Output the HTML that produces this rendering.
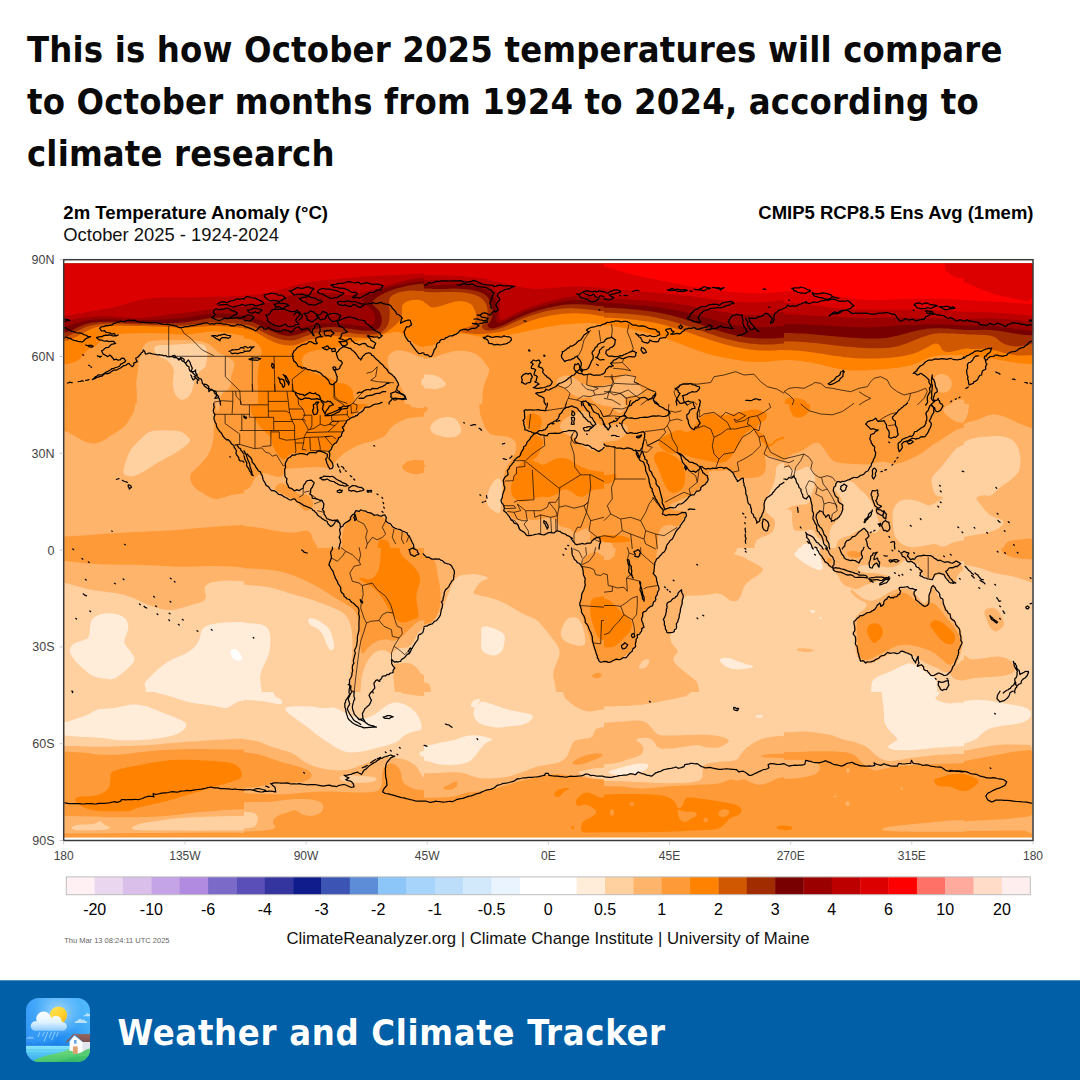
<!DOCTYPE html>
<html lang="en">
<head>
<meta charset="utf-8">
<title>Weather and Climate Tracker</title>
<style>
*{box-sizing:border-box;margin:0;padding:0}
html,body{width:1080px;height:1080px;overflow:hidden;background:#fff}
body{position:relative;font-family:"Liberation Sans",sans-serif;color:#000}
.headline{position:absolute;left:27px;top:23.6px;width:1040px;font-family:"DejaVu Sans Condensed","DejaVu Sans","Liberation Sans",sans-serif;font-weight:bold;font-size:36px;line-height:52px;letter-spacing:0.17px;color:#0a0a0a;white-space:nowrap}
.chart{position:absolute;left:0;top:190px;width:1080px;height:790px}
.chart svg{position:absolute;left:0;top:-190px}
.footer{position:absolute;left:0;top:980px;width:1080px;height:100px;background:#005fa6;border-top:1px solid #4d8fc0}
.footer .brand{position:absolute;left:117.5px;top:25.5px;letter-spacing:0.7px;font-family:"DejaVu Sans Condensed","DejaVu Sans","Liberation Sans",sans-serif;font-weight:bold;font-size:36px;line-height:52px;color:#fff;white-space:nowrap}
.footer svg{position:absolute;left:26px;top:17.3px}
</style>
</head>
<body>
<div class="headline">This is how October 2025 temperatures will compare<br>to October months from 1924 to 2024, according to<br>climate research</div>
<div class="chart">
<svg width="1080" height="1080" viewBox="0 0 1080 1080" font-family="Liberation Sans, sans-serif">
<defs>
<clipPath id="mapclip"><rect x="64.3" y="263.8" width="968" height="573.4"/></clipPath>
</defs>
<defs><clipPath id="c00"><rect x="64" y="260" width="180" height="144"/></clipPath><clipPath id="c01"><rect x="244" y="260" width="180" height="144"/></clipPath><clipPath id="c02"><rect x="424" y="260" width="180" height="144"/></clipPath><clipPath id="c03"><rect x="604" y="260" width="180" height="144"/></clipPath><clipPath id="c04"><rect x="784" y="260" width="180" height="144"/></clipPath><clipPath id="c05"><rect x="964" y="260" width="116" height="144"/></clipPath><clipPath id="c10"><rect x="64" y="404" width="180" height="144"/></clipPath><clipPath id="c11"><rect x="244" y="404" width="180" height="144"/></clipPath><clipPath id="c12"><rect x="424" y="404" width="180" height="144"/></clipPath><clipPath id="c13"><rect x="604" y="404" width="180" height="144"/></clipPath><clipPath id="c14"><rect x="784" y="404" width="180" height="144"/></clipPath><clipPath id="c15"><rect x="964" y="404" width="116" height="144"/></clipPath><clipPath id="c20"><rect x="64" y="548" width="180" height="144"/></clipPath><clipPath id="c21"><rect x="244" y="548" width="180" height="144"/></clipPath><clipPath id="c22"><rect x="424" y="548" width="180" height="144"/></clipPath><clipPath id="c23"><rect x="604" y="548" width="180" height="144"/></clipPath><clipPath id="c24"><rect x="784" y="548" width="180" height="144"/></clipPath><clipPath id="c25"><rect x="964" y="548" width="116" height="144"/></clipPath><clipPath id="c30"><rect x="64" y="692" width="180" height="154"/></clipPath><clipPath id="c31"><rect x="244" y="692" width="180" height="154"/></clipPath><clipPath id="c32"><rect x="424" y="692" width="180" height="154"/></clipPath><clipPath id="c33"><rect x="604" y="692" width="180" height="154"/></clipPath><clipPath id="c34"><rect x="784" y="692" width="180" height="154"/></clipPath><clipPath id="c35"><rect x="964" y="692" width="116" height="154"/></clipPath></defs>
<g clip-path="url(#mapclip)">
<rect x="60" y="258" width="980" height="585" fill="#ffb46c"/>
<g clip-path="url(#c00)">
<rect x="64" y="260" width="180" height="154" fill="#ff9a38"/>
<path d="M20.7,272.2 20.7,309.2 23.4,336.9 28.8,355.4 36.9,364.7 47.8,364.7 56.5,364.5 63.2,364.3 67.8,363.9 70.2,363.3 72.5,362.6 74.6,361.9 76.5,360.9 78.2,359.9 79.6,358.8 80.9,357.7 81.9,356.5 82.8,355.2 83.7,354.0 84.7,352.7 85.9,351.5 87.1,350.2 88.5,349.2 89.9,348.3 91.5,347.7 93.2,347.3 94.7,346.7 96.0,345.8 97.2,344.8 98.3,343.5 99.3,342.3 100.4,341.0 101.4,339.8 102.4,338.5 103.8,337.4 105.6,336.5 107.8,335.7 110.2,335.1 113.2,334.6 116.5,334.2 120.2,333.9 124.4,333.6 128.6,333.5 132.8,333.3 136.9,333.2 141.1,333.1 145.5,333.1 150.0,333.1 154.8,333.1 159.8,333.2 164.4,333.4 168.6,333.6 172.3,334.0 175.7,334.4 179.2,334.6 183.0,334.6 186.9,334.4 191.1,334.0 195.2,333.5 199.4,333.0 203.6,332.4 207.8,331.8 211.9,331.5 216.1,331.5 220.2,331.8 224.4,332.4 228.4,333.0 232.1,333.6 235.7,334.3 239.0,334.9 244.2,335.4 251.3,335.7 260.2,335.8 271.1,335.8 279.2,328.4 284.6,313.5 287.3,291.1 287.3,261.4 270.7,239.0 237.3,224.1 187.3,216.7 120.7,216.7 70.7,225.9 37.3,244.4Z" fill="#ff8200"/>
<path d="M20.7,263.5 20.7,294.8 23.4,318.2 28.8,333.9 36.9,341.7 47.8,341.7 56.5,341.5 63.2,341.0 67.8,340.4 70.2,339.6 72.6,338.6 74.9,337.6 77.1,336.5 79.2,335.2 81.3,334.0 83.4,332.9 85.5,331.8 87.5,330.7 89.5,329.8 91.4,329.0 93.2,328.2 94.8,327.6 96.7,327.1 98.8,326.7 101.1,326.4 103.6,326.1 106.9,326.0 111.1,325.9 116.1,325.8 121.9,325.8 127.5,325.9 133.0,325.9 138.2,326.0 143.2,326.1 148.0,326.3 152.5,326.4 156.9,326.5 161.1,326.5 165.0,326.7 168.8,326.9 172.3,327.2 175.7,327.5 179.2,327.7 183.0,327.7 186.9,327.5 191.1,327.2 195.2,326.9 199.4,326.6 203.6,326.4 207.8,326.1 211.9,326.0 216.1,326.0 220.2,326.1 224.4,326.4 228.4,326.6 232.1,326.9 235.7,327.3 239.0,327.7 244.2,328.0 251.3,328.2 260.2,328.3 271.1,328.3 279.2,321.4 284.6,307.4 287.3,286.5 287.3,258.5 270.7,237.6 237.3,223.6 187.3,216.7 120.7,216.7 70.7,224.5 37.3,240.1Z" fill="#d05800"/>
<path d="M20.7,262.0 20.7,292.2 23.4,314.8 28.8,329.9 36.9,337.5 47.8,337.5 56.4,337.3 62.9,336.9 67.1,336.2 69.2,335.4 71.3,334.5 73.4,333.4 75.5,332.3 77.5,331.0 79.6,329.9 81.7,328.9 83.8,327.9 85.9,327.1 88.0,326.4 90.0,325.7 92.1,325.2 94.2,324.8 96.8,324.4 99.9,324.1 103.6,323.7 107.8,323.4 111.9,323.3 116.1,323.3 120.2,323.4 124.4,323.7 128.8,324.0 133.4,324.2 138.2,324.4 143.2,324.5 148.0,324.6 152.5,324.8 156.9,324.9 161.1,325.1 165.0,325.2 168.8,325.4 172.3,325.5 175.7,325.6 179.2,325.6 183.0,325.5 186.9,325.2 191.1,324.8 195.2,324.3 199.4,323.9 203.6,323.4 207.8,322.8 211.9,322.5 216.1,322.3 220.2,322.4 224.4,322.6 228.4,322.9 232.1,323.2 235.7,323.4 239.0,323.7 244.2,323.9 251.3,324.1 260.2,324.2 271.1,324.2 279.2,317.4 284.6,304.0 287.3,283.9 287.3,257.0 270.7,236.8 237.3,223.4 187.3,216.7 120.7,216.7 70.7,224.2 37.3,239.3Z" fill="#a02c00"/>
<path d="M20.7,260.4 20.7,289.6 23.4,311.5 28.8,326.0 36.9,333.3 47.8,333.3 56.4,333.1 62.9,332.7 67.1,332.1 69.2,331.2 71.3,330.4 73.4,329.4 75.5,328.4 77.5,327.4 79.6,326.4 81.7,325.6 83.8,324.8 85.9,324.1 88.0,323.5 90.0,323.0 92.1,322.6 94.2,322.4 96.8,322.2 99.9,322.0 103.6,321.9 107.8,321.8 111.9,321.8 116.1,321.8 120.2,322.0 124.4,322.2 128.8,322.4 133.4,322.5 138.2,322.7 143.2,322.8 148.0,322.9 152.5,323.0 156.9,323.0 161.1,323.0 165.0,323.0 168.8,323.0 172.3,323.0 175.7,323.0 179.2,322.8 183.0,322.5 186.9,322.0 191.1,321.3 195.2,320.7 199.4,320.0 203.6,319.3 207.8,318.6 211.9,318.1 216.1,317.8 220.2,317.8 224.4,318.0 228.4,318.3 232.1,318.6 235.7,319.0 239.0,319.4 244.2,319.7 251.3,319.9 260.2,320.0 271.1,320.0 279.2,313.5 284.6,300.6 287.3,281.2 287.3,255.4 270.7,236.0 237.3,223.1 187.3,216.7 120.7,216.7 70.7,224.0 37.3,238.5Z" fill="#780000"/>
<path d="M20.7,257.9 20.7,285.4 23.4,306.0 28.8,319.8 36.9,326.7 47.8,326.7 56.5,326.5 63.2,326.2 67.8,325.7 70.2,325.1 72.8,324.4 75.2,323.7 77.8,322.9 80.2,322.1 83.0,321.4 85.9,320.7 89.0,320.2 92.3,319.8 95.9,319.5 99.6,319.3 103.6,319.2 107.8,319.2 111.9,319.2 116.1,319.4 120.2,319.6 124.4,319.9 128.8,320.1 133.4,320.3 138.2,320.3 143.2,320.3 148.0,320.3 152.5,320.1 156.9,319.9 161.1,319.6 165.0,319.3 168.8,319.1 172.3,318.9 175.7,318.6 179.2,318.3 183.0,317.9 186.9,317.4 191.1,316.8 195.2,316.1 199.4,315.5 203.6,314.8 207.8,314.1 211.9,313.6 216.1,313.4 220.2,313.4 224.4,313.7 228.4,314.1 232.1,314.4 235.7,314.8 239.0,315.2 244.2,315.5 251.3,315.7 260.2,315.8 271.1,315.8 279.2,309.6 284.6,297.2 287.3,278.6 287.3,253.9 270.7,235.3 237.3,222.9 187.3,216.7 120.7,216.7 70.7,223.5 37.3,237.3Z" fill="#9a0000"/>
<path d="M20.7,256.0 20.7,282.3 23.4,302.0 28.8,315.1 36.9,321.7 47.8,321.7 56.7,321.5 63.8,321.0 69.0,320.4 72.3,319.6 75.7,318.9 79.0,318.2 82.3,317.7 85.7,317.3 89.1,316.9 92.6,316.6 96.3,316.4 100.0,316.1 103.9,316.1 107.9,316.2 111.9,316.5 116.1,316.9 120.2,317.2 124.4,317.6 128.6,317.8 132.8,318.0 136.9,318.1 141.1,318.0 145.2,317.7 149.4,317.3 153.6,316.8 157.8,316.3 161.9,315.7 166.1,315.1 170.2,314.5 174.4,314.0 178.6,313.5 182.8,313.1 186.9,312.7 191.1,312.1 195.2,311.6 199.4,310.9 203.6,310.4 207.8,309.8 211.9,309.4 216.1,309.0 220.6,308.5 225.4,308.1 230.5,307.7 235.9,307.3 242.6,307.0 250.8,306.8 260.2,306.7 271.1,306.7 279.2,301.0 284.6,289.8 287.3,272.9 287.3,250.4 270.7,233.5 237.3,222.3 187.3,216.7 120.7,216.7 70.7,223.2 37.3,236.4Z" fill="#bc0000"/>
<path d="M20.7,253.9 20.7,278.6 23.4,297.2 28.8,309.6 36.9,315.8 47.8,315.8 56.9,315.7 64.4,315.4 70.2,314.9 74.4,314.3 78.6,313.6 82.8,312.9 86.9,312.1 91.1,311.2 95.2,310.5 99.4,309.7 103.6,309.1 107.8,308.4 111.9,307.7 116.1,306.7 120.2,305.6 124.4,304.4 128.3,303.2 131.8,302.2 135.0,301.2 138.0,300.4 141.5,299.7 145.7,299.0 150.5,298.4 155.9,297.8 161.5,297.4 167.3,297.2 173.4,297.2 179.6,297.3 185.9,297.4 192.1,297.3 198.4,297.2 204.6,297.0 211.2,296.8 218.1,296.6 225.2,296.4 232.8,296.1 241.1,296.0 250.2,295.9 260.2,295.8 271.1,295.8 279.2,290.9 284.6,281.0 287.3,266.1 287.3,246.4 270.7,231.5 237.3,221.6 187.3,216.7 120.7,216.7 70.7,222.9 37.3,235.3Z" fill="#dc0000"/>
<path d="M144.1,345.3 145.1,343.9 146.6,342.7 148.4,341.8 150.7,341.2 153.3,340.8 156.0,340.6 158.6,340.4 161.1,340.2 163.7,340.1 166.9,340.1 170.8,340.0 175.3,340.0 180.5,340.0 185.5,340.1 190.2,340.3 194.6,340.6 198.8,341.0 202.4,341.7 205.5,342.7 208.1,343.9 210.2,345.3 212.1,346.8 213.9,348.2 215.5,349.7 216.9,351.1 218.5,352.4 220.2,353.6 222.1,354.6 224.2,355.4 226.2,356.4 228.2,357.4 230.1,358.5 232.0,359.8 233.4,361.1 234.2,362.6 234.5,364.2 234.3,365.8 233.9,367.6 233.4,369.5 232.8,371.5 231.9,373.5 231.3,375.6 231.0,377.6 231.0,379.5 231.2,381.4 231.1,383.1 230.8,384.8 230.2,386.4 229.4,387.8 228.4,389.1 227.3,390.3 226.0,391.2 224.5,392.1 223.3,393.0 222.2,394.1 221.4,395.2 220.8,396.5 220.2,400.2 219.8,406.5 219.5,415.2 219.3,426.5 214.0,434.9 203.6,440.5 188.1,443.3 167.4,443.3 152.0,440.2 141.8,434.0 136.7,424.6 136.8,412.1 136.8,402.1 136.8,394.6 136.6,389.6 136.4,387.1 136.3,384.7 136.3,382.4 136.5,380.2 136.8,378.1 137.1,376.1 137.4,374.3 137.7,372.5 138.0,370.8 138.2,369.1 138.3,367.2 138.5,365.2 138.5,363.1 138.7,361.1 139.0,359.3 139.4,357.5 139.9,355.8 140.4,354.2 140.9,352.7 141.4,351.1 141.8,349.7 142.4,348.2 143.2,346.8Z" fill="#ffb46c"/>
<path d="M159.2,345.2 162.5,345.1 165.8,345.0 169.0,344.9 172.2,344.7 175.3,344.5 178.7,344.3 182.3,344.1 186.2,343.9 190.4,343.6 194.1,343.6 197.2,343.7 199.8,344.0 201.9,344.4 203.6,345.1 204.9,346.1 205.9,347.5 206.6,349.2 207.0,350.9 207.2,352.8 207.3,354.8 207.2,356.9 207.0,359.0 206.7,361.0 206.2,363.1 205.8,365.2 205.0,366.9 204.0,368.3 202.8,369.3 201.4,369.9 199.9,371.0 198.6,372.7 197.3,374.9 196.0,377.6 195.0,380.1 194.2,382.4 193.5,384.5 193.1,386.4 192.7,388.2 192.1,389.9 191.6,391.7 190.9,393.3 190.1,394.8 189.0,396.2 187.8,397.4 186.2,398.4 184.8,399.2 183.4,399.6 182.1,399.7 180.9,399.5 179.6,399.0 178.4,398.1 177.2,397.0 176.1,395.5 175.1,393.9 174.3,392.1 173.6,390.2 173.2,388.1 172.9,386.0 172.8,384.0 172.8,381.9 173.0,379.8 173.2,377.7 173.4,375.6 173.6,373.5 173.9,371.5 173.6,369.4 172.9,367.3 171.7,365.2 170.0,363.1 168.2,361.4 166.4,359.9 164.4,358.8 162.3,357.9 160.4,357.0 158.8,355.9 157.3,354.8 156.0,353.5 155.1,352.2 154.5,350.8 154.2,349.3 154.2,347.7 155.0,346.5 156.7,345.7Z" fill="#ffd0a0"/>
</g>
<g clip-path="url(#c01)">
<rect x="244" y="260" width="180" height="154" fill="#ff8200"/>
<path d="M200.7,258.5 200.7,286.5 203.4,307.4 208.8,321.4 216.9,328.3 227.8,328.3 236.5,328.5 243.2,328.8 247.8,329.3 250.2,329.9 252.5,330.6 254.6,331.5 256.5,332.4 258.2,333.4 259.9,334.5 261.8,335.7 263.8,336.9 265.9,338.1 268.2,339.4 270.7,340.6 273.4,341.9 276.3,343.1 279.3,344.1 282.4,344.8 285.7,345.3 289.0,345.5 292.0,345.5 294.7,345.2 297.1,344.6 299.2,343.8 301.3,342.9 303.4,342.1 305.5,341.2 307.5,340.4 309.6,339.7 311.7,339.2 313.8,338.9 315.9,338.6 318.2,338.3 320.7,337.9 323.4,337.4 326.3,336.8 329.3,336.4 332.4,336.1 335.7,336.1 339.0,336.4 342.3,336.6 345.7,336.8 349.0,337.0 352.3,337.2 355.7,337.4 359.0,337.6 362.3,337.8 365.7,338.0 368.8,338.0 371.7,337.7 374.4,337.1 376.9,336.2 379.2,335.4 381.3,334.6 383.2,333.8 384.8,332.9 386.6,331.9 388.3,330.8 390.1,329.5 392.0,328.0 393.8,326.6 395.5,325.1 397.0,323.6 398.5,322.2 399.7,320.6 400.6,318.8 401.3,316.9 401.7,314.8 402.0,312.8 402.1,310.8 402.1,309.0 402.0,307.2 402.3,305.6 403.1,304.2 404.3,303.0 406.0,302.0 407.9,301.2 410.1,300.6 412.6,300.1 415.4,299.9 417.7,299.8 419.7,300.0 421.2,300.4 422.3,301.1 425.9,301.5 431.8,301.8 440.2,302.0 451.1,302.0 459.2,296.7 464.6,286.0 467.3,270.0 467.3,248.7 450.7,232.7 417.3,222.0 367.3,216.7 300.7,216.7 250.7,223.6 217.3,237.6Z" fill="#d05800"/>
<path d="M200.7,257.0 200.7,283.9 203.4,304.0 208.8,317.4 216.9,324.2 227.8,324.2 236.5,324.3 243.2,324.6 247.8,325.1 250.2,325.7 252.5,326.5 254.6,327.3 256.5,328.2 258.2,329.3 260.0,330.4 262.1,331.5 264.4,332.7 266.9,334.0 269.5,335.2 272.2,336.3 275.0,337.4 278.0,338.4 280.9,339.3 283.8,339.9 286.7,340.3 289.6,340.5 292.4,340.4 295.1,340.0 297.8,339.3 300.2,338.2 302.8,337.2 305.2,336.3 307.8,335.4 310.2,334.6 313.0,333.9 315.9,333.2 319.0,332.7 322.3,332.3 325.9,332.0 329.6,331.9 333.6,332.0 337.8,332.2 341.9,332.4 346.1,332.8 350.2,333.1 354.4,333.5 358.4,333.9 362.1,334.2 365.7,334.5 369.0,334.7 372.0,334.6 374.7,334.3 377.1,333.8 379.2,332.9 381.1,332.0 382.8,330.9 384.2,329.8 385.5,328.5 386.5,327.2 387.4,325.7 388.1,324.2 388.7,322.5 389.1,320.6 389.4,318.5 389.6,316.2 389.7,313.8 389.7,311.4 389.6,309.1 389.4,306.9 389.1,304.8 389.0,302.9 389.1,301.1 389.4,299.5 389.9,298.0 390.8,296.7 392.1,295.5 393.8,294.4 395.9,293.4 398.2,292.6 400.7,291.9 403.4,291.4 406.3,291.0 409.3,290.7 412.4,290.6 415.7,290.7 419.0,291.0 424.2,291.1 431.3,291.3 440.2,291.3 451.1,291.3 459.2,286.7 464.6,277.3 467.3,263.3 467.3,244.7 450.7,230.7 417.3,221.3 367.3,216.7 300.7,216.7 250.7,223.4 217.3,236.8Z" fill="#a02c00"/>
<path d="M200.7,255.4 200.7,281.2 203.4,300.6 208.8,313.5 216.9,320.0 227.8,320.0 236.5,320.2 243.2,320.5 247.8,320.9 250.2,321.6 252.6,322.3 254.9,323.1 257.1,324.1 259.2,325.1 261.4,326.2 263.7,327.3 266.1,328.5 268.6,329.8 271.2,331.0 273.9,332.1 276.7,333.2 279.6,334.3 282.4,335.1 285.1,335.6 287.8,335.8 290.2,335.8 292.9,335.6 295.6,335.1 298.4,334.3 301.3,333.2 304.2,332.2 307.1,331.3 310.0,330.4 313.0,329.6 316.0,328.9 319.1,328.2 322.3,327.7 325.7,327.3 329.2,327.1 333.0,327.1 336.9,327.3 341.1,327.7 345.2,328.2 349.4,328.7 353.6,329.3 357.8,329.9 361.6,330.4 365.1,330.7 368.4,330.8 371.3,330.8 373.8,330.6 375.9,330.1 377.5,329.3 378.8,328.2 379.8,326.9 380.7,325.4 381.3,323.5 381.7,321.5 381.8,319.4 381.6,317.3 381.1,315.2 380.2,313.1 379.1,311.1 377.6,309.3 375.9,307.5 373.8,305.8 372.6,304.2 372.4,302.5 373.2,300.8 374.8,299.2 376.9,297.5 379.4,295.8 382.3,294.2 385.7,292.5 389.4,290.9 393.6,289.5 398.2,288.1 403.2,286.9 407.8,285.8 411.9,285.0 415.7,284.4 419.0,284.0 424.2,283.6 431.3,283.4 440.2,283.3 451.1,283.3 459.2,279.2 464.6,270.8 467.3,258.3 467.3,241.7 450.7,229.2 417.3,220.8 367.3,216.7 300.7,216.7 250.7,223.1 217.3,236.0Z" fill="#780000"/>
<path d="M200.7,253.9 200.7,278.6 203.4,297.2 208.8,309.6 216.9,315.8 227.8,315.8 236.7,316.0 243.8,316.3 249.0,316.8 252.3,317.4 255.6,318.2 258.7,319.1 261.7,320.2 264.6,321.5 267.6,322.8 270.8,324.3 274.0,325.8 277.3,327.5 280.6,328.8 283.7,329.7 286.7,330.3 289.6,330.5 292.5,330.4 295.5,330.0 298.4,329.3 301.3,328.2 304.2,327.2 307.1,326.3 310.0,325.4 313.0,324.6 316.0,323.9 319.1,323.4 322.3,323.0 325.7,322.8 329.2,322.8 333.0,322.9 336.9,323.1 341.1,323.5 345.2,324.0 349.4,324.5 353.6,325.1 357.8,325.7 361.4,326.1 364.5,326.4 367.1,326.4 369.2,326.1 371.0,325.6 372.4,324.8 373.6,323.6 374.4,322.2 374.9,320.6 375.1,318.8 375.0,316.9 374.6,314.8 373.9,312.8 372.9,310.9 371.5,309.2 369.8,307.5 368.2,305.9 366.5,304.5 364.8,303.1 363.2,301.9 362.5,300.5 363.0,299.1 364.4,297.5 366.9,295.8 369.8,294.2 373.2,292.7 376.9,291.1 381.1,289.7 385.7,288.3 390.7,286.9 396.1,285.6 401.9,284.4 407.1,283.3 411.7,282.5 415.7,281.9 419.0,281.5 424.2,281.1 431.3,280.9 440.2,280.8 451.1,280.8 459.2,276.8 464.6,268.8 467.3,256.8 467.3,240.7 450.7,228.7 417.3,220.7 367.3,216.7 300.7,216.7 250.7,222.9 217.3,235.3Z" fill="#9a0000"/>
<path d="M200.7,250.4 200.7,272.9 203.4,289.8 208.8,301.0 216.9,306.7 227.8,306.7 236.9,306.5 244.4,306.2 250.2,305.7 254.4,305.1 258.6,304.4 262.8,303.5 266.9,302.6 271.1,301.6 274.9,300.5 278.5,299.5 281.7,298.4 284.6,297.4 287.6,296.5 290.8,295.6 294.0,294.9 297.3,294.3 300.9,293.8 304.6,293.3 308.6,293.0 312.8,292.8 317.0,292.7 321.4,292.7 325.9,292.8 330.5,293.0 334.7,293.3 338.7,293.8 342.3,294.3 345.7,294.9 348.8,295.2 351.7,295.2 354.4,294.9 356.9,294.3 359.8,293.5 363.2,292.6 366.9,291.5 371.1,290.2 375.2,289.0 379.4,287.7 383.6,286.5 387.8,285.2 391.9,284.0 396.1,282.9 400.2,281.8 404.4,280.7 408.4,279.8 412.1,279.1 415.7,278.5 419.0,278.1 424.2,277.8 431.3,277.6 440.2,277.5 451.1,277.5 459.2,273.7 464.6,266.1 467.3,254.7 467.3,239.5 450.7,228.1 417.3,220.5 367.3,216.7 300.7,216.7 250.7,222.3 217.3,233.5Z" fill="#bc0000"/>
<path d="M200.7,246.4 200.7,266.1 203.4,281.0 208.8,290.9 216.9,295.8 227.8,295.8 236.9,295.7 244.4,295.5 250.2,295.2 254.4,294.8 258.6,294.3 262.8,293.6 266.9,292.9 271.1,292.1 275.2,291.1 279.4,289.9 283.6,288.6 287.8,287.2 291.9,285.9 296.1,284.7 300.2,283.8 304.4,282.9 308.6,282.2 312.8,281.6 316.9,281.0 321.1,280.6 325.2,280.2 329.4,279.8 333.6,279.4 337.8,279.0 341.9,278.5 346.1,278.1 350.2,277.7 354.4,277.3 358.6,276.9 362.8,276.6 366.9,276.4 371.1,276.1 375.2,275.9 379.4,275.7 383.6,275.5 387.8,275.3 391.9,275.1 396.1,274.9 400.2,274.7 404.4,274.5 408.4,274.3 412.1,274.1 415.7,273.9 419.0,273.6 424.2,273.5 431.3,273.4 440.2,273.3 451.1,273.3 459.2,269.8 464.6,262.7 467.3,252.1 467.3,237.9 450.7,227.3 417.3,220.2 367.3,216.7 300.7,216.7 250.7,221.6 217.3,231.5Z" fill="#dc0000"/>
<path d="M223.6,336.8 234.4,337.4 243.0,338.2 249.2,339.1 253.2,340.2 254.8,341.5 256.4,342.8 257.9,344.3 259.2,345.8 260.5,347.5 261.3,349.2 261.7,350.8 261.7,352.5 261.3,354.2 260.8,356.1 260.3,358.4 259.7,361.0 259.1,364.0 258.6,366.9 258.2,369.8 257.9,372.7 257.6,375.6 257.6,378.5 257.6,381.5 257.7,384.4 258.0,387.3 258.0,392.5 257.9,400.0 257.6,409.8 257.2,421.9 253.8,430.9 247.4,437.0 238.1,440.0 225.8,440.0 216.6,433.5 210.4,420.5 207.3,400.9 207.3,374.9 210.0,355.5 215.5,342.8Z" fill="#ff9a38"/>
<path d="M302.4,357.8 303.1,356.4 304.1,355.1 305.4,353.9 307.1,352.9 309.2,352.1 311.4,351.4 313.7,350.7 316.1,350.2 318.6,349.8 321.2,349.4 323.9,349.1 326.7,348.9 329.6,348.6 332.4,348.3 335.1,347.8 337.8,347.1 340.2,346.2 342.8,345.4 345.2,344.6 347.8,343.8 350.2,342.9 352.8,342.2 355.2,341.6 357.8,341.0 360.2,340.6 362.8,340.2 365.2,339.8 367.8,339.4 370.2,339.0 372.6,338.4 374.9,337.8 377.1,337.1 379.2,336.2 381.3,335.5 383.4,334.7 385.5,334.1 387.5,333.4 389.6,332.9 391.7,332.5 393.8,332.2 395.9,332.0 397.7,332.0 399.3,332.2 400.6,332.6 401.6,333.2 402.6,333.9 403.5,334.5 404.4,335.1 405.2,335.7 406.3,336.6 407.5,337.6 408.9,338.9 410.5,340.3 412.2,341.8 414.1,343.2 416.2,344.6 418.5,345.9 422.6,347.0 428.6,347.9 436.4,348.4 446.1,348.7 453.4,354.8 458.2,366.8 460.7,384.5 460.7,408.0 454.1,425.7 441.0,437.4 421.3,443.3 395.0,443.3 375.2,440.2 361.9,434.0 355.0,424.6 354.6,412.1 354.1,402.3 353.5,395.2 352.8,390.8 351.9,389.2 350.9,387.7 349.6,386.5 348.2,385.4 346.5,384.6 344.8,384.0 343.2,383.5 341.5,383.3 339.8,383.3 338.4,383.1 337.1,382.7 336.1,382.1 335.2,381.2 334.2,380.4 333.0,379.6 331.5,378.8 329.8,377.9 328.1,377.2 326.2,376.6 324.2,376.0 322.1,375.6 320.0,375.1 318.0,374.5 315.9,373.8 313.8,372.9 311.8,372.0 309.8,370.9 307.9,369.8 306.0,368.5 304.5,367.2 303.3,365.7 302.5,364.2 302.1,362.5 302.0,360.9 302.1,359.3Z" fill="#ff9a38"/>
<path d="M445.2,359.2 434.9,358.6 426.8,358.0 420.8,357.1 417.0,356.1 415.3,355.0 413.3,354.0 411.0,353.0 408.3,352.1 405.2,351.2 402.5,350.7 400.2,350.4 398.2,350.3 396.5,350.5 394.9,350.9 393.3,351.6 391.8,352.4 390.4,353.4 389.2,354.7 388.4,356.3 387.9,358.1 387.6,360.2 387.7,362.4 388.0,364.7 388.6,367.1 389.4,369.6 390.5,371.9 391.7,374.0 393.2,375.8 394.8,377.5 396.3,379.2 397.5,380.8 398.6,382.5 399.4,384.2 400.2,385.8 401.1,387.5 401.9,389.2 402.8,390.8 403.6,395.0 404.6,401.7 405.6,410.8 406.6,422.5 410.7,431.2 417.8,437.1 427.9,440.0 441.0,440.0 450.8,435.0 457.4,425.0 460.7,410.0 460.7,390.0 458.1,374.9 452.9,364.6Z" fill="#ffb46c"/>
<path d="M446.6,375.6 437.2,376.0 430.1,376.7 425.1,377.5 422.4,378.5 421.8,379.8 421.4,381.0 421.2,382.3 421.2,383.5 421.3,384.8 423.9,385.9 428.8,386.8 436.2,387.6 446.0,388.2 453.3,387.8 458.2,386.4 460.7,383.9 460.7,380.3 458.3,377.8 453.6,376.2Z" fill="#ffd0a0"/>
</g>
<g clip-path="url(#c02)">
<rect x="424" y="260" width="180" height="154" fill="#ff9a38"/>
<path d="M380.7,265.4 380.7,297.9 383.4,322.3 388.8,338.5 396.9,346.7 407.8,346.7 416.5,346.6 423.2,346.4 427.8,346.0 430.2,345.6 432.5,345.0 434.6,344.2 436.5,343.1 438.2,341.9 439.9,340.6 441.8,339.4 443.8,338.1 445.9,336.9 448.0,335.8 450.0,335.0 452.1,334.4 454.2,334.0 456.4,333.7 458.7,333.6 461.1,333.6 463.6,333.9 466.2,334.2 468.9,334.6 471.7,335.1 474.6,335.7 477.5,336.2 480.5,336.7 483.4,337.0 486.3,337.2 489.3,337.2 492.4,337.1 495.7,336.9 499.0,336.5 502.3,336.0 505.7,335.5 509.0,334.9 512.3,334.3 515.8,333.6 519.3,332.9 523.0,332.1 526.7,331.2 530.6,330.4 534.5,329.6 538.6,328.8 542.8,327.9 546.9,327.1 551.1,326.4 555.2,325.7 559.4,325.1 563.6,324.6 567.8,324.2 571.9,323.9 576.1,323.6 579.7,323.5 582.9,323.3 585.5,323.2 587.5,323.1 589.9,323.1 592.6,323.2 595.7,323.4 599.0,323.7 604.2,323.9 611.3,324.1 620.2,324.2 631.1,324.2 639.2,317.4 644.6,304.0 647.3,283.9 647.3,257.0 630.7,236.8 597.3,223.4 547.3,216.7 480.7,216.7 430.7,224.8 397.3,241.0Z" fill="#ff8200"/>
<path d="M380.7,248.9 380.7,270.3 383.4,286.4 388.8,297.1 396.9,302.5 407.8,302.5 416.0,302.6 421.7,302.7 424.8,302.8 425.4,303.0 426.0,303.5 426.9,304.1 427.9,305.0 429.0,306.1 430.4,306.9 432.0,307.3 434.0,307.4 436.2,307.1 438.4,306.7 440.6,306.1 442.9,305.4 445.1,304.6 447.5,303.8 450.0,303.0 452.6,302.3 455.4,301.6 458.1,301.2 460.9,301.1 463.7,301.4 466.5,302.1 468.9,303.0 470.8,304.2 472.4,305.6 473.5,307.4 474.4,309.2 475.1,311.0 475.7,312.9 476.0,314.9 476.1,316.8 475.9,318.5 475.6,320.2 474.9,321.8 474.1,323.2 472.9,324.4 471.5,325.4 469.8,326.2 468.3,327.0 466.8,327.6 465.5,328.1 464.2,328.5 463.1,329.0 462.0,329.5 461.1,330.1 460.2,330.7 460.1,331.3 460.8,331.8 462.1,332.3 464.2,332.7 466.5,333.1 469.0,333.4 471.7,333.6 474.6,333.9 477.5,334.0 480.5,334.0 483.4,333.9 486.3,333.6 489.2,333.4 492.1,333.1 495.0,332.7 498.0,332.3 500.9,331.7 503.8,331.0 506.7,330.1 509.6,329.1 512.6,327.9 515.8,326.7 519.0,325.4 522.3,324.1 525.7,322.8 529.0,321.5 532.3,320.3 535.7,319.2 539.2,318.1 543.0,317.2 546.9,316.2 551.1,315.4 555.2,314.7 559.4,314.2 563.6,313.7 567.8,313.4 571.9,313.3 576.1,313.3 580.2,313.4 584.4,313.7 588.4,314.1 592.1,314.6 595.7,315.1 599.0,315.7 604.2,316.2 611.3,316.5 620.2,316.7 631.1,316.7 639.2,310.4 644.6,297.9 647.3,279.2 647.3,254.2 630.7,235.4 597.3,222.9 547.3,216.7 480.7,216.7 430.7,222.0 397.3,232.8Z" fill="#d05800"/>
<path d="M380.7,244.8 380.7,263.5 383.4,277.6 388.8,287.0 396.9,291.7 407.8,291.7 416.5,291.7 423.2,291.8 427.8,292.0 430.2,292.2 433.1,292.3 436.2,292.3 439.6,292.2 443.4,292.0 447.2,291.9 451.2,291.9 455.2,292.0 459.4,292.2 463.4,292.6 467.1,293.1 470.7,293.8 474.0,294.6 477.0,295.7 479.6,297.0 481.8,298.6 483.7,300.5 485.2,302.6 486.3,304.7 487.1,307.1 487.5,309.6 487.7,312.0 487.6,314.3 487.2,316.5 486.6,318.5 485.8,320.4 484.9,322.1 483.8,323.5 482.5,324.8 481.9,326.0 481.9,327.1 482.5,328.2 483.8,329.3 485.4,330.0 487.2,330.4 489.4,330.5 491.9,330.3 494.5,329.9 497.2,329.3 500.0,328.4 503.0,327.4 505.9,326.2 508.8,325.0 511.7,323.6 514.6,322.2 517.6,320.8 520.8,319.4 524.0,318.1 527.3,316.9 530.9,315.6 534.6,314.4 538.6,313.2 542.8,312.1 546.9,311.1 551.1,310.2 555.2,309.5 559.4,308.9 563.6,308.5 567.8,308.3 571.9,308.2 576.1,308.4 580.6,308.7 585.4,309.2 590.5,309.8 595.9,310.5 602.6,311.1 610.8,311.5 620.2,311.7 631.1,311.7 639.2,305.7 644.6,293.9 647.3,276.0 647.3,252.3 630.7,234.5 597.3,222.6 547.3,216.7 480.7,216.7 430.7,221.4 397.3,230.7Z" fill="#a02c00"/>
<path d="M380.7,243.5 380.7,261.5 383.4,274.9 388.8,283.9 396.9,288.3 407.8,288.3 416.9,288.4 424.4,288.5 430.2,288.6 434.4,288.9 438.6,289.0 442.8,289.0 446.9,288.9 451.1,288.6 455.2,288.6 459.4,288.7 463.6,289.0 467.8,289.4 471.6,289.9 475.1,290.7 478.4,291.6 481.3,292.6 483.8,294.0 486.0,295.6 487.9,297.6 489.3,299.9 490.5,302.2 491.4,304.6 492.1,307.1 492.5,309.6 492.7,312.0 492.6,314.3 492.2,316.5 491.6,318.5 490.9,320.4 490.0,321.9 489.1,323.2 488.1,324.3 487.5,325.2 487.5,326.1 488.1,326.9 489.1,327.6 490.3,328.1 491.7,328.3 493.2,328.2 494.8,327.9 496.7,327.5 498.8,326.8 501.1,325.9 503.6,324.9 506.2,323.8 508.9,322.5 511.7,321.1 514.6,319.7 517.6,318.2 520.8,316.8 524.0,315.4 527.3,314.1 530.9,312.8 534.6,311.5 538.6,310.3 542.8,309.2 546.9,308.1 551.1,307.2 555.2,306.2 559.4,305.4 563.6,304.8 567.8,304.4 571.9,304.2 576.1,304.2 580.6,304.3 585.4,304.6 590.5,305.1 595.9,305.7 602.6,306.2 610.8,306.5 620.2,306.7 631.1,306.7 639.2,301.0 644.6,289.8 647.3,272.9 647.3,250.4 630.7,233.5 597.3,222.3 547.3,216.7 480.7,216.7 430.7,221.1 397.3,230.1Z" fill="#780000"/>
<path d="M380.7,242.3 380.7,259.4 383.4,272.2 388.8,280.7 396.9,285.0 407.8,285.0 416.9,285.0 424.4,285.0 430.2,285.0 434.4,285.0 438.6,284.9 442.8,284.8 446.9,284.7 451.1,284.5 455.2,284.4 459.4,284.5 463.6,284.8 467.8,285.2 471.7,285.8 475.5,286.5 479.0,287.4 482.3,288.4 485.4,289.7 488.1,291.3 490.5,293.1 492.5,295.2 494.2,297.5 495.5,300.0 496.3,302.7 496.7,305.6 496.9,308.4 496.9,311.1 496.7,313.8 496.3,316.2 496.1,318.4 496.2,320.2 496.6,321.6 497.2,322.6 498.3,323.1 499.7,323.1 501.6,322.6 503.9,321.6 506.3,320.4 508.9,319.2 511.7,317.8 514.6,316.4 517.6,314.9 520.8,313.6 524.0,312.3 527.3,311.0 530.9,309.8 534.6,308.5 538.6,307.3 542.8,306.0 546.9,304.9 551.1,303.9 555.2,302.9 559.4,302.1 563.3,301.4 566.8,300.8 570.0,300.4 573.0,300.1 576.0,300.0 579.1,300.0 582.3,300.1 585.7,300.4 589.0,300.7 592.3,301.0 595.7,301.3 599.0,301.6 604.2,301.8 611.3,301.9 620.2,302.0 631.1,302.0 639.2,296.7 644.6,286.0 647.3,270.0 647.3,248.7 630.7,232.7 597.3,222.0 547.3,216.7 480.7,216.7 430.7,220.9 397.3,229.5Z" fill="#9a0000"/>
<path d="M380.7,240.4 380.7,256.2 383.4,268.1 388.8,276.0 396.9,280.0 407.8,280.0 416.9,280.0 424.4,279.9 430.2,279.9 434.4,279.8 438.6,279.7 442.8,279.7 446.9,279.7 451.1,279.7 455.2,279.8 459.4,280.0 463.6,280.4 467.8,280.9 471.9,281.6 476.1,282.5 480.2,283.5 484.4,284.8 488.0,286.1 491.0,287.6 493.5,289.2 495.4,290.8 496.9,292.7 498.0,294.8 498.8,297.1 499.2,299.6 499.5,302.2 499.6,304.9 499.5,307.7 499.3,310.6 499.3,313.2 499.4,315.4 499.6,317.2 500.0,318.6 500.9,319.5 502.1,319.7 503.8,319.3 505.9,318.2 508.2,317.1 510.7,315.8 513.4,314.5 516.3,313.0 519.3,311.6 522.4,310.3 525.7,309.0 529.0,307.7 532.5,306.5 536.3,305.2 540.2,304.0 544.4,302.7 548.6,301.5 552.8,300.4 556.9,299.4 561.1,298.4 564.8,297.6 568.2,297.0 571.1,296.6 573.6,296.3 576.3,296.1 579.2,296.1 582.3,296.1 585.7,296.4 589.0,296.6 592.3,296.8 595.7,297.0 599.0,297.2 604.2,297.3 611.3,297.4 620.2,297.5 631.1,297.5 639.2,292.4 644.6,282.3 647.3,267.2 647.3,247.0 630.7,231.8 597.3,221.7 547.3,216.7 480.7,216.7 430.7,220.6 397.3,228.5Z" fill="#bc0000"/>
<path d="M380.7,238.5 380.7,253.1 383.4,264.1 388.8,271.4 396.9,275.0 407.8,275.0 417.4,275.0 426.0,275.1 433.4,275.1 439.6,275.2 446.2,275.4 453.1,275.7 460.2,276.1 467.8,276.7 474.5,277.4 480.6,278.1 485.9,279.1 490.5,280.1 495.1,281.2 499.9,282.3 504.8,283.5 509.8,284.8 514.5,285.9 518.9,286.8 523.0,287.6 526.7,288.2 530.6,288.6 534.5,288.9 538.6,288.9 542.8,288.6 546.9,288.4 551.1,288.1 555.2,287.7 559.4,287.3 563.6,287.0 567.8,286.7 571.9,286.5 576.1,286.5 580.6,286.5 585.4,286.7 590.5,287.0 595.9,287.4 602.6,287.7 610.8,287.9 620.2,288.0 631.1,288.0 639.2,283.5 644.6,274.6 647.3,261.2 647.3,243.4 630.7,230.0 597.3,221.1 547.3,216.7 480.7,216.7 430.7,220.3 397.3,227.6Z" fill="#dc0000"/>
<path d="M403.6,360.1 414.4,359.6 423.2,358.9 430.1,358.1 434.9,357.2 437.6,356.1 440.4,355.1 443.2,354.1 446.0,353.2 448.7,352.4 451.5,351.8 454.2,351.2 457.0,350.9 459.8,350.8 462.6,350.8 465.4,351.1 468.2,351.6 471.0,352.3 473.5,353.1 475.7,354.1 477.5,355.2 479.1,356.5 480.6,357.8 482.0,359.3 483.4,360.8 484.6,362.5 485.8,364.1 486.8,365.5 487.8,366.9 488.6,368.1 489.1,369.5 489.2,370.9 488.9,372.5 488.3,374.2 487.6,375.9 486.9,377.8 486.1,379.8 485.2,381.9 484.5,384.0 483.9,386.0 483.4,388.1 483.0,390.2 482.6,394.7 482.3,401.6 482.0,410.8 481.8,422.5 475.8,431.2 463.9,437.1 446.2,440.0 422.6,440.0 405.0,435.1 393.2,425.2 387.3,410.3 387.3,390.5 390.0,375.6 395.5,365.4Z" fill="#ffb46c"/>
<path d="M403.6,374.7 414.4,374.5 423.1,374.5 429.5,374.7 433.8,375.1 435.9,375.7 437.8,376.5 439.6,377.4 441.2,378.5 442.6,379.8 443.8,380.9 444.8,382.0 445.5,382.9 445.9,383.8 445.8,384.6 445.3,385.4 444.3,386.2 442.9,387.1 441.3,387.8 439.8,388.3 438.2,388.6 436.5,388.9 434.8,389.0 433.2,389.0 431.5,388.9 429.8,388.6 426.1,388.4 420.2,388.2 412.3,388.0 402.3,387.8 394.8,386.9 389.8,385.2 387.3,382.8 387.3,379.7 390.0,377.3 395.5,375.6Z" fill="#ffd0a0"/>
<path d="M557.4,379.8 558.4,378.5 559.7,377.5 561.3,376.7 563.1,376.0 565.2,375.6 567.2,375.5 569.1,375.7 570.8,376.2 572.5,377.1 574.2,378.0 575.8,379.1 577.5,380.2 579.2,381.5 580.7,382.5 582.2,383.3 583.5,384.0 584.8,384.4 586.1,384.8 587.6,385.2 589.2,385.6 590.8,386.0 592.7,386.4 594.8,386.6 597.1,386.7 599.6,386.7 603.8,386.6 609.7,386.5 617.3,386.4 626.7,386.1 633.7,389.3 638.3,395.7 640.7,405.5 640.7,418.6 638.0,426.3 632.7,428.6 624.8,425.3 614.2,416.7 606.0,410.0 600.0,405.5 596.5,402.9 595.2,402.4 594.1,401.7 593.0,400.9 592.1,399.8 591.2,398.5 590.2,397.7 589.0,397.3 587.5,397.3 585.8,397.7 584.2,397.9 582.5,397.9 580.8,397.7 579.2,397.3 577.5,396.8 575.8,396.1 574.2,395.4 572.5,394.6 570.9,393.6 569.5,392.6 568.1,391.5 566.9,390.2 565.5,389.1 564.1,388.0 562.5,387.1 560.8,386.2 559.4,385.4 558.3,384.6 557.4,383.8 556.8,382.9 556.6,382.0 556.8,380.9Z" fill="#ffb46c"/>
</g>
<g clip-path="url(#c03)">
<rect x="604" y="260" width="180" height="154" fill="#ff9a38"/>
<path d="M560.7,257.3 560.7,284.4 563.4,304.7 568.8,318.2 576.9,325.0 587.8,325.0 596.5,325.1 603.2,325.2 607.8,325.5 610.2,325.8 613.1,326.2 616.2,326.7 619.6,327.2 623.4,327.8 627.2,328.4 631.2,329.1 635.2,329.9 639.4,330.8 643.6,331.7 647.8,332.7 651.9,333.9 656.1,335.1 660.2,336.5 664.4,337.9 668.6,339.4 672.8,341.0 676.9,342.6 681.1,344.2 685.2,345.8 689.4,347.5 693.6,349.1 697.8,350.6 701.9,352.0 706.1,353.3 710.2,354.5 714.4,355.6 718.6,356.6 722.8,357.4 726.9,358.2 731.1,359.0 735.2,359.7 739.4,360.3 743.6,360.9 747.8,361.4 751.9,361.8 756.1,362.1 760.6,362.1 765.4,361.9 770.5,361.4 775.9,360.7 782.6,360.2 790.8,359.8 800.2,359.7 811.1,359.7 819.2,350.7 824.6,332.9 827.3,306.0 827.3,270.3 810.7,243.5 777.3,225.6 727.3,216.7 660.7,216.7 610.7,223.4 577.3,237.0Z" fill="#ff8200"/>
<path d="M560.7,254.5 560.7,279.7 563.4,298.6 568.8,311.2 576.9,317.5 587.8,317.5 596.9,317.6 604.4,317.7 610.2,317.8 614.4,318.0 618.6,318.3 622.8,318.6 626.9,319.0 631.1,319.4 635.2,319.8 639.4,320.4 643.6,320.9 647.8,321.6 651.9,322.3 656.1,323.1 660.2,324.1 664.4,325.1 668.6,326.2 672.8,327.4 676.9,328.7 681.1,330.0 685.2,331.4 689.4,332.8 693.6,334.2 697.8,335.8 701.9,337.2 706.1,338.6 710.2,340.0 714.4,341.3 718.6,342.6 722.8,343.8 726.9,344.9 731.1,345.9 735.2,346.9 739.4,347.8 743.6,348.6 747.8,349.3 751.9,349.8 756.1,350.2 760.2,350.5 764.4,350.6 768.4,350.7 772.1,350.6 775.7,350.4 779.0,350.1 784.2,349.9 791.3,349.7 800.2,349.7 811.1,349.7 819.2,341.4 824.6,324.7 827.3,299.8 827.3,266.5 810.7,241.6 777.3,225.0 727.3,216.7 660.7,216.7 610.7,223.0 577.3,235.6Z" fill="#d05800"/>
<path d="M560.7,252.6 560.7,276.6 563.4,294.5 568.8,306.5 576.9,312.5 587.8,312.5 596.9,312.6 604.4,312.7 610.2,312.8 614.4,313.0 618.6,313.3 622.8,313.5 626.9,313.8 631.1,314.2 635.2,314.6 639.4,315.0 643.6,315.5 647.8,316.1 651.9,316.8 656.1,317.6 660.2,318.4 664.4,319.4 668.6,320.4 672.8,321.5 676.9,322.7 681.1,324.0 685.2,325.3 689.4,326.6 693.6,328.0 697.8,329.5 701.9,330.9 706.1,332.4 710.2,333.9 714.4,335.3 718.6,336.7 722.8,337.9 726.9,339.1 731.1,340.1 735.2,341.0 739.4,341.9 743.6,342.6 747.8,343.2 751.9,343.7 756.1,344.1 760.2,344.4 764.4,344.5 768.4,344.5 772.1,344.4 775.7,344.2 779.0,343.8 784.2,343.6 791.3,343.4 800.2,343.3 811.1,343.3 819.2,335.4 824.6,319.6 827.3,295.8 827.3,264.2 810.7,240.4 777.3,224.6 727.3,216.7 660.7,216.7 610.7,222.7 577.3,234.6Z" fill="#a02c00"/>
<path d="M560.7,250.7 560.7,273.4 563.4,290.5 568.8,301.8 576.9,307.5 587.8,307.5 596.9,307.6 604.4,307.7 610.2,307.8 614.4,308.0 618.6,308.3 622.8,308.5 626.9,308.8 631.1,309.2 635.2,309.5 639.4,310.0 643.6,310.4 647.8,310.9 651.9,311.5 656.1,312.2 660.2,312.9 664.4,313.8 668.6,314.7 672.8,315.7 676.9,316.9 681.1,318.1 685.2,319.4 689.4,320.8 693.6,322.2 697.8,323.6 701.9,325.1 706.1,326.6 710.2,328.0 714.4,329.5 718.6,330.8 722.8,332.1 726.9,333.2 731.1,334.3 735.2,335.2 739.4,336.0 743.6,336.8 747.8,337.4 751.9,337.9 756.1,338.2 760.2,338.5 764.4,338.5 768.4,338.5 772.1,338.4 775.7,338.2 779.0,337.9 784.2,337.7 791.3,337.6 800.2,337.5 811.1,337.5 819.2,329.9 824.6,314.8 827.3,292.2 827.3,262.0 810.7,239.3 777.3,224.2 727.3,216.7 660.7,216.7 610.7,222.3 577.3,233.7Z" fill="#780000"/>
<path d="M560.7,248.9 560.7,270.3 563.4,286.4 568.8,297.1 576.9,302.5 587.8,302.5 596.9,302.6 604.4,302.7 610.2,302.9 614.4,303.2 618.6,303.5 622.8,303.8 626.9,304.2 631.1,304.5 635.2,304.9 639.4,305.2 643.6,305.6 647.8,306.0 651.9,306.5 656.1,307.0 660.2,307.6 664.4,308.2 668.6,308.9 672.8,309.6 676.9,310.4 681.1,311.2 685.2,312.2 689.4,313.1 693.6,314.2 697.8,315.3 701.9,316.5 706.1,317.7 710.2,318.9 714.4,320.1 718.6,321.3 722.8,322.4 726.9,323.4 731.1,324.4 735.2,325.2 739.4,325.9 743.6,326.5 747.8,326.9 751.9,327.2 756.1,327.3 760.2,327.3 764.4,327.2 768.4,327.0 772.1,326.8 775.7,326.6 779.0,326.3 784.2,326.1 791.3,325.9 800.2,325.8 811.1,325.8 819.2,319.0 824.6,305.4 827.3,284.9 827.3,257.6 810.7,237.1 777.3,223.5 727.3,216.7 660.7,216.7 610.7,222.0 577.3,232.8Z" fill="#9a0000"/>
<path d="M560.7,247.0 560.7,267.2 563.4,282.3 568.8,292.4 576.9,297.5 587.8,297.5 596.9,297.6 604.4,297.7 610.2,297.9 614.4,298.2 618.6,298.5 622.8,298.8 626.9,299.2 631.1,299.5 635.2,299.8 639.4,300.2 643.6,300.5 647.8,300.8 651.9,301.2 656.1,301.6 660.2,302.0 664.4,302.4 668.6,302.8 672.8,303.3 676.9,303.9 681.1,304.5 685.2,305.1 689.4,305.8 693.6,306.5 697.8,307.2 701.9,308.0 706.1,308.8 710.2,309.6 714.4,310.4 718.6,311.2 722.8,311.9 726.9,312.6 731.1,313.2 735.2,313.8 739.4,314.2 743.6,314.5 747.8,314.7 751.9,314.8 756.1,314.7 760.2,314.5 764.4,314.2 768.4,313.8 772.1,313.4 775.7,312.9 779.0,312.4 784.2,312.0 791.3,311.8 800.2,311.7 811.1,311.7 819.2,305.7 824.6,293.9 827.3,276.0 827.3,252.3 810.7,234.5 777.3,222.6 727.3,216.7 660.7,216.7 610.7,221.7 577.3,231.8Z" fill="#bc0000"/>
<path d="M560.7,243.5 560.7,261.5 563.4,274.9 568.8,283.9 576.9,288.3 587.8,288.3 596.9,288.4 604.4,288.6 610.2,289.0 614.4,289.4 618.6,289.8 622.8,290.1 626.9,290.5 631.1,290.8 635.2,291.2 639.4,291.5 643.6,291.8 647.8,292.1 651.9,292.4 656.1,292.7 660.2,293.1 664.4,293.5 668.6,294.0 672.8,294.4 676.9,294.8 681.1,295.2 685.2,295.7 689.4,296.1 693.6,296.6 697.8,297.2 701.9,297.7 706.1,298.3 710.2,298.9 714.4,299.5 718.6,300.0 722.8,300.5 726.9,301.0 731.1,301.4 735.2,301.7 739.4,302.0 743.6,302.2 747.8,302.3 751.9,302.4 756.1,302.3 760.2,302.2 764.4,302.0 768.4,301.7 772.1,301.4 775.7,301.0 779.0,300.6 784.2,300.3 791.3,300.1 800.2,300.0 811.1,300.0 819.2,294.8 824.6,284.4 827.3,268.8 827.3,247.9 810.7,232.3 777.3,221.9 727.3,216.7 660.7,216.7 610.7,221.1 577.3,230.1Z" fill="#dc0000"/>
<path d="M560.7,235.1 560.7,247.4 563.4,256.6 568.8,262.8 576.9,265.8 587.8,265.8 596.9,266.2 604.4,266.9 610.2,268.0 614.4,269.5 618.6,270.8 622.8,272.1 626.9,273.2 631.1,274.3 635.2,275.3 639.4,276.2 643.6,277.1 647.8,277.9 651.9,278.8 656.1,279.6 660.2,280.4 664.4,281.2 668.6,282.1 672.8,282.9 676.9,283.8 681.1,284.6 685.2,285.4 689.4,286.2 693.6,286.9 697.8,287.6 701.9,288.3 706.1,288.9 710.2,289.5 714.4,290.0 718.6,290.5 722.8,291.0 726.9,291.5 731.1,291.9 735.2,292.2 739.4,292.6 743.6,292.8 747.8,293.0 751.9,293.2 756.1,293.2 760.2,293.2 764.4,293.1 768.4,293.0 772.1,292.8 775.7,292.5 779.0,292.2 784.2,291.9 791.3,291.8 800.2,291.7 811.1,291.7 819.2,287.0 824.6,277.6 827.3,263.5 827.3,244.8 810.7,230.7 777.3,221.4 727.3,216.7 660.7,216.7 610.7,219.7 577.3,225.9Z" fill="#ff0000"/>
<path d="M584.0,386.0 595.0,385.6 603.5,385.1 609.2,384.5 612.3,383.8 612.7,382.9 613.4,382.0 614.5,380.9 615.8,379.8 617.5,378.5 619.3,377.4 621.1,376.5 623.1,375.7 625.2,375.1 627.2,374.8 629.1,374.8 630.8,375.1 632.5,375.7 633.9,376.6 634.9,377.8 635.6,379.2 636.0,380.8 636.7,382.4 637.5,383.9 638.5,385.2 639.8,386.5 640.8,387.7 641.5,389.0 642.0,390.2 642.2,391.5 642.0,392.6 641.4,393.6 640.3,394.6 638.9,395.4 637.3,395.9 635.8,396.1 634.2,396.0 632.5,395.6 630.8,395.5 629.2,395.7 627.5,396.2 625.8,397.1 624.8,400.3 624.4,405.9 624.6,414.0 625.4,424.4 622.3,432.2 615.3,437.4 604.4,440.0 589.6,440.0 578.5,436.7 571.0,430.0 567.3,420.0 567.3,406.7 570.1,396.6 575.6,389.7Z" fill="#ffb46c"/>
</g>
<g clip-path="url(#c04)">
<rect x="784" y="260" width="180" height="154" fill="#ff9a38"/>
<path d="M740.7,270.3 740.7,306.0 743.4,332.9 748.8,350.7 756.9,359.7 767.8,359.7 776.9,359.7 784.4,359.9 790.2,360.1 794.4,360.4 798.6,360.8 802.8,361.3 806.9,361.9 811.1,362.6 815.2,363.4 819.4,364.3 823.6,365.3 827.8,366.4 831.9,367.4 836.1,368.3 840.2,369.1 844.4,369.8 848.6,370.3 852.8,370.6 856.9,370.6 861.1,370.5 865.2,370.4 869.4,370.1 873.6,369.9 877.8,369.6 881.9,369.3 886.1,368.9 890.2,368.5 894.4,368.1 898.3,367.7 901.8,367.1 905.0,366.6 908.0,365.9 910.8,365.2 913.5,364.4 916.1,363.4 918.6,362.4 921.0,361.4 923.3,360.3 925.5,359.3 927.5,358.2 929.8,357.3 932.3,356.6 935.0,356.0 938.0,355.6 941.5,355.3 945.7,355.2 950.5,355.1 955.9,355.2 962.6,355.3 970.8,355.3 980.2,355.3 991.1,355.3 999.2,346.7 1004.6,329.3 1007.3,303.3 1007.3,268.7 990.7,242.7 957.3,225.3 907.3,216.7 840.7,216.7 790.7,225.6 757.3,243.5Z" fill="#ff8200"/>
<path d="M740.7,266.7 740.7,300.0 743.4,325.0 748.8,341.7 756.9,350.0 767.8,350.0 776.9,350.1 784.4,350.2 790.2,350.3 794.4,350.5 798.6,350.8 802.8,351.2 806.9,351.6 811.1,352.2 815.2,352.8 819.4,353.4 823.6,354.1 827.8,354.8 831.9,355.4 836.1,356.1 840.2,356.6 844.4,357.2 848.6,357.6 852.8,358.0 856.9,358.2 861.1,358.4 865.2,358.5 869.4,358.6 873.6,358.5 877.8,358.5 881.9,358.3 886.1,358.0 890.2,357.7 894.4,357.3 898.4,356.8 902.1,356.2 905.7,355.5 909.0,354.8 912.2,353.9 915.4,352.9 918.4,351.7 921.3,350.3 924.0,349.0 926.5,347.7 928.8,346.5 930.9,345.2 932.8,344.3 934.6,343.8 936.2,343.6 937.6,343.9 938.8,344.4 939.8,345.2 940.5,346.4 940.9,347.8 941.6,349.1 942.5,350.1 943.7,350.9 945.1,351.6 946.8,351.9 948.5,352.0 950.5,351.9 952.5,351.5 954.6,351.0 956.7,350.5 958.8,349.9 960.9,349.3 965.1,348.8 971.6,348.5 980.2,348.3 991.1,348.3 999.2,340.1 1004.6,323.6 1007.3,299.0 1007.3,266.0 990.7,241.4 957.3,224.9 907.3,216.7 840.7,216.7 790.7,225.0 757.3,241.7Z" fill="#d05800"/>
<path d="M740.7,263.4 740.7,294.6 743.4,318.0 748.8,333.5 756.9,341.3 767.8,341.3 776.9,341.4 784.4,341.4 790.2,341.5 794.4,341.5 798.6,341.7 802.8,342.0 806.9,342.3 811.1,342.7 815.2,343.1 819.4,343.6 823.6,344.1 827.8,344.6 831.9,345.1 836.1,345.5 840.2,346.0 844.4,346.4 848.6,346.8 852.8,347.1 856.9,347.5 861.1,347.8 865.2,348.1 869.4,348.2 873.6,348.3 877.8,348.3 881.7,348.2 885.5,348.0 889.0,347.7 892.3,347.3 895.6,346.7 898.7,346.0 901.7,345.1 904.6,344.1 907.5,343.0 910.5,341.8 913.4,340.6 916.3,339.4 919.3,338.2 922.4,337.0 925.7,335.9 929.0,334.9 932.5,334.1 936.3,333.6 940.2,333.3 944.4,333.3 948.4,333.4 952.1,333.5 955.7,333.6 959.0,333.9 964.2,334.0 971.3,334.1 980.2,334.2 991.1,334.2 999.2,326.8 1004.6,312.1 1007.3,290.1 1007.3,260.7 990.7,238.7 957.3,224.0 907.3,216.7 840.7,216.7 790.7,224.5 757.3,240.0Z" fill="#a02c00"/>
<path d="M740.7,260.3 740.7,289.4 743.4,311.2 748.8,325.7 756.9,333.0 767.8,333.0 776.9,333.0 784.4,333.1 790.2,333.1 794.4,333.2 798.6,333.4 802.8,333.6 806.9,333.8 811.1,334.2 815.2,334.5 819.4,334.9 823.6,335.3 827.8,335.7 831.9,336.1 836.1,336.5 840.2,336.8 844.4,337.2 848.6,337.5 852.8,337.8 856.9,338.0 861.1,338.3 865.2,338.5 869.4,338.5 873.6,338.5 877.8,338.5 881.7,338.2 885.5,337.9 889.0,337.4 892.3,336.8 895.6,336.1 898.7,335.4 901.7,334.6 904.6,333.8 907.5,332.9 910.5,332.2 913.4,331.4 916.3,330.7 919.3,330.1 922.4,329.5 925.7,329.0 929.0,328.6 932.5,328.4 936.3,328.2 940.2,328.2 944.4,328.4 948.4,328.6 952.1,328.9 955.7,329.2 959.0,329.5 964.2,329.8 971.3,329.9 980.2,330.0 991.1,330.0 999.2,322.9 1004.6,308.8 1007.3,287.5 1007.3,259.2 990.7,237.9 957.3,223.8 907.3,216.7 840.7,216.7 790.7,223.9 757.3,238.5Z" fill="#780000"/>
<path d="M740.7,257.0 740.7,283.9 743.4,304.0 748.8,317.4 756.9,324.2 767.8,324.2 776.9,324.2 784.4,324.2 790.2,324.2 794.4,324.2 798.6,324.2 802.8,324.3 806.9,324.5 811.1,324.7 815.2,324.9 819.4,325.2 823.6,325.5 827.8,325.8 831.9,326.1 836.1,326.4 840.2,326.6 844.4,326.8 848.6,326.9 852.8,327.1 856.9,327.2 861.1,327.3 865.2,327.4 869.4,327.3 873.6,327.2 877.8,327.0 881.9,326.7 886.1,326.5 890.2,326.2 894.4,325.8 898.6,325.5 902.8,325.3 906.9,325.1 911.1,324.9 915.2,324.8 919.4,324.6 923.6,324.5 927.8,324.4 931.9,324.3 936.1,324.3 940.2,324.4 944.4,324.5 948.4,324.6 952.1,324.9 955.7,325.1 959.0,325.4 964.2,325.6 971.3,325.8 980.2,325.8 991.1,325.8 999.2,319.0 1004.6,305.4 1007.3,284.9 1007.3,257.6 990.7,237.1 957.3,223.5 907.3,216.7 840.7,216.7 790.7,223.4 757.3,236.8Z" fill="#9a0000"/>
<path d="M740.7,253.2 740.7,277.6 743.4,295.9 748.8,308.1 756.9,314.2 767.8,314.2 776.9,314.2 784.4,314.3 790.2,314.5 794.4,314.7 798.6,314.9 802.8,315.1 806.9,315.3 811.1,315.5 815.2,315.7 819.4,315.9 823.6,316.1 827.8,316.4 831.9,316.6 836.1,316.8 840.2,317.0 844.4,317.2 848.6,317.4 852.8,317.5 856.9,317.7 861.1,317.8 865.2,317.9 869.4,317.9 873.6,317.8 877.8,317.7 881.9,317.6 886.1,317.5 890.2,317.5 894.4,317.5 898.6,317.5 902.8,317.6 906.9,317.7 911.1,317.8 915.2,317.9 919.4,318.0 923.6,318.1 927.8,318.2 931.9,318.3 936.1,318.4 940.2,318.5 944.4,318.5 948.4,318.7 952.1,318.8 955.7,319.0 959.0,319.3 964.2,319.5 971.3,319.6 980.2,319.7 991.1,319.7 999.2,313.2 1004.6,300.4 1007.3,281.0 1007.3,255.3 990.7,236.0 957.3,223.1 907.3,216.7 840.7,216.7 790.7,222.8 757.3,234.9Z" fill="#bc0000"/>
<path d="M740.7,248.9 740.7,270.3 743.4,286.4 748.8,297.1 756.9,302.5 767.8,302.5 776.9,302.6 784.4,302.7 790.2,302.9 794.4,303.2 798.6,303.6 802.8,304.0 806.9,304.5 811.1,305.0 815.2,305.6 819.4,306.1 823.6,306.6 827.8,307.2 831.9,307.7 836.1,308.1 840.2,308.4 844.4,308.7 848.6,309.0 852.8,309.2 856.9,309.4 861.1,309.5 865.2,309.6 869.4,309.6 873.6,309.7 877.8,309.7 881.9,309.7 886.1,309.7 890.2,309.7 894.4,309.7 898.6,309.7 902.8,309.7 906.9,309.7 911.1,309.7 915.2,309.7 919.4,309.7 923.6,309.8 927.8,309.9 931.9,310.0 936.1,310.1 940.2,310.3 944.4,310.5 948.4,310.8 952.1,311.0 955.7,311.3 959.0,311.6 964.2,311.8 971.3,311.9 980.2,312.0 991.1,312.0 999.2,306.0 1004.6,294.1 1007.3,276.2 1007.3,252.4 990.7,234.5 957.3,222.6 907.3,216.7 840.7,216.7 790.7,222.0 757.3,232.8Z" fill="#dc0000"/>
<path d="M740.7,244.8 740.7,263.5 743.4,277.6 748.8,287.0 756.9,291.7 767.8,291.7 776.9,291.6 784.4,291.5 790.2,291.4 794.4,291.1 798.6,291.1 802.8,291.2 806.9,291.5 811.1,291.9 815.2,292.4 819.4,293.0 823.6,293.8 827.8,294.6 831.9,295.4 836.1,296.2 840.2,296.9 844.4,297.6 848.6,298.2 852.8,298.7 856.9,299.2 861.1,299.5 865.2,299.8 869.4,299.9 873.6,300.0 877.8,300.0 881.9,299.9 886.1,299.8 890.2,299.7 894.4,299.5 898.6,299.3 902.8,299.1 906.9,299.0 911.1,298.9 915.2,298.8 919.4,298.7 923.6,298.7 927.8,298.7 931.9,298.7 936.1,298.8 940.2,298.9 944.4,299.0 948.4,299.1 952.1,299.3 955.7,299.5 959.0,299.7 964.2,299.8 971.3,299.9 980.2,300.0 991.1,300.0 999.2,294.8 1004.6,284.4 1007.3,268.8 1007.3,247.9 990.7,232.3 957.3,221.9 907.3,216.7 840.7,216.7 790.7,221.4 757.3,230.7Z" fill="#ff0000"/>
<path d="M964.2,223.3 978.8,223.3 989.7,227.1 997.0,234.6 1000.7,245.8 1000.7,260.8 998.0,271.8 992.5,278.6 984.4,281.5 973.6,280.2 964.9,279.0 958.5,277.7 954.2,276.5 952.1,275.2 950.2,274.0 948.6,272.7 947.1,271.5 945.9,270.2 944.8,266.5 944.0,260.2 943.4,251.5 943.0,240.2 946.3,231.8 953.4,226.1Z" fill="#dc0000"/>
<path d="M936.5,375.4 938.2,374.6 939.8,374.1 941.5,373.9 943.2,374.0 944.8,374.4 946.4,375.1 947.9,376.1 949.2,377.5 950.5,379.2 951.3,380.9 951.7,382.8 951.7,384.8 951.3,386.9 950.6,388.6 949.5,390.1 948.2,391.2 946.5,392.1 944.8,392.6 943.2,392.8 941.5,392.7 939.8,392.3 938.4,391.6 937.3,390.5 936.4,389.2 935.8,387.5 935.2,385.7 934.8,383.9 934.5,381.9 934.3,379.8 934.6,378.0 935.3,376.6Z" fill="#ffb46c"/>
<path d="M949.6,425.6 950.0,416.0 950.8,408.7 951.8,403.6 953.2,400.7 954.8,400.1 958.7,399.7 964.7,399.5 973.0,399.5 983.4,399.7 991.3,402.3 996.7,407.4 999.6,415.0 1000.0,425.0 997.1,432.5 990.9,437.5 981.3,440.0 968.4,440.0 958.8,437.6 952.5,432.8Z" fill="#ffb46c"/>
<path d="M785.9,399.1 787.1,398.4 788.7,398.0 790.6,397.8 792.8,397.8 795.2,398.0 797.8,398.4 800.2,398.9 802.8,399.6 805.2,400.4 807.3,403.4 808.8,408.6 809.9,416.0 810.6,425.6 809.3,432.8 806.2,437.6 801.2,440.0 794.3,440.0 789.2,437.5 785.7,432.5 784.0,425.0 784.0,415.0 784.3,407.3 784.9,402.0Z" fill="#ff8200"/>
</g>
<g clip-path="url(#c05)">
<rect x="964" y="260" width="116" height="154" fill="#ff9a38"/>
<path d="M887.9,268.7 908.8,303.3 925.0,329.3 936.7,346.7 943.8,355.3 946.2,355.3 949.0,355.4 952.0,355.4 955.2,355.5 958.8,355.6 962.1,355.8 965.2,356.0 968.1,356.1 970.9,356.4 973.7,356.6 976.5,356.8 979.4,357.0 982.3,357.2 985.3,357.5 988.4,357.9 991.7,358.4 995.0,359.1 998.5,359.7 1002.3,360.4 1006.2,361.1 1010.4,361.9 1014.6,362.5 1018.8,363.0 1022.9,363.4 1027.1,363.7 1031.2,363.9 1035.4,364.1 1039.6,364.2 1043.8,364.2 1047.5,364.2 1050.8,364.2 1053.8,364.2 1056.2,364.2 1062.1,354.9 1071.2,336.5 1083.8,308.9 1099.6,272.0 1094.8,244.3 1069.4,225.9 1023.3,216.7 956.7,216.7 911.9,225.3 889.0,242.7Z" fill="#ff8200"/>
<path d="M887.9,267.0 908.8,300.5 925.0,325.7 936.7,342.4 943.8,350.8 946.2,350.8 949.0,350.7 952.0,350.4 955.2,349.9 958.8,349.3 962.1,348.9 965.2,348.6 968.1,348.6 970.9,348.9 973.7,349.0 976.5,349.0 979.4,348.9 982.3,348.6 985.1,348.6 987.8,348.9 990.4,349.3 992.9,349.9 995.5,350.6 998.2,351.3 1001.0,352.1 1004.0,352.9 1006.9,353.6 1009.8,354.3 1012.7,354.8 1015.6,355.2 1018.6,355.5 1021.8,355.6 1025.0,355.5 1028.3,355.3 1031.9,355.2 1035.6,355.1 1039.6,355.0 1043.8,355.0 1047.5,355.0 1050.8,355.0 1053.8,355.0 1056.2,355.0 1062.1,346.4 1071.2,329.1 1083.8,303.1 1099.6,268.5 1094.8,242.6 1069.4,225.3 1023.3,216.7 956.7,216.7 911.9,225.1 889.0,241.8Z" fill="#d05800"/>
<path d="M887.9,260.4 908.8,289.6 925.0,311.5 936.7,326.0 943.8,333.3 946.2,333.3 949.0,333.4 952.0,333.5 955.2,333.6 958.8,333.9 962.1,334.0 965.2,334.2 968.1,334.4 970.9,334.5 973.7,334.6 976.5,334.7 979.4,334.8 982.3,334.9 985.0,335.0 987.5,335.3 989.8,335.6 991.9,336.0 993.8,336.7 995.4,337.5 996.9,338.5 998.1,339.8 999.6,341.0 1001.2,342.1 1003.1,343.2 1005.2,344.3 1007.5,345.1 1010.0,345.7 1012.7,346.1 1015.6,346.4 1018.6,346.3 1021.8,346.0 1025.0,345.4 1028.3,344.6 1031.9,344.0 1035.6,343.5 1039.6,343.3 1043.8,343.3 1047.5,343.3 1050.8,343.3 1053.8,343.3 1056.2,343.3 1062.1,335.4 1071.2,319.6 1083.8,295.8 1099.6,264.2 1094.8,240.4 1069.4,224.6 1023.3,216.7 956.7,216.7 911.9,224.0 889.0,238.5Z" fill="#a02c00"/>
<path d="M887.9,258.7 908.8,286.7 925.0,307.7 936.7,321.7 943.8,328.7 946.2,328.7 949.0,328.8 952.0,328.9 955.2,329.2 958.8,329.5 962.1,329.8 965.2,329.9 968.1,330.0 970.9,330.0 973.7,330.0 976.5,329.9 979.4,329.9 982.3,329.8 985.3,329.8 988.4,329.9 991.7,330.1 995.0,330.4 998.3,330.8 1001.7,331.2 1005.0,331.8 1008.3,332.4 1011.6,333.0 1014.7,333.5 1017.7,334.0 1020.6,334.4 1023.3,334.7 1025.8,335.0 1028.1,335.1 1030.2,335.2 1032.8,335.3 1035.9,335.3 1039.6,335.3 1043.8,335.3 1047.5,335.3 1050.8,335.3 1053.8,335.3 1056.2,335.3 1062.1,327.9 1071.2,313.1 1083.8,290.8 1099.6,261.2 1094.8,238.9 1069.4,224.1 1023.3,216.7 956.7,216.7 911.9,223.7 889.0,237.7Z" fill="#780000"/>
<path d="M887.9,257.2 908.8,284.2 925.0,304.4 936.7,317.9 943.8,324.7 946.2,324.7 949.0,324.7 952.0,324.9 955.2,325.1 958.8,325.4 962.1,325.6 965.2,325.7 968.1,325.6 970.9,325.5 973.7,325.4 976.5,325.4 979.4,325.3 982.3,325.3 985.3,325.4 988.4,325.6 991.7,325.8 995.0,326.2 998.3,326.5 1001.7,327.0 1005.0,327.4 1008.3,327.9 1011.6,328.4 1014.7,328.8 1017.7,329.2 1020.6,329.5 1023.3,329.8 1025.8,330.1 1028.1,330.3 1030.2,330.5 1032.8,330.7 1035.9,330.8 1039.6,330.8 1043.8,330.8 1047.5,330.8 1050.8,330.8 1053.8,330.8 1056.2,330.8 1062.1,323.7 1071.2,309.4 1083.8,288.0 1099.6,259.5 1094.8,238.1 1069.4,223.8 1023.3,216.7 956.7,216.7 911.9,223.4 889.0,236.9Z" fill="#9a0000"/>
<path d="M887.9,254.9 908.8,280.4 925.0,299.5 936.7,312.3 943.8,318.7 946.2,318.7 949.0,318.7 952.0,318.9 955.2,319.0 958.8,319.3 962.1,319.4 965.2,319.4 968.1,319.3 970.9,319.0 973.7,318.8 976.5,318.7 979.4,318.5 982.3,318.5 985.3,318.4 988.4,318.4 991.7,318.5 995.0,318.5 998.5,318.7 1002.3,318.9 1006.2,319.2 1010.4,319.5 1014.6,319.9 1018.8,320.2 1022.9,320.6 1027.1,321.0 1031.2,321.4 1035.4,321.6 1039.6,321.7 1043.8,321.7 1047.5,321.7 1050.8,321.7 1053.8,321.7 1056.2,321.7 1062.1,315.1 1071.2,302.0 1083.8,282.3 1099.6,256.0 1094.8,236.4 1069.4,223.2 1023.3,216.7 956.7,216.7 911.9,223.0 889.0,235.8Z" fill="#bc0000"/>
<path d="M887.9,252.0 908.8,275.5 925.0,293.2 936.7,304.9 943.8,310.8 946.2,310.8 949.0,310.9 952.0,311.1 955.2,311.3 958.8,311.6 962.1,311.8 965.2,311.9 968.1,311.9 970.9,311.8 973.7,311.8 976.5,311.8 979.4,311.8 982.3,311.9 985.3,312.0 988.4,312.2 991.7,312.4 995.0,312.6 998.5,312.9 1002.3,313.2 1006.2,313.4 1010.4,313.7 1014.6,314.1 1018.8,314.4 1022.9,314.8 1027.1,315.2 1031.2,315.5 1035.4,315.7 1039.6,315.8 1043.8,315.8 1047.5,315.8 1050.8,315.8 1053.8,315.8 1056.2,315.8 1062.1,309.6 1071.2,297.2 1083.8,278.6 1099.6,253.9 1094.8,235.3 1069.4,222.9 1023.3,216.7 956.7,216.7 911.9,222.6 889.0,234.3Z" fill="#dc0000"/>
<path d="M887.9,247.6 908.8,268.2 925.0,283.7 936.7,294.0 943.8,299.2 946.2,299.2 949.0,299.2 952.0,299.3 955.2,299.5 958.8,299.7 962.1,299.9 965.2,300.0 968.1,300.2 970.9,300.3 973.7,300.4 976.5,300.6 979.4,300.8 982.3,300.9 985.3,301.1 988.4,301.3 991.7,301.5 995.0,301.7 998.5,301.9 1002.3,302.1 1006.2,302.4 1010.4,302.6 1014.6,302.9 1018.8,303.2 1022.9,303.4 1027.1,303.7 1031.2,303.9 1035.4,304.1 1039.6,304.2 1043.8,304.2 1047.5,304.2 1050.8,304.2 1053.8,304.2 1056.2,304.2 1062.1,298.7 1071.2,287.8 1083.8,271.4 1099.6,249.5 1094.8,233.1 1069.4,222.1 1023.3,216.7 956.7,216.7 911.9,221.8 889.0,232.1Z" fill="#ff0000"/>
<path d="M942.0,239.0 942.2,249.4 942.6,257.7 943.2,264.0 944.1,268.1 945.1,270.2 946.6,272.2 948.6,274.1 951.0,275.8 954.0,277.5 957.2,279.2 960.7,280.8 964.6,282.5 968.8,284.2 972.9,285.8 977.1,287.5 981.2,289.2 985.4,290.8 989.6,292.3 993.8,293.7 997.9,294.9 1002.1,295.9 1007.1,297.1 1012.9,298.4 1019.6,299.8 1027.1,301.4 1032.7,297.5 1036.5,288.2 1038.3,273.5 1038.3,253.5 1032.3,238.4 1020.2,228.4 1002.1,223.3 977.9,223.3 959.8,225.9 947.9,231.1Z" fill="#dc0000"/>
<path d="M949.6,425.6 950.0,416.0 950.8,408.7 951.8,403.6 953.2,400.7 954.8,400.1 956.6,399.7 958.5,399.5 960.5,399.5 962.5,399.7 964.4,402.3 966.0,407.4 967.3,415.0 968.4,425.0 967.9,432.5 965.8,437.5 962.1,440.0 956.9,440.0 953.0,437.6 950.6,432.8Z" fill="#ffb46c"/>
</g>
<g clip-path="url(#c10)">
<rect x="64" y="404" width="180" height="154" fill="#ffb46c"/>
<path d="M68.6,367.3 96.1,367.3 116.6,369.9 130.1,375.1 136.7,383.0 136.3,393.4 135.7,401.7 134.8,408.0 133.8,412.1 132.5,414.2 131.3,416.3 130.0,418.4 128.8,420.5 127.5,422.5 126.2,424.4 124.7,426.1 123.2,427.5 121.5,428.8 119.7,430.0 117.9,431.3 115.9,432.5 113.8,433.8 111.7,435.1 109.6,436.4 107.5,437.9 105.5,439.3 103.4,440.6 101.3,441.6 99.2,442.4 97.1,443.1 94.9,443.4 92.6,443.4 90.2,443.1 87.8,442.4 85.2,441.6 82.8,440.6 80.2,439.3 77.8,437.9 75.2,436.4 72.8,434.9 70.2,433.5 67.8,432.0 63.6,430.9 57.8,430.0 50.2,429.5 41.1,429.3 34.2,425.3 29.6,417.5 27.3,405.9 27.3,390.5 34.2,378.9 48.0,371.2Z" fill="#ff9a38"/>
<path d="M123.9,467.9 124.9,464.3 126.0,461.0 127.0,458.0 128.1,455.2 129.1,452.8 130.4,450.4 132.0,448.1 133.8,445.9 135.9,443.8 138.0,441.7 140.0,439.6 142.1,437.5 144.2,435.5 146.3,433.8 148.4,432.5 150.5,431.6 152.5,431.1 155.0,430.7 158.0,430.5 161.3,430.3 165.0,430.3 168.6,430.4 171.9,430.6 175.0,430.8 178.0,431.1 180.5,431.6 182.5,432.4 184.2,433.4 185.5,434.6 186.7,435.8 187.8,436.9 188.9,437.9 189.9,438.9 190.2,440.1 189.8,441.4 188.7,443.0 186.8,444.7 184.8,446.4 182.6,448.1 180.2,449.8 177.8,451.5 175.1,453.1 172.4,454.7 169.6,456.2 166.7,457.6 163.8,459.2 160.9,460.9 158.0,462.6 155.0,464.5 152.3,466.2 149.8,467.8 147.5,469.2 145.5,470.5 143.4,471.7 141.3,472.8 139.2,473.9 137.1,474.9 135.1,475.7 133.3,476.1 131.5,476.3 129.8,476.2 128.3,475.9 126.8,475.5 125.5,474.9 124.2,474.2 123.5,472.8 123.4,470.7Z" fill="#ffd0a0"/>
<path d="M214.5,384.8 214.3,396.5 214.2,406.7 214.1,415.5 214.0,422.8 214.0,428.6 213.8,433.8 213.4,438.4 212.8,442.3 211.9,445.7 210.9,448.8 209.6,451.7 208.2,454.4 206.5,456.9 204.7,459.3 202.9,461.6 200.9,463.8 198.8,465.9 196.9,467.8 195.1,469.4 193.5,470.9 192.0,472.1 191.0,473.6 190.4,475.2 190.1,477.1 190.4,479.2 190.8,481.2 191.6,483.1 192.5,484.8 193.8,486.5 195.4,488.1 197.2,489.7 199.4,491.2 201.9,492.6 204.4,494.1 206.8,495.4 209.1,496.7 211.4,498.0 213.7,498.7 216.0,499.1 218.3,498.9 220.6,498.3 222.9,497.6 225.3,496.9 227.8,496.1 230.2,495.2 235.0,494.4 242.1,493.6 251.5,492.8 263.2,491.9 271.9,483.6 277.8,467.8 280.7,444.4 280.7,413.6 276.6,390.5 268.3,375.0 256.0,367.3 239.5,367.3 227.1,370.2 218.8,376.1Z" fill="#ff9a38"/>
<path d="M217.6,367.3 219.5,367.3 220.8,370.0 221.4,375.3 221.4,383.3 220.8,393.9 220.0,402.1 219.2,407.8 218.3,411.1 217.2,411.9 216.4,409.7 215.8,404.4 215.4,396.0 215.1,384.5 215.5,375.9 216.3,370.2Z" fill="#ffb46c"/>
<path d="M47.3,537.2 60.7,536.6 72.8,536.0 83.6,535.4 93.2,534.7 101.5,534.1 109.8,533.5 118.2,533.0 126.5,532.5 134.8,532.1 143.2,531.7 151.5,531.3 159.8,530.9 168.2,530.5 176.5,529.9 184.8,529.3 193.2,528.6 201.5,527.8 211.9,526.9 224.4,526.1 239.0,525.2 255.7,524.4 268.2,527.8 276.5,535.4 280.7,547.2 280.7,563.3 264.8,575.3 233.2,583.3 185.7,587.3 122.3,587.3 74.8,584.3 43.2,578.1 27.3,568.9 27.3,556.6 30.7,547.2 37.3,540.8Z" fill="#ff9a38"/>
</g>
<g clip-path="url(#c11)">
<rect x="244" y="404" width="180" height="154" fill="#ffb46c"/>
<path d="M207.3,414.2 207.3,445.5 209.8,468.8 214.7,484.2 222.0,491.7 231.8,491.3 239.5,490.7 245.0,489.8 248.4,488.8 249.6,487.5 250.7,486.2 251.7,484.7 252.4,483.2 253.1,481.5 253.8,479.9 254.8,478.5 255.9,477.1 257.1,475.9 258.5,474.9 259.9,474.2 261.5,473.7 263.2,473.5 264.8,473.5 266.5,473.7 268.2,474.1 269.8,474.7 271.5,475.3 273.2,475.8 274.8,476.3 276.5,476.7 278.1,476.9 279.5,476.8 280.9,476.4 282.1,475.8 283.1,475.0 283.8,474.1 284.3,473.0 284.5,471.7 284.7,470.7 284.9,470.0 285.1,469.5 285.4,469.3 286.0,469.1 287.2,468.9 288.8,468.7 290.9,468.5 293.5,468.3 296.6,468.1 300.2,467.9 304.4,467.6 308.3,467.5 311.8,467.3 315.0,467.2 318.0,467.1 320.6,467.2 322.9,467.3 324.8,467.6 326.5,468.0 328.0,468.2 329.2,468.0 330.2,467.5 331.1,466.8 332.0,465.8 333.1,464.6 334.2,463.2 335.5,461.5 337.0,459.7 338.9,457.9 341.1,455.9 343.6,453.8 346.3,451.8 349.2,449.9 352.3,448.2 355.7,446.5 359.2,445.0 363.0,443.6 366.9,442.4 371.1,441.4 374.7,440.4 377.9,439.3 380.5,438.3 382.5,437.2 384.4,435.9 386.1,434.4 387.5,432.5 388.8,430.5 390.4,428.5 392.2,426.6 394.4,424.8 396.9,423.2 399.4,421.7 401.9,420.5 404.4,419.4 406.9,418.6 411.8,417.7 418.9,416.9 428.5,416.0 440.4,415.0 449.3,414.1 455.2,413.2 458.2,412.2 458.2,411.3 455.5,410.4 450.2,409.8 442.2,409.2 431.6,408.8 423.2,408.3 416.9,407.8 412.9,407.2 411.0,406.6 409.4,403.7 408.0,398.6 406.9,391.3 406.1,381.7 393.1,374.5 368.0,369.7 330.8,367.3 281.4,367.3 244.4,375.1 219.7,390.8Z" fill="#ff9a38"/>
<path d="M250.4,383.6 250.1,394.4 250.2,403.0 250.7,409.2 251.4,413.2 252.4,414.8 253.5,416.6 254.7,418.5 255.9,420.5 257.1,422.5 258.5,424.5 259.9,426.4 261.5,428.2 263.2,429.8 264.8,431.4 266.3,432.9 267.9,434.2 269.3,435.5 270.5,436.9 271.3,438.6 271.8,440.5 272.0,442.5 272.5,444.6 273.2,446.7 274.2,448.8 275.5,450.9 276.7,452.8 278.0,454.6 279.2,456.2 280.5,457.6 281.7,458.6 282.8,459.2 283.9,459.2 284.9,458.8 285.9,458.2 286.9,457.5 287.8,456.6 288.6,455.6 289.6,454.7 290.7,453.9 292.0,453.4 293.5,453.0 295.0,452.7 296.6,452.6 298.2,452.6 299.8,452.9 301.6,452.9 303.5,452.8 305.5,452.5 307.5,452.1 309.6,451.8 311.7,451.5 313.8,451.4 315.9,451.3 318.0,451.2 320.0,451.2 322.1,451.3 324.2,451.4 326.0,451.2 327.4,450.9 328.6,450.2 329.4,449.4 330.3,448.5 331.2,447.4 332.2,446.3 333.3,445.0 334.4,443.7 335.5,442.2 336.7,440.7 338.0,439.0 339.2,437.3 340.3,435.5 341.4,433.7 342.4,431.8 343.4,429.9 344.4,427.9 345.2,425.9 346.1,423.8 347.1,421.8 348.4,419.9 349.8,418.2 351.5,416.5 353.2,414.9 354.8,413.5 356.5,412.1 358.2,410.9 359.9,409.6 361.8,408.4 363.8,407.1 365.9,405.9 368.0,402.6 370.0,397.4 372.1,390.2 374.2,381.1 367.9,374.2 353.1,369.6 329.8,367.3 298.2,367.3 274.4,370.0 258.4,375.5Z" fill="#ff8200"/>
<path d="M222.3,469.6 232.3,470.0 240.1,470.8 245.6,471.8 248.9,473.2 249.9,474.8 250.7,476.6 251.1,478.5 251.2,480.5 251.0,482.5 250.5,484.4 249.8,486.1 248.8,487.5 247.5,488.8 244.2,489.8 238.8,490.5 231.3,491.0 221.7,491.2 214.5,489.9 209.7,487.2 207.3,483.1 207.3,477.4 209.8,473.3 214.8,470.7Z" fill="#ff9a38"/>
<path d="M276.4,485.8 277.4,484.7 278.6,484.0 280.0,483.6 281.5,483.5 283.2,483.7 284.8,484.2 286.5,484.9 288.2,485.9 289.8,487.1 291.5,488.4 293.2,489.8 294.8,491.2 296.5,492.6 298.2,493.7 299.8,494.3 301.5,494.5 303.2,494.3 304.7,494.4 306.2,494.7 307.5,495.2 308.8,496.1 309.9,497.1 311.0,498.4 311.9,499.8 312.8,501.5 313.2,503.1 313.2,504.5 312.8,505.9 311.9,507.1 311.0,508.2 309.9,509.2 308.8,509.9 307.5,510.6 306.3,510.8 305.2,510.7 304.1,510.2 303.1,509.4 302.0,508.4 301.0,507.3 299.9,506.0 298.9,504.5 297.7,503.2 296.3,501.9 294.8,500.8 293.2,499.7 291.4,498.7 289.5,497.6 287.5,496.6 285.5,495.6 283.5,494.6 281.8,493.8 280.1,493.1 278.7,492.4 277.5,491.7 276.6,490.9 275.9,489.9 275.5,488.9 275.4,487.9 275.7,486.8Z" fill="#ff9a38"/>
<path d="M403.4,464.6 404.6,463.4 406.0,462.3 407.6,461.5 409.3,460.9 411.2,460.5 413.0,460.2 414.8,460.0 416.5,460.0 418.2,460.1 421.8,460.4 427.3,460.8 434.7,461.4 444.1,462.1 451.2,462.9 456.0,463.9 458.5,465.0 458.7,466.3 456.6,467.5 452.2,468.6 445.6,469.7 436.6,470.8 429.5,471.7 424.3,472.5 421.0,473.3 419.5,473.9 417.9,474.3 416.1,474.4 414.2,474.2 412.1,473.8 410.2,473.3 408.4,472.6 406.8,471.9 405.4,471.1 404.2,470.2 403.2,469.4 402.5,468.6 402.1,467.8 402.1,466.8 402.5,465.8Z" fill="#ff9a38"/>
<path d="M342.0,566.5 341.8,554.8 341.8,545.5 342.0,538.4 342.4,533.6 343.1,531.1 343.8,528.7 344.6,526.4 345.6,524.2 346.6,522.1 347.6,520.2 348.7,518.6 349.7,517.1 350.8,515.9 352.0,514.7 353.3,513.7 354.8,512.8 356.5,511.9 358.3,511.4 360.1,511.2 362.1,511.3 364.2,511.7 366.3,512.2 368.4,512.7 370.5,513.3 372.5,513.9 374.6,514.5 376.7,515.1 378.8,515.8 380.9,516.4 382.6,517.3 384.1,518.4 385.2,519.8 386.1,521.5 387.1,523.1 388.4,524.5 389.8,525.9 391.5,527.1 393.3,528.2 395.1,529.2 397.1,529.9 399.2,530.6 401.2,531.3 403.1,532.1 404.8,533.1 406.5,534.1 408.0,535.3 409.2,536.7 410.2,538.2 411.1,539.8 411.8,543.7 412.4,549.7 413.0,558.0 413.4,568.4 409.2,576.2 400.5,581.4 387.1,584.0 369.2,584.0 355.7,581.1 346.7,575.2Z" fill="#ff9a38"/>
<path d="M379.8,539.5 381.5,539.3 383.2,539.4 384.8,539.8 386.5,540.6 388.2,541.6 389.6,544.9 390.9,550.6 391.9,558.5 392.8,568.7 392.2,576.3 390.4,581.4 387.1,584.0 382.5,584.0 379.2,581.2 377.1,575.7 376.3,567.4 376.7,556.4 377.4,548.1 378.5,542.4Z" fill="#ff8200"/>
<path d="M227.3,524.7 240.7,525.8 251.7,526.8 260.5,527.9 266.9,528.9 271.1,529.9 275.2,530.8 279.4,531.6 283.6,532.1 287.8,532.5 291.7,532.6 295.5,532.4 299.0,531.9 302.3,531.1 305.1,530.7 307.3,530.8 308.9,531.4 309.9,532.4 310.8,533.6 311.6,535.0 312.1,536.5 312.5,538.2 313.1,539.7 313.8,541.2 314.7,542.5 315.8,543.8 317.2,547.1 318.9,552.5 321.1,560.0 323.6,569.6 318.0,576.8 304.2,581.6 282.3,584.0 252.3,584.0 229.8,580.2 214.8,572.6 207.3,561.2 207.3,546.0 210.7,534.8 217.3,527.8Z" fill="#ff9a38"/>
</g>
<g clip-path="url(#c12)">
<rect x="424" y="404" width="180" height="154" fill="#ffb46c"/>
<path d="M432.3,423.5 433.7,422.0 435.3,420.7 437.2,419.6 439.4,418.6 441.9,417.8 444.4,417.2 446.9,417.0 449.4,417.1 451.9,417.5 454.1,418.3 456.0,419.5 457.5,421.0 458.8,422.9 459.8,424.7 460.5,426.4 461.0,428.2 461.2,429.8 461.0,431.4 460.4,432.9 459.3,434.2 457.9,435.5 456.1,436.4 454.2,437.0 451.9,437.3 449.4,437.3 446.9,437.2 444.4,436.9 441.9,436.4 439.4,435.8 437.2,435.1 435.4,434.4 433.8,433.6 432.5,432.8 431.6,431.8 430.9,430.6 430.5,429.3 430.5,427.9 430.7,426.4 431.4,424.9Z" fill="#ffd0a0"/>
<path d="M486.8,500.2 487.0,497.8 487.4,495.4 487.9,493.1 488.6,490.9 489.4,488.8 490.4,486.8 491.4,484.9 492.5,483.2 493.8,481.5 495.0,480.2 496.1,479.3 497.2,478.7 498.3,478.5 499.2,478.7 500.0,479.3 500.8,480.4 501.4,481.8 501.9,483.5 502.2,485.5 502.3,487.8 502.3,490.2 502.3,492.8 502.2,495.2 502.0,497.8 501.8,500.2 501.6,502.8 501.2,505.2 500.9,507.8 500.5,510.2 499.9,512.0 499.2,513.1 498.3,513.4 497.2,513.0 496.1,512.4 494.8,511.7 493.5,510.8 492.0,509.7 490.7,508.7 489.6,507.6 488.6,506.6 487.8,505.6 487.2,504.2 486.9,502.4Z" fill="#ffd0a0"/>
<path d="M402.0,404.6 411.8,405.0 419.3,405.6 424.4,406.3 427.1,407.2 427.5,408.3 427.6,409.3 427.3,410.2 426.6,411.1 425.6,411.9 422.5,412.5 417.4,413.0 410.2,413.2 401.1,413.2 394.2,412.6 389.6,411.4 387.3,409.7 387.3,407.4 389.8,405.8 394.7,404.9Z" fill="#ff9a38"/>
<path d="M401.4,462.1 410.8,462.5 417.9,463.2 422.6,464.0 425.1,465.0 425.4,466.3 423.3,467.5 418.9,468.6 412.2,469.7 403.3,470.8 396.4,471.6 391.6,472.2 388.9,472.6 388.3,472.9 387.8,472.3 387.5,470.9 387.3,468.8 387.3,465.9 389.7,463.8 394.4,462.5Z" fill="#ff9a38"/>
<path d="M479.0,383.6 479.0,394.4 479.2,403.2 479.6,409.8 480.2,414.4 481.1,416.9 481.9,419.3 482.8,421.6 483.6,423.8 484.4,425.9 485.4,427.8 486.4,429.6 487.5,431.2 488.8,432.6 490.2,433.8 491.9,434.6 493.8,435.1 495.9,435.4 498.0,435.6 500.0,435.8 502.1,436.0 504.2,436.2 506.2,436.6 508.2,437.1 510.1,437.8 512.0,438.6 513.5,439.7 514.7,441.0 515.5,442.6 515.9,444.5 516.1,446.3 516.1,448.1 515.9,449.8 515.5,451.5 514.9,453.2 514.2,454.8 513.3,456.5 512.2,458.2 511.1,459.9 510.0,461.8 508.8,463.8 507.5,465.9 506.5,468.0 505.6,470.0 504.9,472.1 504.4,474.2 504.0,476.4 503.7,478.7 503.5,481.1 503.4,483.6 503.2,486.1 503.0,488.6 502.7,491.1 502.4,493.6 502.3,496.0 502.3,498.3 502.4,500.5 502.7,502.5 503.2,504.4 503.9,506.1 504.7,507.5 505.8,508.8 506.8,510.1 507.7,511.6 508.6,513.2 509.4,514.8 510.5,516.3 511.7,517.5 513.2,518.6 514.8,519.4 516.7,519.9 518.8,520.1 521.1,520.0 523.6,519.6 525.9,519.4 528.0,519.4 529.8,519.6 531.5,520.0 533.2,520.2 534.8,520.2 536.5,520.0 538.2,519.6 539.8,519.2 541.5,518.8 543.2,518.4 544.8,518.0 546.6,517.8 548.5,517.8 550.5,518.0 552.5,518.4 554.2,519.0 555.5,519.8 556.3,520.9 556.7,522.1 557.3,523.3 558.2,524.3 559.2,525.2 560.5,526.1 561.9,526.8 563.6,527.3 565.5,527.6 567.5,527.9 569.3,528.4 570.8,529.2 571.9,530.4 572.8,531.8 573.8,532.7 575.0,533.0 576.5,532.8 578.2,531.9 579.8,531.1 581.5,530.2 583.2,529.4 584.8,528.6 586.3,528.4 587.5,528.8 588.6,529.8 589.4,531.5 589.9,533.3 590.1,535.1 590.0,537.1 589.6,539.2 589.8,540.5 590.7,540.9 592.1,540.5 594.2,539.2 598.5,538.2 604.9,537.3 613.6,536.7 624.4,536.3 632.5,525.5 638.0,504.2 640.7,472.5 640.7,430.5 630.6,398.9 610.4,377.9 580.0,367.3 539.6,367.3 509.3,370.0 489.1,375.5Z" fill="#ff9a38"/>
<path d="M561.4,422.5 562.8,420.8 564.5,419.3 566.5,417.8 568.8,416.5 571.2,415.2 573.6,414.1 575.9,413.0 578.1,412.1 580.2,411.2 582.2,410.9 584.1,411.1 585.8,411.9 587.5,413.1 589.1,414.5 590.5,415.9 591.9,417.5 593.1,419.2 594.6,420.7 596.2,422.2 598.1,423.5 600.2,424.8 604.1,425.8 609.8,426.5 617.3,426.9 626.7,427.1 633.7,428.6 638.3,431.4 640.7,435.5 640.7,440.9 638.0,445.0 632.7,447.8 624.8,449.4 614.2,449.6 605.9,449.9 599.7,450.1 595.8,450.3 594.2,450.5 592.4,450.4 590.5,450.0 588.5,449.3 586.5,448.2 584.5,447.0 582.6,445.7 580.8,444.2 579.2,442.5 577.4,440.9 575.5,439.5 573.5,438.1 571.5,436.9 569.5,435.7 567.6,434.7 565.8,433.8 564.2,432.9 562.8,431.9 561.6,430.6 560.7,429.2 560.1,427.5 560.0,425.8 560.4,424.2Z" fill="#ffb46c"/>
<path d="M529.8,413.7 531.5,413.5 533.2,413.5 534.8,413.8 536.5,414.4 538.2,415.2 539.5,416.3 540.6,417.7 541.3,419.3 541.7,421.2 541.8,423.0 541.6,424.8 541.1,426.5 540.2,428.2 539.4,429.7 538.6,431.0 537.8,432.2 536.9,433.3 536.6,434.2 536.8,435.0 537.5,435.8 538.8,436.4 539.9,437.2 541.0,438.1 541.9,439.2 542.8,440.5 543.2,441.8 543.2,443.3 542.8,444.8 541.9,446.5 541.1,448.3 540.2,450.1 539.4,452.1 538.6,454.2 537.5,456.0 536.3,457.4 534.8,458.6 533.2,459.4 531.4,460.1 529.5,460.6 527.5,461.0 525.5,461.2 523.6,461.2 521.9,461.0 520.5,460.6 519.2,459.9 518.4,459.1 518.1,457.9 518.3,456.5 518.9,454.8 519.7,453.2 520.8,451.5 522.0,449.8 523.5,448.2 524.9,446.4 526.2,444.5 527.5,442.5 528.8,440.5 529.8,438.7 530.7,437.2 531.3,436.1 531.7,435.2 531.8,434.3 531.6,433.3 531.1,432.1 530.2,430.9 529.4,429.5 528.6,428.1 527.8,426.5 526.9,424.8 526.4,423.1 526.2,421.2 526.3,419.2 526.7,417.1 527.4,415.5 528.5,414.4Z" fill="#ff8200"/>
<path d="M511.9,482.3 512.8,479.0 513.8,475.8 515.0,472.6 516.5,469.6 518.2,466.7 519.8,464.3 521.5,462.4 523.2,461.1 524.8,460.2 526.7,459.8 528.8,459.8 531.1,460.2 533.6,461.1 535.9,461.9 538.0,462.8 539.8,463.6 541.5,464.4 543.2,464.7 544.8,464.5 546.5,463.8 548.2,462.5 550.0,461.4 552.1,460.4 554.4,459.4 556.9,458.6 559.3,458.1 561.6,457.9 563.8,458.0 565.9,458.4 567.9,459.0 569.7,459.8 571.5,460.9 573.2,462.1 574.8,463.3 576.5,464.3 578.2,465.2 579.8,466.1 581.6,466.9 583.5,467.8 585.5,468.6 587.5,469.4 592.2,470.4 599.5,471.4 609.4,472.5 621.9,473.8 631.3,475.5 637.5,477.5 640.7,480.0 640.7,483.0 638.0,485.2 632.5,486.9 624.4,488.0 613.6,488.4 605.0,488.8 598.8,489.2 594.8,489.6 593.2,490.0 591.5,490.8 589.8,491.8 588.2,493.2 586.5,494.8 584.8,496.0 583.2,496.8 581.5,497.0 579.8,496.8 578.2,496.3 576.5,495.5 574.8,494.3 573.2,492.9 571.4,491.7 569.5,490.7 567.5,490.0 565.5,489.6 563.6,489.6 561.9,490.0 560.5,490.9 559.2,492.1 557.8,493.3 556.1,494.3 554.2,495.2 552.1,496.1 550.0,496.7 548.0,497.0 545.9,497.0 543.8,496.8 541.7,496.8 539.6,497.0 537.5,497.4 535.5,498.1 533.4,498.7 531.3,499.5 529.2,500.2 527.1,501.1 525.1,501.6 523.1,501.8 521.2,501.7 519.3,501.3 517.6,500.6 516.0,499.7 514.6,498.5 513.4,497.0 512.4,495.5 511.7,493.8 511.2,492.0 511.0,490.1 511.0,487.9 511.3,485.3Z" fill="#ff8200"/>
<path d="M614.6,534.2 625.0,533.8 632.9,534.0 638.1,534.9 640.7,536.5 640.7,538.7 638.0,540.4 632.7,541.6 624.7,542.2 614.1,542.4 606.2,542.1 601.0,541.2 598.5,539.7 598.7,537.8 601.4,536.2 606.8,535.0Z" fill="#ff8200"/>
<path d="M598.0,381.4 598.4,390.8 599.0,397.9 599.8,402.6 600.9,405.1 602.1,405.4 605.4,405.5 610.6,405.5 617.8,405.4 626.9,405.1 633.8,402.6 638.4,397.9 640.7,390.8 640.7,381.4 638.0,374.4 632.5,369.7 624.4,367.3 613.6,367.3 605.6,369.7 600.4,374.4Z" fill="#ffb46c"/>
<path d="M596.5,569.3 596.8,559.5 597.5,552.0 598.5,546.9 599.8,544.0 601.5,543.5 605.0,543.1 610.5,542.9 617.8,542.9 626.9,543.0 633.8,545.6 638.4,550.8 640.7,558.5 640.7,568.7 637.9,576.3 632.3,581.4 623.9,584.0 612.8,584.0 604.5,581.6 599.0,576.7Z" fill="#ffb46c"/>
</g>
<g clip-path="url(#c13)">
<rect x="604" y="404" width="180" height="154" fill="#ff9a38"/>
<path d="M658.4,566.5 658.0,554.8 657.9,545.5 658.1,538.4 658.6,533.6 659.4,531.1 660.7,529.0 662.3,527.3 664.4,526.1 666.9,525.2 669.2,524.8 671.3,524.8 673.2,525.2 674.8,526.1 676.4,526.3 677.9,525.9 679.2,524.8 680.5,523.2 681.7,521.5 682.8,519.8 683.9,518.2 684.9,516.5 685.5,515.0 685.5,513.8 684.9,512.8 683.9,511.9 682.6,511.3 681.0,510.9 679.2,510.7 677.1,510.7 675.2,510.5 673.4,510.2 671.8,509.7 670.4,509.1 669.4,508.4 669.0,507.5 669.1,506.6 669.7,505.6 670.7,504.6 672.1,503.6 673.8,502.8 675.9,501.9 678.2,500.9 680.7,499.8 683.4,498.5 686.3,497.0 689.1,495.6 691.8,494.1 694.4,492.6 696.9,491.2 699.2,489.7 701.3,488.1 703.2,486.5 704.8,484.8 706.2,483.2 707.4,481.7 708.3,480.1 708.9,478.7 709.2,477.3 709.3,476.1 709.0,474.9 708.5,473.9 708.4,473.0 708.7,472.3 709.4,471.7 710.6,471.3 712.0,471.0 713.6,470.8 715.5,470.8 717.5,470.9 719.6,470.9 721.7,470.8 723.8,470.6 725.9,470.3 727.8,470.2 729.4,470.4 730.9,470.9 732.1,471.6 733.3,472.5 734.3,473.5 735.2,474.7 736.1,476.1 737.1,477.1 738.4,477.8 739.8,478.0 741.5,478.0 743.6,477.9 746.1,477.9 749.0,477.8 752.3,477.8 755.3,477.6 758.0,477.0 760.3,476.1 762.2,475.0 763.8,473.5 764.9,471.5 765.5,469.1 765.8,466.4 765.8,463.9 765.7,461.6 765.4,459.7 764.8,458.1 764.8,456.9 765.4,456.1 766.5,455.7 768.2,455.7 769.8,455.9 771.5,456.3 773.2,456.9 774.8,457.8 776.5,458.5 778.2,459.3 779.8,459.9 781.5,460.6 785.0,461.1 790.5,461.5 797.8,461.8 806.9,462.0 813.8,469.8 818.4,485.1 820.7,508.0 820.7,538.4 810.6,561.2 790.4,576.4 760.0,584.0 719.6,584.0 689.2,581.1 668.8,575.2Z" fill="#ffb46c"/>
<path d="M805.7,460.2 795.7,461.1 787.9,462.0 782.2,463.1 778.8,464.2 777.5,465.5 776.6,467.0 776.0,468.9 775.7,471.1 775.7,473.6 775.5,476.1 775.0,478.6 774.4,481.1 773.6,483.6 772.6,486.1 771.6,488.6 770.5,491.1 769.2,493.6 768.1,495.9 767.2,498.0 766.4,499.8 765.8,501.5 765.4,503.3 765.1,505.1 765.1,507.1 765.4,509.2 765.8,511.0 766.6,512.4 767.5,513.6 768.8,514.4 770.0,515.4 771.3,516.4 772.5,517.5 773.8,518.8 774.6,520.4 775.0,522.2 775.0,524.4 774.6,526.9 773.9,529.1 772.9,531.0 771.5,532.5 769.8,533.8 768.2,534.8 766.5,535.7 764.8,536.3 763.2,536.7 761.5,537.3 759.8,538.2 758.2,539.2 756.5,540.5 755.0,544.0 753.8,549.8 752.8,558.0 751.9,568.4 755.7,576.2 764.0,581.4 776.9,584.0 794.4,584.0 807.5,576.2 816.3,560.6 820.7,537.1 820.7,505.9 818.2,482.6 813.2,467.4Z" fill="#ffd0a0"/>
<path d="M584.6,425.4 596.1,425.2 605.3,425.0 612.3,424.7 617.1,424.4 619.6,424.0 621.8,423.9 623.6,424.1 625.2,424.6 626.5,425.4 627.3,426.5 627.7,427.7 627.7,429.2 627.3,430.8 626.7,432.4 625.8,433.9 624.8,435.2 623.5,436.5 622.1,437.6 620.4,438.6 618.5,439.6 616.5,440.4 612.2,441.1 605.7,441.8 597.1,442.3 586.2,442.7 578.0,443.1 572.2,443.4 569.0,443.6 568.3,443.8 567.8,442.7 567.5,440.5 567.3,437.1 567.3,432.5 570.2,429.1 576.0,426.7Z" fill="#ffb46c"/>
<path d="M567.3,381.6 567.3,391.1 569.9,398.2 575.1,403.0 583.0,405.5 593.4,405.5 601.5,405.8 607.2,406.1 610.6,406.7 611.7,407.3 612.8,408.1 614.0,409.1 615.2,410.2 616.5,411.5 617.7,412.3 619.0,412.7 620.2,412.7 621.5,412.3 622.6,411.6 623.6,410.5 624.6,409.2 625.4,407.5 626.1,403.9 626.6,398.4 626.9,390.9 627.1,381.5 623.5,374.4 616.0,369.7 604.8,367.3 589.8,367.3 578.6,369.7 571.1,374.5Z" fill="#ffb46c"/>
<path d="M661.5,437.8 663.2,436.9 664.8,436.1 666.5,435.2 668.2,434.4 669.8,433.6 671.5,432.8 673.2,431.9 674.8,431.1 676.5,430.2 678.3,429.9 680.1,430.0 682.1,430.6 684.2,431.6 686.2,432.0 688.1,431.8 689.8,431.0 691.5,429.5 693.1,427.9 694.5,426.1 695.9,424.2 697.1,422.1 698.5,420.2 699.9,418.6 701.5,417.1 703.2,415.9 704.9,414.9 706.8,414.2 708.8,413.7 710.9,413.5 713.1,413.5 715.4,413.7 717.8,414.1 720.2,414.7 722.8,415.1 725.2,415.2 727.8,415.0 730.2,414.6 732.9,414.1 735.6,413.5 738.4,412.8 741.3,411.9 744.2,411.2 747.1,410.6 750.0,410.0 753.0,409.6 755.6,409.5 757.9,409.7 759.8,410.2 761.5,411.1 763.0,412.1 764.2,413.4 765.2,414.8 766.1,416.5 766.3,418.0 765.9,419.2 764.8,420.2 763.2,421.1 761.5,422.1 759.8,423.4 758.2,424.8 756.5,426.5 754.7,428.0 752.9,429.2 750.9,430.2 748.8,431.1 747.0,432.1 745.6,433.4 744.4,434.8 743.6,436.5 742.6,438.3 741.6,440.1 740.5,442.1 739.2,444.2 738.0,446.3 736.7,448.4 735.5,450.5 734.2,452.5 732.9,454.5 731.4,456.4 729.8,458.2 728.2,459.8 726.4,461.1 724.5,462.1 722.5,462.6 720.5,462.9 718.3,462.9 716.0,462.6 713.6,462.2 711.1,461.6 708.6,461.0 706.1,460.5 703.6,460.0 701.1,459.6 698.6,459.1 696.1,458.5 693.6,457.8 691.1,456.9 688.7,456.1 686.4,455.2 684.2,454.4 682.1,453.6 680.0,453.1 678.0,452.9 675.9,453.0 673.8,453.4 671.8,453.5 669.9,453.3 668.2,452.8 666.5,451.9 664.9,451.0 663.5,449.9 662.1,448.8 660.9,447.5 659.9,446.2 659.3,444.7 659.0,443.2 659.0,441.5 659.4,440.0 660.2,438.8Z" fill="#ff8200"/>
<path d="M656.5,452.8 658.2,451.9 660.0,451.5 662.1,451.5 664.4,451.9 666.9,452.8 669.3,453.7 671.6,454.7 673.8,455.9 675.9,457.1 677.8,458.6 679.4,460.2 680.9,462.1 682.1,464.2 683.2,466.4 684.0,468.7 684.6,471.1 685.0,473.6 685.2,476.1 685.2,478.6 685.0,481.1 684.6,483.6 683.9,485.8 682.9,487.6 681.5,489.2 679.8,490.5 678.2,491.4 676.5,492.2 674.8,492.6 673.2,492.9 671.6,492.6 670.1,492.0 668.8,491.0 667.5,489.5 666.3,487.8 665.2,485.8 664.1,483.6 663.1,481.1 662.1,478.6 661.1,476.1 660.2,473.6 659.4,471.1 658.5,468.8 657.6,466.7 656.6,464.8 655.6,463.2 654.8,461.5 654.3,459.8 654.0,458.2 654.0,456.5 654.4,455.0 655.2,453.8Z" fill="#ff8200"/>
<path d="M758.4,416.7 761.3,414.0 763.6,412.5 765.3,412.2 766.4,413.1 766.9,415.2 766.7,417.1 765.8,418.8 764.1,420.2 761.7,421.5 759.8,422.8 758.4,424.3 757.4,425.8 756.8,427.5 756.9,429.1 757.6,430.5 759.0,431.9 761.0,433.1 762.7,434.6 764.2,436.2 765.4,438.1 766.3,440.2 767.2,441.9 768.1,443.1 768.9,443.8 769.8,444.2 770.8,443.9 772.0,443.1 773.4,441.7 775.0,439.7 778.7,437.9 784.6,436.3 792.6,434.9 802.9,433.8 810.5,433.0 815.6,432.7 818.2,432.8 818.2,433.2 815.7,433.9 810.7,434.8 803.2,435.9 793.2,437.1 785.3,438.5 779.6,440.0 776.0,441.6 774.5,443.4 773.1,444.7 771.8,445.7 770.5,446.2 769.2,446.4 768.0,446.2 766.7,445.7 765.5,444.7 764.2,443.4 763.0,442.1 761.7,440.7 760.5,439.3 759.2,437.9 758.0,436.3 756.9,434.8 755.8,433.2 754.7,431.5 754.0,429.7 753.6,427.9 753.5,425.9 753.7,423.8 754.6,421.6 756.1,419.2Z" fill="#ff8200"/>
<path d="M583.6,476.4 594.4,475.8 603.0,475.2 609.2,474.8 613.2,474.5 614.8,474.3 616.0,474.5 616.6,475.0 616.7,475.9 616.3,477.1 615.7,478.4 614.8,479.6 613.8,480.9 612.5,482.1 608.9,483.3 602.9,484.3 594.4,485.2 583.6,486.1 575.5,486.1 570.0,485.2 567.3,483.6 567.3,481.1 570.0,479.1 575.5,477.5Z" fill="#ff8200"/>
<path d="M584.8,535.4 596.5,535.1 606.0,535.1 613.3,535.2 618.4,535.5 621.3,535.9 623.8,536.4 626.0,537.0 627.9,537.8 629.3,538.6 630.2,539.3 630.7,540.0 630.6,540.6 629.9,541.2 628.5,541.6 626.3,542.0 623.4,542.2 619.6,542.4 613.9,542.5 606.2,542.5 596.5,542.4 584.8,542.2 576.1,541.7 570.2,540.9 567.3,539.6 567.3,538.0 570.2,536.8 576.1,535.9Z" fill="#ff8200"/>
<path d="M582.3,542.7 592.3,542.4 600.2,542.3 606.1,542.4 609.8,542.8 611.5,543.2 612.9,546.1 614.1,551.4 614.9,559.0 615.6,569.0 613.0,576.5 607.1,581.5 598.1,584.0 585.8,584.0 576.6,581.4 570.4,576.3 567.3,568.7 567.3,558.5 569.8,550.8 574.8,545.5Z" fill="#ffb46c"/>
</g>
<g clip-path="url(#c14)">
<rect x="784" y="404" width="180" height="154" fill="#ffb46c"/>
<path d="M747.3,403.0 747.3,426.7 749.6,444.5 754.2,456.3 761.1,462.1 770.2,461.9 777.5,461.3 783.0,460.4 786.5,459.0 788.2,457.2 790.1,455.6 792.3,454.3 794.9,453.2 797.6,452.4 800.4,451.3 803.2,449.9 806.0,448.2 808.7,446.3 811.1,444.7 813.2,443.6 815.0,442.9 816.4,442.6 817.8,442.8 819.2,443.5 820.6,444.7 821.9,446.3 823.4,448.2 824.9,450.3 826.5,452.6 828.2,455.1 829.7,457.2 831.1,458.8 832.4,460.1 833.5,460.9 834.9,461.6 836.5,462.2 838.5,462.6 840.7,462.9 843.0,463.2 845.3,463.4 847.8,463.6 850.2,463.8 853.0,463.9 855.9,464.1 859.0,464.3 862.3,464.5 865.5,464.5 868.4,464.3 871.1,463.9 873.6,463.3 875.9,462.8 878.0,462.3 879.8,462.0 881.5,461.8 883.3,461.8 885.1,462.0 887.1,462.4 889.2,463.1 891.3,463.5 893.4,463.7 895.5,463.7 897.5,463.5 899.7,463.1 902.0,462.4 904.4,461.6 906.9,460.6 909.4,459.5 911.9,458.3 914.4,457.1 916.9,455.9 919.2,454.6 921.3,453.4 923.2,452.1 924.8,450.9 926.5,449.6 928.2,448.4 929.8,447.1 931.5,445.9 933.3,444.6 935.1,443.4 937.1,442.1 939.2,440.9 941.3,439.6 943.4,438.2 945.5,436.8 947.5,435.4 949.7,433.9 952.0,432.4 954.4,431.0 956.9,429.5 961.3,428.2 967.5,427.1 975.7,426.1 985.7,425.2 993.2,421.1 998.2,413.6 1000.7,402.8 1000.7,388.6 984.8,378.0 953.2,370.9 905.7,367.3 842.3,367.3 794.8,373.3 763.2,385.1Z" fill="#ff9a38"/>
<path d="M944.8,407.1 946.9,405.9 951.8,402.6 959.5,397.4 970.0,390.2 983.3,381.1 993.3,376.9 999.8,377.8 1003.0,383.6 1002.8,394.4 1002.4,403.1 1001.9,409.5 1001.2,413.8 1000.4,415.9 997.5,417.7 992.5,419.3 985.4,420.6 976.2,421.6 968.9,422.3 963.4,422.6 959.7,422.5 957.8,422.1 955.9,421.4 953.9,420.5 951.9,419.3 949.8,417.9 947.9,416.3 946.2,414.8 944.8,413.2 943.5,411.5 943.1,409.9 943.5,408.5Z" fill="#ffb46c"/>
<path d="M786.5,364.0 788.2,364.0 790.0,364.2 792.1,364.5 794.4,364.9 796.9,365.6 799.3,366.2 801.6,367.0 803.8,367.8 805.9,368.7 807.5,371.7 808.8,377.0 809.6,384.4 810.0,394.0 810.1,401.5 809.9,406.9 809.4,410.2 808.6,411.5 807.6,412.7 806.6,413.8 805.5,414.9 804.2,415.9 802.8,416.7 801.1,417.2 799.2,417.5 797.1,417.5 795.4,417.1 793.9,416.4 792.8,415.3 791.9,413.9 791.2,412.3 790.5,410.8 789.9,409.2 789.4,407.5 788.8,404.0 788.1,398.7 787.2,391.5 786.3,382.5 785.5,375.4 784.9,370.3 784.5,367.1 784.3,365.9 784.6,364.9 785.3,364.3Z" fill="#ff8200"/>
<path d="M763.0,465.9 773.4,466.1 781.5,466.6 787.3,467.2 790.9,468.1 792.1,469.1 793.4,469.9 794.6,470.4 795.9,470.7 797.1,470.7 798.6,470.4 800.2,469.7 802.1,468.8 804.2,467.5 806.1,466.9 807.9,466.9 809.5,467.5 811.0,468.8 812.2,470.2 813.3,471.9 814.1,473.8 814.7,475.9 815.1,478.0 815.2,480.0 815.0,482.1 814.6,484.2 814.1,486.4 813.5,488.7 812.8,491.1 811.9,493.6 811.2,495.9 810.6,498.0 810.0,499.8 809.6,501.5 808.7,502.8 807.2,503.7 805.2,504.3 802.8,504.5 800.4,504.8 798.1,505.1 795.9,505.5 793.8,505.9 791.8,506.4 789.9,507.2 788.2,508.1 786.5,509.1 783.0,510.0 777.5,510.7 770.2,511.3 761.1,511.7 754.2,509.1 749.6,503.4 747.3,494.8 747.3,483.1 749.9,474.3 755.1,468.6Z" fill="#ffd0a0"/>
<path d="M834.8,485.5 836.5,484.2 838.2,483.1 839.8,482.2 841.5,481.4 843.2,480.8 844.9,480.5 846.8,480.5 848.8,480.8 850.9,481.4 852.8,482.3 854.4,483.4 855.9,484.8 857.1,486.5 858.5,488.1 859.9,489.5 861.5,490.9 863.2,492.1 864.7,493.5 866.2,494.9 867.5,496.5 868.8,498.2 869.9,499.8 871.0,501.5 871.9,503.2 872.8,504.8 873.6,506.7 874.4,508.8 875.2,511.1 876.1,513.6 876.9,516.1 877.8,518.6 878.6,521.1 879.4,523.6 879.8,525.8 879.8,527.6 879.4,529.2 878.6,530.5 877.5,531.4 876.3,532.2 874.8,532.6 873.2,532.9 871.5,532.8 869.8,532.3 868.2,531.6 866.5,530.6 864.8,529.9 863.2,529.6 861.5,529.6 859.8,530.0 858.2,530.7 856.5,531.5 854.8,532.5 853.2,533.8 851.4,534.8 849.5,535.7 847.5,536.3 845.5,536.7 843.5,537.3 841.6,538.2 839.8,539.2 838.2,540.5 836.7,544.0 835.5,549.8 834.4,558.0 833.6,568.4 832.6,576.2 831.6,581.4 830.5,584.0 829.2,584.0 828.4,581.1 828.0,575.2 828.0,566.5 828.4,554.8 828.8,545.5 829.2,538.4 829.6,533.6 830.0,531.1 830.8,528.8 831.8,526.7 833.2,524.8 834.8,523.2 836.4,521.3 837.9,519.2 839.2,516.9 840.5,514.4 841.4,511.9 842.0,509.4 842.3,506.9 842.3,504.4 842.0,502.0 841.4,499.7 840.5,497.5 839.2,495.5 838.0,493.6 836.7,491.9 835.5,490.5 834.2,489.2 833.7,488.0 833.9,486.7Z" fill="#ffd0a0"/>
<path d="M934.3,474.2 936.6,472.1 938.9,469.7 941.3,467.0 943.8,464.0 946.2,460.7 948.8,457.4 951.2,454.3 953.8,451.3 956.2,448.4 960.7,445.9 967.0,443.9 975.2,442.4 985.4,441.4 993.0,446.8 998.1,458.5 1000.7,476.7 1000.7,501.3 998.1,519.9 993.0,532.4 985.4,539.0 975.2,539.5 967.1,540.1 960.9,540.8 956.6,541.5 954.4,542.2 952.1,543.0 949.9,544.0 947.7,545.0 945.5,546.0 943.4,546.6 941.5,546.6 939.7,546.0 938.0,545.0 936.1,544.3 933.8,544.1 931.3,544.3 928.5,545.0 925.6,545.6 922.5,546.1 919.3,546.6 916.0,547.0 912.9,547.2 910.2,547.0 907.7,546.5 905.5,545.8 903.4,544.8 901.6,543.6 899.9,542.2 898.3,540.6 897.0,539.1 896.0,537.8 895.2,536.6 894.8,535.6 894.3,533.9 893.8,531.8 893.4,529.0 893.0,525.7 892.7,522.3 892.6,519.0 892.6,515.7 892.9,512.3 893.4,509.4 894.4,506.9 895.7,504.7 897.4,503.0 899.3,501.6 901.4,500.5 903.8,499.8 906.2,499.5 908.9,499.5 911.6,499.7 914.4,500.2 917.3,501.1 920.0,502.0 922.5,502.9 924.8,503.9 926.9,504.9 929.0,505.4 931.0,505.1 933.1,504.3 935.2,502.9 937.2,501.6 939.1,500.4 940.8,499.4 942.5,498.6 943.1,497.9 942.7,497.2 941.2,496.7 938.8,496.3 936.7,495.5 935.2,494.2 934.1,492.5 933.4,490.5 932.9,488.3 932.3,486.0 931.9,483.6 931.5,481.1 931.7,478.7 932.7,476.4Z" fill="#ffd0a0"/>
<path d="M868.8,537.8 870.9,536.9 873.1,536.2 875.4,535.6 877.8,535.0 880.2,534.6 882.5,534.4 884.6,534.4 886.5,534.6 888.2,535.0 889.8,535.5 891.5,535.9 893.2,536.3 894.8,536.7 896.3,539.9 897.5,546.0 898.6,554.8 899.4,566.5 897.8,575.2 893.6,581.1 886.9,584.0 877.8,584.0 871.0,581.2 866.6,575.6 864.6,567.1 865.0,555.9 865.9,547.2 867.1,541.2Z" fill="#ffb46c"/>
<path d="M763.6,509.7 774.4,509.1 782.6,509.0 788.3,509.4 791.3,510.4 791.7,511.8 792.0,513.3 792.2,514.9 792.2,516.5 792.1,518.2 792.1,519.8 792.2,521.5 792.4,523.2 792.7,524.8 793.0,526.3 793.2,527.5 793.5,528.5 793.7,529.2 794.5,529.8 795.8,530.4 797.8,530.8 800.2,531.1 802.6,531.1 804.9,530.8 807.1,530.2 809.2,529.4 811.1,529.4 812.8,530.1 814.2,531.6 815.5,533.9 816.7,535.8 818.0,537.4 819.2,538.6 820.5,539.4 821.8,540.4 823.3,541.4 824.8,542.5 826.5,543.8 827.9,547.1 828.9,552.5 829.6,560.0 830.0,569.6 825.1,576.8 814.9,581.6 799.4,584.0 778.6,584.0 763.0,579.4 752.5,570.2 747.3,556.5 747.3,538.2 750.0,524.3 755.5,514.8Z" fill="#ffd0a0"/>
<path d="M798.3,569.6 798.9,560.0 799.7,552.7 800.8,547.7 802.0,544.9 803.5,544.4 805.0,544.1 806.7,544.0 808.5,544.1 810.4,544.4 812.0,547.1 813.5,552.1 814.7,559.5 815.8,569.3 815.3,576.7 813.3,581.6 809.8,584.0 804.8,584.0 801.2,581.6 799.1,576.8Z" fill="#ffecd9"/>
</g>
<g clip-path="url(#c15)">
<rect x="964" y="404" width="116" height="154" fill="#ffb46c"/>
<path d="M934.3,474.2 936.6,472.1 938.9,469.7 941.3,467.0 943.8,464.0 946.2,460.7 948.8,457.4 951.2,454.3 953.8,451.3 956.2,448.4 958.9,445.8 961.6,443.6 964.4,441.8 967.3,440.4 970.4,439.2 973.8,438.2 977.3,437.5 981.0,437.1 984.8,436.8 988.5,436.4 992.3,436.2 996.0,436.0 999.6,436.1 1002.9,436.5 1006.0,437.2 1009.0,438.3 1011.5,439.6 1013.7,441.3 1015.5,443.3 1017.0,445.6 1018.2,448.0 1019.1,450.6 1019.8,453.4 1020.2,456.3 1020.4,459.2 1020.4,462.1 1020.2,465.0 1019.8,468.0 1018.9,470.7 1017.6,473.2 1015.7,475.5 1013.4,477.5 1011.1,479.5 1008.7,481.4 1006.2,483.2 1003.8,484.8 1001.3,486.7 998.9,488.6 996.6,490.8 994.3,493.1 992.1,494.7 990.0,495.6 988.0,495.9 986.1,495.5 984.2,495.3 982.2,495.4 980.2,495.8 978.1,496.4 976.9,497.3 976.5,498.4 976.9,499.8 978.1,501.5 979.5,503.3 980.9,505.1 982.5,507.1 984.2,509.2 985.8,511.1 987.5,512.8 989.2,514.2 990.8,515.5 992.6,516.5 994.5,517.3 996.5,518.0 998.5,518.4 1000.3,518.9 1001.6,519.7 1002.6,520.6 1003.2,521.6 1003.3,522.8 1002.9,524.0 1002.0,525.4 1000.5,526.8 998.7,528.2 996.5,529.4 994.0,530.6 991.0,531.6 987.8,532.5 984.3,533.4 980.4,534.1 976.2,534.7 972.2,535.4 968.2,536.1 964.4,536.9 960.6,537.8 957.0,538.8 953.4,540.0 950.0,541.5 946.7,543.2 943.6,544.2 940.9,544.6 938.5,544.4 936.5,543.6 933.9,545.6 930.7,550.4 927.1,558.0 922.9,568.4 916.5,576.2 907.7,581.4 896.7,584.0 883.3,584.0 873.3,578.7 866.7,568.2 863.3,552.4 863.3,531.4 866.2,515.6 872.1,504.9 880.8,499.5 892.5,499.3 902.0,499.4 909.3,499.7 914.4,500.2 917.3,501.1 920.0,502.0 922.5,502.9 924.8,503.9 926.9,504.9 929.0,505.4 931.0,505.1 933.1,504.3 935.2,502.9 937.2,501.6 939.1,500.4 940.8,499.4 942.5,498.6 943.1,497.9 942.7,497.2 941.2,496.7 938.8,496.3 936.7,495.5 935.2,494.2 934.1,492.5 933.4,490.5 932.9,488.3 932.3,486.0 931.9,483.6 931.5,481.1 931.7,478.7 932.7,476.4Z" fill="#ffd0a0"/>
<path d="M880.8,462.2 892.5,461.6 902.0,460.8 909.3,459.9 914.4,458.8 917.3,457.5 920.2,456.1 923.1,454.4 926.0,452.5 929.0,450.5 931.8,448.4 934.5,446.3 937.1,444.2 939.6,442.1 942.2,439.9 944.9,437.6 947.7,435.2 950.6,432.8 953.5,430.5 956.5,428.4 959.4,426.5 962.3,424.8 965.2,423.4 968.1,422.3 971.0,421.4 974.0,420.8 976.7,420.0 979.2,419.2 981.5,418.3 983.5,417.2 985.6,416.3 987.7,415.6 989.8,415.0 991.9,414.6 994.2,414.5 996.7,414.7 999.4,415.2 1002.3,416.1 1005.3,417.1 1008.4,418.4 1011.7,419.8 1015.0,421.5 1018.6,423.2 1022.6,424.8 1026.9,426.5 1031.5,428.2 1034.9,425.5 1037.2,418.4 1038.3,406.9 1038.3,391.1 1027.4,379.2 1005.5,371.3 972.7,367.3 929.0,367.3 896.1,373.3 874.3,385.3 863.3,403.3 863.3,427.2 866.2,445.0 872.1,456.7Z" fill="#ff9a38"/>
<path d="M944.8,407.1 946.9,405.9 949.7,402.6 953.2,397.4 957.5,390.2 962.5,381.1 966.2,376.9 968.6,377.8 969.7,383.6 969.5,394.4 969.1,403.1 968.6,409.5 967.9,413.8 967.1,415.9 966.2,417.7 965.4,419.3 964.6,420.6 963.8,421.6 962.7,422.3 961.3,422.6 959.7,422.5 957.8,422.1 955.9,421.4 953.9,420.5 951.9,419.3 949.8,417.9 947.9,416.3 946.2,414.8 944.8,413.2 943.5,411.5 943.1,409.9 943.5,408.5Z" fill="#ffb46c"/>
<path d="M997.1,568.4 999.6,558.0 1002.3,550.0 1005.2,544.5 1008.3,541.4 1011.7,540.8 1015.5,540.1 1019.9,539.5 1024.8,538.9 1030.2,538.3 1034.3,540.7 1037.0,546.2 1038.3,554.8 1038.3,566.5 1035.5,575.2 1029.9,581.1 1021.5,584.0 1010.2,584.0 1002.4,581.4 998.0,576.2Z" fill="#ff9a38"/>
</g>
<g clip-path="url(#c20)">
<rect x="64" y="548" width="180" height="154" fill="#ffd0a0"/>
<path d="M20.7,533.7 20.7,553.1 23.4,567.6 28.8,577.3 36.9,582.2 47.8,582.2 56.5,582.4 63.2,582.8 67.8,583.4 70.2,584.2 73.1,585.1 76.2,586.1 79.6,587.1 83.4,588.1 87.2,589.0 91.2,589.8 95.2,590.4 99.4,590.9 103.5,591.4 107.4,591.9 111.3,592.5 115.0,593.0 118.7,593.7 122.2,594.5 125.7,595.4 129.0,596.4 132.3,597.6 135.7,599.0 139.0,600.5 142.3,602.2 145.7,603.7 149.0,605.0 152.3,606.2 155.7,607.3 158.9,608.2 162.0,608.9 165.0,609.5 168.0,609.9 170.9,610.0 173.8,609.8 176.7,609.2 179.6,608.4 182.5,607.6 185.5,606.8 188.4,605.9 191.3,605.1 194.0,604.3 196.5,603.6 198.8,602.9 200.9,602.3 202.6,601.5 203.9,600.6 204.9,599.5 205.6,598.2 205.9,596.9 205.9,595.4 205.6,593.8 204.9,592.2 204.6,590.6 204.5,589.1 204.6,587.8 205.0,586.5 205.9,585.4 207.1,584.4 208.8,583.4 210.9,582.6 213.5,581.9 216.6,581.4 220.2,581.0 224.4,580.8 228.4,580.7 232.1,580.7 235.7,580.8 239.0,581.0 244.2,581.2 251.3,581.3 260.2,581.3 271.1,581.3 279.2,576.5 284.6,567.0 287.3,552.6 287.3,533.4 270.7,519.0 237.3,509.5 187.3,504.7 120.7,504.7 70.7,509.5 37.3,519.2Z" fill="#ffb46c"/>
<path d="M20.7,525.6 20.7,539.6 23.4,550.0 28.8,557.0 36.9,560.5 47.8,560.5 56.9,560.7 64.4,561.0 70.2,561.4 74.4,562.1 79.1,562.6 84.3,563.2 90.0,563.6 96.3,564.0 102.5,564.4 108.8,564.6 115.0,564.7 121.3,564.7 127.5,564.7 133.8,564.8 140.0,565.0 146.3,565.2 152.5,565.4 158.8,565.8 165.0,566.1 171.3,566.5 177.5,566.8 183.8,566.8 190.0,566.7 196.3,566.4 202.5,566.2 208.8,566.1 215.0,566.1 221.3,566.2 226.8,566.4 231.6,566.6 235.7,566.8 239.0,567.2 244.2,567.4 251.3,567.6 260.2,567.7 271.1,567.7 279.2,563.7 284.6,555.9 287.3,544.0 287.3,528.3 270.7,516.5 237.3,508.6 187.3,504.7 120.7,504.7 70.7,508.2 37.3,515.1Z" fill="#ff9a38"/>
<path d="M92.5,619.1 93.8,617.7 95.4,616.4 97.2,615.4 99.4,614.6 101.9,613.9 104.5,613.5 107.2,613.3 110.0,613.3 113.0,613.5 115.7,613.9 118.2,614.6 120.5,615.4 122.5,616.4 124.3,617.7 125.8,619.3 126.9,621.1 127.8,623.2 128.2,625.3 128.3,627.4 128.1,629.5 127.4,631.5 126.8,633.6 126.0,635.7 125.2,637.8 124.4,639.9 124.3,642.0 124.8,644.0 126.0,646.1 127.9,648.2 129.6,650.2 131.1,652.2 132.5,654.1 133.8,656.0 134.4,657.9 134.4,659.8 133.8,661.6 132.5,663.5 131.1,665.3 129.4,667.1 127.5,668.8 125.5,670.5 123.4,672.2 121.3,673.8 119.2,675.5 117.1,677.2 114.9,678.4 112.6,679.1 110.2,679.4 107.8,679.1 105.1,678.8 102.4,678.4 99.6,677.9 96.7,677.3 93.9,676.3 91.2,674.9 88.6,673.2 86.1,671.1 83.7,669.0 81.4,667.0 79.2,664.9 77.1,662.8 75.2,660.7 73.6,658.6 72.1,656.5 70.9,654.5 70.1,652.4 69.9,650.4 70.2,648.5 71.1,646.6 72.3,645.0 74.0,643.7 76.1,642.6 78.6,641.8 80.9,641.0 83.0,640.2 84.8,639.6 86.5,638.9 87.8,637.9 88.7,636.6 89.3,634.9 89.5,632.8 89.7,630.7 89.9,628.6 90.1,626.5 90.4,624.5 90.8,622.5 91.6,620.8Z" fill="#ffecd9"/>
<path d="M146.5,680.5 148.2,678.8 149.9,677.1 151.8,675.2 153.8,673.2 155.9,671.1 158.2,669.0 160.7,667.0 163.4,664.9 166.3,662.8 169.3,660.9 172.4,659.2 175.7,657.8 179.0,656.5 182.1,655.2 185.0,653.7 187.8,652.2 190.2,650.5 192.5,648.7 194.5,646.9 196.2,644.9 197.6,642.8 198.8,640.7 199.6,638.6 200.1,636.5 200.4,634.5 200.8,632.5 201.6,630.8 202.5,629.1 203.8,627.7 205.5,626.4 207.5,625.4 210.0,624.6 213.0,623.9 216.0,623.4 219.1,623.0 222.3,622.7 225.7,622.5 231.3,622.3 239.2,622.1 249.4,621.9 261.9,621.6 271.3,628.2 277.5,641.4 280.7,661.3 280.7,688.0 272.5,708.0 256.3,721.3 231.9,728.0 199.4,728.0 174.7,725.5 157.9,720.5 148.8,713.0 147.5,703.0 146.5,695.2 145.7,689.6 145.0,686.1 144.6,684.9 144.7,683.5 145.4,682.1Z" fill="#ffecd9"/>
<path d="M231.7,650.1 233.0,649.2 234.3,649.0 235.6,649.3 237.0,650.2 238.5,651.6 239.7,653.2 240.8,654.7 241.6,656.3 242.2,658.0 242.1,659.2 241.3,660.1 239.7,660.5 237.4,660.5 235.6,660.2 234.1,659.6 233.1,658.6 232.4,657.4 231.9,656.2 231.3,655.0 230.9,653.9 230.5,652.9 230.5,651.9 230.9,651.0Z" fill="#ffffff"/>
</g>
<g clip-path="url(#c21)">
<rect x="244" y="548" width="180" height="154" fill="#ffd0a0"/>
<path d="M207.3,537.9 207.3,555.6 210.5,569.1 216.7,578.4 226.1,583.4 238.6,584.2 249.0,585.0 257.3,585.8 263.6,586.4 267.8,587.1 271.9,587.9 276.1,588.9 280.2,590.2 284.4,591.6 288.6,593.0 292.8,594.2 296.9,595.4 301.1,596.4 305.0,597.5 308.8,598.7 312.3,599.9 315.7,601.1 319.0,602.4 322.3,603.6 325.7,604.9 329.0,606.1 332.1,607.4 335.0,608.6 337.8,609.9 340.2,611.1 342.4,612.5 344.3,613.9 345.9,615.5 347.1,617.2 348.2,618.9 349.2,620.8 349.9,622.8 350.6,624.9 351.1,627.1 351.5,629.4 351.8,631.8 352.0,634.2 352.2,636.8 352.3,639.2 352.5,641.8 352.5,644.2 352.5,647.0 352.4,649.9 352.2,653.0 351.9,656.3 351.6,659.7 351.3,663.0 350.9,666.3 350.5,669.7 350.1,675.5 349.8,683.8 349.5,694.7 349.3,708.0 349.8,718.0 350.9,724.7 352.8,728.0 355.2,728.0 357.2,725.1 358.7,719.2 359.6,710.5 360.0,698.8 360.6,689.2 361.2,681.8 361.9,676.3 362.8,673.0 363.7,669.9 364.7,667.0 365.9,664.2 367.1,661.8 368.5,659.5 369.9,657.4 371.5,655.5 373.2,653.8 374.9,652.5 376.8,651.4 378.8,650.7 380.9,650.3 382.9,650.2 384.7,650.4 386.5,650.9 388.2,651.8 389.6,653.0 390.9,654.7 391.9,656.8 392.8,659.2 393.3,661.9 393.6,664.6 393.7,667.4 393.5,670.3 393.4,673.1 393.4,675.8 393.5,678.4 393.7,680.9 394.2,685.5 394.9,692.2 395.9,700.9 397.1,711.8 401.9,719.9 410.2,725.3 422.1,728.0 437.5,728.0 449.1,714.5 456.8,687.4 460.7,646.8 460.7,592.6 444.8,552.0 413.2,524.9 365.7,511.3 302.3,511.3 254.8,515.8 223.2,524.6Z" fill="#ffb46c"/>
<path d="M445.7,624.9 435.7,626.1 427.9,627.7 422.2,629.6 418.8,631.8 417.5,634.2 416.3,636.6 415.0,638.9 413.8,641.1 412.5,643.2 411.2,644.9 409.7,646.1 408.2,647.0 406.5,647.4 404.8,647.7 403.2,647.9 401.5,648.0 399.8,648.0 398.2,648.3 396.7,648.9 395.1,649.9 393.7,651.1 392.5,652.5 391.7,653.9 391.2,655.5 391.0,657.2 391.0,658.7 391.3,660.2 391.9,661.5 392.8,662.8 393.9,663.6 395.4,664.0 397.1,664.0 399.2,663.6 401.3,663.3 403.4,663.1 405.5,663.0 407.5,663.0 409.5,663.3 411.4,663.9 413.2,664.9 414.8,666.1 416.4,667.6 417.9,669.2 419.2,671.1 420.5,673.2 423.8,675.1 429.2,676.8 436.7,678.2 446.3,679.5 453.5,676.8 458.3,670.1 460.7,659.5 460.7,644.9 458.2,634.2 453.2,627.6Z" fill="#ffd0a0"/>
<path d="M207.3,532.3 207.3,546.2 210.7,556.8 217.3,564.0 227.3,567.8 240.7,568.2 251.7,568.6 260.5,569.0 266.9,569.5 271.1,569.9 275.2,570.5 279.4,571.3 283.6,572.4 287.8,573.6 291.9,575.0 296.1,576.6 300.2,578.3 304.4,580.2 308.4,582.1 312.1,583.9 315.7,585.8 319.0,587.7 322.1,589.5 325.0,591.3 327.8,593.0 330.2,594.7 332.8,596.3 335.2,597.8 337.8,599.4 340.2,600.8 342.6,602.2 344.9,603.6 347.1,604.9 349.2,606.1 351.1,607.5 352.8,608.9 354.2,610.5 355.5,612.2 356.5,614.0 357.3,616.1 358.0,618.4 358.4,620.9 358.7,623.6 359.1,626.5 359.3,629.7 359.5,633.0 359.7,636.3 359.9,639.7 360.1,643.0 360.4,646.3 360.7,649.0 361.1,651.1 361.6,652.6 362.2,653.4 363.0,653.6 363.8,653.2 364.7,652.2 365.8,650.5 367.1,648.8 368.6,647.2 370.5,645.5 372.5,643.8 374.7,642.4 377.0,641.3 379.4,640.4 381.9,639.8 384.3,639.5 386.6,639.5 388.8,639.8 390.9,640.4 392.9,640.7 394.7,640.6 396.5,640.1 398.2,639.2 399.8,638.2 401.5,637.0 403.2,635.5 404.8,633.8 406.5,632.2 408.2,630.5 409.8,628.8 411.5,627.2 413.2,625.6 414.8,624.1 416.5,622.8 418.2,621.5 421.9,620.5 427.8,619.7 435.7,619.0 445.7,618.6 453.2,611.6 458.2,598.1 460.7,578.0 460.7,551.3 444.8,531.3 413.2,518.0 365.7,511.3 302.3,511.3 254.8,514.8 223.2,521.8Z" fill="#ff9a38"/>
<path d="M381.7,528.8 381.3,540.5 380.9,550.0 380.5,557.3 380.0,562.4 379.6,565.3 379.0,568.0 378.2,570.5 377.1,572.8 375.9,574.9 374.5,576.5 373.1,577.8 371.5,578.6 369.8,579.0 368.2,579.2 366.5,579.1 364.8,578.7 363.2,578.1 361.8,577.8 360.8,577.8 360.0,578.1 359.6,578.7 359.8,579.5 360.7,580.3 362.1,581.2 364.2,582.3 366.3,583.4 368.4,584.7 370.5,586.0 372.5,587.5 374.5,589.1 376.4,590.9 378.2,592.8 379.8,594.9 381.4,597.0 382.9,599.0 384.2,601.1 385.5,603.2 386.7,605.3 388.0,607.4 389.2,609.5 390.5,611.5 391.7,613.5 393.0,615.4 394.2,617.2 395.5,618.8 396.8,620.2 398.3,621.2 399.8,622.0 401.5,622.4 403.3,622.5 405.1,622.3 407.1,621.8 409.2,620.9 411.2,620.2 413.1,619.6 414.8,619.0 416.5,618.6 417.6,617.6 418.3,615.9 418.4,613.6 418.0,610.7 417.5,607.8 417.1,604.9 416.7,602.0 416.3,599.0 416.3,596.0 416.7,592.9 417.5,589.7 418.8,586.3 419.6,583.3 420.0,580.6 420.0,578.2 419.6,576.1 418.9,574.0 417.9,572.0 416.5,569.9 414.8,567.8 413.1,565.8 411.2,563.9 409.2,562.2 407.1,560.5 405.2,558.8 403.6,557.2 402.1,555.5 400.9,553.8 399.7,550.1 398.7,544.2 397.8,536.3 396.9,526.3 395.5,518.8 393.4,513.8 390.7,511.3 387.3,511.3 384.7,514.2 382.9,520.1Z" fill="#ff8200"/>
<path d="M224.8,622.5 236.5,622.7 246.0,623.0 253.3,623.4 258.4,623.9 261.3,624.6 263.7,625.4 265.7,626.4 267.2,627.7 268.3,629.1 269.1,631.0 269.7,633.2 270.1,635.7 270.4,638.6 270.4,641.5 270.3,644.5 270.0,647.4 269.6,650.3 269.0,653.1 268.2,655.8 267.1,658.4 265.9,660.9 264.7,663.4 263.5,665.9 262.4,668.4 261.4,670.9 260.7,673.4 260.2,675.9 260.1,678.4 260.4,680.9 260.9,685.5 261.7,692.2 262.9,700.9 264.3,711.8 261.7,719.9 255.0,725.3 244.3,728.0 229.5,728.0 218.4,721.4 211.0,708.2 207.3,688.3 207.3,661.9 210.2,642.1 216.1,628.9Z" fill="#ffecd9"/>
<path d="M309.8,618.5 311.5,618.3 313.3,618.5 315.1,619.0 317.1,619.9 319.2,621.1 321.2,622.4 323.1,623.6 324.8,624.9 326.5,626.1 328.0,627.6 329.2,629.2 330.2,631.1 331.1,633.2 331.9,635.5 332.6,638.0 333.3,640.7 333.9,643.6 334.1,646.0 333.9,647.9 333.3,649.2 332.2,650.1 331.2,650.3 330.1,649.9 329.1,648.8 328.1,647.2 327.1,645.3 326.1,643.2 325.2,640.9 324.4,638.4 323.4,636.1 322.3,634.0 321.0,632.2 319.5,630.5 318.0,629.1 316.3,627.9 314.5,627.1 312.6,626.4 311.1,625.6 309.8,624.4 308.9,623.0 308.3,621.3 308.2,620.0 308.7,619.1Z" fill="#ffecd9"/>
</g>
<g clip-path="url(#c22)">
<rect x="424" y="548" width="180" height="154" fill="#ffb46c"/>
<path d="M458.8,576.2 460.9,575.6 463.3,575.1 466.0,574.7 469.0,574.4 472.3,574.1 475.7,574.2 479.0,574.7 482.3,575.4 485.7,576.4 487.5,577.4 488.0,578.4 486.9,579.2 484.4,580.1 482.2,581.1 480.4,582.4 478.8,583.8 477.5,585.5 476.4,587.1 475.4,588.7 474.4,590.2 473.6,591.6 473.7,592.9 474.7,593.9 476.7,594.8 479.6,595.4 482.6,596.1 485.8,596.8 489.0,597.6 492.3,598.4 495.7,599.5 499.0,600.7 502.3,602.2 505.7,603.8 509.0,605.6 512.3,607.5 515.7,609.5 519.0,611.5 522.3,613.4 525.7,615.1 529.0,616.5 532.3,617.8 535.2,619.2 537.8,620.9 539.8,622.8 541.5,624.9 543.2,627.0 544.8,629.0 546.5,631.1 548.2,633.2 549.8,635.3 551.5,637.4 553.2,639.5 554.8,641.5 556.3,643.6 557.5,645.7 558.6,647.8 559.4,649.9 559.7,652.2 559.5,654.7 558.8,657.4 557.5,660.3 556.4,663.1 555.4,665.8 554.4,668.4 553.6,670.9 553.2,673.4 553.2,675.9 553.6,678.4 554.4,680.9 555.2,685.5 556.1,692.2 556.9,700.9 557.8,711.8 547.6,719.9 526.6,725.3 494.6,728.0 451.7,728.0 419.5,722.0 398.1,709.9 387.3,691.8 387.3,667.6 390.0,649.1 395.5,636.4 403.6,629.5 414.4,628.2 423.1,626.5 429.5,624.5 433.8,622.0 435.9,619.0 437.9,616.0 439.7,612.9 441.5,609.7 443.2,606.3 444.7,603.0 446.2,599.7 447.5,596.3 448.8,593.0 450.0,589.8 451.3,586.8 452.5,583.9 453.8,581.2 455.2,579.0 456.9,577.4Z" fill="#ffd0a0"/>
<path d="M483.2,626.7 484.8,626.4 486.7,626.4 488.8,626.8 491.1,627.4 493.6,628.3 496.0,629.3 498.3,630.4 500.5,631.5 502.5,632.8 504.0,634.4 504.8,636.2 505.0,638.4 504.6,640.9 504.2,643.2 503.8,645.3 503.4,647.2 503.0,648.8 502.2,650.4 501.2,651.8 499.8,653.1 498.2,654.2 496.4,655.0 494.5,655.5 492.5,655.5 490.5,655.2 488.5,654.6 486.6,653.8 484.8,652.8 483.2,651.5 482.0,649.9 481.2,647.8 481.0,645.3 481.2,642.4 481.3,639.5 481.3,636.7 481.2,633.9 481.0,631.2 481.2,629.1 482.0,627.6Z" fill="#ffecd9"/>
<path d="M561.4,629.8 562.4,627.1 563.5,624.7 564.7,622.6 565.9,620.8 567.1,619.4 568.6,618.3 570.2,617.5 572.1,617.2 574.2,617.2 576.1,617.6 577.8,618.6 579.2,620.0 580.5,621.9 581.6,623.9 582.5,626.1 583.3,628.4 583.9,630.9 584.4,633.4 584.8,635.9 585.1,638.4 585.4,640.9 585.1,642.9 584.4,644.4 583.2,645.3 581.5,645.7 579.7,645.9 577.9,645.8 575.9,645.4 573.8,644.8 571.8,644.1 569.9,643.5 568.2,642.9 566.5,642.3 565.0,641.3 563.6,640.1 562.4,638.5 561.4,636.6 560.9,634.6 560.9,632.3Z" fill="#ffd0a0"/>
<path d="M403.0,554.2 413.4,555.1 421.6,556.0 427.6,557.1 431.5,558.2 433.2,559.5 434.5,561.1 435.6,563.2 436.3,565.7 436.7,568.6 437.2,571.5 437.7,574.5 438.3,577.4 438.9,580.3 439.4,583.2 439.8,586.1 440.1,589.0 440.4,592.0 440.5,594.9 440.5,597.8 440.4,600.7 440.1,603.6 439.7,606.4 439.1,609.1 438.3,611.8 437.2,614.2 436.0,616.5 434.7,618.6 433.2,620.5 431.5,622.2 427.6,623.6 421.6,624.7 413.4,625.6 403.0,626.2 395.1,622.1 389.9,613.1 387.3,599.4 387.3,580.8 389.9,567.1 395.1,558.3Z" fill="#ff9a38"/>
<path d="M582.4,562.2 583.1,560.5 583.9,558.9 585.1,557.5 586.5,556.1 588.2,554.9 589.8,553.8 591.5,553.0 593.2,552.4 594.8,552.0 596.5,552.1 598.2,552.7 599.8,553.8 601.5,555.5 605.0,556.9 610.5,557.9 617.8,558.6 626.9,559.0 633.8,565.9 638.4,579.2 640.7,599.0 640.7,625.3 638.2,644.9 633.2,657.8 625.7,664.0 615.7,663.6 607.9,662.8 602.2,661.5 598.8,659.9 597.5,657.8 596.4,655.6 595.4,653.3 594.4,650.9 593.6,648.4 592.8,645.9 591.9,643.4 591.1,640.9 590.2,638.4 589.4,635.9 588.6,633.4 587.8,630.9 586.9,628.4 586.0,625.9 585.1,623.4 584.1,620.9 583.1,618.4 582.2,615.9 581.4,613.4 580.9,610.9 580.5,608.4 580.3,605.9 580.4,603.4 580.8,600.9 581.4,598.4 582.0,595.9 582.6,593.4 583.3,590.9 583.9,588.4 584.3,585.9 584.5,583.4 584.5,580.9 584.3,578.4 584.0,575.9 583.6,573.4 583.1,570.9 582.4,568.4 582.1,566.1 582.1,564.0Z" fill="#ff9a38"/>
<path d="M593.2,598.4 594.8,597.6 598.8,596.9 605.0,596.2 613.6,595.7 624.4,595.3 632.5,597.9 638.0,603.5 640.7,612.2 640.7,623.8 638.2,632.6 633.2,638.4 625.7,641.3 615.7,641.3 607.9,640.8 602.2,639.8 598.8,638.2 597.5,636.1 596.4,633.9 595.4,631.6 594.4,629.2 593.6,626.8 592.8,624.1 592.1,621.4 591.4,618.6 590.8,615.7 590.4,612.8 590.1,609.9 590.1,607.0 590.4,604.0 590.9,601.6 591.9,599.8Z" fill="#ff8200"/>
<path d="M593.7,674.2 595.1,673.4 596.6,672.9 598.1,672.8 599.5,673.1 601.0,673.7 601.8,674.5 601.9,675.3 601.3,676.2 600.0,677.3 598.7,677.9 597.4,678.3 596.0,678.2 594.5,677.8 593.4,677.4 592.5,677.0 592.0,676.5 591.8,676.1 592.0,675.6 592.6,675.0Z" fill="#ff9a38"/>
<path d="M402.3,679.2 412.3,680.1 420.1,681.1 425.6,682.4 428.9,683.8 429.9,685.5 430.7,689.2 431.1,695.1 431.2,703.0 431.0,713.0 428.1,720.5 422.6,725.5 414.4,728.0 403.6,728.0 395.5,724.9 390.0,718.6 387.3,709.2 387.3,696.8 389.8,687.6 394.8,681.8Z" fill="#ffb46c"/>
</g>
<g clip-path="url(#c23)">
<rect x="604" y="548" width="180" height="154" fill="#ffb46c"/>
<path d="M742.5,526.3 740.5,536.3 738.6,544.0 736.9,549.3 735.5,552.3 734.2,552.9 733.9,553.5 734.5,554.1 736.1,554.8 738.6,555.4 741.0,556.2 743.3,557.1 745.5,558.2 747.5,559.5 749.6,560.7 751.7,561.8 753.8,562.9 755.9,563.9 757.8,565.0 759.4,566.0 760.9,567.1 762.1,568.1 762.8,569.2 762.8,570.3 762.1,571.5 760.9,572.8 759.4,574.0 757.8,575.3 755.9,576.5 753.8,577.8 751.8,579.1 749.9,580.4 748.2,581.9 746.5,583.3 745.1,585.0 743.9,586.9 743.1,588.9 742.4,591.2 741.7,593.4 740.9,595.3 739.9,597.2 738.9,598.8 737.7,600.1 736.3,600.9 734.8,601.3 733.2,601.3 731.5,601.0 729.8,600.2 728.2,599.1 726.5,597.7 724.8,596.4 723.2,595.4 721.5,594.6 719.8,593.9 717.8,593.6 715.2,593.6 712.3,593.9 709.0,594.6 705.7,595.0 702.3,595.3 699.0,595.5 695.7,595.5 692.7,595.6 690.1,595.7 687.9,595.8 686.0,596.0 684.5,596.7 683.5,597.8 682.9,599.5 682.6,601.5 682.3,603.9 681.8,606.6 681.1,609.7 680.2,613.0 679.4,616.1 678.6,619.0 677.8,621.8 676.9,624.2 676.0,626.4 674.9,628.3 673.8,629.9 672.5,631.1 671.6,632.5 670.8,633.9 670.4,635.5 670.1,637.2 670.2,638.8 670.7,640.5 671.4,642.2 672.4,643.8 673.5,645.4 674.7,646.9 675.9,648.2 677.1,649.5 677.6,650.8 677.4,652.3 676.5,653.8 674.8,655.5 673.8,657.2 673.4,658.8 673.6,660.5 674.4,662.2 675.6,663.8 677.0,665.5 678.8,667.2 680.9,668.8 683.0,670.5 685.0,672.2 687.1,673.8 689.2,675.5 691.2,677.1 693.1,678.5 694.8,679.9 696.5,681.1 698.0,684.9 699.2,691.1 700.2,699.9 701.1,711.1 709.1,719.6 724.3,725.2 746.7,728.0 776.3,728.0 798.5,714.5 813.3,687.4 820.7,646.8 820.7,592.6 816.0,552.0 806.6,524.9 792.5,511.3 773.8,511.3 759.2,513.8 748.8,518.8Z" fill="#ffd0a0"/>
<path d="M721.6,658.2 723.9,657.8 726.1,657.7 728.3,657.9 730.5,658.4 732.5,659.2 734.7,660.1 737.0,660.9 739.4,661.8 741.9,662.6 744.4,663.4 746.9,664.2 749.4,664.9 751.9,665.6 753.2,666.3 753.2,666.9 751.9,667.5 749.4,668.0 746.8,668.5 744.1,668.9 741.3,669.1 738.4,669.4 735.6,669.3 732.9,669.0 730.2,668.4 727.8,667.6 725.5,666.5 723.5,665.1 721.8,663.5 720.4,661.6 719.8,660.1 720.2,659.0Z" fill="#ffecd9"/>
<path d="M640.0,664.4 641.3,662.5 642.7,661.0 644.3,660.0 646.0,659.4 647.9,659.1 649.0,659.6 649.4,660.6 649.1,662.3 648.1,664.6 646.9,666.3 645.5,667.6 644.0,668.3 642.3,668.5 641.0,668.6 639.9,668.5 639.2,668.2 638.8,667.8 638.8,667.0 639.2,665.9Z" fill="#ffd0a0"/>
<path d="M603.0,511.3 626.7,511.3 644.1,514.5 655.1,520.7 659.8,530.1 658.2,542.6 656.8,552.5 655.8,559.8 655.0,564.5 654.6,566.5 654.5,569.0 654.7,572.0 655.2,575.3 656.1,579.0 656.7,582.6 657.1,585.9 657.2,589.0 657.1,592.0 656.8,594.7 656.1,597.2 655.2,599.5 654.1,601.5 652.7,603.6 651.1,605.7 649.2,607.8 647.1,609.9 645.4,612.0 644.1,614.0 643.2,616.1 642.8,618.2 642.5,620.2 642.4,622.1 642.6,623.8 643.0,625.5 643.0,627.3 642.4,629.1 641.3,631.1 639.7,633.2 638.5,635.3 637.6,637.4 637.0,639.5 636.8,641.5 636.2,643.6 635.1,645.7 633.7,647.8 631.8,649.9 629.9,651.8 627.9,653.6 625.9,655.2 623.8,656.6 621.6,658.0 619.3,659.2 616.9,660.4 614.4,661.4 609.8,662.2 603.2,662.7 594.4,663.0 583.6,663.0 575.5,653.5 570.0,634.6 567.3,606.1 567.3,568.2 573.3,539.8 585.1,520.8Z" fill="#ff9a38"/>
<path d="M585.8,511.3 598.1,511.3 607.2,513.9 613.3,519.1 616.3,527.0 616.2,537.4 615.9,545.6 615.3,551.5 614.6,555.2 613.7,556.6 612.6,557.8 611.3,558.8 609.8,559.5 608.2,559.9 604.5,560.1 598.9,560.2 591.3,560.2 581.7,560.0 574.5,556.8 569.7,550.7 567.3,541.5 567.3,529.5 570.4,520.4 576.6,514.4Z" fill="#ffb46c"/>
<path d="M582.3,597.0 592.3,597.4 600.2,598.1 606.1,599.1 609.8,600.5 611.5,602.2 613.2,603.8 614.8,605.5 616.5,607.2 618.2,608.8 619.9,610.5 621.8,612.2 623.8,613.8 625.9,615.5 627.6,617.1 629.1,618.5 630.2,619.9 631.1,621.1 631.6,622.6 631.8,624.2 631.7,626.1 631.3,628.2 630.6,630.2 629.5,632.1 628.2,633.8 626.5,635.5 624.8,637.2 623.2,638.8 621.5,640.5 619.8,642.2 618.2,643.6 616.5,644.9 614.8,645.9 613.2,646.8 609.2,647.3 603.0,647.5 594.4,647.4 583.6,647.0 575.5,643.5 570.0,637.1 567.3,627.6 567.3,615.1 569.8,605.8 574.8,599.8Z" fill="#ff8200"/>
</g>
<g clip-path="url(#c24)">
<rect x="784" y="548" width="180" height="154" fill="#ffd0a0"/>
<path d="M815.2,527.0 816.1,537.4 817.1,545.8 818.4,552.3 819.8,556.8 821.5,559.2 823.3,561.5 825.1,563.6 827.1,565.5 829.2,567.2 831.2,568.8 833.1,570.5 834.8,572.2 836.5,573.8 837.9,575.6 839.1,577.3 839.9,579.1 840.6,581.0 841.6,582.7 843.1,584.1 844.9,585.4 847.2,586.4 849.4,587.3 851.3,588.1 853.2,588.6 854.8,589.0 856.5,589.1 858.2,588.8 859.8,588.1 861.5,587.1 863.4,586.1 865.5,585.1 867.8,584.2 870.2,583.4 872.8,582.6 875.2,581.9 877.8,581.2 880.2,580.6 882.5,579.9 884.6,579.2 886.5,578.4 888.2,577.6 889.0,576.9 889.0,576.2 888.2,575.7 886.5,575.3 884.6,574.9 882.5,574.5 880.2,574.0 877.8,573.6 875.2,573.3 872.8,573.1 870.2,573.0 867.8,573.0 865.5,572.8 863.4,572.4 861.5,571.8 859.8,570.9 858.7,570.0 858.1,569.1 858.0,568.1 858.4,567.1 859.4,566.2 861.1,565.6 863.4,565.2 866.3,565.0 869.1,564.9 871.8,565.0 874.4,565.3 876.9,565.7 879.4,566.1 881.9,566.5 884.4,567.0 886.9,567.4 889.3,567.5 891.6,567.3 893.8,566.8 895.9,565.9 897.8,565.0 899.4,563.9 900.9,562.8 902.1,561.5 903.5,560.7 904.9,560.3 906.5,560.3 908.2,560.7 909.8,561.2 911.5,561.9 913.2,562.6 914.8,563.4 916.4,563.8 917.9,563.8 919.2,563.4 920.5,562.6 921.8,561.8 923.3,560.9 924.8,560.1 926.5,559.2 928.6,558.6 931.1,558.2 934.0,558.0 937.3,558.0 940.4,558.3 943.1,558.9 945.5,559.9 947.5,561.1 949.7,562.0 952.0,562.4 954.4,562.4 956.9,562.0 961.3,561.4 967.5,560.8 975.7,560.1 985.7,559.2 993.2,555.7 998.2,549.5 1000.7,540.5 1000.7,528.8 989.0,520.1 965.7,514.2 930.7,511.3 884.0,511.3 849.2,513.9 826.3,519.1Z" fill="#ffb46c"/>
<path d="M919.2,562.8 920.5,561.5 922.1,560.4 924.2,559.4 926.7,558.4 929.6,557.6 932.9,557.1 936.4,556.9 940.2,557.0 944.4,557.4 948.2,558.0 951.5,558.8 954.4,559.9 956.9,561.1 959.0,562.5 960.7,563.9 961.9,565.5 962.8,567.2 963.0,568.7 962.5,570.2 961.5,571.5 959.8,572.8 958.5,574.2 957.4,575.9 956.7,577.8 956.3,579.9 955.6,581.3 954.5,582.2 953.2,582.4 951.5,582.0 949.9,581.2 948.5,580.2 947.1,578.8 945.9,577.2 944.5,575.9 943.1,575.1 941.5,574.7 939.8,574.7 938.2,575.0 936.5,575.6 934.8,576.5 933.2,577.8 931.5,578.5 929.8,578.7 928.2,578.4 926.5,577.6 924.9,576.6 923.5,575.6 922.1,574.5 920.9,573.2 919.8,571.9 919.0,570.4 918.4,568.8 918.0,567.2 918.0,565.6 918.4,564.1Z" fill="#ffb46c"/>
<path d="M853.8,591.1 855.9,593.2 858.1,595.1 860.4,596.8 862.8,598.2 865.2,599.5 867.6,600.3 869.9,600.7 872.1,600.7 874.2,600.3 876.4,599.6 878.7,598.5 881.1,597.2 883.6,595.5 886.2,593.9 888.9,592.5 891.7,591.1 894.6,589.9 897.5,589.0 900.5,588.5 903.4,588.3 906.3,588.5 908.9,589.1 911.2,590.2 913.2,591.6 914.8,593.5 916.5,595.4 918.2,597.4 919.8,599.5 921.5,601.5 923.1,602.7 924.5,602.9 925.9,602.2 927.1,600.5 928.2,598.7 929.0,596.9 929.6,594.9 930.0,592.8 930.5,591.0 931.0,589.4 931.6,588.1 932.2,587.1 933.0,586.9 933.8,587.5 934.7,588.9 935.8,591.2 936.9,593.4 938.0,595.3 939.2,597.2 940.5,598.8 941.8,600.7 943.1,602.8 944.5,605.1 946.0,607.6 947.5,610.1 949.2,612.6 951.0,615.1 952.9,617.6 954.6,620.1 956.3,622.6 957.9,625.1 959.3,627.6 960.5,630.2 961.4,632.9 962.1,635.7 962.5,638.6 962.7,641.5 962.6,644.5 962.2,647.4 961.6,650.3 960.9,653.1 960.0,655.8 959.1,658.4 958.1,660.9 957.0,663.3 955.8,665.4 954.6,667.5 953.4,669.4 952.0,670.8 950.4,671.7 948.7,672.2 946.8,672.2 945.0,671.9 943.2,671.4 941.5,670.6 939.8,669.6 938.1,668.6 936.2,667.6 934.2,666.8 932.1,665.9 930.1,665.1 928.3,664.2 926.5,663.4 924.8,662.6 923.2,661.6 921.5,660.6 919.8,659.5 918.2,658.2 916.4,657.0 914.5,655.9 912.5,654.8 910.5,653.7 908.3,652.9 906.0,652.3 903.6,651.9 901.1,651.6 898.6,651.7 896.1,652.0 893.6,652.6 891.1,653.4 888.7,654.4 886.4,655.4 884.2,656.5 882.1,657.8 880.0,659.0 878.0,660.1 875.9,661.2 873.8,662.3 871.7,663.0 869.6,663.4 867.5,663.5 865.5,663.3 863.6,662.8 861.9,662.1 860.5,661.1 859.2,659.9 858.1,658.3 857.3,656.4 856.6,654.2 856.1,651.8 855.6,649.0 855.2,646.1 854.8,643.0 854.5,639.7 854.2,636.3 854.0,633.0 853.9,629.7 853.8,626.3 854.0,623.4 854.4,620.9 855.0,618.8 856.0,617.2 857.1,615.6 858.4,614.1 859.8,612.8 861.5,611.5 863.0,610.2 864.4,608.9 865.6,607.5 866.6,606.0 866.8,604.7 866.2,603.4 864.7,602.3 862.4,601.2 860.2,600.0 858.0,598.7 855.9,597.2 853.8,595.5 852.2,593.9 851.2,592.5 850.7,591.1 850.7,589.9 851.2,589.5 852.2,589.9Z" fill="#ffb46c"/>
<path d="M797.5,649.0 798.8,648.6 800.2,648.4 801.9,648.3 803.8,648.3 805.9,648.5 807.9,648.8 809.7,649.1 811.5,649.5 813.2,649.9 814.0,650.3 814.0,650.7 813.2,651.1 811.5,651.5 809.7,651.8 807.9,652.0 805.9,652.0 803.8,651.9 801.9,651.6 800.2,651.3 798.8,650.9 797.5,650.4 796.9,649.9 796.9,649.5Z" fill="#ffb46c"/>
<path d="M953.2,668.8 954.8,667.2 956.5,665.5 958.2,663.8 959.8,662.2 961.5,660.5 965.0,659.1 970.5,658.1 977.8,657.4 986.9,657.0 993.8,658.2 998.4,661.1 1000.7,665.7 1000.7,672.0 998.3,676.6 993.7,679.6 986.7,681.0 977.3,680.8 969.8,680.6 964.1,680.4 960.2,680.2 958.1,680.0 956.2,679.5 954.6,678.8 953.1,677.8 951.9,676.5 951.0,675.4 950.4,674.4 950.2,673.4 950.4,672.6 951.0,671.5 951.9,670.3Z" fill="#ffb46c"/>
<path d="M859.8,616.4 861.5,615.4 863.4,614.4 865.5,613.3 867.8,612.3 870.2,611.2 872.5,610.1 874.6,609.0 876.5,607.8 878.2,606.5 880.0,605.1 882.1,603.4 884.4,601.5 886.9,599.5 889.3,597.6 891.6,596.1 893.8,594.8 895.9,593.7 898.0,593.0 900.0,592.6 902.1,592.5 904.2,592.7 906.2,593.3 908.1,594.2 909.8,595.5 911.5,597.2 913.3,598.8 915.1,600.5 917.1,602.2 919.2,603.8 921.2,604.9 923.1,605.3 924.8,605.1 926.5,604.2 928.1,603.6 929.5,603.2 930.9,603.0 932.1,603.0 933.5,603.4 934.9,604.2 936.5,605.5 938.2,607.2 939.8,608.9 941.3,610.8 942.9,612.8 944.3,614.9 945.9,617.0 947.5,619.0 949.3,621.1 951.2,623.2 953.0,625.4 954.6,627.7 956.2,630.1 957.6,632.6 958.8,635.1 959.6,637.6 960.1,640.1 960.4,642.6 960.3,645.1 960.0,647.6 959.4,650.1 958.6,652.6 957.6,655.0 956.6,657.3 955.5,659.5 954.2,661.5 953.0,663.1 951.7,664.1 950.5,664.7 949.2,664.7 947.9,664.2 946.4,663.4 944.8,662.2 943.2,660.5 941.4,658.8 939.5,657.2 937.5,655.5 935.5,653.8 933.3,652.4 931.0,651.1 928.6,650.1 926.1,649.2 923.5,648.4 920.8,647.6 918.0,646.8 915.0,645.9 912.1,645.3 909.2,644.9 906.3,644.7 903.4,644.7 900.6,645.0 897.9,645.6 895.2,646.5 892.8,647.8 890.2,649.0 887.8,650.3 885.2,651.5 882.8,652.8 880.2,654.0 877.8,655.3 875.2,656.5 872.8,657.8 870.5,658.7 868.4,659.4 866.5,659.7 864.8,659.7 863.3,659.4 862.0,658.7 860.8,657.8 859.7,656.5 858.9,654.8 858.3,652.5 857.9,649.7 857.6,646.3 857.4,643.0 857.2,639.7 857.0,636.3 856.8,633.0 856.7,629.9 856.7,627.0 856.8,624.2 857.0,621.8 857.6,619.6 858.5,617.8Z" fill="#ff9a38"/>
<path d="M869.2,625.1 870.5,624.2 871.8,623.7 873.3,623.4 874.8,623.3 876.5,623.5 878.0,624.0 879.4,624.9 880.6,626.0 881.6,627.5 882.3,629.0 882.8,630.6 882.9,632.2 882.6,633.8 882.2,635.4 881.4,636.9 880.5,638.2 879.2,639.5 878.1,640.6 877.0,641.5 876.1,642.3 875.2,642.9 874.4,643.1 873.4,642.7 872.4,642.0 871.4,640.7 870.4,639.4 869.6,638.1 868.8,636.6 868.1,635.2 867.6,633.7 867.2,632.1 867.1,630.5 867.2,628.8 867.6,627.4 868.2,626.1Z" fill="#ff8200"/>
<path d="M930.9,622.8 932.1,621.5 933.5,620.7 934.9,620.3 936.5,620.3 938.2,620.7 939.8,621.3 941.5,622.2 943.2,623.2 944.8,624.5 946.5,625.8 948.2,627.3 949.8,628.8 951.5,630.5 952.9,632.2 953.9,633.8 954.6,635.5 955.0,637.2 955.1,638.7 954.9,640.2 954.4,641.5 953.6,642.8 952.5,643.7 951.3,644.2 949.8,644.4 948.2,644.1 946.5,643.6 944.8,642.8 943.2,641.6 941.5,640.2 939.9,638.7 938.5,637.1 937.1,635.5 935.9,633.8 934.6,632.2 933.4,630.5 932.1,628.8 930.9,627.2 930.2,625.6 930.2,624.1Z" fill="#ff8200"/>
<path d="M849.3,551.5 851.2,551.1 853.1,551.0 855.1,551.1 857.1,551.4 859.2,552.1 860.7,552.8 861.7,553.6 862.0,554.6 861.8,555.6 861.2,556.4 860.1,557.1 858.7,557.5 856.8,557.7 855.0,557.7 853.4,557.6 851.8,557.4 850.4,557.0 849.2,556.4 848.2,555.7 847.5,554.8 847.1,553.7 847.3,552.8 848.0,552.1Z" fill="#ff9a38"/>
<path d="M827.8,558.7 828.6,558.1 829.4,557.9 830.1,558.1 830.8,558.7 831.4,559.8 831.7,560.7 831.6,561.5 831.1,562.3 830.2,562.9 829.5,563.1 828.7,562.9 828.1,562.3 827.4,561.2 827.2,560.3 827.3,559.5Z" fill="#ff9a38"/>
<path d="M795.4,552.3 796.8,551.2 798.5,548.1 800.5,542.7 802.8,535.3 805.2,525.7 807.6,518.5 809.9,513.7 812.1,511.3 814.2,511.3 815.9,514.2 817.3,520.1 818.3,528.8 818.9,540.5 819.6,549.8 820.3,556.6 821.1,561.1 821.9,563.2 822.4,565.0 822.6,566.6 822.5,567.9 822.1,568.9 821.3,569.6 820.2,569.9 818.7,569.9 816.8,569.5 814.8,568.8 812.6,567.8 810.2,566.6 807.8,565.2 805.5,563.8 803.4,562.4 801.5,561.1 799.8,559.9 798.3,558.7 797.0,557.5 795.8,556.4 794.7,555.4 794.3,554.4 794.5,553.3Z" fill="#ffecd9"/>
<path d="M872.6,680.5 874.5,678.8 876.6,677.4 878.7,676.1 881.1,675.1 883.6,674.2 886.1,673.3 888.6,672.3 891.1,671.1 893.6,669.9 896.1,668.6 898.6,667.4 901.1,666.1 903.6,664.9 906.0,664.0 908.3,663.6 910.5,663.6 912.5,664.0 914.5,664.7 916.4,665.5 918.2,666.5 919.8,667.8 921.5,669.0 923.2,670.3 924.8,671.5 926.5,672.8 928.2,673.9 929.8,675.0 931.5,675.9 933.2,676.8 934.5,677.9 935.6,679.4 936.3,681.1 936.7,683.2 937.1,687.4 937.5,693.6 938.0,702.0 938.4,712.4 934.6,720.2 926.7,725.4 914.6,728.0 898.4,728.0 885.9,725.2 877.3,719.6 872.4,711.1 871.4,699.9 871.1,691.0 871.5,684.6Z" fill="#ffecd9"/>
<path d="M811.0,610.3 812.9,610.2 814.2,610.3 814.9,610.8 815.0,611.4 814.6,612.4 813.9,612.9 813.0,613.0 811.8,612.6 810.4,611.8 809.7,611.1 809.9,610.6Z" fill="#ffecd9"/>
<path d="M819.9,617.0 820.6,616.9 821.0,617.0 821.3,617.4 821.5,618.1 821.5,619.1 821.3,619.6 821.0,619.6 820.6,619.2 819.9,618.4 819.6,617.8 819.6,617.3Z" fill="#ffecd9"/>
</g>
<g clip-path="url(#c25)">
<rect x="964" y="548" width="116" height="154" fill="#ffd0a0"/>
<path d="M887.9,526.5 908.8,541.1 925.0,552.1 936.7,559.4 943.8,563.0 946.2,563.0 949.0,563.1 952.0,563.3 955.2,563.6 958.8,564.0 962.0,564.5 964.9,564.9 967.5,565.3 969.8,565.7 972.2,566.2 974.6,566.7 977.1,567.3 979.6,567.9 982.1,568.6 984.6,569.5 987.1,570.4 989.6,571.4 992.1,572.3 994.6,573.1 997.1,573.6 999.6,574.0 1002.1,574.5 1004.6,574.9 1007.1,575.3 1009.6,575.7 1012.1,576.2 1014.6,576.9 1017.1,577.6 1019.6,578.4 1022.1,579.2 1024.6,580.1 1027.1,580.9 1029.6,581.8 1032.5,582.5 1035.8,583.1 1039.6,583.6 1043.8,584.0 1047.5,584.4 1050.8,584.6 1053.8,584.7 1056.2,584.7 1062.1,579.7 1071.2,569.7 1083.8,554.7 1099.6,534.7 1094.8,519.7 1069.4,509.7 1023.3,504.7 956.7,504.7 911.9,508.3 889.0,515.6Z" fill="#ffb46c"/>
<path d="M997.9,526.3 998.8,536.3 999.9,544.1 1001.4,549.8 1003.1,553.2 1005.2,554.5 1007.5,555.6 1010.0,556.5 1012.7,557.3 1015.6,557.9 1019.0,558.4 1022.7,558.8 1026.9,559.1 1031.5,559.4 1034.9,556.5 1037.2,550.6 1038.3,541.5 1038.3,529.5 1035.7,520.4 1030.5,514.4 1022.7,511.3 1012.3,511.3 1004.7,513.8 999.9,518.8Z" fill="#ff9a38"/>
<path d="M985.8,609.2 987.5,608.4 989.2,607.9 990.8,607.7 992.5,607.8 994.2,608.2 995.7,609.0 997.2,610.1 998.5,611.6 999.8,613.5 1000.9,615.4 1002.0,617.4 1002.9,619.5 1003.8,621.5 1004.1,623.4 1003.9,625.1 1003.1,626.5 1001.9,627.8 1000.6,628.9 999.4,629.8 998.1,630.6 996.9,631.2 995.6,631.4 994.4,631.2 993.1,630.6 991.9,629.6 990.7,628.3 989.7,626.7 988.8,624.9 987.9,622.8 987.1,620.7 986.2,618.5 985.4,616.2 984.6,613.9 984.4,612.0 984.8,610.4Z" fill="#ffb46c"/>
<path d="M960.5,652.6 961.9,653.4 963.3,654.4 964.8,655.4 966.2,656.5 967.8,657.8 969.5,658.7 971.5,659.2 973.8,659.4 976.2,659.1 978.8,658.9 981.2,658.6 983.8,658.2 986.2,657.8 988.8,657.4 991.2,657.1 993.8,656.9 996.2,656.6 998.6,656.6 1000.9,656.9 1003.1,657.3 1005.2,657.9 1007.1,658.7 1008.9,659.8 1010.5,661.0 1012.0,662.5 1013.1,664.0 1014.0,665.6 1014.5,667.2 1014.7,668.8 1014.5,670.3 1014.0,671.5 1013.1,672.6 1011.9,673.4 1010.3,674.1 1008.4,674.8 1006.2,675.3 1003.8,675.7 1001.0,676.1 998.1,676.4 995.0,676.6 991.7,676.9 988.3,677.1 985.0,677.3 981.7,677.5 978.3,677.7 975.2,678.0 972.3,678.4 969.6,678.9 967.1,679.6 964.7,680.0 962.4,680.2 960.2,680.2 958.1,680.0 956.2,679.5 954.6,678.8 953.1,677.8 951.9,676.5 950.9,675.0 950.3,673.1 950.0,670.9 950.0,668.4 950.5,665.7 951.6,662.8 953.1,659.7 955.2,656.3 957.1,654.0 958.9,652.8Z" fill="#ffb46c"/>
</g>
<g clip-path="url(#c30)">
<rect x="64" y="692" width="180" height="154" fill="#ffd0a0"/>
<path d="M69.4,721.3 71.9,720.2 74.5,719.2 77.2,718.3 80.0,717.4 83.0,716.6 85.8,715.5 88.5,714.3 91.1,712.8 93.6,711.2 96.4,709.9 99.5,709.1 103.0,708.7 106.7,708.7 110.1,708.5 113.3,708.2 116.1,707.7 118.6,707.1 121.2,706.5 123.9,705.9 126.7,705.4 129.6,704.8 132.6,704.5 135.8,704.5 139.0,704.8 142.3,705.4 145.7,706.1 149.0,707.1 152.3,708.4 155.7,709.8 159.0,711.2 162.3,712.6 165.7,713.9 169.0,715.1 172.2,716.4 175.4,717.6 178.4,718.9 181.3,720.1 183.5,721.4 185.1,722.6 186.0,723.9 186.2,725.1 186.0,726.4 185.4,727.8 184.3,729.2 182.9,730.6 180.9,732.0 178.5,733.2 175.7,734.4 172.3,735.4 168.8,736.4 165.0,737.2 161.1,737.9 156.9,738.6 152.8,739.1 148.6,739.5 144.4,739.8 140.2,740.0 136.2,740.2 132.2,740.3 128.4,740.3 124.6,740.3 120.8,740.2 116.8,739.9 112.8,739.4 108.6,738.8 104.4,738.2 100.2,737.8 96.1,737.5 91.9,737.3 87.9,737.1 83.9,736.9 80.0,736.7 76.3,736.5 70.8,736.1 63.5,735.4 54.4,734.6 43.6,733.6 35.5,732.3 30.0,730.7 27.3,728.9 27.3,726.8 29.7,725.2 34.5,724.0 41.7,723.4 51.3,723.1 59.1,722.7 65.1,722.1Z" fill="#ffecd9"/>
<path d="M147.1,669.1 149.2,678.2 151.5,685.3 154.0,690.2 156.7,692.9 159.6,693.6 162.6,694.3 165.8,695.1 169.0,696.1 172.3,697.1 175.7,698.1 179.0,699.2 182.3,700.2 185.7,701.3 189.1,702.2 192.6,702.9 196.3,703.5 200.0,703.9 203.7,704.3 207.2,704.9 210.7,705.4 214.0,706.1 217.0,706.6 219.7,707.2 222.1,707.6 224.2,708.0 226.2,708.0 228.1,707.6 229.8,706.8 231.5,705.5 233.2,704.4 234.8,703.4 236.5,702.4 238.2,701.6 241.9,700.9 247.8,700.2 255.7,699.7 265.7,699.3 273.2,696.3 278.2,690.6 280.7,682.4 280.7,671.6 272.1,663.5 255.0,658.0 229.4,655.3 195.2,655.3 170.1,657.6 154.1,662.2Z" fill="#ffecd9"/>
<path d="M47.3,745.6 60.7,745.9 71.9,746.1 81.1,746.3 88.2,746.5 93.2,746.7 98.3,746.8 103.5,746.8 108.8,746.7 114.2,746.5 119.8,746.3 125.7,746.1 131.7,745.9 138.0,745.6 144.2,745.3 150.5,744.9 156.7,744.4 163.0,743.8 169.2,743.2 175.5,742.7 181.7,742.2 188.0,741.8 194.2,741.4 200.5,741.0 206.7,740.5 213.0,740.1 221.3,739.7 231.7,739.1 244.2,738.6 258.8,737.9 269.7,746.1 277.0,763.1 280.7,788.9 280.7,823.5 264.8,849.4 233.2,866.7 185.7,875.3 122.3,875.3 74.8,867.2 43.2,851.0 27.3,826.6 27.3,794.1 30.7,769.8 37.3,753.6Z" fill="#ffb46c"/>
<path d="M47.3,751.0 60.7,751.4 71.9,751.9 81.1,752.5 88.2,753.1 93.2,753.9 98.3,754.4 103.5,754.7 108.8,754.8 114.2,754.7 119.8,754.4 125.7,753.9 131.7,753.2 138.0,752.4 144.2,751.7 150.5,751.1 156.7,750.5 163.0,750.1 169.2,749.8 175.5,749.4 181.7,749.2 188.0,749.0 194.2,748.9 200.5,748.9 206.7,749.0 213.0,749.2 221.3,749.3 231.7,749.4 244.2,749.5 258.8,749.5 269.7,753.2 277.0,760.6 280.7,771.7 280.7,786.5 277.5,797.6 271.3,805.1 261.9,809.0 249.4,809.2 239.0,809.4 230.7,809.8 224.4,810.1 220.2,810.5 216.1,810.9 211.9,811.2 207.8,811.5 203.6,811.7 199.4,812.0 195.2,812.4 191.1,812.9 186.9,813.6 182.8,814.1 178.6,814.7 174.4,815.1 170.2,815.5 166.1,815.9 161.9,816.2 157.8,816.5 153.6,816.7 149.4,816.9 145.2,817.0 141.1,817.1 136.9,817.2 132.8,817.3 128.6,817.3 124.4,817.3 120.2,817.3 116.1,817.3 111.9,817.2 107.8,817.1 103.6,816.9 99.4,816.8 95.2,816.6 91.1,816.5 86.9,816.4 80.5,816.2 71.7,816.0 60.7,815.9 47.3,815.6 37.3,811.4 30.7,803.2 27.3,791.0 27.3,774.7 30.7,762.6 37.3,754.7Z" fill="#ff9a38"/>
<path d="M114.4,770.8 116.9,769.9 119.6,769.1 122.5,768.4 125.7,767.7 129.0,767.1 132.5,766.4 136.3,765.7 140.2,764.9 144.4,764.1 148.6,763.3 152.8,762.6 156.9,761.9 161.1,761.3 165.2,760.8 169.4,760.3 173.6,760.0 177.8,759.8 181.9,759.7 186.1,759.7 190.2,759.8 194.4,760.0 198.6,760.2 202.8,760.4 206.9,760.6 211.1,760.9 215.1,761.1 219.1,761.4 223.0,761.8 226.7,762.2 229.9,762.8 232.6,763.5 234.8,764.4 236.5,765.4 238.0,766.6 239.2,768.0 240.2,769.5 241.1,771.2 241.6,772.7 241.8,774.2 241.7,775.5 241.3,776.8 240.4,777.9 238.9,779.0 236.9,779.9 234.4,780.8 231.5,781.7 228.2,782.7 224.4,783.9 220.2,785.1 216.1,786.4 211.9,787.6 207.8,788.9 203.6,790.1 199.4,791.4 195.2,792.6 191.1,793.9 186.9,795.1 182.8,796.4 178.6,797.6 174.4,798.9 170.2,800.1 166.1,801.3 161.9,802.3 157.8,803.2 153.6,804.1 149.6,804.9 145.9,805.8 142.3,806.6 139.0,807.4 136.3,808.2 134.2,808.9 132.8,809.6 131.9,810.2 130.2,810.7 127.8,811.0 124.4,811.2 120.2,811.2 116.1,811.2 111.9,811.2 107.8,811.2 103.6,811.2 99.7,811.0 96.2,810.7 93.0,810.2 90.0,809.6 87.3,808.8 84.8,807.9 82.5,806.8 80.5,805.5 78.7,804.3 77.2,803.0 76.1,801.8 75.2,800.5 75.0,799.4 75.5,798.5 76.5,797.7 78.2,797.1 80.2,796.6 82.8,796.3 85.7,796.2 89.0,796.2 92.1,796.0 95.0,795.5 97.8,794.9 100.2,794.1 102.5,793.1 104.5,791.9 106.2,790.6 107.6,789.2 108.8,787.6 109.6,785.8 110.0,783.9 110.1,781.8 110.3,779.8 110.4,777.9 110.5,776.2 110.5,774.5 111.2,773.0 112.5,771.8Z" fill="#ff8200"/>
<path d="M72.6,826.6 74.5,825.8 76.7,825.1 79.1,824.7 81.7,824.5 84.6,824.5 87.2,824.4 89.5,824.3 91.5,824.2 93.2,824.0 94.7,823.6 96.0,823.1 97.2,822.4 98.3,821.6 99.3,821.2 100.4,821.3 101.4,821.9 102.4,822.9 103.7,823.9 105.1,824.9 106.8,825.8 108.7,826.6 109.7,827.3 109.9,828.0 109.3,828.6 107.9,829.2 105.7,829.6 102.9,829.9 99.4,830.1 95.2,830.2 91.3,830.3 87.5,830.3 84.0,830.3 80.7,830.3 77.8,830.2 75.4,829.9 73.5,829.4 72.0,828.8 71.4,828.1 71.6,827.4Z" fill="#ffd0a0"/>
<path d="M133.8,826.3 135.9,825.2 138.5,824.3 141.6,823.5 145.2,822.7 149.4,822.1 153.6,821.5 157.8,820.9 161.9,820.2 166.1,819.6 170.8,819.0 176.0,818.5 181.7,818.0 188.0,817.6 194.2,817.3 200.5,816.9 206.7,816.7 213.0,816.5 221.3,816.3 231.7,816.1 244.2,815.9 258.8,815.6 269.7,816.4 277.0,818.2 280.7,821.0 280.7,824.7 276.5,827.5 268.2,829.5 255.7,830.5 239.0,830.5 224.4,830.6 211.9,830.6 201.5,830.7 193.2,830.7 184.8,830.6 176.5,830.6 168.2,830.5 159.8,830.5 152.8,830.4 146.9,830.3 142.3,830.2 139.0,830.1 136.3,829.9 134.2,829.6 132.8,829.2 131.9,828.6 131.8,828.0 132.4,827.2Z" fill="#ffd0a0"/>
<path d="M59.8,833.5 81.5,833.5 100.9,833.4 118.0,833.3 132.8,833.1 145.2,833.0 161.9,832.9 182.8,832.8 207.8,832.6 236.9,832.5 258.8,835.1 273.4,840.4 280.7,848.5 280.7,859.2 264.8,867.3 233.2,872.6 185.7,875.3 122.3,875.3 74.8,872.7 43.2,867.5 27.3,859.7 27.3,849.3 32.8,841.5 43.6,836.2Z" fill="#ff9a38"/>
</g>
<g clip-path="url(#c31)">
<rect x="244" y="692" width="180" height="154" fill="#ffd0a0"/>
<path d="M229.5,655.3 244.3,655.3 255.8,657.8 263.9,662.8 268.7,670.3 270.1,680.3 271.9,688.1 273.8,693.6 276.1,696.9 278.6,697.9 280.5,699.0 281.7,700.2 282.3,701.4 282.3,702.6 281.8,703.5 280.8,704.0 279.2,704.2 277.1,704.0 274.7,703.6 272.0,703.1 269.0,702.4 265.7,701.6 259.8,700.9 251.5,700.2 240.7,699.7 227.3,699.3 217.3,696.3 210.7,690.6 207.3,682.4 207.3,671.6 211.0,663.5 218.4,658.0Z" fill="#ffecd9"/>
<path d="M289.0,706.7 292.3,706.5 295.7,706.3 299.0,706.2 302.3,706.2 305.7,706.2 309.0,706.3 312.3,706.6 315.7,707.1 319.0,707.7 322.1,708.1 325.0,708.2 327.8,708.0 330.2,707.6 332.8,707.6 335.2,708.0 337.8,708.9 340.2,710.1 342.8,711.4 345.2,712.6 347.8,713.9 350.2,715.1 352.8,716.2 355.2,717.0 357.8,717.6 360.2,718.0 362.8,718.1 365.2,717.9 367.8,717.4 370.2,716.6 372.6,715.5 374.9,714.3 377.1,712.8 379.2,711.2 381.2,709.6 383.1,708.1 384.8,706.8 386.5,705.5 388.3,704.5 390.1,703.7 392.1,703.0 394.2,702.6 396.4,702.5 398.7,702.7 401.1,703.2 403.6,704.1 406.0,705.1 408.3,706.4 410.5,707.8 412.5,709.5 414.4,711.3 416.1,713.1 417.5,715.1 418.8,717.2 419.8,719.4 420.7,721.7 421.3,724.1 421.7,726.6 421.5,728.5 420.7,729.9 419.2,730.6 417.1,730.9 414.9,731.3 412.6,731.9 410.2,732.7 407.8,733.8 405.5,735.0 403.4,736.3 401.5,737.8 399.8,739.5 398.0,741.0 395.9,742.2 393.6,743.2 391.1,744.1 388.4,744.9 385.5,745.8 382.3,746.6 379.0,747.4 375.7,748.2 372.3,749.1 369.0,749.9 365.7,750.8 362.3,751.4 359.0,751.9 355.7,752.3 352.3,752.5 349.2,752.4 346.3,752.0 343.6,751.3 341.1,750.2 338.6,749.0 336.1,747.7 333.6,746.2 331.1,744.5 328.6,742.8 326.1,741.2 323.6,739.5 321.1,737.8 318.6,736.1 316.1,734.2 313.6,732.2 311.1,730.1 308.5,728.0 305.8,726.0 303.0,723.9 300.0,721.8 297.3,719.9 294.8,718.1 292.5,716.5 290.5,715.0 288.7,713.6 287.2,712.1 286.1,710.6 285.2,709.2 285.5,708.0 286.7,707.2Z" fill="#ffecd9"/>
<path d="M224.8,738.5 236.5,738.9 246.1,739.6 253.6,740.5 259.0,741.7 262.3,743.1 265.7,744.5 269.0,745.8 272.3,746.9 275.7,747.9 279.0,749.0 282.3,750.0 285.7,751.1 289.0,752.1 292.0,753.3 294.7,754.7 297.1,756.2 299.2,757.8 301.3,759.4 303.4,760.9 305.5,762.2 307.5,763.5 309.8,764.6 312.3,765.6 315.0,766.6 318.0,767.4 320.9,768.1 323.8,768.8 326.7,769.3 329.6,769.7 332.4,770.0 335.1,770.2 337.8,770.3 340.2,770.3 342.6,770.2 344.9,770.0 347.1,769.7 349.2,769.3 351.3,768.8 353.4,768.1 355.5,767.4 357.5,766.6 359.6,765.8 361.7,764.9 363.8,764.1 365.9,763.2 368.0,762.4 370.0,761.6 372.1,760.8 374.2,759.9 376.3,759.2 378.4,758.6 380.5,758.0 382.5,757.6 384.6,757.4 386.7,757.3 388.8,757.3 390.9,757.5 393.0,757.7 395.0,757.9 397.1,758.1 399.2,758.4 401.3,758.7 403.4,759.2 405.5,759.9 407.5,760.8 409.5,761.7 411.4,762.7 413.2,763.9 414.8,765.1 416.3,766.5 417.5,767.9 418.6,769.5 419.4,771.2 420.2,772.7 421.1,774.2 421.9,775.5 422.8,776.8 425.7,777.8 430.7,778.7 437.8,779.3 446.9,779.7 453.8,786.0 458.4,798.0 460.7,816.0 460.7,839.7 444.8,857.5 413.2,869.4 365.7,875.3 302.3,875.3 254.8,866.7 223.2,849.6 207.3,823.8 207.3,789.4 210.2,763.7 216.1,746.7Z" fill="#ffb46c"/>
<path d="M224.8,751.3 236.5,751.9 246.1,752.6 253.6,753.5 259.0,754.4 262.3,755.4 265.7,756.5 269.0,757.7 272.3,758.9 275.7,760.1 279.0,761.3 282.3,762.3 285.7,763.2 289.0,764.1 292.2,764.9 295.4,765.8 298.4,766.6 301.3,767.4 303.9,768.4 306.2,769.4 308.2,770.5 309.8,771.8 311.0,773.0 311.6,774.3 311.7,775.5 311.3,776.8 310.5,777.9 309.2,779.0 307.5,779.9 305.5,780.8 303.2,781.4 300.7,781.9 298.0,782.3 295.0,782.5 292.0,782.7 288.9,782.8 285.7,782.8 282.3,782.8 279.0,783.0 275.7,783.3 272.3,783.8 269.0,784.4 265.9,785.0 263.0,785.6 260.2,786.3 257.8,786.9 253.0,787.4 245.9,787.8 236.5,788.1 224.8,788.4 216.1,786.1 210.2,781.4 207.3,774.3 207.3,764.7 210.2,757.7 216.1,753.2Z" fill="#ff9a38"/>
<path d="M227.3,792.6 240.7,793.0 251.7,793.4 260.5,793.7 266.9,794.0 271.1,794.2 275.2,794.3 279.4,794.3 283.6,794.2 287.8,794.0 291.9,793.7 296.1,793.4 300.2,793.0 304.4,792.6 308.6,792.3 312.8,791.9 316.9,791.7 321.1,791.5 325.2,791.4 329.4,791.4 333.6,791.5 337.8,791.7 341.9,791.9 346.1,792.1 350.2,792.3 354.4,792.5 358.6,792.6 362.8,792.6 366.9,792.5 371.1,792.3 374.5,791.7 377.2,790.8 379.2,789.5 380.5,787.8 381.3,786.0 381.9,783.9 382.0,781.6 381.8,779.1 381.8,776.7 382.0,774.4 382.4,772.2 383.1,770.1 383.9,768.3 385.1,766.7 386.5,765.4 388.2,764.4 389.8,763.8 391.5,763.6 393.2,763.8 394.8,764.4 396.3,765.4 397.7,766.7 398.9,768.5 399.9,770.5 400.8,772.6 401.4,774.7 401.8,776.8 402.0,778.9 402.6,780.8 403.5,782.4 404.8,783.9 406.5,785.1 408.3,786.3 410.1,787.3 412.1,788.2 414.2,789.1 418.5,789.8 424.9,790.4 433.6,791.0 444.4,791.4 452.5,796.9 458.0,807.5 460.7,823.2 460.7,844.1 444.8,859.7 413.2,870.1 365.7,875.3 302.3,875.3 254.8,870.1 223.2,859.7 207.3,844.1 207.3,823.2 210.7,807.7 217.3,797.5Z" fill="#ff9a38"/>
<path d="M224.8,803.0 236.5,802.6 246.2,802.3 253.9,802.1 259.6,802.0 263.4,802.0 267.0,801.9 270.6,801.7 274.0,801.4 277.3,801.0 280.8,800.5 284.3,800.1 288.0,799.7 291.7,799.3 295.6,799.0 299.5,798.9 303.6,799.0 307.8,799.2 311.5,799.6 314.8,800.2 317.8,801.1 320.2,802.1 322.0,803.4 323.1,805.0 323.4,806.8 323.0,808.9 322.1,810.7 320.9,812.3 319.2,813.6 317.1,814.6 314.8,815.3 312.3,815.8 309.6,815.9 306.7,815.6 304.1,815.1 301.8,814.3 299.8,813.1 298.2,811.7 296.5,810.8 294.8,810.3 293.2,810.4 291.5,811.1 289.5,811.7 287.2,812.5 284.6,813.2 281.7,814.1 279.2,815.1 277.0,816.4 275.1,817.8 273.7,819.5 273.0,821.2 273.0,822.8 273.7,824.5 275.1,826.2 275.2,827.6 273.8,828.7 271.1,829.6 266.9,830.2 260.5,830.8 251.7,831.2 240.7,831.5 227.3,831.7 217.3,830.1 210.7,826.6 207.3,821.4 207.3,814.3 210.2,808.9 216.1,805.1Z" fill="#ffb46c"/>
<path d="M223.6,811.7 234.4,811.5 243.0,811.6 249.4,812.0 253.5,812.7 255.4,813.8 256.7,815.1 257.5,816.6 257.9,818.5 257.6,820.5 257.2,822.4 256.4,824.1 255.5,825.5 254.2,826.8 250.5,827.8 244.2,828.5 235.5,829.0 224.2,829.2 215.8,828.2 210.1,826.2 207.3,822.9 207.3,818.6 210.0,815.2 215.5,812.9Z" fill="#ffd0a0"/>
<path d="M340.4,776.6 341.8,775.8 343.5,775.2 345.5,774.9 347.8,774.8 350.2,775.0 352.8,775.2 355.2,775.4 357.8,775.6 360.2,775.9 362.9,776.1 365.6,776.3 368.4,776.5 371.3,776.7 373.6,777.1 375.2,777.6 376.3,778.2 376.7,779.1 376.4,779.9 375.4,780.6 373.6,781.3 371.1,781.9 368.4,782.4 365.5,782.7 362.3,782.8 359.0,782.8 355.9,782.8 353.0,782.7 350.2,782.5 347.8,782.3 345.5,781.9 343.5,781.3 341.8,780.4 340.4,779.4 339.6,778.4 339.6,777.5Z" fill="#ffd0a0"/>
<path d="M395.2,669.4 396.1,678.8 397.5,685.9 399.6,690.8 402.3,693.5 405.7,693.9 408.6,694.3 411.1,694.7 413.2,695.1 414.8,695.5 418.8,695.8 425.0,695.9 433.6,695.9 444.4,695.6 452.5,693.0 458.0,687.9 460.7,680.3 460.7,670.3 456.5,662.8 448.2,657.8 435.7,655.3 419.0,655.3 406.7,657.7 398.8,662.4Z" fill="#ffb46c"/>
<path d="M445.7,749.3 435.7,749.7 428.1,750.3 422.9,751.0 420.0,751.9 419.6,752.9 419.6,753.9 419.9,754.9 420.6,755.8 421.6,756.6 424.7,757.2 429.9,757.7 437.2,758.0 446.6,758.1 453.6,757.6 458.3,756.5 460.7,754.7 460.7,752.3 458.2,750.6 453.2,749.6Z" fill="#ffecd9"/>
</g>
<g clip-path="url(#c32)">
<rect x="424" y="692" width="180" height="154" fill="#ffd0a0"/>
<path d="M473.5,712.8 473.7,711.2 474.2,709.6 474.9,708.1 475.9,706.8 477.1,705.5 478.2,704.4 479.2,703.5 479.9,702.7 480.6,702.1 481.6,701.8 483.1,701.8 484.9,702.1 487.2,702.7 489.7,703.5 492.3,704.3 495.0,705.2 498.0,706.3 500.9,707.3 503.8,708.2 506.7,709.1 509.6,709.9 512.5,710.6 515.5,711.3 518.4,711.8 521.3,712.2 524.0,712.7 526.5,713.2 528.8,713.8 530.9,714.4 532.2,715.2 532.9,716.3 532.8,717.5 531.9,719.0 530.8,720.3 529.3,721.6 527.5,722.7 525.5,723.8 523.2,724.6 520.7,725.2 518.0,725.6 515.0,725.9 512.0,726.1 508.9,726.4 505.7,726.8 502.3,727.2 499.2,727.4 496.3,727.4 493.6,727.2 491.1,726.8 488.6,726.3 486.1,725.6 483.6,724.9 481.1,724.1 478.9,723.0 477.2,721.6 475.8,720.0 474.7,718.1 474.0,716.3 473.6,714.6Z" fill="#ffecd9"/>
<path d="M471.4,703.1 472.4,701.7 473.6,700.5 475.0,699.7 476.5,699.2 478.2,699.0 479.3,699.1 479.9,699.5 480.0,700.2 479.6,701.3 479.1,702.4 478.3,703.7 477.4,705.0 476.4,706.5 475.3,707.4 474.2,707.7 473.0,707.4 471.7,706.6 471.0,705.6 470.9,704.4Z" fill="#ffecd9"/>
<path d="M387.3,670.0 387.3,679.8 389.8,687.1 394.8,691.9 402.3,694.2 412.3,694.0 419.9,691.4 425.1,686.5 428.0,679.3 428.4,669.7 426.1,662.5 421.1,657.7 413.4,655.3 403.0,655.3 395.1,657.8 389.9,662.7Z" fill="#ffb46c"/>
<path d="M403.6,748.5 414.4,747.2 423.3,746.1 430.1,745.0 435.0,744.1 438.0,743.2 440.9,742.5 443.8,741.9 446.7,741.4 449.6,741.0 452.4,740.4 455.1,739.7 457.8,738.8 460.2,737.7 462.8,736.9 465.2,736.2 467.8,735.7 470.2,735.4 472.8,735.3 475.2,735.3 477.8,735.4 480.2,735.7 482.8,736.2 485.2,736.7 487.8,737.4 490.2,738.2 491.6,739.1 491.8,739.9 490.9,740.8 488.8,741.6 486.9,742.6 485.2,743.7 483.8,745.0 482.5,746.5 481.3,748.0 480.0,749.6 478.8,751.2 477.5,752.8 476.3,754.4 475.0,756.0 473.8,757.5 472.5,759.0 471.0,760.3 469.1,761.4 466.9,762.4 464.4,763.2 461.8,763.9 459.1,764.4 456.3,764.7 453.4,764.8 450.5,764.9 447.5,764.9 444.6,764.8 441.7,764.7 438.9,764.3 436.2,763.8 433.6,762.9 431.1,761.9 426.7,760.9 420.5,760.0 412.3,759.1 402.3,758.2 394.8,757.2 389.8,756.0 387.3,754.5 387.3,752.8 390.0,751.3 395.5,749.8Z" fill="#ffecd9"/>
<path d="M561.3,670.3 561.7,680.3 562.4,688.2 563.5,694.1 564.8,697.8 566.5,699.5 568.3,701.1 570.1,702.7 572.1,704.2 574.2,705.6 576.4,707.0 578.7,708.2 581.1,709.4 583.6,710.4 586.1,711.1 588.6,711.4 591.1,711.4 593.6,711.0 598.2,710.3 604.8,709.5 613.6,708.5 624.4,707.2 632.5,703.1 638.0,696.3 640.7,686.6 640.7,674.1 635.7,664.7 625.7,658.5 610.7,655.3 590.7,655.3 575.8,657.8 566.0,662.8Z" fill="#ffb46c"/>
<path d="M406.1,773.0 418.6,773.1 428.8,773.2 436.7,773.1 442.3,772.8 445.7,772.5 449.0,772.3 452.3,772.2 455.7,772.3 459.0,772.5 462.1,772.9 465.0,773.6 467.8,774.4 470.2,775.4 472.6,776.3 474.9,777.1 477.1,777.6 479.2,778.0 481.5,778.3 484.0,778.5 486.7,778.5 489.6,778.5 492.6,778.3 495.8,778.1 499.0,777.8 502.3,777.5 505.5,777.0 508.4,776.5 511.1,775.8 513.6,774.9 516.1,774.1 518.6,773.2 521.1,772.4 523.6,771.6 526.1,770.7 528.6,769.8 531.1,768.8 533.6,767.7 536.3,766.8 539.2,766.1 542.3,765.5 545.7,765.1 548.8,764.7 551.7,764.1 554.4,763.6 556.9,762.9 559.2,762.2 561.3,761.2 563.2,760.1 564.8,758.9 566.3,757.3 567.5,755.4 568.6,753.2 569.4,750.8 570.2,748.5 571.1,746.4 571.9,744.5 572.8,742.8 574.0,741.5 575.7,740.4 577.8,739.7 580.2,739.3 582.6,738.9 584.9,738.6 587.1,738.4 589.2,738.1 590.9,737.6 592.1,736.8 593.0,735.6 593.4,734.2 593.9,732.8 594.5,731.4 595.2,730.1 596.1,728.9 599.4,727.8 605.2,726.8 613.6,726.1 624.4,725.4 632.5,734.4 638.0,752.9 640.7,781.1 640.7,818.8 624.8,847.1 593.2,865.9 545.7,875.3 482.3,875.3 434.8,868.9 403.2,856.1 387.3,836.9 387.3,811.3 390.5,792.1 396.7,779.3Z" fill="#ffb46c"/>
<path d="M581.1,771.1 583.6,770.4 586.1,769.9 588.6,769.3 591.1,768.9 593.6,768.5 598.2,768.1 604.8,767.8 613.6,767.5 624.4,767.3 632.5,768.1 638.0,770.0 640.7,772.9 640.7,776.9 638.0,779.7 632.5,781.4 624.4,781.9 613.6,781.3 604.9,780.6 598.5,779.9 594.2,779.1 592.1,778.2 590.0,777.5 588.0,776.7 585.9,776.1 583.8,775.4 582.0,774.8 580.6,774.2 579.4,773.6 578.6,772.9 578.6,772.3 579.4,771.7Z" fill="#ffd0a0"/>
<path d="M407.3,797.8 420.7,797.8 431.7,797.7 440.5,797.5 446.9,797.2 451.1,796.8 454.6,796.3 457.5,795.6 459.8,794.9 461.5,794.1 463.4,793.4 465.5,792.9 467.8,792.5 470.2,792.3 473.0,792.1 475.9,791.7 479.0,791.4 482.3,791.0 485.7,790.4 489.0,789.8 492.3,789.1 495.7,788.2 499.0,787.4 502.3,786.4 505.7,785.4 509.0,784.4 512.3,783.4 515.7,782.5 519.0,781.6 522.3,780.8 525.7,779.9 529.0,779.1 532.3,778.2 535.7,777.4 538.8,776.7 541.7,776.1 544.4,775.5 546.9,775.1 549.2,774.8 551.3,774.5 553.2,774.3 554.8,774.2 556.6,774.2 558.5,774.2 560.5,774.4 562.5,774.6 564.6,774.9 566.7,775.2 568.8,775.4 570.9,775.7 573.5,776.1 576.6,776.6 580.2,777.1 584.4,777.7 590.7,778.4 599.0,779.1 609.4,779.9 621.9,780.8 631.3,787.2 637.5,799.3 640.7,817.0 640.7,840.3 624.8,857.8 593.2,869.5 545.7,875.3 482.3,875.3 434.8,870.5 403.2,860.8 387.3,846.3 387.3,826.9 390.7,812.4 397.3,802.7Z" fill="#ff9a38"/>
<path d="M444.8,786.6 446.5,785.8 448.3,784.9 450.1,783.9 452.1,782.9 454.2,781.9 455.8,781.5 456.8,781.7 457.3,782.5 457.3,784.0 457.0,785.3 456.4,786.4 455.5,787.4 454.2,788.2 452.9,788.9 451.4,789.4 449.8,789.7 448.2,789.8 446.7,789.8 445.5,789.6 444.4,789.2 443.6,788.6 443.4,788.0 443.8,787.3Z" fill="#ff9a38"/>
<path d="M573.2,761.8 574.8,760.5 576.7,759.3 578.8,758.2 581.1,757.1 583.6,756.1 586.2,755.2 588.9,754.4 591.7,753.9 594.6,753.5 597.1,753.3 599.2,753.4 600.9,753.8 602.1,754.4 602.6,755.1 602.4,755.8 601.5,756.6 599.8,757.4 598.1,758.2 596.2,759.1 594.2,759.9 592.1,760.8 589.9,761.6 587.6,762.4 585.2,763.2 582.8,764.1 580.4,764.6 578.1,764.8 575.9,764.7 573.8,764.3 572.6,763.7 572.4,762.8Z" fill="#ff9a38"/>
<path d="M576.4,799.8 577.4,798.4 578.6,797.0 580.0,795.8 581.5,794.6 583.2,793.6 584.8,792.9 586.5,792.6 588.2,792.6 589.8,793.0 591.6,793.7 593.5,794.5 595.5,795.5 597.5,796.8 601.6,797.5 607.6,797.7 615.7,797.4 625.7,796.6 633.2,798.2 638.2,802.4 640.7,809.1 640.7,818.2 637.5,825.1 631.3,829.8 621.9,832.1 609.4,832.2 599.5,832.3 592.1,832.4 587.2,832.5 584.9,832.6 583.2,832.3 581.9,831.4 581.2,830.0 581.0,828.1 581.0,826.4 581.3,824.9 581.9,823.5 582.8,822.2 583.9,821.1 585.4,820.0 587.1,819.1 589.2,818.2 591.1,817.3 592.8,816.3 594.2,815.1 595.5,813.9 596.1,812.6 596.1,811.4 595.5,810.1 594.2,808.9 592.8,807.7 591.1,806.7 589.2,805.8 587.1,804.9 585.2,804.5 583.4,804.5 581.8,804.9 580.4,805.8 579.1,806.1 577.9,805.9 576.9,805.1 576.1,803.9 575.7,802.6 575.8,801.2Z" fill="#ff8200"/>
<path d="M554.7,793.1 555.8,791.7 557.1,790.5 558.6,789.6 560.5,788.9 562.5,788.5 564.4,788.2 566.1,788.0 567.5,788.0 568.8,788.1 569.3,788.4 569.1,788.8 568.2,789.4 566.5,790.1 564.9,791.1 563.5,792.2 562.1,793.7 560.9,795.3 559.6,796.4 558.2,796.9 556.8,796.9 555.4,796.3 554.5,795.4 554.3,794.4Z" fill="#ff8200"/>
<path d="M571.6,826.4 572.2,826.0 572.8,825.8 573.3,825.9 573.8,826.3 574.2,826.9 574.4,827.5 574.3,828.0 573.9,828.5 573.3,828.9 572.7,829.0 572.2,828.9 571.7,828.6 571.3,827.9 571.1,827.4 571.2,826.8Z" fill="#ff8200"/>
</g>
<g clip-path="url(#c33)">
<rect x="604" y="692" width="180" height="154" fill="#ffd0a0"/>
<path d="M618.6,655.3 652.8,655.3 677.8,657.8 693.6,662.7 700.2,670.0 697.8,679.8 694.4,687.5 690.2,693.0 685.2,696.4 679.4,697.6 674.0,698.8 669.0,699.8 664.4,700.8 660.2,701.6 656.1,702.4 651.9,703.1 647.8,703.8 643.6,704.4 639.4,704.9 635.2,705.3 631.1,705.6 626.9,705.9 620.5,706.1 611.7,706.3 600.7,706.5 587.3,706.7 577.3,703.6 570.7,697.3 567.3,687.6 567.3,674.7 575.9,665.0 593.0,658.6Z" fill="#ffb46c"/>
<path d="M586.1,723.6 598.6,722.9 609.0,722.4 617.3,721.8 623.6,721.4 627.8,721.0 631.6,720.7 635.1,720.6 638.4,720.6 641.3,720.9 643.9,721.5 646.2,722.5 648.2,724.0 649.8,725.9 651.4,727.7 652.9,729.4 654.2,731.2 655.5,732.8 657.2,734.1 659.5,735.0 662.3,735.5 665.7,735.5 669.2,735.6 673.0,735.5 676.9,735.4 681.1,735.2 685.2,735.1 689.4,734.9 693.6,734.8 697.8,734.7 701.9,734.7 706.1,734.8 710.2,735.1 714.4,735.5 718.2,736.1 721.5,736.8 724.4,737.7 726.9,738.8 728.4,739.9 728.8,741.0 728.2,742.2 726.5,743.5 724.8,744.6 723.2,745.5 721.5,746.3 719.8,746.9 718.0,747.4 715.9,747.7 713.6,747.8 711.1,747.8 708.6,747.6 706.1,747.2 703.6,746.6 701.1,745.8 698.4,745.3 695.5,745.2 692.3,745.4 689.0,746.1 685.7,746.6 682.3,747.2 679.0,747.6 675.7,748.0 672.3,748.4 669.0,748.6 665.7,748.7 662.3,748.7 659.6,748.1 657.5,747.1 656.1,745.5 655.2,743.5 654.1,741.7 652.6,740.2 650.9,739.1 648.8,738.2 646.5,737.8 644.0,737.7 641.3,737.9 638.4,738.6 636.8,739.4 636.6,740.4 637.8,741.7 640.2,743.1 642.0,744.9 643.1,746.8 643.4,749.1 643.0,751.6 641.8,753.7 639.9,755.3 637.3,756.6 634.0,757.4 630.8,758.4 627.6,759.4 624.6,760.5 621.7,761.8 616.4,762.9 608.7,764.0 598.6,764.9 586.1,765.8 576.7,763.7 570.5,758.8 567.3,751.1 567.3,740.4 570.5,732.3 576.7,726.7Z" fill="#ffb46c"/>
<path d="M587.3,780.6 600.7,780.9 611.7,781.1 620.5,781.3 626.9,781.5 631.1,781.7 635.2,781.9 639.4,782.1 643.6,782.3 647.8,782.5 651.9,782.7 656.1,782.9 660.2,783.0 664.4,783.1 668.6,783.2 672.8,783.2 676.9,783.1 681.1,783.0 685.1,782.8 689.1,782.4 693.0,781.9 696.7,781.3 699.5,780.2 701.5,778.6 702.5,776.6 702.5,774.1 702.7,771.8 702.9,769.7 703.2,767.8 703.5,766.2 704.8,764.8 707.0,763.7 710.2,762.9 714.4,762.4 718.6,762.0 722.8,761.6 726.9,761.3 731.1,761.0 734.4,760.4 736.9,759.4 738.6,758.0 739.4,756.3 740.5,754.6 741.7,752.9 743.2,751.2 744.8,749.5 746.7,747.8 748.8,746.2 751.1,744.5 753.6,742.8 756.3,741.3 759.2,740.0 762.3,738.8 765.7,737.7 771.3,736.8 779.2,736.1 789.4,735.5 801.9,735.1 811.3,743.6 817.5,761.0 820.7,787.3 820.7,822.5 804.8,848.9 773.2,866.5 725.7,875.3 662.3,875.3 614.8,869.4 583.2,857.5 567.3,839.7 567.3,816.0 570.7,798.2 577.3,786.4Z" fill="#ffb46c"/>
<path d="M587.3,785.6 600.7,785.9 611.7,786.2 620.5,786.6 626.9,787.1 631.1,787.7 635.2,788.1 639.4,788.4 643.6,788.4 647.8,788.1 651.9,787.9 656.1,787.6 660.2,787.2 664.4,786.8 668.6,786.4 672.8,786.1 676.9,785.9 681.1,785.6 685.2,785.4 689.4,785.2 693.6,785.0 697.8,784.8 701.9,784.6 706.1,784.4 710.2,784.2 714.4,784.0 718.2,783.5 721.5,782.8 724.4,781.8 726.9,780.5 729.2,779.8 731.3,779.4 733.2,779.6 734.8,780.2 736.5,780.5 738.2,780.5 739.8,780.2 741.5,779.6 743.2,779.4 744.8,779.6 746.5,780.2 748.2,781.3 750.0,782.2 752.1,783.0 754.4,783.8 756.9,784.4 759.4,784.7 761.9,784.6 764.4,784.1 766.9,783.2 769.3,782.3 771.6,781.3 773.8,780.1 775.9,778.9 780.0,777.8 786.3,777.0 794.6,776.4 805.0,776.0 812.9,781.9 818.1,794.2 820.7,812.8 820.7,837.8 804.8,856.6 773.2,869.1 725.7,875.3 662.3,875.3 614.8,869.7 583.2,858.5 567.3,841.6 567.3,819.1 570.7,802.3 577.3,791.1Z" fill="#ff9a38"/>
<path d="M763.4,755.2 766.3,754.6 771.6,754.1 779.3,753.7 789.4,753.4 801.9,753.1 811.3,753.4 817.5,754.0 820.7,755.0 820.7,756.5 817.8,757.5 811.9,758.1 803.2,758.4 791.5,758.1 782.1,758.0 775.0,757.8 770.2,757.6 767.8,757.5 765.6,757.4 763.7,757.1 762.1,756.9 760.9,756.6 760.7,756.2 761.5,755.8Z" fill="#ff9a38"/>
<path d="M586.1,795.4 598.6,794.8 609.2,794.4 618.0,794.1 624.8,794.0 629.8,794.0 634.6,794.0 639.2,794.1 643.6,794.2 647.8,794.3 651.7,794.5 655.5,794.8 659.0,795.1 662.3,795.5 665.4,796.2 668.1,797.2 670.5,798.4 672.5,799.8 674.2,801.3 675.5,802.9 676.3,804.5 676.7,806.2 677.3,807.3 678.2,807.9 679.2,808.0 680.5,807.6 681.5,806.9 682.3,805.9 683.0,804.5 683.4,802.8 683.9,801.4 684.5,800.1 685.2,799.1 686.1,798.2 687.5,797.7 689.6,797.5 692.3,797.6 695.7,798.0 699.0,798.5 702.3,798.9 705.7,799.3 709.0,799.7 712.3,800.2 715.7,800.7 719.0,801.3 722.3,801.9 725.6,802.5 728.7,803.1 731.7,803.8 734.6,804.4 737.0,805.2 738.9,806.3 740.2,807.5 741.1,809.0 741.4,810.4 741.2,811.7 740.5,813.0 739.2,814.3 737.9,815.3 736.4,816.0 734.8,816.5 733.2,816.7 731.5,817.4 729.8,818.5 728.2,820.1 726.5,822.2 724.8,824.0 723.2,825.6 721.5,826.9 719.8,827.9 717.3,828.8 714.0,829.4 709.8,829.8 704.8,830.0 699.4,830.3 693.6,830.5 687.3,830.8 680.7,831.2 673.6,831.5 666.1,831.7 658.2,831.9 649.8,832.1 639.2,832.2 626.3,832.2 611.1,832.2 593.6,832.1 580.5,829.8 571.7,825.3 567.3,818.6 567.3,809.6 570.5,802.8 576.7,798.0Z" fill="#ff8200"/>
<path d="M679.8,809.9 681.5,810.8 683.4,811.3 685.5,811.6 687.8,811.7 690.2,811.5 692.4,811.6 694.2,812.0 695.6,812.7 696.6,813.8 696.9,814.8 696.5,815.7 695.4,816.6 693.5,817.4 691.9,818.2 690.5,819.1 689.4,819.9 688.6,820.8 687.5,821.3 686.3,821.6 684.8,821.7 683.2,821.5 681.8,821.0 680.6,820.1 679.7,819.0 679.1,817.5 678.6,816.0 678.2,814.4 677.9,812.8 677.6,811.2 677.9,810.1 678.6,809.7Z" fill="#ff9a38"/>
<path d="M719.8,810.8 721.5,809.9 723.2,809.4 724.8,809.3 726.5,809.6 728.2,810.2 729.2,811.0 729.6,811.9 729.4,813.0 728.6,814.3 727.5,815.3 726.3,816.2 724.8,816.8 723.2,817.2 721.7,817.2 720.5,816.6 719.4,815.6 718.6,814.2 718.4,812.9 718.8,811.7Z" fill="#ff9a38"/>
<path d="M703.6,818.6 704.4,817.9 705.2,817.7 706.1,817.8 706.9,818.2 707.8,819.1 708.2,819.9 708.2,820.6 707.8,821.3 706.9,821.9 706.1,822.2 705.2,822.1 704.4,821.6 703.6,820.8 703.2,820.0 703.2,819.2Z" fill="#ff9a38"/>
<path d="M610.1,810.4 610.9,809.4 611.6,808.9 612.3,809.0 613.1,809.7 613.8,811.0 614.1,812.2 614.1,813.4 613.8,814.5 613.1,815.6 612.3,816.2 611.6,816.1 610.9,815.3 610.1,814.0 609.8,812.7 609.8,811.6Z" fill="#ff9a38"/>
<path d="M629.9,802.9 630.8,802.2 631.6,801.9 632.3,801.9 633.1,802.2 633.8,802.9 634.1,803.7 634.1,804.4 633.8,805.1 633.1,805.9 632.3,806.2 631.6,806.2 630.8,805.9 629.9,805.1 629.5,804.4 629.5,803.7Z" fill="#ff9a38"/>
<path d="M777.5,826.4 778.8,826.0 782.2,825.6 787.9,825.3 795.7,825.0 805.7,824.8 813.2,825.0 818.2,825.6 820.7,826.7 820.7,828.1 818.1,829.2 812.9,829.9 805.0,830.2 794.6,830.1 786.6,829.9 781.0,829.5 777.8,828.9 776.9,828.1 776.6,827.5 776.8,826.9Z" fill="#ff8200"/>
<path d="M610.6,770.8 613.3,769.9 616.0,769.1 618.8,768.2 621.7,767.4 624.6,766.6 627.4,765.8 630.1,765.2 632.8,764.6 635.2,764.1 637.8,763.8 640.4,763.6 643.1,763.6 645.8,763.8 647.5,764.3 648.4,765.1 648.3,766.4 647.2,768.0 645.9,769.3 644.4,770.4 642.5,771.3 640.5,771.9 638.3,772.5 636.0,773.0 633.6,773.5 631.1,773.9 628.4,774.2 625.5,774.6 622.3,774.8 619.0,775.0 616.0,775.0 613.4,774.7 611.2,774.1 609.3,773.2 608.6,772.4 609.0,771.6Z" fill="#ffecd9"/>
<path d="M757.5,715.3 760.5,715.3 762.3,715.5 763.2,716.0 763.0,716.6 761.7,717.4 760.4,717.8 758.9,717.8 757.3,717.4 755.7,716.6 755.1,716.0 755.8,715.5Z" fill="#ffecd9"/>
</g>
<g clip-path="url(#c34)">
<rect x="784" y="692" width="180" height="154" fill="#ffd0a0"/>
<path d="M878.7,671.6 880.1,682.4 881.3,691.4 882.3,698.5 883.0,703.7 883.4,707.0 883.7,710.2 883.9,713.4 884.0,716.4 884.0,719.3 884.4,722.0 885.2,724.5 886.5,726.8 888.2,728.9 889.9,730.9 891.8,732.9 893.8,734.8 895.9,736.7 897.0,738.3 897.2,739.7 896.5,740.8 894.8,741.6 893.2,742.5 891.7,743.4 890.1,744.4 888.7,745.4 888.1,746.4 888.3,747.4 889.3,748.2 891.2,749.1 893.6,749.7 896.7,750.1 900.2,750.3 904.4,750.3 908.6,750.2 912.8,750.0 916.9,749.7 921.1,749.3 925.2,748.9 929.4,748.5 933.6,748.0 937.8,747.6 944.4,747.2 953.6,746.6 965.2,746.1 979.4,745.4 990.0,739.4 997.1,727.9 1000.7,711.1 1000.7,688.8 992.9,672.1 977.4,660.9 954.1,655.3 923.1,655.3 900.1,658.0 885.4,663.5Z" fill="#ffecd9"/>
<path d="M936.5,696.6 938.2,695.8 939.6,692.7 940.9,687.4 941.9,679.8 942.8,670.0 946.9,662.7 954.4,657.8 965.2,655.3 979.4,655.3 990.0,658.1 997.1,663.8 1000.7,672.2 1000.7,683.5 998.0,692.1 992.5,698.0 984.4,701.3 973.6,701.9 964.8,702.4 958.2,702.8 953.6,703.1 951.1,703.4 948.7,703.4 946.4,703.1 944.2,702.7 942.1,702.1 940.2,701.4 938.6,700.7 937.1,699.9 935.9,699.1 935.4,698.2 935.6,697.4Z" fill="#ffd0a0"/>
<path d="M764.8,733.0 776.5,732.6 785.9,732.3 793.0,731.9 797.8,731.7 800.2,731.5 803.0,731.4 805.9,731.5 809.0,731.8 812.3,732.2 815.7,732.6 819.0,733.0 822.3,733.5 825.7,733.9 828.9,734.5 832.0,735.3 835.0,736.4 838.0,737.6 841.0,738.7 844.1,739.7 847.3,740.4 850.7,741.1 853.9,741.8 857.0,742.8 860.0,743.9 863.0,745.1 865.6,746.5 867.9,747.9 869.8,749.5 871.5,751.2 873.2,752.7 874.8,754.2 876.5,755.5 878.2,756.8 879.8,757.9 881.5,758.8 883.2,759.6 884.8,760.2 886.7,760.6 888.8,760.9 891.1,760.9 893.6,760.6 896.3,760.3 899.2,759.9 902.3,759.4 905.7,758.8 909.1,758.2 912.6,757.7 916.3,757.2 920.0,756.8 923.9,756.4 927.9,756.0 931.9,755.5 936.1,755.1 942.9,754.7 952.2,754.3 964.2,753.9 978.8,753.5 989.7,760.8 997.0,775.9 1000.7,798.8 1000.7,829.4 984.8,852.4 953.2,867.7 905.7,875.3 842.3,875.3 794.8,866.5 763.2,848.8 747.3,822.2 747.3,786.8 750.2,760.1 756.1,742.2Z" fill="#ffb46c"/>
<path d="M766.1,752.5 778.6,752.3 789.0,752.1 797.3,751.9 803.6,751.7 807.8,751.5 811.9,751.3 816.1,751.2 820.2,751.2 824.4,751.2 828.5,751.2 832.4,751.3 836.3,751.5 840.0,751.7 843.5,752.1 846.6,752.6 849.4,753.2 851.9,754.1 854.1,755.1 856.0,756.4 857.5,757.8 858.8,759.5 860.1,761.1 861.6,762.5 863.2,763.9 864.8,765.1 866.6,766.3 868.3,767.5 870.1,768.6 872.0,769.6 874.0,770.2 876.1,770.4 878.3,770.2 880.6,769.6 883.1,769.0 885.9,768.4 889.0,767.7 892.3,767.1 895.7,766.6 899.0,766.2 902.3,765.9 905.7,765.6 909.1,765.4 912.6,765.2 916.3,765.0 920.0,764.8 923.9,764.6 927.9,764.4 931.9,764.2 936.1,764.0 942.9,763.7 952.2,763.4 964.2,763.0 978.8,762.6 989.7,769.4 997.0,783.4 1000.7,804.5 1000.7,832.8 984.8,854.1 953.2,868.2 905.7,875.3 842.3,875.3 794.8,867.7 763.2,852.4 747.3,829.4 747.3,798.8 750.5,775.8 756.7,760.3Z" fill="#ff9a38"/>
<path d="M764.8,760.0 776.5,759.8 786.0,759.7 793.3,759.7 798.4,759.8 801.3,760.0 804.2,760.3 807.1,760.6 810.0,761.0 813.0,761.4 815.4,762.1 817.2,763.0 818.6,764.2 819.4,765.6 819.8,767.1 819.8,768.6 819.4,770.0 818.6,771.5 817.2,772.8 815.4,773.9 813.0,774.9 810.0,775.8 807.1,776.5 804.2,777.1 801.3,777.6 798.4,778.0 793.3,778.4 786.0,778.7 776.5,779.0 764.8,779.2 756.1,778.1 750.2,775.9 747.3,772.3 747.3,767.5 750.2,763.9 756.1,761.4Z" fill="#ffb46c"/>
<path d="M885.0,827.7 888.0,827.1 891.2,826.5 894.7,826.0 898.6,825.5 902.8,825.1 907.4,824.7 912.6,824.1 918.4,823.6 924.6,822.9 930.4,822.4 935.6,821.8 940.2,821.4 944.4,821.0 950.7,820.6 959.0,820.3 969.4,820.0 981.9,819.8 991.3,820.4 997.5,821.9 1000.7,824.2 1000.7,827.3 996.5,829.6 988.2,831.2 975.7,831.9 959.0,831.8 944.4,831.7 931.9,831.7 921.5,831.7 913.2,831.7 905.9,831.6 899.6,831.5 894.4,831.3 890.2,831.0 886.9,830.7 884.4,830.4 882.8,829.9 881.9,829.4 882.0,828.9 883.1,828.3Z" fill="#ffb46c"/>
<path d="M846.6,769.1 847.2,768.2 847.8,767.9 848.4,768.1 849.0,768.8 849.5,769.9 849.7,770.9 849.6,771.7 849.2,772.3 848.5,772.7 847.8,772.8 847.2,772.7 846.7,772.2 846.3,771.5 846.1,770.7 846.2,769.9Z" fill="#ffb46c"/>
<path d="M845.9,802.3 846.6,801.4 847.3,800.9 848.0,801.0 848.7,801.5 849.3,802.5 849.6,803.4 849.6,804.2 849.2,805.0 848.5,805.7 847.7,806.0 847.1,805.9 846.4,805.5 845.8,804.8 845.5,804.0 845.5,803.2Z" fill="#ffb46c"/>
<path d="M834.4,795.9 835.6,795.6 836.3,795.6 836.6,795.9 836.4,796.3 835.8,796.9 835.2,797.3 834.6,797.4 834.0,797.2 833.5,796.8 833.4,796.4 833.7,796.1Z" fill="#ffb46c"/>
<path d="M900.9,787.5 901.6,787.3 902.1,787.4 902.4,787.8 902.5,788.6 902.5,789.6 902.2,790.2 901.9,790.3 901.4,789.9 900.8,789.1 900.5,788.4 900.5,787.9Z" fill="#ffb46c"/>
<path d="M936.5,778.6 938.5,777.9 940.8,777.3 943.3,776.5 946.0,775.8 949.0,774.9 951.8,774.3 954.5,773.9 957.1,773.7 959.6,773.7 964.2,773.9 970.8,774.3 979.6,774.9 990.4,775.8 999.0,776.6 1005.2,777.6 1009.2,778.6 1010.8,779.6 1011.8,780.7 1012.0,781.8 1011.5,783.0 1010.2,784.3 1009.0,785.4 1007.7,786.5 1006.5,787.4 1005.2,788.2 1001.8,789.0 996.1,789.8 988.3,790.4 978.3,791.1 970.3,791.3 964.3,791.2 960.2,790.8 958.1,789.9 956.1,789.1 954.3,788.4 952.5,787.7 950.8,787.1 949.1,786.7 947.2,786.5 945.2,786.5 943.1,786.7 941.2,786.6 939.6,786.3 938.1,785.8 936.9,784.9 935.8,784.0 935.0,783.1 934.4,782.1 934.0,781.1 934.2,780.1 935.0,779.3Z" fill="#ff8200"/>
<path d="M763.0,824.8 773.4,825.0 781.5,825.4 787.3,825.8 790.9,826.5 792.1,827.2 792.6,827.9 792.4,828.6 791.5,829.2 789.8,829.8 786.1,830.2 780.2,830.5 772.3,830.5 762.3,830.5 754.8,830.0 749.8,829.3 747.3,828.1 747.3,826.7 749.9,825.6 755.1,825.0Z" fill="#ff8200"/>
</g>
<g clip-path="url(#c35)">
<rect x="964" y="692" width="116" height="154" fill="#ffd0a0"/>
<path d="M939.6,700.5 943.8,701.8 947.9,702.5 952.1,702.7 956.2,702.4 960.4,701.6 964.6,700.9 968.8,700.4 972.9,700.0 977.1,699.8 981.2,699.9 985.4,700.2 989.6,700.8 993.8,701.6 997.9,702.4 1002.1,703.1 1006.2,703.8 1010.4,704.4 1014.4,705.1 1018.1,705.8 1021.7,706.6 1025.0,707.4 1027.6,708.6 1029.5,710.0 1030.6,711.8 1031.0,713.9 1030.8,715.8 1030.0,717.6 1028.5,719.2 1026.5,720.6 1023.9,721.9 1020.7,722.9 1017.1,723.8 1012.9,724.4 1008.8,725.0 1004.6,725.6 1000.4,726.3 996.2,726.9 992.6,727.7 989.5,728.8 986.9,730.0 984.8,731.5 982.8,733.0 980.9,734.6 979.2,736.2 977.5,737.8 975.5,739.3 973.2,740.5 970.6,741.6 967.7,742.4 964.7,743.2 961.6,744.1 958.3,744.9 955.0,745.8 951.5,746.5 947.7,747.3 943.8,747.9 939.6,748.6 935.4,749.1 931.2,749.5 927.1,749.8 922.9,750.0 916.5,750.2 907.7,750.3 896.7,750.3 883.3,750.3 873.3,747.7 866.7,742.5 863.3,734.7 863.3,724.3 866.7,716.1 873.3,710.0 883.3,706.2 896.7,704.5 907.7,703.0 916.5,701.8 922.9,700.8 927.1,699.9 931.2,699.6 935.4,699.8Z" fill="#ffecd9"/>
<path d="M893.3,655.3 913.3,655.3 928.1,657.8 937.7,662.8 942.1,670.3 941.2,680.3 940.2,688.0 939.0,693.3 937.5,696.3 935.8,696.9 930.2,697.4 920.6,697.8 907.1,698.1 889.6,698.4 876.5,695.8 867.7,690.5 863.3,682.4 863.3,671.6 868.3,663.5 878.3,658.0Z" fill="#ffecd9"/>
<path d="M883.3,755.9 896.7,755.6 907.7,755.4 916.5,755.2 922.9,755.0 927.1,754.8 931.2,754.6 935.4,754.2 939.6,753.9 943.8,753.5 947.9,753.0 952.1,752.5 956.2,751.9 960.4,751.3 964.6,750.6 968.8,749.9 972.9,749.1 977.1,748.2 981.2,747.5 985.4,746.7 989.6,746.1 993.8,745.4 997.9,745.0 1002.1,744.7 1006.2,744.5 1010.4,744.5 1014.9,744.6 1019.7,744.7 1024.8,744.8 1030.2,745.0 1034.3,753.3 1037.0,769.7 1038.3,794.1 1038.3,826.6 1027.4,851.0 1005.5,867.2 972.7,875.3 929.0,875.3 896.1,867.9 874.3,853.0 863.3,830.6 863.3,800.9 866.7,778.5 873.3,763.5Z" fill="#ffb46c"/>
<path d="M883.3,763.7 896.7,763.7 907.7,763.7 916.5,763.8 922.9,764.0 927.1,764.2 931.2,764.3 935.4,764.3 939.6,764.2 943.8,764.0 947.7,763.7 951.5,763.2 955.0,762.7 958.3,762.1 961.7,761.5 965.0,760.9 968.3,760.2 971.7,759.6 975.0,759.0 978.3,758.4 981.7,757.7 985.0,757.1 988.3,756.5 991.7,755.9 995.0,755.2 998.3,754.6 1001.7,754.0 1005.0,753.4 1008.3,752.7 1011.7,752.1 1015.5,751.5 1019.9,751.0 1024.8,750.5 1030.2,750.1 1034.3,753.9 1037.0,761.9 1038.3,774.2 1038.3,790.6 1037.0,803.1 1034.3,811.7 1030.2,816.3 1024.8,816.9 1019.7,817.5 1014.9,818.0 1010.4,818.5 1006.2,818.9 1002.1,819.2 997.9,819.6 993.8,819.8 989.6,820.0 985.4,820.2 981.2,820.4 977.1,820.6 972.9,820.9 968.8,821.1 964.6,821.4 960.4,821.8 956.2,822.2 952.1,822.6 947.9,822.9 943.8,823.1 939.6,823.4 935.4,823.6 931.2,823.9 927.1,824.3 922.9,824.7 916.5,825.1 907.7,825.5 896.7,826.0 883.3,826.4 873.3,822.7 866.7,815.0 863.3,803.2 863.3,787.4 866.7,775.5 873.3,767.6Z" fill="#ff9a38"/>
<path d="M889.6,833.0 907.1,832.6 922.3,832.3 935.2,831.9 945.8,831.7 954.2,831.5 962.5,831.3 970.8,831.1 979.2,831.0 987.5,830.9 996.1,830.7 1005.1,830.6 1014.4,830.5 1024.0,830.5 1031.1,833.2 1035.9,838.8 1038.3,847.2 1038.3,858.5 1027.4,866.9 1005.5,872.5 972.7,875.3 929.0,875.3 896.1,872.7 874.3,867.5 863.3,859.7 863.3,849.3 867.7,841.4 876.5,836.0Z" fill="#ff9a38"/>
<path d="M936.5,778.6 938.5,777.9 940.8,777.3 943.3,776.5 946.0,775.8 949.0,774.9 951.8,774.3 954.5,773.9 957.1,773.7 959.6,773.7 962.1,773.9 964.6,774.3 967.1,774.9 969.6,775.8 971.9,776.6 974.0,777.6 975.8,778.6 977.5,779.6 978.4,780.7 978.6,781.8 978.1,783.0 976.9,784.3 975.6,785.4 974.4,786.5 973.1,787.4 971.9,788.2 970.5,789.0 969.1,789.8 967.5,790.4 965.8,791.1 964.1,791.3 962.2,791.2 960.2,790.8 958.1,789.9 956.1,789.1 954.3,788.4 952.5,787.7 950.8,787.1 949.1,786.7 947.2,786.5 945.2,786.5 943.1,786.7 941.2,786.6 939.6,786.3 938.1,785.8 936.9,784.9 935.8,784.0 935.0,783.1 934.4,782.1 934.0,781.1 934.2,780.1 935.0,779.3Z" fill="#ff8200"/>
</g>
<path d="M168.7,325.8 168.7,356.3 M168.7,356.3 244.0,356.3 M180.7,327.5 184.0,333.3 190.7,338.3 197.3,345.0 202.3,350.0 209.0,353.3 214.0,355.8 M225.3,356.3 225.3,376.7 239.8,390.8 240.7,405.0 M244.0,356.3 294.0,356.3 M252.3,356.3 252.3,391.7 M274.0,356.3 275.0,391.7 M292.3,391.7 292.3,379.2 306.5,368.0 M334.0,384.7 334.0,398.3 344.0,405.0 M366.5,373.3 372.3,371.7 377.3,366.7 375.7,376.7 370.7,380.3 377.3,381.7 394.0,382.8 M590.7,330.0 584.0,340.0 581.5,350.0 578.2,355.8 M599.0,330.0 600.7,341.7 M557.3,385.3 565.0,388.3 M570.7,376.7 571.5,383.3 568.3,386.7 565.0,388.3 M574.8,372.0 578.2,372.0 M587.5,374.2 586.7,385.0 M586.7,385.0 593.3,386.7 603.3,386.7 611.7,385.0 M582.5,385.0 586.7,389.2 593.3,390.8 598.3,388.3 593.3,386.7 M593.3,390.8 595.0,395.0 603.3,394.2 M583.3,395.8 590.0,396.7 595.0,395.0 M565.0,388.3 570.0,393.3 568.3,398.3 566.7,401.7 565.0,406.7 M568.3,398.3 576.7,400.0 581.7,401.7 M581.7,383.3 582.5,385.0 M576.7,400.0 583.3,395.8 M629.0,324.2 627.3,331.7 630.7,340.0 633.2,348.3 632.3,351.3 M611.5,324.2 612.3,330.0 611.5,337.0 M610.7,363.3 622.3,362.5 624.0,358.3 M613.2,368.3 624.0,369.2 630.7,370.8 622.3,362.5 M614.0,376.7 625.7,375.0 635.7,376.7 634.0,381.7 639.0,384.2 630.7,384.2 614.0,383.3 610.7,376.7 614.0,376.7 M604.0,376.7 610.7,376.7 M614.0,383.3 609.0,391.7 614.0,395.0 620.7,393.3 625.7,398.3 637.3,395.8 647.3,389.2 655.7,391.7 654.0,398.3 647.3,400.0 640.7,405.0 M634.0,381.7 644.0,386.7 654.0,391.7 M604.0,391.7 609.0,391.7 M604.0,398.3 612.3,400.0 620.7,405.0 M609.0,391.7 607.3,398.3 M674.0,391.7 677.3,386.7 685.7,383.3 697.3,384.2 710.7,382.5 714.0,376.7 724.0,375.0 735.7,371.7 744.0,375.0 754.0,374.2 760.7,381.7 767.3,386.7 777.3,389.2 784.0,393.3 M674.0,391.7 674.8,395.0 676.7,398.3 M687.3,405.0 694.0,401.7 697.3,405.0 M611.7,374.2 613.3,381.7 611.7,385.0 M603.3,394.2 610.0,391.7 611.7,385.0 M610.0,391.7 620.0,393.3 626.7,398.3 626.7,405.0 M620.0,393.3 628.3,390.0 636.7,396.7 640.0,398.3 M784.0,391.7 789.0,388.3 795.7,387.5 804.0,388.3 812.3,384.2 814.8,382.5 820.7,383.3 825.7,387.5 832.3,388.3 840.7,390.0 850.7,391.7 859.0,388.3 867.3,386.7 870.7,381.7 874.0,378.3 880.7,376.7 887.3,380.0 890.7,386.7 897.3,391.7 904.0,395.0 910.7,393.3 909.0,400.0 905.7,405.0 M859.0,391.7 864.0,395.0 870.7,398.3 864.0,401.7 859.0,405.0 M784.0,391.7 789.0,395.0 794.0,400.0 792.3,405.0 M910.7,393.3 917.3,391.7 925.7,388.3 927.3,391.7 924.0,398.3 917.3,405.0 M303.2,488.2 303.2,494.8 299.0,497.3 M309.8,494.0 314.0,496.5 317.3,499.0 M310.7,490.7 304.0,492.3 M314.0,504.0 322.3,500.7 M317.3,510.7 324.0,512.3 M354.0,514.0 357.3,520.7 364.0,524.0 367.3,530.7 365.7,537.3 367.3,544.0 365.7,549.0 M385.7,520.7 382.3,527.3 385.7,534.0 382.3,537.3 377.3,539.8 372.3,537.3 367.3,544.0 M394.0,529.0 392.3,537.3 395.7,544.0 M402.3,531.5 401.5,539.0 404.0,544.0 M409.0,535.7 406.5,542.3 M530.7,414.0 529.8,420.7 529.0,429.0 M545.7,410.7 565.7,407.7 M566.7,401.7 565.0,409.0 M588.3,403.3 595.0,405.0 600.0,410.0 603.3,416.7 M544.0,435.7 544.8,445.7 537.3,450.7 530.7,455.7 525.7,460.7 M514.0,460.7 524.8,460.7 524.8,466.5 516.5,467.3 516.5,474.0 514.0,475.7 513.2,480.7 504.8,481.0 M532.3,469.8 534.0,499.8 517.3,500.7 514.0,502.3 M525.7,461.5 559.0,488.2 580.7,474.8 590.7,474.8 604.0,481.5 M580.7,474.8 574.8,467.3 574.0,454.0 570.7,444.0 572.3,434.0 M574.8,430.7 570.7,437.3 574.0,443.2 577.3,443.2 M589.8,474.8 590.7,487.3 588.2,502.3 584.0,505.7 M559.8,488.2 559.0,497.3 555.7,502.3 549.0,502.3 547.3,507.3 540.7,510.7 534.0,510.7 525.7,510.7 517.3,504.0 M549.0,502.3 555.7,510.7 557.3,515.7 550.7,517.3 540.7,514.8 534.8,517.3 534.0,510.7 M559.0,507.3 565.7,505.7 574.0,508.2 584.0,505.7 588.2,502.3 M559.0,497.3 559.0,507.3 557.3,515.7 557.3,530.7 M540.7,514.8 540.7,534.8 M550.7,517.3 551.5,532.3 M555.7,519.0 556.0,531.0 M525.7,510.7 527.3,520.7 524.0,524.0 528.2,530.7 529.0,535.7 M517.3,504.0 520.7,510.7 514.0,512.3 507.3,511.5 M514.0,512.3 517.3,519.0 522.3,520.7 527.3,520.7 M510.7,519.0 514.8,520.7 517.3,524.0 519.0,528.2 M504.0,505.7 514.0,505.7 515.7,508.2 504.0,508.7 M584.0,505.7 586.5,512.3 580.7,527.3 577.3,527.3 574.0,534.0 574.0,542.3 M588.2,502.3 586.5,512.3 590.7,520.7 597.3,519.0 604.0,517.3 M590.7,520.7 589.0,530.7 597.3,537.3 604.0,535.7 M594.0,539.0 600.7,542.3 M600.0,410.0 603.3,416.7 610.0,415.0 613.3,408.3 M603.3,416.7 613.3,415.8 620.0,416.7 M613.3,408.3 622.3,409.0 626.7,407.3 M614.8,446.5 614.8,479.0 M614.8,479.0 645.7,479.0 M614.8,479.0 611.5,487.3 612.3,499.0 607.3,505.7 610.7,514.0 604.0,520.7 M610.7,514.0 620.7,519.0 630.7,517.3 640.7,520.7 645.7,512.3 M645.7,512.3 649.0,504.0 654.0,497.3 657.3,502.3 M640.7,520.7 645.7,530.7 655.7,534.0 664.0,535.7 677.3,527.3 M645.7,530.7 644.0,539.0 645.7,544.0 655.7,549.0 M655.7,534.0 657.3,549.0 M630.7,534.0 644.0,539.0 M620.7,519.0 622.3,530.7 630.7,534.0 M604.0,535.7 614.0,537.3 622.3,530.7 M630.7,534.0 632.3,549.0 M652.3,497.3 659.0,505.7 663.2,510.7 M664.8,502.3 674.0,497.3 684.0,492.3 690.7,494.8 M690.7,494.8 689.0,489.0 697.3,482.3 699.0,470.7 M690.7,472.3 695.7,475.7 697.3,482.3 M642.0,451.5 647.3,452.3 652.3,447.3 647.3,445.7 659.0,439.8 667.3,445.7 675.7,452.3 677.3,452.7 M642.0,451.5 643.2,442.3 M644.8,431.5 652.3,430.7 664.0,429.0 665.7,432.3 659.0,439.8 647.3,445.7 645.7,439.0 M667.3,425.7 670.7,432.3 672.3,439.0 677.3,447.3 677.3,452.7 M664.0,429.0 667.3,425.7 669.8,420.7 668.2,410.7 669.0,404.0 M669.8,420.7 677.3,419.0 682.3,420.7 M668.2,410.7 675.7,412.3 681.5,410.7 M694.8,429.0 704.0,425.7 710.7,429.0 714.0,437.3 M714.0,437.3 712.3,445.7 714.0,454.0 719.0,459.0 715.7,468.2 M719.0,459.0 724.0,454.0 734.0,452.3 737.3,445.7 742.3,437.3 750.7,432.3 754.0,429.0 M714.0,437.3 720.7,434.0 727.3,429.0 735.7,429.0 742.3,427.3 750.7,425.7 754.0,429.0 M754.0,429.0 759.0,437.3 760.7,445.7 752.3,454.0 744.0,459.0 737.3,462.3 739.0,470.7 732.3,472.3 M759.0,437.3 764.0,435.7 767.3,445.7 770.7,452.3 777.3,455.7 784.0,459.0 M767.3,445.7 764.0,454.0 769.0,457.3 780.7,460.7 784.0,461.5 M699.8,409.0 699.0,417.3 704.0,414.0 714.0,412.3 720.7,417.3 727.3,422.3 730.7,429.0 M720.7,417.3 725.7,412.3 734.0,415.7 739.0,412.3 745.7,415.7 737.3,420.7 734.0,419.0 735.7,422.3 744.0,420.7 749.0,417.3 757.3,415.7 764.0,412.3 770.7,407.3 769.0,403.2 M749.0,417.3 747.3,424.0 750.7,425.7 M757.3,415.7 760.7,422.3 759.0,430.7 754.0,429.0 M800.7,404.0 809.0,410.7 820.7,414.0 832.3,414.8 842.3,411.5 850.7,405.7 854.0,403.2 M878.2,421.5 884.0,417.3 890.7,414.0 897.3,412.3 M888.2,425.7 894.8,424.8 M821.5,477.3 827.3,475.7 832.3,477.3 835.7,481.5 M821.5,477.3 823.2,484.0 827.3,489.0 832.3,497.3 835.7,504.0 837.3,507.3 M809.0,480.7 814.0,482.3 817.3,487.3 822.3,490.7 827.3,489.0 M817.3,487.3 815.7,494.0 M824.0,504.0 829.0,502.3 835.7,504.0 M824.0,504.0 823.2,512.3 M835.7,504.0 837.3,510.7 832.3,514.0 831.5,519.0 M809.0,480.7 805.7,487.3 807.3,494.0 810.7,499.0 M804.0,454.0 809.0,457.3 812.3,462.3 810.7,469.0 814.0,474.0 819.0,477.3 821.5,477.3 M794.0,475.7 795.7,467.3 800.7,460.7 804.0,454.0 M784.0,467.3 789.0,465.7 792.3,470.7 790.7,477.3 794.0,475.7 M784.0,459.0 790.7,457.3 797.3,455.7 804.0,454.0 M784.0,461.5 789.0,462.7 794.0,460.3 M815.7,494.0 822.3,497.3 824.0,504.0 M331.5,558.0 337.3,561.3 342.3,556.3 345.7,551.3 340.7,547.2 M345.7,551.3 352.3,554.7 359.0,561.3 360.7,564.7 354.0,566.3 349.8,573.0 352.3,581.3 359.0,583.0 362.3,585.5 M362.3,585.5 363.2,594.7 361.5,601.3 360.7,608.0 M362.3,585.5 372.3,583.0 377.3,589.7 385.7,596.3 390.7,604.7 393.2,613.0 M360.7,608.0 364.0,618.0 366.5,623.0 370.7,621.3 379.0,620.5 382.3,614.7 387.3,612.2 393.2,613.0 M379.0,620.5 384.0,626.3 391.5,629.7 392.3,636.3 399.0,638.0 402.3,633.8 401.5,628.0 397.3,626.3 394.8,619.7 393.2,613.0 M366.5,623.0 364.0,631.3 360.7,641.3 359.0,651.3 357.3,664.7 355.7,678.0 354.0,693.0 M399.0,638.0 394.0,646.3 391.5,653.0 391.5,659.7 M394.0,646.3 399.0,649.7 404.8,654.7 408.2,651.3 M359.0,547.2 360.7,554.7 359.0,561.3 M581.5,566.3 590.7,568.0 594.0,569.7 595.7,574.7 600.7,575.5 604.0,573.0 M579.8,605.5 590.7,606.3 604.0,607.2 M593.2,643.0 600.7,643.8 601.5,620.5 604.0,620.5 M585.7,547.2 586.5,554.7 582.3,559.7 581.5,564.7 M595.7,547.2 594.0,554.7 589.0,561.3 582.3,564.7 M573.2,548.8 579.0,551.3 582.3,558.0 M604.0,573.8 607.3,574.7 608.2,585.5 612.3,586.3 612.3,591.3 604.0,592.2 M612.3,586.3 617.3,588.0 624.0,587.2 627.3,591.3 626.5,578.0 630.7,574.7 M626.5,578.0 634.0,579.7 639.8,581.3 M640.7,553.0 654.0,564.7 M657.7,585.5 647.3,587.2 643.7,588.8 M620.7,606.3 625.7,603.0 632.3,598.0 637.3,596.3 M620.7,606.3 624.0,614.7 632.3,619.7 636.5,614.7 637.3,604.7 637.3,596.3 M604.0,605.5 614.0,605.5 620.7,606.3 M624.0,614.7 619.0,621.3 614.0,626.3 609.0,633.0 604.0,634.7 M632.3,619.7 634.0,626.3 634.8,633.0 M640.7,547.2 640.7,553.0 M627.3,547.2 629.0,553.0 627.3,559.7 M629.0,553.0 634.0,554.7 M928.2,557.2 928.2,578.0 M214.0,391.2 293.2,391.2 M214.0,402.1 222.3,400.7 232.8,401.4 M232.8,391.2 232.8,401.4 M235.5,391.2 236.2,396.5 240.4,400.7 241.8,404.8 249.4,404.8 249.4,413.9 M232.8,401.4 232.1,413.9 M214.0,414.3 249.4,414.3 M249.4,404.8 268.2,404.8 M268.2,391.2 268.4,417.3 M249.4,413.9 249.4,417.3 268.4,417.3 M268.4,401.4 287.6,401.4 M268.4,411.1 286.2,411.1 289.7,413.2 M286.9,391.2 288.3,401.4 289.0,409.0 289.7,413.2 292.5,421.5 M273.7,421.5 292.5,421.5 M268.4,417.3 273.7,417.3 273.7,421.5 M255.0,417.3 255.0,430.5 273.7,430.5 273.7,421.5 M241.8,414.3 241.8,430.5 255.0,430.5 M225.1,414.3 225.1,423.6 239.7,434.0 M239.7,430.5 241.8,430.5 M239.7,434.0 239.7,444.4 234.8,445.1 M255.0,430.5 255.0,448.6 M270.9,430.5 270.9,445.8 261.9,446.5 M270.9,431.9 279.3,431.9 279.3,438.2 286.2,440.2 294.6,439.6 M273.7,430.5 294.6,430.5 M292.5,421.5 294.6,425.7 294.6,439.6 M289.0,409.0 302.9,409.0 M290.4,419.4 304.3,419.4 305.7,421.5 M298.0,399.3 298.7,404.8 302.9,409.0 M302.9,415.2 311.9,415.2 M311.9,415.2 311.9,425.7 309.8,429.8 M320.2,415.2 320.2,424.3 M331.4,415.2 332.1,421.5 329.3,424.3 M302.9,409.0 305.0,415.2 302.2,419.4 305.7,424.3 308.4,429.8 306.4,432.6 304.3,436.8 303.6,443.0 M308.4,429.8 314.0,428.4 320.2,424.3 325.1,425.7 329.3,424.3 333.4,420.8 336.2,421.5 M306.4,432.6 327.9,431.9 341.8,431.9 M304.3,437.5 325.1,436.8 329.3,436.1 M295.2,443.0 303.6,443.0 M294.6,439.6 305.0,437.5 M309.8,437.5 310.5,450.7 M318.2,437.5 320.2,447.2 320.2,450.7 M325.1,436.8 332.1,445.1 M325.1,436.8 332.1,436.1 336.2,438.9 M303.6,443.0 302.2,449.3 306.4,450.0 M311.2,450.7 320.2,450.7 329.3,451.4 M295.2,439.6 295.2,443.0 295.9,450.7 295.2,453.4 M332.1,415.2 347.3,414.6 M332.1,421.5 345.9,420.8 M347.3,410.4 347.3,415.2 349.4,418.0 M350.8,404.8 351.5,413.2 M352.9,403.4 357.1,404.8 356.4,410.4 M350.8,413.2 358.4,411.8 M329.3,424.3 334.8,425.7 339.0,421.5 336.2,421.5 M327.9,431.9 334.8,425.7 M252.2,384.0 252.9,391.2 M274.4,384.0 275.1,391.2 M292.5,384.0 293.2,391.2 M334.1,384.0 334.8,396.5 339.0,400.7 347.3,403.4 M349.4,405.5 352.9,403.4 357.1,397.9 359.8,395.1 364.0,390.9 M234.8,445.1 239.7,444.4 254.3,448.6 261.9,447.9 265.4,452.1 269.6,453.4 272.3,456.2 276.5,454.8 280.7,461.8 283.4,465.9 285.5,465.2" fill="none" stroke="#000" stroke-width="0.8" stroke-opacity="0.85" stroke-linejoin="round"/>
<path d="M244.0,325.8 242.4,325.2 240.7,324.8 238.9,324.9 237.3,324.2 235.9,325.2 234.2,326.0 232.5,325.7 230.7,325.8 229.2,324.8 227.5,324.5 225.8,324.0 224.0,324.2 222.3,323.8 220.7,323.2 219.0,323.7 217.3,323.0 215.5,323.3 214.1,324.4 212.5,323.5 210.7,324.2 209.4,323.9 208.2,323.5 207.0,322.8 205.7,323.0 204.4,323.0 203.1,323.3 201.9,323.7 200.7,324.2 199.4,324.2 198.2,324.6 196.9,324.7 195.7,325.0 194.5,325.4 193.2,325.6 191.9,325.6 190.7,325.8 189.4,326.1 188.2,326.7 187.0,326.6 185.7,326.7 184.4,326.8 183.2,327.4 181.9,327.5 180.7,327.5 178.9,327.5 177.3,326.6 175.7,325.9 174.0,325.8 172.4,325.1 170.6,325.2 169.1,324.3 167.3,324.2 164.8,324.5 162.3,324.2 159.9,323.3 157.3,323.0 154.8,322.5 152.3,323.0 149.8,322.8 147.3,322.5 145.2,322.6 143.2,322.2 141.1,322.5 139.0,322.0 136.9,321.5 135.0,320.2 132.8,320.3 130.7,320.3 129.4,320.2 128.2,320.0 126.3,320.7 124.6,321.8 122.7,321.5 120.7,321.3 119.1,322.1 117.3,322.1 115.8,323.1 114.0,323.3 112.8,324.2 111.9,325.2 110.4,325.2 109.0,325.3 107.5,325.9 105.9,325.4 104.7,326.4 103.2,326.7 101.2,326.9 99.8,328.3 100.6,329.6 101.5,330.8 103.1,331.0 104.7,330.6 105.6,332.1 107.3,332.5 109.0,332.8 110.6,333.2 112.3,334.2 114.0,333.3 114.7,334.4 115.6,335.3 116.9,335.5 118.2,335.0 117.2,335.4 116.2,335.8 115.1,335.6 114.0,335.8 112.3,335.8 110.7,335.1 109.0,334.8 107.3,335.3 106.0,335.1 104.6,335.3 103.3,335.6 102.3,336.7 100.9,336.7 99.4,336.8 97.9,337.1 96.5,337.5 97.1,338.3 98.1,338.9 98.8,339.6 99.8,340.0 101.8,340.0 103.5,341.0 105.4,341.1 107.3,340.8 108.9,341.7 110.6,341.4 112.3,341.3 114.0,341.3 114.4,342.7 115.7,343.3 114.4,343.7 113.1,344.1 111.8,344.2 110.7,345.0 109.5,346.4 108.2,347.5 107.0,347.7 105.8,347.6 104.9,348.4 104.0,349.2 102.9,350.2 101.5,350.8 102.4,352.5 103.2,354.2 104.3,354.6 105.3,355.3 106.6,355.6 107.3,356.7 108.7,356.0 109.8,355.0 111.2,356.2 112.3,357.5 113.3,358.6 114.0,360.0 115.2,359.5 116.5,359.2 117.6,360.0 119.0,360.0 120.5,359.7 121.3,358.4 122.6,358.1 124.0,358.3 124.7,359.7 125.7,360.8 124.7,362.1 123.4,362.8 122.1,363.7 120.7,364.2 119.7,366.0 117.8,367.0 115.8,367.5 114.0,368.3 112.1,368.6 110.6,369.8 108.9,370.7 107.3,371.7 105.6,372.4 104.1,373.4 102.5,374.5 100.7,375.0 98.6,374.8 97.0,376.1 95.3,376.9 94.0,378.3 93.1,379.0 92.3,379.7 93.5,379.0 94.8,378.6 96.0,377.9 97.3,377.5 99.5,376.6 101.9,376.2 103.7,374.6 105.7,373.3 108.0,373.6 110.2,372.6 112.0,371.2 114.0,370.0 116.4,370.2 118.4,369.0 120.5,368.0 122.3,366.7 123.9,365.6 125.8,365.3 127.3,364.1 129.0,363.3 129.7,364.3 130.5,365.2 131.4,366.0 132.3,366.7 133.7,365.2 133.8,363.1 135.5,362.4 137.3,361.7 136.3,360.1 135.7,358.3 137.1,357.5 138.4,356.5 139.5,355.3 140.7,354.2 141.2,353.0 142.3,352.3 143.0,351.3 143.2,350.0 144.2,350.7 144.8,351.8 145.1,353.1 145.7,354.2 147.0,354.0 148.1,353.3 149.4,353.0 150.7,353.3 152.3,353.9 154.0,354.2 155.7,354.4 157.3,355.0 159.0,354.6 160.7,355.1 162.4,355.2 164.0,355.8 165.8,355.5 167.3,356.7 169.0,356.9 170.7,356.7 172.5,356.6 174.0,357.6 175.8,357.4 177.3,358.3 179.1,359.1 181.0,359.2 182.2,360.9 184.0,361.7 185.2,363.0 186.2,364.5 187.3,365.9 189.0,366.7 189.1,368.8 189.8,370.8 191.7,371.8 193.2,373.3 194.2,374.2 195.2,375.0 196.5,375.6 197.3,376.7 199.0,378.3 201.2,379.0 202.0,381.1 202.3,383.3 203.7,384.6 204.5,386.2 206.0,387.1 207.3,388.3 209.3,388.5 210.8,389.8 212.8,390.1 214.0,391.7 214.5,392.8 215.2,393.8 216.4,394.3 217.3,395.0 218.5,396.5 219.0,398.3 219.6,400.0 220.3,401.5 220.1,403.3 220.7,405.0 M172.3,355.8 174.6,355.4 176.2,357.1 177.6,358.5 179.0,360.0 179.7,358.7 180.7,357.5 182.6,358.3 184.2,359.5 184.0,361.8 185.7,363.3 186.3,362.5 187.0,361.7 187.6,360.9 188.2,360.0 189.8,361.8 190.5,364.0 191.4,366.2 192.3,368.3 191.6,370.0 190.7,371.7 192.1,371.6 193.4,371.7 194.6,370.9 195.7,370.0 195.5,371.4 195.7,372.8 196.6,373.8 197.3,375.0 195.6,375.7 194.0,376.7 195.4,377.3 196.4,378.5 197.6,379.4 199.0,380.0 198.0,380.4 197.3,381.2 197.2,382.3 197.3,383.3 M190.7,375.0 191.5,376.2 191.8,377.5 192.6,378.7 193.2,380.0 194.6,379.0 195.7,377.5 M204.0,384.2 206.7,384.7 208.8,386.4 208.5,389.0 209.0,391.7 210.2,390.4 211.5,389.2 213.4,390.5 215.7,391.3 216.5,393.5 216.5,395.8 215.6,397.1 214.8,398.3 216.6,398.2 218.2,397.5 M67.3,383.0 68.6,382.8 69.8,382.1 71.0,382.5 72.3,382.5 M78.2,381.7 79.4,381.5 80.7,381.3 81.9,380.7 83.2,381.2 M85.7,380.3 87.3,380.1 89.0,379.7 M88.7,365.2 89.7,365.7 M90.7,366.8 91.5,367.3 M97.3,355.8 98.4,356.1 99.4,356.3 100.4,356.6 101.5,356.3 99.8,357.2 98.7,356.3 97.3,355.8 M85.7,345.0 87.5,345.7 89.5,345.4 91.4,345.3 93.2,346.3 92.3,347.1 91.1,347.1 90.1,346.9 89.0,346.7 87.5,345.5 85.7,345.0 M82.7,354.7 83.7,355.3 M64.0,328.0 65.8,327.6 67.0,329.0 68.5,329.4 69.8,330.3 71.6,331.4 73.7,331.4 75.4,332.5 77.3,333.0 79.5,332.9 81.7,333.3 83.5,334.6 85.7,335.0 86.9,335.7 87.9,336.7 89.3,336.6 90.7,336.7 89.1,337.1 87.6,337.9 86.1,338.5 84.8,339.7 84.1,340.4 83.4,341.2 82.5,341.8 81.5,342.0 80.3,341.5 79.0,341.5 77.6,341.4 76.5,340.7 74.9,340.6 73.3,340.1 71.8,339.5 70.7,338.3 69.3,338.4 68.1,337.9 67.0,337.2 65.7,337.0 64.8,337.6 64.0,338.3 M64.0,319.2 65.0,319.3 66.1,319.3 67.1,319.5 68.2,319.5 69.8,320.5 68.8,320.2 67.7,320.6 66.7,321.0 65.7,321.2 64.0,320.8 M211.5,317.5 213.7,316.5 215.1,314.5 213.5,312.6 214.0,310.0 216.5,308.7 219.0,309.8 221.5,309.2 224.0,309.2 226.1,308.0 228.5,308.5 230.3,309.7 232.3,310.8 233.8,310.9 235.1,311.5 236.2,312.4 237.3,313.3 235.8,314.7 233.8,315.1 232.4,316.5 230.7,317.5 228.9,317.9 227.5,318.9 225.8,318.1 224.0,318.3 222.5,319.3 220.9,320.0 219.1,320.7 217.3,320.0 215.8,319.5 214.4,318.8 212.9,318.2 211.5,317.5 M229.0,318.3 230.7,317.9 232.4,318.3 234.1,318.1 235.7,317.5 237.9,317.6 240.0,318.3 242.1,317.6 244.0,316.3 M217.3,304.2 218.8,303.1 220.4,302.2 222.2,301.8 224.0,301.7 225.7,302.4 227.5,302.7 229.0,301.6 230.7,300.8 232.8,300.6 234.8,299.9 236.8,299.0 239.0,299.2 240.3,299.1 241.5,299.0 242.7,298.7 244.0,298.7 M219.0,305.3 221.0,304.8 223.1,304.7 225.2,304.7 227.3,304.7 229.2,305.8 231.3,306.5 233.5,307.1 235.7,306.2 237.7,305.9 239.8,305.4 241.8,304.4 244.0,305.0 M211.5,335.8 213.4,335.5 215.3,335.7 217.3,336.3 219.0,335.0 220.3,335.4 221.5,334.7 222.8,334.6 224.0,334.2 225.7,334.6 227.3,335.3 229.0,335.5 230.7,335.8 229.9,337.5 228.2,338.3 226.8,337.9 225.3,337.6 223.8,337.6 222.3,337.5 221.5,338.2 220.6,338.8 220.2,339.8 219.8,340.8 218.9,340.0 218.0,339.2 216.8,338.9 215.7,338.3 214.7,337.5 213.7,336.8 212.8,336.0 211.5,335.8 M229.0,351.3 230.8,350.9 232.1,349.7 233.9,350.0 235.7,349.7 237.1,349.7 238.6,349.5 239.8,348.7 240.7,347.5 242.4,347.7 244.0,348.3 M230.7,352.8 232.3,353.6 234.0,353.3 235.7,353.0 237.3,353.7 239.0,353.2 240.6,352.5 242.4,352.7 244.0,352.0 M244.0,325.8 245.5,326.9 247.3,327.2 249.0,327.8 250.7,328.3 251.9,329.0 253.2,329.4 254.4,330.2 255.7,330.8 257.0,330.1 257.8,328.8 258.9,327.8 259.8,326.7 261.1,326.8 262.4,327.1 263.4,328.0 264.0,329.2 265.4,329.0 266.8,329.2 267.6,328.0 269.0,327.5 270.1,328.5 271.2,329.3 272.6,329.7 274.0,330.0 275.2,331.1 276.9,331.0 278.4,331.2 279.8,331.7 281.3,331.2 282.6,330.3 284.1,329.7 285.7,330.0 287.0,330.4 288.4,330.7 289.6,331.5 290.7,332.5 291.4,331.5 292.7,331.2 293.4,330.2 294.0,329.2 295.1,328.2 296.2,327.4 297.7,327.2 299.0,326.7 299.4,327.8 300.4,328.6 301.4,329.3 302.3,330.0 303.5,329.3 304.8,329.0 306.2,329.1 307.3,328.3 308.4,328.9 309.1,329.9 309.8,330.9 310.7,331.7 311.5,332.7 312.4,333.7 312.8,335.0 314.0,335.8 313.4,334.3 312.3,333.2 312.5,331.6 312.3,330.0 313.2,329.0 314.2,328.3 314.6,327.1 314.8,325.8 315.9,324.4 317.3,323.3 318.2,324.0 318.9,324.8 319.6,325.6 319.8,326.7 320.0,328.4 320.3,330.1 319.8,331.8 319.0,333.3 319.8,334.2 320.5,335.2 321.1,336.3 322.3,336.7 320.6,336.4 318.8,336.8 317.2,337.5 315.7,338.3 316.0,339.7 315.6,341.1 316.7,342.1 317.3,343.3 315.6,343.9 313.8,343.4 312.3,342.3 310.7,341.7 309.7,341.7 308.7,341.8 308.0,342.6 307.3,343.3 306.0,344.1 304.4,344.0 303.0,344.7 301.5,345.0 300.5,345.7 299.6,346.5 298.4,346.8 297.3,347.5 296.6,348.4 295.9,349.4 295.1,350.3 294.0,350.8 293.4,352.7 292.3,354.4 293.1,356.3 292.7,358.3 293.5,359.4 293.6,360.9 294.7,361.5 295.7,362.5 296.5,363.5 297.3,364.6 297.8,366.0 299.0,366.7 300.8,367.0 302.1,368.4 303.9,367.6 305.7,368.3 306.8,369.1 308.0,369.7 309.3,369.7 310.7,370.0 312.3,370.7 313.9,371.2 315.7,370.7 317.3,371.7 319.1,372.3 320.7,373.3 321.9,374.4 322.9,375.7 324.4,376.5 325.7,377.5 326.9,378.8 328.2,380.0 328.9,381.0 329.3,382.1 329.6,383.4 330.7,384.2 331.9,384.7 333.2,384.7 334.0,383.4 335.3,382.5 336.6,381.4 337.1,379.8 337.0,378.2 337.3,376.7 336.4,375.3 336.1,373.7 335.4,372.3 334.8,370.8 335.8,369.7 337.4,369.6 338.6,369.0 339.8,368.3 340.0,366.9 340.8,365.7 341.6,364.5 342.3,363.3 341.9,362.2 341.2,361.1 340.0,360.7 339.0,360.0 337.9,358.5 337.3,356.7 336.7,354.8 336.2,352.9 337.8,351.6 339.0,350.0 340.0,348.9 341.3,348.0 342.6,347.3 344.0,346.7 345.7,347.1 347.3,347.5 348.9,348.4 350.7,348.3 351.4,349.7 352.6,350.5 353.9,351.3 354.8,352.5 355.6,353.2 356.2,354.1 356.9,354.9 357.3,355.8 358.2,356.9 358.8,358.1 360.1,358.7 360.7,360.0 361.2,358.9 362.1,358.0 362.3,356.8 363.2,355.8 364.0,355.2 364.8,354.5 365.5,353.8 366.5,353.3 367.6,353.2 368.6,352.8 369.7,353.0 370.7,353.3 371.3,354.4 371.8,355.5 373.1,355.6 374.0,356.7 374.8,357.5 375.5,358.5 376.4,359.2 377.3,360.0 378.3,360.7 379.0,361.7 379.8,362.6 380.7,363.3 381.6,364.1 382.6,364.7 383.4,365.6 384.0,366.7 384.8,367.5 385.7,368.3 386.6,369.1 387.3,370.0 388.0,371.4 388.8,372.7 390.2,373.4 391.5,374.2 392.4,375.0 393.1,375.9 394.1,376.6 394.8,377.5 395.9,378.9 396.4,380.5 397.5,381.7 398.2,383.3 398.6,385.0 397.5,386.3 397.1,387.8 396.5,389.2 397.3,390.1 398.0,391.0 399.3,391.4 399.8,392.5 400.7,393.3 401.8,393.9 403.1,394.2 404.0,395.0 405.3,396.4 405.7,398.3 404.4,398.4 403.1,398.6 401.9,398.8 400.7,399.2 399.0,399.0 397.3,398.9 395.7,398.1 394.0,398.3 392.9,398.5 391.9,399.0 391.5,400.0 390.7,400.8 389.3,402.1 389.0,404.0 M265.7,315.0 267.9,314.8 269.9,313.7 270.8,311.6 272.3,310.0 274.8,309.2 277.3,309.3 279.8,309.2 282.3,309.2 284.5,309.3 286.6,310.2 288.7,310.8 290.7,311.7 292.4,311.7 294.2,311.7 295.9,311.1 297.3,310.0 297.7,311.4 298.6,312.5 299.2,313.8 299.8,315.0 298.6,316.1 297.5,317.3 296.7,318.7 295.7,320.0 296.1,321.3 297.3,322.1 298.2,323.1 299.0,324.2 297.2,324.5 295.4,324.8 294.0,326.0 292.3,326.7 290.4,326.6 288.5,326.7 286.8,325.8 285.7,324.2 284.0,324.9 282.3,325.4 280.7,326.1 279.0,326.7 277.4,325.8 275.5,325.8 274.0,324.8 272.3,324.2 271.2,323.0 269.6,322.8 268.7,321.6 267.3,320.8 267.8,319.3 267.2,317.7 266.7,316.2 265.7,315.0 M244.0,317.5 245.0,316.4 246.2,315.6 247.6,315.2 249.0,315.0 250.3,315.6 251.7,315.9 253.0,316.5 254.0,317.5 253.0,318.2 252.4,319.2 251.5,320.0 250.7,320.8 249.0,321.0 247.3,320.5 245.6,320.7 244.0,320.0 M304.0,313.3 305.9,313.1 307.8,313.4 309.2,312.1 310.7,310.8 311.9,311.6 313.4,311.7 314.3,312.8 315.7,313.3 316.5,314.4 316.7,315.8 317.1,317.0 317.3,318.3 316.1,319.2 314.8,319.9 313.7,321.0 312.3,321.7 311.0,321.4 309.8,321.0 308.7,320.0 307.3,320.0 306.9,318.1 306.7,316.2 305.2,314.9 304.0,313.3 M317.3,315.0 319.0,314.6 320.6,314.5 321.5,313.1 322.3,311.7 323.7,311.6 324.9,312.3 326.1,312.7 327.3,313.3 327.5,314.7 326.7,315.9 325.6,316.8 325.7,318.3 324.5,319.0 323.2,319.2 321.9,319.7 320.7,320.0 319.4,319.0 318.9,317.5 318.0,316.4 317.3,315.0 M294.0,315.0 294.9,313.7 296.1,312.7 297.6,312.3 299.0,311.7 300.0,312.8 300.9,314.0 302.1,315.1 302.3,316.7 301.7,317.7 301.0,318.6 300.0,319.3 299.0,320.0 M327.3,315.0 328.9,314.3 330.5,313.6 332.3,313.5 334.0,313.3 335.7,313.5 337.4,313.8 338.9,314.8 340.7,315.0 340.4,316.4 339.3,317.3 339.4,318.7 339.0,320.0 337.3,320.4 335.7,320.9 334.0,321.3 332.3,321.7 330.9,320.1 329.4,318.7 328.3,316.8 327.3,315.0 M264.0,295.8 265.7,294.3 268.0,294.0 270.1,293.3 272.3,293.3 274.4,293.7 276.5,294.0 278.4,295.3 280.7,295.0 282.1,295.5 283.4,296.3 284.7,297.2 285.7,298.3 283.8,298.9 282.4,300.1 280.6,300.7 279.0,301.7 277.0,301.0 274.9,300.4 272.8,300.4 270.7,300.8 268.7,300.0 266.8,299.0 265.4,297.5 264.0,295.8 M289.0,290.8 291.3,290.8 293.4,289.6 295.4,288.6 297.3,287.5 299.8,288.2 302.4,288.4 304.9,287.6 307.3,286.7 309.1,287.1 310.6,288.1 312.5,287.9 314.0,289.2 312.8,289.9 311.9,290.9 311.1,292.0 310.7,293.3 309.0,295.1 306.7,295.9 304.6,294.9 302.3,294.2 300.2,294.4 298.1,294.0 296.1,294.6 294.0,295.0 292.8,293.8 291.7,292.7 290.8,291.2 289.0,290.8 M299.0,298.3 301.2,298.2 303.1,297.2 305.3,297.3 307.3,296.7 309.6,296.6 311.5,297.7 313.6,297.8 315.7,298.3 317.1,299.6 318.8,300.3 320.8,300.4 322.3,301.7 320.7,302.8 318.8,302.9 317.3,304.1 315.7,305.0 313.5,305.0 311.5,304.5 309.3,304.7 307.3,303.7 305.3,302.1 302.8,301.5 301.0,299.9 299.0,298.3 M317.3,291.7 319.3,289.6 321.9,288.5 324.6,288.8 327.3,289.2 329.9,289.2 332.4,289.8 334.9,290.3 337.3,290.8 338.9,291.7 340.5,292.4 342.3,292.6 344.0,293.3 342.4,294.5 340.6,295.4 339.0,296.4 337.3,297.5 334.7,297.5 332.2,298.5 329.6,298.1 327.3,296.7 324.8,295.5 322.5,293.9 319.6,293.6 317.3,291.7 M244.0,299.2 245.2,297.6 246.9,296.6 248.9,296.7 250.7,297.5 252.8,298.0 255.0,298.1 257.0,299.2 259.0,300.0 260.3,300.9 261.8,301.4 263.2,302.3 264.0,303.7 262.3,304.1 260.6,304.7 258.9,305.0 257.3,305.8 255.1,305.8 253.3,304.5 251.1,304.4 249.0,304.7 247.7,304.8 246.5,305.4 245.2,305.6 244.0,305.0 M247.3,310.0 249.5,309.8 251.5,309.1 253.5,308.2 255.7,308.3 257.3,308.8 259.0,309.0 260.6,309.6 262.3,310.0 261.3,310.6 260.3,311.3 259.7,312.4 259.0,313.3 256.9,312.7 254.9,311.7 253.0,313.0 250.7,313.0 249.5,312.7 248.6,311.9 248.0,311.0 247.3,310.0 M274.0,304.2 276.3,304.1 278.0,302.6 280.1,303.4 282.3,303.3 284.2,303.5 285.9,303.9 287.8,304.3 289.0,305.8 287.5,305.8 286.1,306.3 284.8,307.0 284.0,308.3 281.7,308.3 279.9,306.9 277.7,306.7 275.7,307.5 275.3,305.6 274.0,304.2 M330.7,285.0 333.2,284.7 335.7,284.5 338.1,283.4 340.7,283.3 343.7,283.2 346.4,282.0 349.4,281.7 352.3,282.5 355.3,283.0 358.2,282.1 360.8,284.0 364.0,283.3 367.0,282.6 369.8,283.7 372.7,284.4 375.7,284.2 377.6,284.0 379.5,284.7 381.3,285.2 383.2,285.8 382.5,287.0 381.4,287.6 381.2,288.9 380.7,290.0 378.4,289.9 376.3,290.7 374.5,292.1 372.3,292.5 369.9,292.3 368.1,293.9 365.9,294.7 364.0,295.8 362.8,296.6 361.6,297.3 360.2,297.5 359.0,298.3 357.5,297.5 355.8,297.2 354.1,297.8 352.3,297.5 353.5,296.4 354.8,295.4 356.4,294.8 357.3,293.3 355.7,292.7 354.1,292.2 352.3,292.5 350.7,291.7 349.0,290.7 347.6,289.4 345.7,289.1 344.0,288.3 342.3,288.3 340.7,288.0 338.9,288.1 337.3,287.5 335.4,287.0 333.5,287.5 332.7,285.6 330.7,285.0 M337.3,302.5 339.7,301.3 342.3,301.5 344.9,301.6 347.3,300.8 349.8,301.4 352.3,302.0 354.9,301.5 357.3,302.5 359.4,303.2 361.4,304.0 363.5,303.8 365.7,304.2 364.2,304.6 363.1,305.7 361.6,306.3 360.7,307.5 358.0,306.7 355.8,304.9 352.9,304.6 350.7,306.7 348.6,306.2 346.6,305.6 344.4,304.9 342.3,305.8 341.0,304.8 339.3,305.0 338.2,303.8 337.3,302.5 M337.3,321.7 338.8,320.5 340.5,319.7 342.2,319.0 344.0,318.3 346.0,317.6 348.1,317.2 350.2,317.0 352.3,317.5 354.4,318.2 356.5,318.9 358.5,319.8 360.7,320.0 362.8,320.4 364.9,320.7 365.5,322.9 367.3,324.2 368.7,324.9 369.9,325.8 370.8,327.1 372.3,327.5 372.9,329.2 374.4,330.1 375.8,331.0 377.3,331.7 378.7,332.6 380.4,333.1 380.5,335.0 382.3,335.8 381.4,336.3 380.7,337.1 379.7,337.6 379.0,338.3 377.7,336.9 375.8,337.0 374.0,337.1 372.3,336.7 371.1,336.5 369.8,336.3 368.7,335.6 367.3,335.8 368.3,336.8 369.3,337.7 370.2,338.7 370.7,340.0 371.9,340.9 373.2,341.5 374.5,342.4 375.7,343.3 375.2,344.6 374.5,345.7 374.1,347.0 374.0,348.3 372.7,348.2 371.5,347.5 370.3,346.9 369.0,346.7 367.5,346.1 366.5,345.0 365.5,343.7 364.0,343.3 362.7,343.7 361.4,343.9 360.3,344.7 359.0,345.0 357.8,344.2 356.6,343.5 355.2,343.4 354.0,342.5 353.2,341.3 351.9,340.8 351.3,339.5 350.7,338.3 349.0,338.8 347.5,339.9 345.8,340.4 344.0,340.0 342.7,339.6 341.6,339.0 340.2,338.8 339.0,338.3 340.6,337.8 341.3,336.3 341.3,334.6 342.3,333.3 343.6,333.1 344.9,332.8 346.2,332.4 347.3,331.7 346.4,331.0 345.5,330.2 344.3,329.6 344.0,328.3 342.8,327.5 341.8,326.6 340.3,326.6 339.0,325.8 338.6,324.8 338.2,323.7 337.7,322.7 337.3,321.7 M324.0,330.8 325.7,331.3 327.3,330.4 329.0,330.6 330.7,330.0 331.4,331.0 332.1,331.9 333.2,332.5 334.0,333.3 333.0,334.1 331.9,334.6 331.5,335.8 330.7,336.7 329.6,335.8 328.3,335.6 327.0,335.7 325.7,335.8 324.8,334.8 324.2,333.5 324.3,332.2 324.0,330.8 M339.0,341.7 340.7,341.7 342.4,341.4 344.1,341.7 345.7,340.8 347.0,342.2 347.3,344.2 346.3,345.0 345.0,345.6 343.7,345.5 342.3,345.8 341.6,344.7 340.9,343.6 340.0,342.5 339.0,341.7 M322.3,347.5 323.7,347.5 324.9,347.0 326.2,346.6 327.3,345.8 328.2,346.5 328.7,347.5 329.6,348.0 330.7,348.3 329.5,348.4 328.5,349.0 327.5,349.4 326.5,350.0 325.5,349.2 324.2,349.1 323.3,348.2 322.3,347.5 M331.5,349.2 333.1,348.7 334.8,348.3 335.4,349.8 335.3,351.3 333.8,351.3 332.3,351.7 331.8,350.4 331.5,349.2 M332.8,367.5 334.0,366.9 335.3,367.0 335.8,368.0 336.0,369.2 334.8,369.5 333.7,370.0 333.3,368.7 332.8,367.5 M367.3,304.2 369.4,303.5 371.5,303.3 373.6,302.7 375.7,303.7 378.3,303.1 380.7,302.3 383.1,303.6 385.7,304.2 387.8,304.4 389.8,305.0 391.4,306.4 392.3,308.3 394.1,309.9 395.6,311.7 396.7,314.0 399.0,315.0 399.9,315.8 401.0,316.3 401.7,317.3 402.3,318.3 401.2,319.3 401.2,320.7 400.6,322.0 400.7,323.3 402.4,322.2 404.2,321.3 406.2,320.6 408.2,320.0 410.0,320.2 410.8,321.9 411.1,323.5 411.5,325.0 410.2,325.6 409.3,326.6 407.9,326.8 406.5,326.7 405.9,327.9 405.3,329.2 404.9,330.6 404.0,331.7 404.5,333.4 404.8,335.2 405.5,336.8 406.5,338.3 407.4,339.7 408.3,341.1 410.1,341.6 410.7,343.3 412.0,345.0 413.2,346.6 414.4,348.3 415.7,350.0 416.6,351.3 417.7,352.4 418.9,353.7 420.7,353.3 422.3,352.9 424.0,353.0 M278.2,377.5 279.0,378.3 279.3,379.4 280.0,380.5 279.8,381.7 280.6,383.3 282.1,384.2 282.4,385.9 283.2,387.5 284.2,386.4 284.8,385.0 284.6,383.2 284.3,381.4 283.4,379.7 281.5,379.2 279.6,378.8 278.2,377.5 M283.2,374.7 284.3,375.4 284.9,376.6 285.4,377.9 285.7,379.2 286.2,380.8 287.5,381.9 288.2,383.4 288.7,385.0 288.9,383.7 289.3,382.5 288.4,380.9 287.6,379.1 286.7,377.4 285.7,375.8 284.4,375.3 283.2,374.7 M249.0,359.2 250.2,358.9 251.5,358.4 252.7,358.3 254.0,358.0 255.7,357.8 257.4,357.9 259.0,358.3 260.7,358.7 259.4,359.2 258.3,360.0 257.0,360.3 255.7,360.0 254.0,360.2 252.3,359.9 250.6,359.8 249.0,359.2 M272.0,363.3 273.0,364.1 274.0,365.0 273.8,366.7 273.2,368.3 272.3,367.1 271.5,365.8 271.9,364.6 272.0,363.3 M244.0,346.7 245.3,346.7 246.5,347.0 247.6,347.8 249.0,347.5 250.2,346.9 251.5,347.1 252.8,347.0 254.0,346.7 253.0,347.3 252.1,348.1 251.1,348.9 250.7,350.0 249.3,351.2 247.4,351.0 245.7,351.4 244.0,350.8 M390.7,393.3 392.0,392.9 393.3,392.4 394.8,392.0 395.7,390.8 396.2,392.1 397.4,392.7 398.7,392.9 399.8,393.3 400.9,393.9 401.9,394.3 402.9,394.9 404.0,395.3 404.5,396.4 405.0,397.4 405.6,398.4 406.5,399.2 405.4,399.1 404.4,399.2 403.4,399.4 402.3,399.7 401.3,398.7 399.9,398.6 398.6,398.6 397.3,398.3 396.0,399.8 394.0,400.0 393.4,399.0 392.5,398.2 391.5,397.5 390.7,396.7 391.2,395.0 390.7,393.3 M357.3,393.3 358.9,392.2 360.8,392.5 362.5,391.9 364.0,390.8 366.0,389.9 368.1,389.5 370.5,390.0 372.3,388.3 374.9,388.6 377.5,388.6 379.8,387.3 382.3,386.7 383.9,385.6 385.5,384.7 386.9,383.1 389.0,383.3 M359.0,398.3 361.3,398.1 363.6,398.4 365.3,396.9 367.3,395.8 369.9,395.3 372.5,395.2 374.8,393.9 377.3,393.3 379.6,393.4 381.4,392.2 383.5,391.7 385.7,391.7 M424.0,285.0 426.7,284.6 428.7,282.7 431.4,283.1 434.0,282.5 436.3,281.2 439.0,281.5 441.5,280.9 444.0,280.8 447.3,281.1 450.7,281.0 454.0,280.8 457.3,280.8 460.8,280.7 464.0,281.9 467.3,282.1 470.7,281.7 473.2,280.4 475.9,281.1 478.3,282.3 480.7,283.3 482.3,284.0 484.0,284.3 485.6,284.7 487.3,285.0 489.1,285.0 490.9,285.1 492.7,285.3 494.0,286.7 496.5,286.1 498.9,285.2 501.5,285.4 504.0,285.8 506.7,285.8 509.4,285.8 512.1,286.0 514.8,286.3 512.9,286.9 511.0,287.7 509.3,288.7 507.3,289.2 505.5,289.3 503.9,290.2 502.4,291.2 500.7,291.7 499.6,292.6 498.3,293.2 497.8,294.5 497.3,295.8 498.1,296.9 499.1,297.6 499.6,298.8 499.8,300.0 498.6,301.1 497.4,302.2 496.6,303.6 495.7,305.0 496.5,306.1 497.3,307.3 497.7,308.7 498.2,310.0 497.1,310.9 495.9,311.6 494.5,310.9 493.2,311.7 492.5,312.4 491.7,313.2 491.1,314.1 490.7,315.0 488.5,314.6 486.7,313.4 484.5,312.9 482.3,313.3 481.2,314.2 480.1,314.8 478.7,315.4 477.3,315.0 478.8,315.4 480.3,315.3 481.1,316.6 482.3,317.5 483.8,317.3 485.3,317.7 486.7,318.1 488.2,318.3 487.6,319.3 486.9,320.2 487.2,321.4 487.3,322.5 485.6,322.0 483.9,322.4 482.4,323.3 480.7,323.3 478.6,324.0 476.5,324.2 474.4,323.9 472.3,323.3 474.3,323.8 476.2,323.2 477.5,324.6 479.0,325.8 477.4,326.2 476.8,327.6 475.4,328.2 474.0,328.3 471.8,328.3 469.9,329.4 467.7,330.2 465.7,329.2 464.4,329.4 463.1,329.4 462.0,329.9 460.7,330.0 459.8,330.8 459.0,331.6 458.4,332.7 457.3,333.3 455.9,334.4 454.1,334.9 452.5,335.9 450.7,335.8 449.3,336.0 448.2,336.8 447.1,337.6 445.7,337.5 444.9,338.9 443.5,339.5 442.0,339.4 440.7,340.0 439.8,341.0 439.6,342.3 438.4,342.6 437.3,343.3 436.4,344.9 436.5,346.7 436.0,347.6 435.4,348.4 434.8,349.3 434.0,350.0 433.9,351.3 433.4,352.6 432.9,353.8 432.3,355.0 431.4,356.4 429.8,356.7 428.6,355.6 427.2,354.7 425.5,354.9 424.0,354.2 M457.3,285.0 460.0,285.2 462.3,283.9 464.9,283.7 467.3,284.7 470.0,284.3 472.6,283.9 474.8,285.4 477.3,286.3 479.4,286.7 481.5,287.0 483.6,287.0 485.7,287.5 487.0,288.1 488.1,288.9 489.3,289.6 490.7,290.0 M490.7,290.0 491.5,290.9 492.1,291.9 493.2,292.5 494.0,293.3 493.2,294.4 492.6,295.6 492.1,297.0 492.3,298.3 491.2,299.3 491.0,300.8 490.1,301.9 489.8,303.3 490.5,304.5 491.2,305.7 490.8,307.1 491.5,308.3 M474.0,319.2 475.7,319.0 477.4,318.9 479.0,319.7 480.7,320.0 482.0,320.0 483.1,320.6 484.4,320.6 485.7,320.3 M483.2,337.5 484.3,337.3 485.5,337.3 486.5,336.6 487.3,335.8 488.6,336.1 489.8,336.7 491.1,337.1 492.3,337.5 493.6,337.2 494.8,336.8 496.1,336.7 497.3,336.7 499.1,336.8 500.8,337.2 502.5,336.8 504.0,335.8 505.2,336.3 506.5,336.5 507.7,336.8 509.0,336.7 510.0,337.2 511.0,337.8 511.2,338.9 511.5,340.0 510.5,340.9 509.7,342.0 508.4,342.5 507.3,343.3 505.7,343.8 504.0,344.1 502.3,344.5 500.7,345.0 499.0,344.7 497.3,344.4 495.6,344.6 494.0,345.0 492.9,344.2 491.7,343.7 490.3,343.7 489.0,343.3 488.3,342.2 488.2,340.8 487.2,339.6 485.8,338.9 484.3,338.6 483.2,337.5 M524.0,320.8 525.0,321.0 526.0,321.3 M529.0,349.7 530.0,351.0 528.7,350.8 529.0,349.7 M544.0,355.0 545.0,356.0 544.0,356.3 544.0,355.0 M576.5,294.2 578.1,294.1 579.7,294.2 580.9,293.2 582.3,292.5 584.3,291.4 586.4,290.9 588.5,291.1 590.7,291.7 592.8,291.8 594.8,291.2 597.0,292.1 599.0,290.8 600.3,291.1 601.4,291.6 602.7,291.4 604.0,291.7 M576.5,294.2 577.9,294.4 579.2,295.0 579.9,296.3 580.7,297.5 582.3,298.1 584.0,298.5 585.6,299.2 587.3,299.2 588.3,300.2 589.5,301.0 590.8,301.9 592.3,301.7 593.7,301.7 595.0,301.2 596.1,300.6 597.3,300.0 598.5,299.2 598.9,297.9 599.3,296.4 600.7,295.8 602.4,296.0 604.0,296.7 M584.0,293.3 585.2,294.0 586.6,294.4 588.1,294.6 589.0,295.8 590.3,295.5 591.6,295.4 592.8,294.7 594.0,294.2 594.6,295.3 595.0,296.5 596.2,297.0 597.3,297.5 M599.0,309.7 599.8,310.3 M533.2,360.0 534.6,360.5 536.1,360.8 537.5,360.4 539.0,360.0 539.7,361.4 540.7,362.5 539.7,363.3 539.0,364.3 538.9,365.6 538.2,366.7 539.3,366.9 540.2,367.6 541.4,367.7 542.3,368.3 543.2,370.1 542.6,372.0 543.7,373.5 544.8,375.0 546.1,375.6 546.7,376.9 548.1,377.3 549.0,378.3 550.0,379.0 550.7,380.0 551.4,380.9 552.3,381.7 551.7,383.4 550.7,385.0 549.1,385.9 547.3,386.2 545.7,387.0 544.0,387.5 542.3,387.8 540.7,387.9 539.0,388.4 537.3,388.3 536.3,388.4 535.2,388.0 534.2,387.8 533.2,387.5 534.8,387.0 536.1,385.9 537.4,384.8 539.0,384.2 538.1,383.3 537.1,382.7 535.8,382.5 534.8,381.7 536.3,380.9 536.4,379.3 536.8,378.0 537.3,376.7 535.9,375.4 534.0,375.0 534.3,373.7 534.4,372.3 535.1,371.2 535.7,370.0 534.8,369.2 533.8,368.7 532.6,368.7 531.5,368.3 531.3,367.1 531.7,366.0 532.4,365.0 533.2,364.2 532.1,363.1 530.7,362.5 532.1,361.5 533.2,360.0 M521.5,376.7 522.5,375.8 523.3,374.6 524.6,374.2 525.7,373.3 527.0,373.6 528.2,374.1 529.3,373.4 530.7,373.3 531.3,375.1 532.3,376.7 531.9,377.9 531.0,379.0 530.9,380.3 530.7,381.7 529.6,382.7 528.1,382.7 526.8,383.3 525.7,384.2 524.6,383.8 523.6,383.4 522.7,382.5 521.5,382.5 522.0,381.1 522.3,379.6 521.6,378.2 521.5,376.7 M604.0,324.2 602.2,324.5 600.8,325.6 599.1,325.7 597.3,325.8 595.7,326.5 594.1,326.9 592.4,327.2 590.7,327.5 589.6,328.2 588.4,328.5 587.5,329.3 586.5,330.0 587.6,331.1 589.0,331.7 587.8,332.5 586.5,333.3 585.2,334.2 584.0,335.0 583.2,336.3 582.4,337.5 581.6,338.8 580.7,340.0 578.7,340.8 577.1,342.2 575.8,343.8 574.0,345.0 572.3,346.1 570.3,346.0 569.2,347.6 567.3,348.3 566.4,349.6 565.0,350.2 563.9,351.4 562.3,351.7 562.4,353.4 561.5,355.0 561.5,356.7 562.0,358.3 562.9,359.0 563.5,359.9 564.2,360.8 564.8,361.7 566.0,360.6 567.6,360.3 569.1,359.9 570.7,360.0 572.2,358.8 574.0,358.3 574.7,357.5 575.4,356.8 576.6,356.7 577.3,355.8 577.7,357.0 578.0,358.3 579.0,359.0 579.8,360.0 580.7,361.5 581.3,363.2 581.3,365.0 580.7,366.7 580.8,368.0 581.5,369.2 582.7,369.7 584.0,370.0 585.1,369.5 586.3,369.6 587.2,369.0 588.2,368.3 588.8,367.1 589.5,365.9 590.1,364.6 590.7,363.3 591.1,362.0 591.8,360.8 592.5,359.6 593.2,358.3 593.2,357.0 593.2,355.7 592.6,354.5 592.0,353.3 592.3,351.9 593.4,350.8 594.4,349.7 594.8,348.3 595.7,347.2 597.1,346.7 597.4,345.4 598.2,344.2 599.8,343.3 601.5,342.5 602.9,342.4 604.0,341.7 M604.0,346.7 602.8,347.3 601.8,348.1 600.8,349.1 599.8,350.0 599.3,351.3 599.6,352.7 598.7,353.7 598.2,355.0 597.4,356.8 595.7,357.5 597.0,357.9 598.3,358.4 599.2,359.6 600.7,360.0 602.3,359.6 604.0,359.7 M574.8,364.2 576.7,364.6 578.2,363.3 578.9,364.4 579.5,365.7 579.7,367.0 579.8,368.3 579.4,369.5 578.4,370.2 577.4,370.9 576.5,371.7 575.7,371.0 574.9,370.3 574.4,369.3 574.0,368.3 574.2,367.3 574.4,366.2 574.8,365.2 574.8,364.2 M580.3,370.0 581.5,370.3 582.7,370.3 582.0,372.0 581.1,371.0 580.3,370.0 M604.0,373.3 602.4,374.1 600.8,374.8 599.1,375.1 597.3,375.0 595.6,375.2 593.9,375.5 592.3,374.8 590.7,374.2 589.0,374.2 587.3,374.7 585.7,374.6 584.0,375.0 582.7,374.4 581.8,373.3 580.4,373.6 579.0,373.3 577.8,372.6 576.5,372.0 575.3,373.6 574.0,375.0 572.1,375.5 570.7,376.7 569.9,377.4 568.9,377.8 568.3,378.6 567.3,379.2 566.3,380.2 565.0,381.1 563.6,381.7 562.3,382.5 561.0,383.0 559.6,383.2 558.4,384.0 557.3,385.0 556.7,385.8 555.9,386.6 554.9,387.0 554.0,387.5 552.7,388.0 551.5,388.7 550.2,389.2 549.0,390.0 547.3,389.8 545.7,389.2 545.2,390.7 544.0,391.7 542.8,391.9 541.5,392.2 540.3,392.6 539.0,392.5 537.3,392.6 535.7,393.3 536.5,394.0 537.5,394.3 538.2,395.1 539.0,395.8 540.4,396.1 541.6,396.8 542.9,397.4 544.0,398.3 544.2,400.1 544.0,401.9 545.0,403.3 545.7,405.0 M596.5,364.2 597.4,364.7 598.2,365.3 M581.7,405.8 581.8,404.7 581.2,403.8 581.5,402.7 581.7,401.7 582.7,401.5 583.7,401.1 584.8,401.5 585.8,400.8 587.0,402.1 588.3,403.3 588.7,404.8 589.8,405.8 M604.0,324.2 605.2,323.6 606.3,322.9 607.6,322.4 609.0,322.5 610.7,322.1 612.3,321.7 614.1,321.6 615.7,320.8 617.3,321.1 619.0,321.1 620.6,321.9 622.3,321.7 624.0,321.4 625.8,321.4 627.5,321.7 629.0,322.5 630.3,323.3 631.5,324.2 632.8,325.0 634.4,325.0 636.0,325.1 637.3,325.8 639.4,326.1 641.5,325.8 643.6,326.2 645.7,326.7 647.6,327.7 649.6,328.7 651.8,328.8 654.0,329.2 655.4,329.4 656.6,330.2 657.3,331.8 659.0,331.7 659.4,333.3 659.8,335.0 658.3,335.1 657.0,336.0 655.5,336.5 654.0,336.7 651.9,336.3 649.9,335.5 647.8,336.4 645.7,335.8 644.0,335.2 642.4,334.6 640.8,335.3 639.0,335.0 637.2,334.5 635.7,333.3 636.8,334.5 638.1,335.5 639.0,337.0 640.7,337.5 641.1,338.5 641.6,339.6 642.1,340.5 642.3,341.7 643.6,342.0 644.8,342.6 646.2,342.5 647.3,343.3 648.3,342.8 649.0,342.0 649.6,341.1 649.8,340.0 650.9,340.5 651.8,341.1 652.9,341.5 654.0,341.7 655.1,341.6 656.1,341.8 657.1,341.7 658.2,341.7 659.0,340.0 659.8,338.3 661.3,338.1 662.7,337.9 664.2,337.5 665.7,337.5 666.4,336.5 666.8,335.4 667.9,334.6 668.2,333.3 667.7,332.4 667.0,331.6 666.3,330.8 665.7,330.0 666.8,329.1 668.2,329.2 669.4,328.6 670.7,328.3 671.2,329.5 671.6,330.7 672.8,331.1 674.0,331.7 673.2,332.4 672.5,333.1 671.7,333.8 670.7,334.2 672.4,334.1 674.0,334.1 675.7,333.7 677.3,333.3 679.2,333.9 681.1,333.2 682.3,331.7 684.0,330.8 685.0,329.1 687.1,328.9 688.8,328.2 690.7,328.3 691.7,328.3 692.7,327.9 693.8,327.8 694.8,327.5 695.5,328.5 696.5,329.2 698.5,329.3 700.3,328.7 702.1,328.1 704.0,327.5 705.4,327.0 706.9,327.1 708.0,326.1 709.0,325.0 710.9,325.3 712.3,326.7 711.4,327.8 710.7,329.2 709.5,329.7 708.2,329.6 706.9,329.7 705.7,330.0 707.3,329.6 708.9,329.0 710.7,329.3 712.3,328.7 714.6,328.6 716.8,328.2 718.7,327.0 720.7,325.8 722.1,326.9 723.8,327.5 725.6,327.6 727.3,327.5 728.8,327.9 730.2,328.3 731.7,328.1 733.2,328.7 731.8,327.4 730.7,325.8 730.2,324.7 729.6,323.6 729.0,322.6 728.2,321.7 729.3,320.8 729.2,319.5 730.1,318.6 730.7,317.5 732.0,316.1 733.7,315.3 735.6,314.9 737.3,314.2 738.5,314.9 739.7,315.2 741.0,315.1 742.3,315.0 742.2,316.3 742.4,317.6 742.4,318.9 743.2,320.0 742.7,321.7 742.9,323.4 743.5,325.0 744.0,326.7 745.0,327.8 745.9,329.0 746.3,330.5 747.3,331.7 746.1,332.6 744.8,333.2 743.4,334.0 742.3,335.0 741.0,335.1 739.8,334.9 738.5,335.3 737.3,335.8 M745.7,318.3 746.7,320.4 747.8,322.3 747.4,324.8 749.0,326.7 749.6,328.4 750.7,330.0 752.5,329.5 754.0,328.3 755.4,329.0 756.6,329.8 757.7,330.9 759.0,331.7 757.9,330.7 756.5,330.0 755.7,328.7 754.8,327.5 754.0,326.3 752.9,325.3 751.9,324.2 750.7,323.3 750.4,321.8 749.4,320.5 749.2,319.0 749.0,317.5 750.2,318.1 751.4,318.4 752.7,318.2 754.0,318.3 755.9,318.6 757.3,317.2 759.0,316.9 760.7,316.7 762.0,315.9 763.5,315.4 764.4,314.2 765.7,313.3 767.6,313.7 769.0,315.0 769.7,316.0 770.6,316.7 771.5,317.5 772.3,318.3 772.0,319.6 771.4,320.8 770.5,321.9 770.7,323.3 771.8,322.6 773.2,322.5 773.2,321.1 774.1,320.1 774.1,318.8 774.0,317.5 774.1,315.1 775.4,313.0 777.4,311.8 779.0,310.0 780.3,309.9 781.6,309.4 782.8,309.0 784.0,308.3 M687.3,318.3 688.3,316.9 689.9,316.5 690.5,314.9 690.7,313.3 692.6,312.6 693.7,310.8 695.4,309.7 697.3,309.2 698.7,307.9 700.4,307.2 702.2,306.7 704.0,306.7 706.6,306.3 708.9,304.9 711.4,304.5 714.0,304.2 716.8,304.3 719.3,305.4 721.5,303.6 724.0,302.5 726.1,302.1 728.1,301.8 730.2,301.3 732.3,301.7 733.3,302.6 734.0,303.7 732.2,303.6 730.5,304.0 729.2,305.3 727.3,305.3 724.9,306.3 722.5,307.3 719.9,307.8 717.3,307.5 714.8,308.1 712.2,308.2 709.6,308.7 707.3,310.0 705.4,310.0 703.7,311.0 702.4,312.4 700.7,313.3 700.0,314.4 699.7,315.6 699.0,316.6 698.2,317.5 698.8,318.6 699.2,319.7 699.9,320.7 700.7,321.7 699.5,322.2 698.2,322.6 696.9,322.2 695.7,321.7 694.3,321.6 693.0,321.2 691.9,320.4 690.7,320.0 689.1,319.0 687.3,318.3 M678.7,326.7 679.8,326.0 680.7,325.0 681.5,326.0 682.7,326.7 681.8,327.8 680.7,328.7 679.4,328.0 678.7,326.7 M667.3,290.0 669.9,289.4 672.2,288.4 674.7,289.6 677.3,289.2 679.8,289.6 682.3,289.8 684.9,289.6 687.3,290.3 684.9,291.2 682.4,291.6 679.9,291.1 677.3,291.3 675.0,290.3 672.4,290.3 669.8,290.7 667.3,290.0 M694.0,289.2 696.7,289.8 699.4,289.4 701.7,288.1 704.0,286.7 705.7,287.0 707.3,287.8 708.8,289.0 710.7,288.3 708.7,287.6 707.0,288.6 705.7,290.0 704.0,290.8 701.5,290.1 699.0,290.0 696.5,289.8 694.0,289.2 M712.3,287.5 715.2,287.9 718.2,287.7 721.1,288.6 724.0,287.5 723.2,288.2 722.4,288.8 721.4,289.3 720.7,290.0 718.9,288.5 716.6,288.6 714.6,287.3 712.3,287.5 M689.8,290.8 691.0,291.3 692.3,291.2 M604.0,291.7 606.0,292.8 608.4,293.1 610.0,291.4 612.3,290.8 614.4,289.8 616.6,289.8 618.9,290.3 620.7,291.7 619.5,292.4 618.3,293.0 617.0,292.9 615.7,293.3 614.0,293.8 612.3,294.2 610.7,294.6 609.0,295.0 610.2,295.7 611.4,296.4 612.7,297.1 614.0,297.5 612.8,298.2 611.7,299.2 610.3,299.5 609.0,300.0 607.7,299.8 606.5,299.3 605.3,298.9 604.0,299.2 M632.3,291.3 634.0,291.0 635.6,290.3 637.4,290.3 639.0,291.0 M619.8,295.5 620.7,295.8 M624.0,295.3 625.7,295.5 627.3,295.5 M763.2,289.2 764.4,288.9 765.7,289.3 M768.7,307.0 769.7,307.3 M604.0,341.7 604.9,340.8 605.3,339.6 606.4,339.2 607.3,338.3 608.4,338.1 609.5,338.0 610.6,337.6 611.5,337.0 612.4,337.9 613.5,338.6 614.6,339.4 615.7,340.0 615.1,340.9 615.0,342.0 614.9,343.1 614.8,344.2 614.0,345.3 613.2,346.4 612.0,347.1 610.7,347.5 609.7,348.3 608.9,349.3 607.7,349.8 606.5,350.0 606.1,351.7 605.7,353.3 606.4,354.2 607.3,354.9 608.0,355.8 609.0,356.3 610.7,356.1 612.4,356.1 613.9,356.7 615.7,356.7 617.3,356.5 619.0,356.2 620.6,355.7 622.3,355.8 623.4,354.9 624.8,354.5 626.0,353.7 627.3,353.3 628.6,352.7 629.8,351.9 631.2,351.8 632.3,350.8 633.4,351.4 634.5,351.4 635.3,352.3 636.5,352.5 635.6,354.0 635.7,355.8 634.2,356.9 632.4,356.9 630.7,356.5 629.0,356.7 627.7,357.0 626.5,357.4 625.2,357.8 624.0,358.3 622.7,358.5 621.4,358.5 620.3,357.8 619.0,357.5 617.8,358.2 616.6,358.9 615.4,359.7 614.0,360.0 613.1,360.8 612.7,362.0 611.5,362.5 610.7,363.3 611.8,364.7 613.2,365.8 612.0,366.0 611.2,366.8 610.1,366.4 609.0,366.7 608.1,367.5 607.4,368.4 606.3,369.0 605.7,370.0 605.2,371.9 604.0,373.3 M641.5,347.5 643.3,348.1 644.8,349.2 645.7,350.8 646.5,352.5 644.8,352.9 643.2,353.3 642.1,351.7 641.0,350.0 641.3,348.8 641.5,347.5 M745.7,400.3 747.8,400.3 749.9,400.6 752.1,400.3 754.0,399.3 755.6,398.8 757.4,399.0 758.9,399.9 760.7,399.7 M629.2,405.8 631.0,405.3 632.0,403.7 633.3,402.3 635.0,401.7 636.1,400.4 637.7,400.3 638.8,399.3 640.0,398.3 641.2,397.7 642.4,397.6 643.7,397.3 645.0,397.5 645.9,398.1 646.8,398.6 647.7,399.2 648.3,400.0 649.8,398.7 651.7,398.3 652.5,397.1 653.3,395.8 654.8,394.8 655.8,393.3 655.6,395.1 654.8,396.7 653.9,398.3 653.3,400.0 654.2,401.6 655.1,403.2 656.8,404.0 658.3,405.0 M676.7,405.0 676.7,403.3 676.0,401.7 676.5,400.0 676.7,398.3 677.8,397.3 678.4,395.9 679.2,394.6 680.0,393.3 678.3,392.3 678.0,390.4 676.4,389.4 675.0,388.3 676.6,388.3 678.2,387.7 679.3,386.5 680.0,385.0 681.6,384.5 683.2,383.8 684.9,384.2 686.7,384.2 688.4,384.1 690.1,383.5 691.8,384.1 693.3,385.0 695.0,384.9 696.2,385.9 697.7,386.5 699.2,386.7 699.7,388.2 698.7,389.5 697.7,390.6 696.7,391.7 694.5,392.0 692.3,391.7 690.3,392.5 688.3,393.3 687.0,394.4 685.5,394.9 683.9,395.3 682.3,395.8 683.2,397.2 683.3,398.7 683.6,400.2 684.0,401.7 684.8,402.6 685.8,403.2 686.3,404.3 687.3,405.0 M784.0,308.3 786.3,307.3 787.6,305.1 789.8,306.3 792.3,305.8 794.5,306.2 796.7,306.1 798.5,304.7 800.7,304.2 802.5,302.9 804.8,302.9 807.0,302.6 809.0,303.7 811.0,303.0 813.0,302.2 815.2,302.1 817.3,302.5 819.4,301.7 821.3,300.7 823.6,300.7 825.7,300.0 827.8,300.1 829.8,299.6 831.9,299.4 834.0,299.2 836.0,299.9 838.0,300.8 840.2,301.4 842.3,300.8 844.7,301.5 846.9,300.5 849.1,301.3 850.7,303.0 851.5,303.7 852.2,304.5 853.2,305.1 854.0,305.8 853.0,306.3 852.0,306.6 851.5,307.6 850.7,308.3 848.6,309.0 846.6,310.0 844.5,310.5 842.3,310.8 840.7,312.5 838.5,313.3 836.3,313.9 834.0,313.3 832.8,314.3 831.3,314.2 830.4,315.4 829.0,315.8 830.9,314.4 832.7,312.9 835.0,311.9 837.3,313.0 839.5,311.4 842.1,310.7 844.7,310.0 847.3,310.0 848.8,311.2 850.4,312.2 852.0,313.4 854.0,313.3 856.1,313.0 858.2,313.1 860.3,313.3 862.3,313.0 864.4,313.4 866.6,313.1 868.6,313.5 870.7,314.2 872.8,314.1 874.9,314.1 877.0,313.6 879.0,313.0 881.1,313.1 883.2,312.8 885.3,312.8 887.3,312.5 888.9,313.2 890.6,313.6 892.2,314.3 894.0,314.2 895.3,314.8 896.0,316.0 896.9,317.0 897.3,318.3 898.2,319.1 899.0,319.8 899.7,320.8 900.7,321.3 901.9,320.5 903.3,320.2 904.3,319.2 905.7,318.7 907.2,319.5 908.9,320.2 910.6,319.7 912.3,319.2 914.4,320.0 916.4,320.9 918.5,320.1 920.7,319.7 922.3,319.2 924.0,319.5 924.8,318.1 925.7,316.7 927.2,316.5 928.4,315.6 929.7,314.8 930.7,313.7 932.4,314.3 934.1,313.9 935.8,314.2 937.3,315.0 939.0,314.7 940.7,315.3 942.4,315.5 944.0,315.8 945.5,316.9 947.0,318.0 948.9,318.4 950.7,317.5 952.3,318.4 953.9,319.3 955.4,320.6 957.3,320.8 959.0,320.2 960.7,319.6 962.1,320.9 964.0,320.8 M791.5,288.3 793.4,288.2 795.2,287.8 797.1,287.9 799.0,288.0 800.6,287.0 802.4,287.5 804.1,287.8 805.7,288.7 806.9,289.3 808.1,290.0 809.5,289.9 810.7,290.8 809.4,291.4 808.1,292.0 806.8,292.4 805.7,293.3 804.0,293.2 802.3,293.0 800.6,293.0 799.0,292.5 797.7,292.3 796.6,291.5 795.4,290.7 794.0,290.8 793.2,289.1 791.5,288.3 M812.3,292.5 814.2,293.8 816.4,293.8 818.6,293.9 820.7,293.3 822.8,292.9 824.9,293.2 826.9,293.7 829.0,294.2 830.0,294.5 831.0,294.9 831.9,295.7 832.3,296.7 830.9,297.9 829.4,298.9 827.5,299.1 825.7,299.2 824.0,298.7 822.4,297.9 820.7,297.7 819.0,297.5 817.8,296.9 816.5,296.6 815.2,296.4 814.0,295.8 812.9,294.3 812.3,292.5 M831.5,297.5 833.4,297.0 835.3,297.4 837.1,298.0 839.0,298.0 M914.0,305.0 915.8,303.6 918.0,302.8 920.2,303.3 922.3,304.2 924.4,303.3 926.6,302.9 928.6,303.8 930.7,304.7 932.4,304.5 934.0,305.2 935.8,305.1 937.3,305.8 935.6,306.3 933.9,306.9 932.4,307.8 930.7,308.3 929.0,308.0 927.3,307.7 925.7,308.4 924.0,308.7 922.3,308.5 920.6,308.8 919.0,308.1 917.3,308.0 916.5,307.3 915.9,306.3 915.0,305.5 914.0,305.0 M939.0,306.7 941.1,306.5 943.2,306.9 945.2,306.4 947.3,306.3 949.2,306.9 951.0,307.7 953.1,306.7 954.8,308.3 952.9,308.4 951.0,308.8 949.1,308.8 947.3,309.7 945.1,309.6 942.9,308.8 941.1,307.5 939.0,306.7 M925.7,310.8 927.3,310.9 929.0,311.1 930.7,311.3 932.3,311.7 933.2,312.9 934.0,314.2 932.2,313.9 930.8,312.7 929.1,313.2 927.3,313.3 926.6,312.0 925.7,310.8 M788.7,300.0 789.7,300.5 M805.3,301.7 806.7,302.0 M913.2,310.0 914.0,310.7 M828.2,383.7 829.7,382.9 831.1,381.8 832.4,380.7 834.0,380.0 835.2,378.5 836.4,376.9 838.2,376.1 839.8,375.0 840.3,373.5 840.5,372.0 842.1,371.6 843.2,370.3 843.6,371.3 844.3,372.0 843.1,373.1 843.0,374.8 842.9,376.5 841.5,377.5 840.1,378.9 839.1,380.6 837.4,381.5 835.7,382.5 834.3,383.3 832.9,383.9 831.4,384.4 829.8,384.7 828.2,383.7 M964.0,356.7 962.8,358.2 961.1,359.3 959.2,359.4 957.3,360.0 955.6,359.5 953.9,359.6 952.3,359.0 950.7,358.3 948.6,358.8 946.5,359.4 944.5,358.8 942.3,358.7 940.2,358.9 938.2,359.3 936.1,358.9 934.0,359.2 932.9,359.9 931.6,360.1 930.3,360.0 929.0,360.0 927.1,361.0 925.3,362.0 924.0,363.7 922.3,365.0 920.9,365.7 919.5,366.6 918.6,368.0 917.3,369.2 917.0,370.9 915.4,371.4 914.5,372.6 913.2,373.3 914.4,373.0 915.6,373.4 916.3,374.4 917.3,375.0 919.1,374.3 920.7,373.3 922.0,374.0 923.3,374.9 924.5,375.7 925.7,376.7 926.6,377.4 927.3,378.4 928.2,379.1 929.0,380.0 928.9,381.8 929.4,383.4 930.7,384.8 930.7,386.7 929.4,388.1 929.8,390.0 930.1,391.8 929.0,393.3 928.3,394.9 927.4,396.5 927.3,398.2 927.3,400.0 927.7,401.4 927.3,402.8 926.6,404.0 925.7,405.0 M932.3,375.0 932.2,376.4 932.3,377.8 932.9,379.1 934.0,380.0 934.5,381.6 935.1,383.3 935.2,385.0 935.7,386.7 936.1,388.0 937.0,389.0 937.2,390.3 937.3,391.7 936.1,392.6 934.8,393.3 934.4,394.6 934.1,395.9 933.6,397.1 933.2,398.3 934.0,400.0 934.8,401.7 933.4,401.1 932.3,400.0 931.2,398.5 931.7,396.7 931.8,395.0 931.5,393.3 931.8,391.7 932.0,390.0 932.2,388.3 932.3,386.7 932.2,385.0 931.7,383.4 931.5,381.7 931.5,380.0 931.7,378.7 931.8,377.5 932.1,376.3 932.3,375.0 M950.7,401.7 951.7,401.0 M955.3,399.3 956.3,398.7 M959.0,397.7 960.0,397.0 M964.0,320.8 965.7,320.8 967.1,319.8 968.5,320.7 970.0,321.3 971.7,321.1 973.3,321.8 975.0,321.8 976.7,322.0 977.8,322.4 978.9,322.8 979.4,323.9 980.0,325.0 981.7,324.6 983.3,324.8 985.0,325.3 986.7,325.3 988.4,324.4 989.9,323.2 991.6,324.1 993.3,325.0 995.0,324.5 996.5,323.6 998.4,323.2 1000.0,324.2 1001.3,324.7 1002.7,325.0 1004.0,325.6 1005.0,326.7 1005.9,326.1 1007.0,325.8 1007.4,324.8 1008.3,324.2 1010.6,324.0 1012.4,322.7 1014.5,322.9 1016.7,323.3 1018.8,323.2 1020.8,324.1 1022.9,324.3 1025.0,324.7 1027.2,325.6 1029.3,324.6 1031.4,324.8 1033.3,325.8 M1033.3,319.2 1032.2,319.5 1031.4,320.3 1030.3,320.3 1029.2,320.0 1029.7,321.0 1031.5,321.1 1033.3,321.3 M964.0,358.3 965.4,357.1 966.7,355.8 968.0,355.4 969.3,354.8 970.5,354.1 971.7,353.3 973.4,352.6 974.7,351.3 976.5,350.8 978.3,350.8 979.6,351.2 981.0,351.4 982.3,350.9 983.3,350.0 984.6,349.6 985.8,349.1 987.1,348.9 988.3,348.3 990.0,348.6 991.7,348.0 991.2,349.4 990.8,350.8 990.1,352.1 988.9,353.1 987.6,353.9 986.7,355.0 986.1,356.1 984.8,356.2 984.4,357.3 984.2,358.3 985.4,359.2 986.7,360.0 987.6,359.2 988.1,358.1 989.1,357.4 990.0,356.7 991.3,356.5 992.7,356.4 994.2,356.2 995.0,355.0 996.3,355.0 997.5,355.1 998.7,355.6 1000.0,355.8 1001.7,356.1 1003.4,356.1 1005.0,355.5 1006.7,355.3 1007.8,353.7 1009.6,352.7 1011.4,351.8 1013.3,351.7 1015.2,351.4 1016.9,350.5 1018.4,349.3 1020.0,348.3 1021.8,347.6 1023.7,347.3 1025.0,346.0 1026.7,345.0 1027.8,344.4 1028.2,343.2 1029.2,342.6 1030.0,341.7 1031.5,341.3 1033.0,340.8 M978.3,355.8 976.8,355.8 975.3,356.4 974.2,357.4 973.3,358.7 972.7,360.1 971.5,361.2 970.3,362.4 968.7,362.5 967.8,363.8 967.3,365.3 967.6,366.8 967.5,368.3 966.6,370.4 966.8,372.6 967.1,374.7 968.0,376.7 967.6,378.8 968.4,380.9 968.6,383.0 969.2,385.0 970.1,384.4 971.3,384.2 972.3,383.7 973.3,383.3 973.8,381.8 975.3,381.4 976.4,380.5 977.5,379.7 978.2,378.2 978.9,376.7 979.9,375.3 981.7,375.0 981.9,373.0 982.4,371.1 984.0,370.0 985.8,369.2 985.6,367.8 985.6,366.5 986.2,365.2 987.0,364.2 986.2,363.3 985.7,362.3 985.6,361.1 985.3,360.0 M995.8,372.0 996.9,372.6 998.0,373.0 999.1,373.4 1000.0,374.2 M1012.5,379.2 1013.8,379.2 1015.0,379.7 M1025.0,382.5 1026.3,382.6 1027.5,383.3 M1030.0,383.0 1031.6,383.6 1033.3,383.7 M965.8,388.3 967.1,387.8 968.3,387.0 M214.0,403.2 213.6,405.1 214.3,407.0 213.7,408.8 213.2,410.7 213.8,412.8 215.0,414.7 214.1,416.8 214.0,419.0 214.6,420.7 215.2,422.3 216.2,423.9 216.5,425.7 216.9,427.3 217.9,428.7 218.7,430.2 219.8,431.5 221.0,432.5 221.8,433.8 222.5,435.1 223.2,436.5 224.0,437.3 224.8,438.2 225.7,438.9 226.5,439.8 227.9,439.6 229.0,440.5 229.8,441.4 230.7,442.3 231.1,443.5 232.1,444.2 233.1,444.9 234.0,445.7 234.1,447.1 235.0,448.3 235.7,449.5 236.5,450.7 236.2,452.0 236.0,453.3 236.4,454.6 237.3,455.7 238.0,456.6 238.7,457.6 238.9,458.7 239.0,459.8 240.1,460.8 241.5,461.0 243.0,461.2 244.0,462.3 M237.3,445.7 238.2,446.6 238.6,447.7 239.7,448.2 240.7,449.0 241.0,450.6 242.2,451.6 243.0,452.9 244.0,454.0 M116.5,479.3 117.8,479.0 119.0,478.7 M122.3,480.3 123.5,481.0 124.8,481.5 126.1,481.8 127.3,482.3 M128.2,484.8 129.5,485.0 130.7,485.7 131.5,487.3 130.4,488.1 129.3,489.0 129.1,487.6 128.2,486.5 128.2,484.8 M111.7,531.0 112.3,531.3 M124.5,544.3 125.3,544.8 M229.8,456.7 230.5,457.0 M244.0,450.7 244.7,451.9 245.3,453.1 246.1,454.3 246.5,455.7 247.0,457.4 247.6,459.0 248.2,460.7 249.0,462.3 249.8,464.4 249.9,466.6 250.8,468.6 251.5,470.7 251.8,472.0 251.8,473.3 252.4,474.5 253.2,475.7 251.5,474.8 251.2,473.2 250.4,471.9 249.4,470.6 249.0,469.0 247.5,467.2 246.5,465.2 246.9,462.8 245.7,460.7 245.1,459.4 244.5,458.3 244.4,456.9 244.0,455.7 M247.3,454.0 248.8,456.0 250.7,457.6 251.9,459.9 252.3,462.3 253.8,463.8 255.2,465.4 256.0,467.4 257.3,469.0 258.4,471.0 260.6,471.8 261.0,473.9 262.3,475.7 262.6,477.5 263.0,479.2 263.7,480.9 264.8,482.3 265.4,483.9 266.2,485.4 267.7,486.3 269.0,487.3 270.1,489.1 271.5,490.7 273.7,490.7 275.7,491.5 277.1,492.9 278.5,494.3 280.4,494.7 282.3,495.3 283.6,496.6 285.2,497.3 286.8,498.0 288.2,499.0 289.6,499.8 291.2,500.0 292.6,499.3 294.0,498.7 295.3,499.6 296.3,500.8 297.4,502.0 299.0,502.3 300.3,503.1 301.5,503.9 302.8,504.7 304.0,505.7 305.7,506.2 307.4,506.8 309.0,507.6 310.7,508.2 311.5,508.8 312.4,509.3 312.8,510.4 314.0,510.7 314.8,511.7 315.9,512.5 316.8,513.6 317.3,514.8 318.4,515.7 319.3,516.7 320.7,517.0 321.5,518.2 322.9,519.1 324.3,520.1 325.8,520.8 327.3,521.5 327.6,523.0 328.4,524.4 329.7,525.3 330.7,526.5 331.7,526.2 332.5,525.5 333.4,524.8 334.0,524.0 334.6,523.1 335.0,522.1 335.9,521.5 336.5,520.7 337.5,521.2 338.0,522.1 339.0,522.5 339.8,523.2 340.0,524.2 340.2,525.3 340.2,526.4 340.7,527.3 339.6,529.3 339.9,531.5 340.4,533.6 339.8,535.7 339.1,537.4 340.0,539.0 340.3,540.7 340.7,542.3 339.8,543.9 339.6,545.6 339.0,547.3 339.0,549.0 M382.3,402.3 381.0,402.6 379.9,403.3 378.6,403.6 377.3,404.0 375.5,404.2 373.7,404.5 372.2,405.5 370.7,406.5 369.0,407.2 367.1,407.2 365.1,407.4 364.0,409.0 363.2,410.5 361.9,411.6 360.5,412.5 359.0,413.2 358.0,414.3 357.3,415.7 355.9,415.5 354.9,416.6 353.5,416.8 352.3,417.3 351.2,417.8 350.2,418.5 349.3,419.3 348.2,419.8 346.9,420.5 346.3,421.8 346.0,423.1 344.8,424.0 344.3,425.0 344.1,426.0 343.1,426.5 342.3,427.3 343.3,428.9 344.0,430.7 342.9,431.6 342.1,432.8 341.6,434.2 341.5,435.7 340.3,436.9 338.8,437.6 338.2,439.2 337.3,440.7 336.5,442.6 334.7,443.5 333.3,444.8 332.3,446.5 331.7,447.9 331.2,449.3 330.1,450.5 329.0,451.5 329.4,452.7 329.8,454.0 329.6,456.4 328.9,458.7 330.5,460.5 332.0,462.3 332.6,463.7 333.0,465.2 333.0,466.8 332.3,468.2 331.1,468.6 329.8,469.0 329.2,467.7 328.3,466.7 328.0,465.3 327.3,464.0 326.7,462.8 326.5,461.5 326.0,460.3 325.7,459.0 326.7,458.1 327.3,456.8 327.3,455.4 327.3,454.0 325.5,453.5 324.0,452.3 322.4,451.8 320.7,451.3 319.0,450.8 317.3,451.5 316.0,452.8 314.1,452.6 312.4,452.7 310.7,452.7 309.6,452.8 308.6,453.2 307.9,453.9 307.3,454.8 306.1,454.5 304.8,454.2 303.6,453.9 302.3,453.7 301.1,453.5 299.8,453.6 298.6,453.9 297.3,454.0 296.0,454.4 295.0,455.2 293.6,455.1 292.3,454.8 291.5,455.9 290.6,456.9 289.3,457.5 288.2,458.2 287.4,459.1 286.9,460.3 286.4,461.4 285.7,462.3 285.2,464.0 285.5,465.7 285.6,467.4 284.8,469.0 284.7,470.7 284.7,472.3 284.9,474.0 284.8,475.7 285.6,477.4 287.0,478.7 286.6,480.5 286.5,482.3 287.2,483.9 288.1,485.3 288.5,487.0 289.8,488.2 291.1,488.2 292.2,488.9 293.2,489.7 294.0,490.7 295.4,490.7 296.5,489.7 297.8,490.2 299.0,490.7 300.0,490.0 301.0,489.2 302.1,488.7 303.2,488.2 303.3,487.0 303.6,485.9 303.9,484.8 304.8,484.0 305.4,483.1 305.8,482.1 306.4,481.3 307.3,480.7 308.4,480.5 309.4,480.4 310.4,480.1 311.5,480.3 312.7,481.4 314.0,482.3 313.9,483.7 313.3,484.9 312.8,486.1 312.3,487.3 310.9,488.7 310.7,490.7 310.6,492.4 309.8,494.0 310.9,494.8 311.8,495.6 312.2,496.9 312.3,498.2 313.6,498.3 314.9,498.3 316.0,499.0 317.3,499.0 318.6,499.5 319.7,500.3 321.1,500.1 322.3,500.7 323.0,502.4 324.0,504.0 323.6,505.3 323.5,506.6 323.5,508.1 322.3,509.0 322.9,510.3 324.0,511.2 324.2,512.6 324.0,514.0 324.9,515.2 325.7,516.5 326.4,517.8 327.3,519.0 328.7,519.2 329.8,519.9 331.2,519.9 332.3,520.7 333.6,520.4 334.8,520.2 336.1,520.3 337.3,519.8 338.1,520.6 338.4,521.7 339.1,522.4 339.8,523.2 M340.7,527.3 341.7,526.7 342.8,526.2 343.3,525.0 344.0,524.0 345.6,522.7 347.4,521.6 349.3,520.6 350.7,519.0 350.4,517.3 351.6,516.0 352.5,514.6 354.0,514.0 355.0,512.4 355.7,510.7 357.4,510.9 359.0,511.5 359.9,510.7 360.7,509.8 362.3,510.5 364.1,510.8 365.9,511.1 367.3,512.3 369.2,512.6 371.0,513.1 372.7,514.0 374.0,515.3 375.7,515.0 377.4,514.8 379.0,515.6 380.7,516.0 381.8,516.0 382.8,515.4 383.7,515.0 384.8,514.8 385.5,516.3 386.4,517.6 386.0,519.1 385.7,520.7 386.7,521.8 387.9,522.7 389.3,523.4 390.7,524.0 391.9,525.8 393.3,527.4 395.3,528.3 397.3,529.0 399.1,529.3 400.8,529.9 402.2,531.0 404.0,531.5 405.5,532.2 407.1,532.9 407.5,534.7 409.0,535.7 409.7,536.9 410.2,538.2 410.9,539.4 411.5,540.7 412.4,542.7 413.5,544.6 413.8,546.8 414.0,549.0 M354.8,514.0 355.4,515.2 355.7,516.5 355.9,517.8 356.5,519.0 355.7,519.9 354.8,520.7 354.6,518.9 353.7,517.3 354.8,515.9 354.8,514.0 M319.8,478.2 320.8,477.4 322.0,477.3 323.0,476.7 324.0,476.0 325.6,476.4 327.3,476.3 329.0,476.5 330.7,476.5 332.7,476.4 334.3,477.5 335.8,478.7 337.3,479.8 339.1,480.6 340.8,481.3 342.2,482.6 344.0,483.2 345.2,483.6 346.3,484.1 347.1,485.0 348.2,485.7 347.1,485.7 346.1,486.0 345.1,486.2 344.0,486.0 342.8,485.4 341.5,485.4 340.3,485.1 339.0,484.8 337.7,484.1 336.5,483.2 335.1,482.6 334.0,481.5 332.2,481.3 330.4,480.9 328.8,480.0 327.3,479.0 326.1,479.4 324.9,479.8 323.6,479.7 322.3,479.8 321.2,478.8 319.8,478.2 M349.0,487.3 350.3,487.1 351.4,486.3 352.6,485.5 354.0,485.7 355.7,485.9 357.3,486.6 358.9,487.3 360.7,487.3 361.7,487.7 362.6,488.3 363.3,489.0 364.0,489.8 362.8,490.5 361.6,491.0 360.3,490.9 359.0,491.5 357.7,491.7 356.4,491.8 355.3,491.1 354.0,490.7 352.7,490.7 351.5,491.2 350.3,490.7 349.0,490.7 348.8,489.0 349.0,487.3 M337.3,490.7 338.7,490.5 339.8,489.6 340.9,490.5 342.3,490.3 341.9,491.3 341.5,492.3 340.3,492.3 339.4,492.8 338.4,492.3 337.3,492.0 337.3,490.7 M367.3,490.3 368.3,490.9 369.4,490.5 370.5,490.4 371.5,490.3 371.5,492.0 370.5,491.9 369.4,492.0 368.4,492.2 367.3,492.0 367.3,490.3 M337.3,464.0 338.0,465.8 339.0,467.3 M339.8,469.8 340.0,471.2 340.7,472.3 M345.3,470.7 346.3,471.3 M350.3,475.7 351.7,476.7 M353.7,479.0 354.7,480.0 M341.5,466.5 343.2,467.3 344.0,469.0 M377.0,494.0 378.0,494.7 M382.0,497.3 382.7,498.3 M383.0,502.3 383.7,503.7 M383.7,507.0 384.3,508.3 M382.0,511.5 383.0,512.3 M373.7,445.7 374.7,446.0 M244.0,416.5 245.3,417.0 M547.3,403.2 547.3,405.1 546.7,407.0 545.8,408.7 545.7,410.7 544.4,410.6 543.2,410.3 541.9,410.3 540.7,410.3 538.2,409.6 535.7,410.0 533.2,410.1 530.7,409.8 529.0,409.8 527.3,410.1 525.5,409.7 524.0,410.7 524.5,412.3 524.5,414.0 524.6,415.7 524.8,417.3 524.4,419.2 523.0,420.4 524.0,422.1 523.7,424.0 524.2,425.4 524.6,426.8 525.0,428.3 524.8,429.8 526.4,430.0 527.8,430.6 529.1,431.3 530.7,431.5 532.2,432.5 534.0,433.2 535.7,433.0 537.3,432.3 538.3,431.3 539.5,430.6 540.9,430.5 542.3,430.7 543.7,429.9 545.3,429.7 546.1,428.3 547.3,427.3 547.7,425.9 548.1,424.6 549.6,424.2 550.7,423.2 552.1,422.9 553.2,422.1 554.4,421.3 555.7,420.7 556.7,419.7 557.8,419.0 558.5,417.8 559.0,416.5 559.3,414.8 560.6,413.5 562.0,412.4 562.5,410.7 563.3,409.9 564.0,409.0 564.9,408.5 565.7,407.7 566.8,407.4 567.9,407.4 568.9,406.9 570.0,406.7 571.2,405.9 572.6,406.1 573.6,407.2 575.0,407.2 576.0,407.7 577.1,408.1 578.0,408.9 578.3,410.0 579.9,411.4 581.2,413.1 582.7,414.6 583.3,416.7 584.9,417.6 585.9,419.1 587.3,420.2 588.3,421.7 590.3,422.0 591.2,423.8 592.4,425.1 593.3,426.7 594.3,425.2 595.8,424.2 595.3,423.1 594.7,422.0 593.8,421.2 593.3,420.0 592.6,419.0 592.2,417.8 591.0,417.4 590.0,416.7 589.5,414.7 589.6,412.7 588.3,411.2 586.7,410.0 586.0,408.7 585.0,407.5 584.3,406.2 583.3,405.0 583.4,404.0 583.2,403.0 582.2,402.5 581.7,401.7 M588.3,402.7 589.2,404.1 590.5,405.2 591.3,406.7 591.7,408.3 592.7,409.9 593.4,411.6 595.0,412.5 596.7,413.3 598.4,414.0 599.3,415.7 599.8,417.6 601.7,418.3 602.3,420.1 603.3,421.7 603.8,423.1 604.6,424.5 605.2,425.9 605.7,427.3 M572.0,410.8 573.7,411.7 574.3,412.7 574.8,413.9 574.3,415.0 573.3,415.8 571.7,415.0 571.7,413.9 572.1,412.9 572.1,411.9 572.0,410.8 M571.3,417.5 572.8,417.3 574.2,417.5 574.6,419.2 574.0,420.8 573.8,422.5 574.2,424.2 572.8,424.4 571.3,424.2 571.7,422.5 572.1,420.8 571.7,419.2 571.3,417.5 M583.2,428.2 584.6,427.5 586.1,427.3 587.5,426.8 589.0,426.5 590.7,426.8 592.3,427.3 591.4,428.1 590.3,428.6 589.4,429.5 589.0,430.7 587.7,430.7 586.4,431.0 584.9,430.9 584.0,429.8 583.2,428.2 M552.3,424.0 554.0,423.7 M556.5,421.5 558.1,420.8 559.8,420.7 M586.5,434.0 587.3,434.5 M534.0,434.0 535.7,433.3 537.5,432.9 538.9,434.2 540.7,434.8 542.4,434.8 544.0,435.2 545.6,435.7 547.3,435.7 548.7,433.5 551.2,433.3 553.4,433.3 555.7,433.2 557.8,433.3 560.0,433.2 561.9,432.2 564.0,431.5 565.7,431.3 567.3,431.0 569.0,430.4 570.7,430.7 571.7,430.6 572.8,430.6 573.8,430.7 574.8,430.7 575.6,431.4 576.5,432.0 576.9,433.0 577.3,434.0 577.2,435.5 576.5,436.7 576.0,438.1 574.8,439.0 574.8,440.4 575.1,441.7 576.2,442.4 577.3,443.2 578.6,443.4 579.8,443.6 581.1,443.9 582.3,444.0 583.9,444.8 585.6,445.3 587.3,445.2 589.0,445.7 590.6,446.8 592.0,448.2 594.0,448.7 595.7,449.8 597.3,450.8 599.0,451.5 600.3,450.4 601.7,449.7 602.9,448.6 604.0,447.3 M534.0,434.0 533.2,434.9 532.4,435.7 531.5,436.5 530.7,437.3 529.9,439.2 528.4,440.6 527.1,442.1 526.5,444.0 525.4,445.8 523.6,446.8 523.5,448.9 522.3,450.7 521.1,452.5 520.6,454.6 519.4,456.5 517.3,457.3 516.6,458.2 515.8,459.1 514.8,459.8 514.0,460.7 513.8,462.3 512.4,463.2 511.7,464.6 510.7,465.7 509.6,466.9 509.4,468.4 508.4,469.5 507.3,470.7 507.8,472.7 508.1,474.8 506.4,476.0 504.8,477.3 504.0,478.9 503.2,480.5 503.7,482.2 503.7,484.0 504.0,485.8 504.9,487.3 504.7,489.0 504.0,490.7 503.5,492.3 502.8,493.9 502.5,495.6 502.3,497.3 501.9,498.6 501.1,499.7 501.1,501.0 501.5,502.3 502.0,503.3 502.8,504.0 503.2,504.9 504.0,505.7 503.9,507.0 504.5,508.2 504.1,509.4 503.7,510.7 504.7,511.4 505.7,512.2 506.6,513.0 507.3,514.0 508.2,515.3 509.2,516.4 509.9,517.7 510.7,519.0 511.3,520.3 512.6,520.9 513.6,521.8 514.0,523.2 515.9,523.7 517.8,524.4 518.6,526.2 519.0,528.2 519.9,529.6 521.3,530.5 522.6,531.4 524.0,532.3 525.2,533.4 526.0,534.8 527.4,535.6 529.0,535.7 531.1,535.3 533.2,535.0 535.2,534.3 537.3,534.0 539.1,533.7 540.7,534.3 542.3,534.7 544.0,534.8 545.7,534.2 547.2,533.2 548.9,532.7 550.7,532.3 552.5,532.8 554.3,532.8 555.7,531.6 557.3,530.7 558.7,531.3 560.1,531.3 561.1,532.4 562.3,533.2 563.7,533.7 565.1,534.0 566.2,534.8 567.3,535.7 569.1,536.2 570.7,537.3 571.3,538.7 572.1,540.0 573.0,541.2 574.0,542.3 574.8,543.1 575.2,544.2 576.3,544.4 577.3,544.8 578.9,544.0 580.6,544.0 582.3,543.3 584.0,544.0 585.7,543.8 587.3,543.2 589.0,543.0 590.7,543.2 591.4,542.0 592.0,540.8 593.1,540.0 594.0,539.0 595.2,538.4 596.3,537.5 597.7,537.7 599.0,537.3 600.0,538.4 600.0,539.8 600.3,541.1 600.7,542.3 599.7,543.8 599.4,545.6 599.2,547.3 599.0,549.0 M463.7,422.7 464.5,423.0 M470.7,425.3 472.0,425.3 473.1,424.7 474.4,424.7 475.7,424.8 M479.0,428.2 480.5,429.0 481.5,430.3 M502.3,444.0 503.6,443.6 504.8,443.3 M503.2,458.7 504.8,459.1 506.5,459.5 M509.8,458.2 511.0,457.2 512.0,456.0 M479.8,494.8 480.7,495.3 M482.3,502.3 483.3,502.0 M484.8,501.5 485.7,501.2 M486.5,495.7 486.7,496.9 487.0,498.2 M544.0,520.7 545.2,521.6 546.5,522.3 546.8,523.7 547.7,524.7 548.0,526.0 548.2,527.3 547.7,528.2 547.0,529.0 547.1,527.8 546.3,526.9 545.8,525.9 545.3,524.8 545.0,523.7 544.0,523.0 543.7,521.8 544.0,520.7 M570.7,537.3 572.3,538.3 M567.7,545.3 568.7,545.7 M604.0,444.0 605.2,445.5 607.0,446.2 608.8,446.0 610.7,446.5 612.4,446.8 614.2,446.7 615.6,447.8 617.3,448.2 619.0,448.0 620.7,448.2 622.4,448.6 624.0,449.0 625.6,448.3 627.3,447.8 629.0,448.1 630.7,448.7 632.3,449.2 633.5,450.5 635.1,450.7 636.7,451.3 638.3,450.6 640.0,450.8 640.8,449.9 641.2,448.7 641.9,447.8 642.5,446.7 642.7,444.9 643.3,443.3 643.5,441.6 644.2,440.0 644.1,438.3 644.7,436.7 644.5,435.0 645.0,433.3 644.1,432.5 643.3,431.7 641.2,432.1 639.2,432.5 637.2,433.3 635.0,433.3 632.9,433.1 630.8,432.7 628.8,433.1 626.7,433.3 626.2,432.4 625.3,431.7 624.7,430.9 624.2,430.0 623.5,428.8 622.8,427.6 622.2,426.3 621.7,425.0 622.0,423.7 622.1,422.4 622.7,421.2 623.3,420.0 624.4,419.7 625.1,418.8 626.0,418.4 626.7,417.5 628.3,417.9 630.0,418.1 631.7,417.9 633.3,418.3 635.0,418.6 636.7,418.5 638.4,418.2 640.0,417.5 642.5,417.4 645.0,417.1 647.5,417.3 650.0,416.7 652.0,416.1 654.1,415.8 656.2,416.1 658.3,415.8 660.4,416.0 662.5,416.5 664.6,416.3 666.7,415.8 667.7,415.4 668.3,414.5 669.0,413.7 670.0,413.3 669.4,411.7 668.1,410.5 666.6,409.9 665.0,409.2 663.3,407.9 661.4,407.0 659.3,406.2 658.3,404.2 657.2,403.3 656.3,402.2 655.1,401.5 654.0,400.7 M626.7,417.5 625.2,416.4 623.5,415.7 621.8,416.3 620.0,416.7 619.3,417.7 618.3,418.3 617.5,419.7 616.5,421.0 615.0,421.5 613.3,421.7 612.3,422.1 611.2,422.4 610.2,423.0 609.2,423.3 609.7,425.2 610.8,426.7 609.7,427.0 609.4,428.2 608.7,429.0 608.3,430.0 607.4,429.2 607.0,428.0 606.2,427.0 605.0,426.7 604.6,425.3 603.5,424.4 603.4,423.0 603.3,421.7 M626.7,417.5 625.7,416.0 624.2,415.0 624.5,413.6 625.4,412.5 626.1,411.3 626.7,410.0 627.2,408.7 627.8,407.4 628.5,406.2 629.2,405.0 629.5,403.9 629.7,402.8 629.9,401.6 630.7,400.7 M636.5,436.5 637.8,436.0 639.2,436.3 640.3,435.5 641.5,434.8 641.0,436.3 639.8,437.3 638.2,437.9 636.5,437.3 636.5,436.5 M611.5,435.7 613.4,435.3 615.3,435.5 617.0,436.4 619.0,436.5 M613.7,420.7 614.7,421.3 M616.5,425.3 617.3,426.3 M619.5,423.0 620.5,423.7 M615.7,418.2 616.7,418.7 M635.7,449.8 636.3,451.2 636.5,452.7 636.4,454.4 637.3,455.7 637.8,457.1 638.9,458.2 639.5,459.7 640.7,460.7 643.5,462.0 644.7,464.9 645.5,467.7 645.7,470.7 646.6,472.7 647.5,474.8 648.3,476.9 649.0,479.0 649.1,481.7 649.9,484.3 650.4,487.0 652.3,489.0 652.1,491.1 653.3,492.9 653.6,494.9 654.8,496.5 655.2,498.0 656.0,499.5 657.0,500.7 657.3,502.3 658.6,503.2 659.3,504.6 660.0,506.0 660.7,507.3 661.6,507.9 662.4,508.6 663.1,509.5 663.2,510.7 662.9,512.4 662.3,514.0 664.1,514.6 665.7,515.7 666.9,515.2 668.1,514.8 669.4,514.4 670.7,514.8 672.8,514.7 674.9,514.7 677.0,514.9 679.0,514.0 680.6,513.2 682.1,512.3 683.9,512.6 685.7,512.3 686.1,514.0 686.5,515.7 685.8,516.9 684.9,518.0 684.6,519.4 684.0,520.7 682.7,522.1 681.7,523.8 680.3,525.4 679.8,527.3 677.9,529.0 676.2,531.0 675.1,533.3 674.0,535.7 673.1,537.6 672.0,539.3 670.2,540.5 669.0,542.3 667.8,543.8 666.7,545.3 666.2,547.2 665.7,549.0 M635.7,449.8 636.4,450.9 636.4,452.2 637.5,452.9 638.2,454.0 638.5,455.9 639.8,457.3 639.9,455.5 641.0,454.0 641.3,452.4 642.0,451.0 643.1,452.8 643.6,455.0 644.6,456.9 644.8,459.0 647.1,460.5 647.0,463.1 648.6,464.9 649.0,467.3 649.5,470.2 651.5,472.3 652.4,475.0 654.0,477.3 655.4,479.1 656.1,481.3 656.0,483.7 657.3,485.7 659.1,487.3 659.6,489.6 660.2,491.8 660.7,494.0 661.2,495.6 661.5,497.3 662.1,498.9 662.3,500.7 662.1,502.4 662.7,504.1 663.7,505.6 664.0,507.3 664.7,508.5 664.8,509.8 666.1,508.9 667.6,508.3 669.1,507.8 670.7,507.3 673.1,507.9 675.6,507.5 677.0,505.5 679.0,504.0 681.6,503.8 683.7,502.4 685.5,500.7 687.3,499.0 688.5,497.3 690.0,495.8 691.9,494.9 694.0,494.8 695.3,493.0 696.5,491.2 698.8,491.1 700.7,489.8 700.7,487.6 702.2,486.1 704.0,485.1 705.7,484.0 706.2,482.6 707.5,481.8 707.8,480.4 708.2,479.0 707.4,477.4 707.3,475.7 705.6,475.0 704.4,473.6 702.7,472.6 702.3,470.7 701.5,469.9 701.3,468.9 700.6,468.0 699.8,467.3 699.6,468.7 699.0,469.8 698.0,470.2 697.2,470.9 696.4,471.5 695.7,472.3 694.6,471.6 693.3,471.1 692.0,471.4 690.7,471.5 689.6,470.9 688.8,470.1 688.1,469.1 687.3,468.2 686.8,466.9 685.9,465.9 684.9,465.0 684.0,464.0 683.1,462.9 682.2,461.8 682.1,460.3 681.5,459.0 681.2,457.6 680.9,456.2 680.1,455.0 679.0,454.0 678.2,453.3 677.3,452.7 679.0,453.4 680.7,454.0 682.1,455.1 683.3,456.3 684.5,457.7 685.7,459.0 686.9,459.8 688.1,460.7 689.1,461.9 690.7,462.3 692.5,462.4 694.1,463.4 695.8,463.8 697.3,464.8 698.4,466.0 699.8,466.5 701.0,466.4 702.1,466.8 703.0,467.5 704.0,468.2 706.0,469.1 708.2,468.4 710.3,469.0 712.3,468.2 714.4,468.3 716.6,468.3 718.5,467.5 720.7,467.3 722.4,467.5 723.9,468.4 725.6,467.7 727.3,468.2 728.5,469.4 730.0,470.1 731.2,471.2 732.3,472.3 733.4,473.4 734.1,474.8 734.4,476.4 735.7,477.3 735.9,478.4 736.4,479.5 737.4,480.3 737.3,481.5 738.3,481.1 739.1,480.4 740.0,479.8 740.7,479.0 741.9,478.4 743.2,478.2 743.4,480.0 743.4,481.9 744.1,483.7 744.0,485.7 745.1,487.1 745.4,488.9 745.8,490.6 745.7,492.3 745.9,494.1 746.8,495.6 747.2,497.3 747.3,499.0 747.7,501.2 748.3,503.4 750.3,504.9 750.7,507.3 751.5,509.9 751.4,512.6 753.4,514.6 754.0,517.3 755.6,518.1 756.0,519.9 757.0,521.4 756.5,523.2 757.3,522.5 758.2,522.0 759.2,521.5 759.8,520.7 759.9,518.3 761.5,516.5 762.1,514.3 763.2,512.3 763.7,510.3 764.2,508.2 764.2,506.1 764.0,504.0 764.5,502.4 764.8,500.7 765.8,499.5 766.4,498.1 767.6,497.2 769.0,496.5 770.3,495.2 771.9,494.4 772.7,492.8 774.0,491.5 775.0,490.0 776.2,488.7 777.4,487.4 779.0,486.5 779.6,484.8 781.2,484.1 782.6,483.2 784.0,482.3 M763.2,519.0 765.0,519.5 766.5,520.7 767.6,521.6 768.3,522.9 768.6,524.3 769.0,525.7 768.2,526.8 768.0,528.1 767.8,529.4 767.3,530.7 765.5,530.8 764.0,529.8 763.2,528.5 762.5,527.1 762.5,525.6 762.3,524.0 762.3,522.7 762.9,521.5 762.9,520.2 763.2,519.0 M685.3,465.7 685.5,467.2 686.7,468.2 685.7,469.8 685.2,468.6 684.7,467.3 685.3,465.7 M688.2,509.8 689.7,508.9 691.5,509.1 693.1,509.4 694.8,509.3 M742.7,513.2 743.7,514.0 M745.3,517.0 745.8,517.7 M744.8,522.7 745.2,523.7 M745.3,528.2 745.0,529.2 745.3,530.3 745.5,531.3 745.7,532.3 M745.3,534.0 745.2,536.4 746.1,538.6 745.3,540.8 745.7,543.2 M676.7,398.3 677.3,399.7 678.1,401.0 679.2,402.1 680.0,403.3 681.8,403.4 683.4,402.8 685.1,402.3 686.7,401.7 688.4,401.1 690.0,401.8 691.7,402.0 693.3,402.5 693.6,404.0 693.9,405.5 694.8,406.8 695.0,408.3 693.6,408.5 692.3,408.5 691.3,409.5 690.0,410.0 689.5,411.5 689.0,412.9 688.0,414.1 686.7,415.0 686.9,416.7 687.0,418.5 688.1,419.9 688.3,421.7 688.5,423.2 689.2,424.6 689.7,426.1 690.7,427.3 691.3,428.2 692.2,428.7 693.1,429.3 694.0,429.8 694.6,428.4 695.4,427.2 696.9,426.9 698.3,426.5 698.5,425.4 699.2,424.4 700.0,423.5 700.0,422.3 698.9,421.3 698.7,419.8 697.5,418.8 697.3,417.3 697.4,415.6 697.1,413.9 697.5,412.3 698.2,410.7 698.4,409.3 698.7,408.1 699.1,406.8 699.8,405.7 699.7,404.1 700.3,402.6 700.2,401.0 699.0,399.8 M907.3,403.2 906.6,403.9 905.9,404.7 904.9,405.2 904.0,405.7 903.3,406.6 902.4,407.4 901.3,408.0 900.7,409.0 899.6,409.5 898.7,410.3 897.8,411.2 897.3,412.3 896.1,413.6 894.7,414.7 893.6,416.1 892.3,417.3 892.6,418.4 893.1,419.3 893.8,420.2 894.8,420.7 895.5,421.8 895.4,423.1 895.3,424.4 895.7,425.7 896.4,426.8 897.1,428.0 897.2,429.3 897.3,430.7 897.5,431.7 897.6,432.8 897.9,433.8 898.2,434.8 896.9,436.1 895.7,437.3 894.6,437.2 893.5,437.1 892.5,437.7 891.5,438.2 890.2,437.8 889.0,437.3 888.8,436.3 889.1,435.2 889.2,434.2 889.3,433.2 889.1,432.0 888.8,430.9 888.1,429.9 887.3,429.0 887.0,428.0 886.4,427.0 886.6,425.9 886.5,424.8 885.8,423.9 885.2,422.8 884.7,421.7 884.0,420.7 882.4,421.1 880.7,421.0 879.4,421.1 878.2,421.5 877.5,420.7 876.7,420.0 876.5,418.9 875.7,418.2 874.6,419.1 873.4,419.8 872.1,420.5 870.7,420.7 869.2,421.2 867.7,421.6 866.8,422.9 865.7,424.0 866.5,424.8 867.3,425.7 868.1,426.6 869.0,427.3 870.0,428.4 871.1,429.3 872.5,428.7 874.0,429.0 875.0,429.3 876.0,429.7 877.1,430.1 878.2,429.8 877.5,430.7 876.4,431.0 875.4,431.4 874.8,432.3 874.1,433.3 872.9,433.8 871.8,434.3 870.7,434.8 870.4,435.9 870.5,437.0 870.0,437.9 869.8,439.0 870.4,440.3 871.2,441.4 871.1,443.0 872.3,444.0 872.5,445.1 873.5,445.7 874.3,446.5 874.8,447.3 874.5,448.6 874.4,450.0 874.9,451.2 875.7,452.3 875.5,453.6 875.4,454.9 875.1,456.1 874.8,457.3 874.0,458.5 873.4,459.7 873.1,461.1 872.3,462.3 871.5,463.5 871.3,464.9 870.9,466.4 869.8,467.3 869.3,468.6 868.6,469.7 867.9,471.0 866.5,471.5 865.3,472.2 864.6,473.4 863.6,474.3 862.3,474.8 861.0,475.2 859.7,475.8 858.7,476.9 857.3,477.3 856.1,477.6 854.8,477.5 853.5,477.4 852.3,478.2 851.2,478.4 850.3,479.2 849.3,479.6 848.2,479.8 847.1,480.3 846.1,480.7 845.1,481.2 844.0,481.5 842.2,481.4 840.7,482.3 839.1,481.7 837.3,481.5 836.5,482.8 835.7,484.0 835.8,485.0 835.5,486.0 834.7,486.6 834.0,487.3 833.5,489.0 833.2,490.7 833.7,491.6 834.1,492.7 834.6,493.7 834.8,494.8 835.4,495.9 836.3,496.7 837.2,497.5 838.2,498.2 838.0,500.0 838.5,501.8 839.8,503.1 841.5,504.0 843.0,505.3 842.5,507.3 842.9,509.0 842.3,510.7 841.8,512.0 841.4,513.3 840.7,514.6 839.8,515.7 839.2,516.9 838.0,517.7 837.1,518.8 835.7,519.0 834.8,519.9 834.0,520.9 832.6,520.5 831.5,521.5 831.4,520.1 830.7,519.0 829.8,518.1 829.4,516.9 829.2,515.6 828.2,514.8 826.9,516.1 825.7,517.3 825.3,515.9 824.3,514.9 823.4,513.8 823.2,512.3 821.5,511.5 819.8,510.7 818.8,512.1 817.3,513.2 816.6,514.5 816.2,516.0 816.0,517.5 816.5,519.0 817.2,520.7 817.4,522.5 818.1,524.1 819.0,525.7 820.0,527.2 821.6,528.2 822.3,529.9 823.2,531.5 823.6,533.2 824.2,534.8 825.4,536.0 826.5,537.3 826.4,539.2 827.2,540.9 828.3,542.3 829.0,544.0 829.2,545.3 829.1,546.6 829.4,547.8 829.8,549.0 M784.0,479.0 785.4,479.1 786.5,479.8 787.9,478.7 789.0,477.3 790.2,478.0 791.5,478.2 792.9,477.1 794.0,475.7 794.3,477.5 795.7,478.8 796.1,480.6 796.5,482.3 797.4,483.5 798.2,484.6 798.7,486.0 799.0,487.3 800.0,488.4 801.1,489.4 800.9,490.9 801.5,492.3 801.8,493.7 802.7,494.7 802.7,496.1 803.2,497.3 804.7,498.4 806.5,499.0 806.9,498.0 807.6,497.2 808.3,496.4 809.0,495.7 810.0,497.3 810.7,499.0 810.8,500.7 811.4,502.4 811.6,504.1 812.3,505.7 811.9,507.4 812.4,509.0 812.2,510.8 813.2,512.3 813.6,514.5 813.1,516.6 812.9,518.7 814.0,520.7 814.7,522.3 815.4,524.0 816.8,525.4 816.5,527.3 817.1,529.2 817.3,531.1 819.0,532.2 819.8,534.0 821.1,535.4 822.1,537.0 822.7,538.8 823.2,540.7 823.4,542.1 823.7,543.5 824.5,544.7 825.7,545.7 826.9,547.1 827.3,549.0 M840.7,486.5 841.5,485.9 842.4,485.4 843.3,484.8 844.0,484.0 845.5,485.1 847.0,486.0 846.5,486.9 845.9,487.8 845.8,488.8 845.7,489.8 844.1,490.9 842.3,491.5 841.6,490.0 840.3,489.0 841.0,487.8 840.7,486.5 M872.3,470.7 873.1,468.9 874.8,468.2 875.8,469.3 876.5,470.7 876.1,471.9 875.3,473.0 875.4,474.4 875.7,475.7 874.5,477.3 873.7,479.0 872.5,477.5 872.0,475.7 872.6,474.5 872.5,473.2 872.5,471.9 872.3,470.7 M898.3,443.3 899.3,442.6 900.2,441.8 901.2,441.1 901.7,440.0 902.7,439.0 904.2,438.7 905.3,437.9 906.7,437.5 908.4,437.0 909.9,436.0 911.9,436.4 913.3,435.0 914.0,433.2 914.8,431.5 916.8,431.3 918.3,430.0 919.6,429.2 920.7,428.1 922.1,427.6 923.3,426.7 924.6,425.9 925.2,424.5 926.0,423.2 925.8,421.7 926.6,420.6 926.7,419.2 926.8,418.0 926.7,416.7 926.3,415.0 925.8,413.3 926.6,412.5 926.9,411.5 927.8,410.9 928.3,410.0 928.7,408.6 929.3,407.4 929.8,406.0 930.8,405.0 931.8,405.9 933.0,406.6 934.1,407.4 935.0,408.3 933.9,409.2 933.5,410.6 934.0,412.0 933.3,413.3 932.4,414.4 931.8,415.7 931.2,417.0 930.8,418.3 930.0,419.6 929.3,421.0 930.4,422.1 931.3,423.3 931.2,424.6 931.0,425.9 930.5,427.1 930.0,428.3 929.1,429.5 928.8,430.8 928.1,432.1 927.5,433.3 926.9,434.2 926.1,434.9 925.6,435.8 925.0,436.7 923.7,436.8 922.4,436.6 921.1,436.8 920.0,437.5 919.1,438.2 918.0,438.7 916.8,438.4 915.8,439.2 914.8,438.7 913.8,438.5 912.7,438.4 911.7,438.3 910.8,439.0 910.0,439.5 909.1,440.1 908.3,440.8 907.3,440.9 906.2,441.2 905.2,441.6 904.2,441.7 902.8,442.8 901.7,444.2 902.1,445.7 902.4,447.2 901.7,448.7 900.8,450.0 900.0,450.9 899.2,451.7 898.9,450.4 898.6,449.2 898.1,448.0 898.3,446.7 898.1,445.0 898.3,443.3 M906.7,441.7 907.9,441.0 909.2,441.1 910.4,440.5 911.7,440.3 912.5,441.2 913.3,442.0 912.2,442.4 911.3,443.3 910.1,443.6 909.0,444.0 907.8,442.9 906.7,441.7 M931.3,404.2 932.2,403.4 933.0,402.7 933.8,401.9 934.2,400.8 935.4,400.4 936.7,400.3 937.7,399.5 938.3,398.3 938.3,399.5 938.9,400.5 939.7,401.3 939.7,402.5 940.4,403.6 941.7,403.8 942.3,404.8 943.0,405.8 942.5,406.9 941.9,407.9 941.2,408.9 940.8,410.0 939.8,410.6 938.9,411.3 937.8,411.7 936.7,411.7 935.8,411.0 935.2,410.1 934.6,409.2 933.7,408.7 933.2,407.5 932.8,406.3 932.0,405.2 931.3,404.2 M897.0,458.2 898.0,457.3 M894.5,461.8 895.3,461.0 M892.0,465.2 892.8,464.3 M884.8,470.2 886.5,469.7 M881.0,471.7 882.3,471.3 M888.7,442.0 889.7,442.7 M872.3,490.7 873.6,490.7 874.9,490.9 876.2,490.5 877.3,489.8 877.8,491.3 877.4,492.8 878.1,494.1 878.2,495.7 877.3,496.8 877.1,498.3 876.7,499.7 875.7,500.7 876.9,502.1 877.3,504.0 878.4,504.7 879.4,505.3 880.6,505.7 881.5,506.5 880.2,507.2 879.0,508.2 877.8,507.9 876.8,507.2 875.8,506.5 874.8,505.7 874.4,504.4 874.1,503.1 873.4,502.0 873.2,500.7 872.5,499.5 872.0,498.3 872.2,496.9 871.5,495.7 871.0,494.4 871.5,493.1 871.9,491.9 872.3,490.7 M876.5,509.0 877.6,509.1 878.5,509.7 879.6,509.8 880.7,509.8 881.4,510.6 882.3,511.1 883.1,511.8 884.0,512.3 883.4,514.1 882.3,515.7 880.6,515.0 879.0,514.0 877.4,513.1 876.5,511.5 876.6,510.2 876.5,509.0 M884.0,510.7 884.4,511.7 885.0,512.5 885.5,513.5 886.5,514.0 886.2,515.2 886.0,516.5 886.0,517.8 885.7,519.0 884.5,518.1 883.2,517.3 883.0,515.6 883.2,514.0 883.7,512.3 884.0,510.7 M882.3,524.0 882.8,522.8 883.4,521.7 884.5,521.2 885.7,520.7 887.2,521.9 889.0,522.3 889.0,523.6 889.3,524.9 889.7,526.1 889.8,527.3 889.8,528.6 889.2,529.8 888.3,530.7 887.3,531.5 885.8,530.4 884.0,530.7 883.1,529.1 882.3,527.3 881.6,525.7 882.3,524.0 M878.2,524.0 879.5,523.9 880.7,523.2 880.4,524.9 879.8,526.5 879.3,525.0 878.2,524.0 M864.0,522.3 864.8,520.9 864.9,519.3 866.3,518.6 867.3,517.3 868.4,516.1 868.4,514.5 869.5,513.3 870.7,512.3 872.0,511.4 872.3,509.8 872.2,511.2 871.5,512.3 871.4,514.1 870.7,515.8 869.4,516.9 868.2,518.2 867.4,519.5 866.1,520.1 865.5,521.4 864.8,522.7 864.0,522.3 M842.3,549.0 843.3,547.3 844.8,546.1 844.9,544.1 845.7,542.3 846.5,541.0 847.9,540.3 849.4,539.8 850.7,539.0 851.6,537.7 852.7,536.7 854.3,536.4 855.7,535.7 856.9,534.4 858.0,533.0 859.2,531.7 860.7,530.7 861.6,530.1 862.3,529.4 863.1,528.8 864.0,528.2 864.8,529.0 865.7,529.8 866.3,530.9 867.3,531.5 867.9,532.5 867.9,533.7 868.5,534.7 869.0,535.7 868.5,536.8 867.6,537.6 866.8,538.5 865.7,539.0 866.2,540.2 866.7,541.4 866.9,542.7 867.3,544.0 867.3,545.7 868.2,547.0 869.1,548.4 870.7,549.0 M870.3,532.7 871.3,532.0 M873.7,531.0 875.0,530.3 M890.7,542.3 892.3,541.9 894.0,541.5 894.7,543.3 894.4,545.3 894.7,547.1 894.8,549.0 M805.7,532.3 806.5,533.7 807.8,534.5 809.2,535.2 810.7,535.7 812.2,536.6 813.7,537.7 814.4,539.3 815.7,540.7 816.5,542.4 818.3,543.0 819.3,544.5 820.7,545.7 821.5,546.3 822.2,547.1 822.4,548.2 823.2,549.0 M805.7,532.3 806.5,533.4 806.3,534.8 806.9,536.0 806.5,537.3 807.6,538.4 808.6,539.5 809.3,540.9 809.8,542.3 810.8,543.9 811.6,545.6 812.0,547.5 813.2,549.0 M797.3,507.3 797.8,508.5 797.7,509.8 798.0,511.1 798.2,512.3 M800.3,527.0 801.0,528.0 M807.3,541.5 808.3,542.3 809.0,543.3 M939.5,485.3 940.3,486.0 M940.3,491.0 941.2,491.8 M937.8,506.2 938.7,507.0 M940.3,502.0 941.2,502.7 M920.3,518.7 921.0,519.5 M910.2,525.3 911.3,526.2 M957.8,527.0 958.7,527.7 M962.0,532.0 962.8,532.7 M962.7,471.3 963.7,471.7 M889.0,536.5 889.7,537.3 M962.2,471.2 963.0,471.5 M996.0,487.3 996.7,488.3 M997.2,513.3 998.0,514.2 M998.0,520.3 998.9,521.5 1000.0,522.3 M1008.3,521.7 1009.2,522.5 M1004.3,530.7 1005.0,531.3 M1013.7,544.5 1014.3,545.3 M974.2,527.5 974.8,528.2 M986.8,532.5 987.5,533.2 M72.8,549.0 73.7,549.7 M82.0,558.5 82.8,559.2 M88.3,561.8 89.2,562.5 M85.3,579.3 86.2,580.0 M114.5,583.2 115.3,583.8 M123.2,579.0 124.0,579.7 M170.3,578.2 171.2,578.8 M174.2,581.3 175.0,582.0 M153.7,596.5 154.5,597.2 M170.0,601.3 170.8,602.0 M139.5,604.0 140.3,604.7 M155.7,606.0 156.5,606.7 M157.0,613.8 157.8,614.5 M169.2,613.2 170.0,613.8 M89.8,611.0 90.7,611.7 M75.7,618.3 76.5,619.0 M168.7,619.8 169.5,620.5 M182.3,619.3 183.2,620.0 M178.3,624.3 179.2,625.0 M197.0,630.7 197.8,631.3 M211.3,629.5 212.2,630.2 M72.0,691.0 72.8,691.7 M83.2,593.8 84.7,595.1 86.5,595.8 M144.0,606.3 145.3,607.4 146.8,608.0 M332.3,547.2 332.6,548.8 331.9,550.2 330.9,551.4 330.7,553.0 330.9,554.2 331.1,555.5 331.3,556.7 331.5,558.0 330.8,559.4 330.4,560.9 329.6,562.3 329.3,563.8 328.9,565.0 329.7,566.0 330.3,566.9 330.7,568.0 331.7,569.6 332.9,571.0 333.5,572.8 334.0,574.7 334.9,576.3 335.3,578.2 336.3,579.7 337.3,581.3 338.0,583.5 339.3,585.4 340.7,587.3 340.7,589.7 341.0,591.5 342.2,593.1 343.8,594.3 344.0,596.3 345.8,597.5 347.2,599.0 349.5,599.4 350.7,601.3 351.9,602.5 353.5,603.1 354.5,604.3 355.7,605.5 356.7,606.5 357.9,607.1 358.3,608.4 359.0,609.7 358.9,611.8 358.6,613.9 359.3,615.9 359.3,618.0 359.0,620.5 359.0,623.0 358.9,625.5 359.0,628.0 358.9,630.5 358.3,633.0 357.6,635.5 357.3,638.0 357.4,640.6 356.9,643.1 356.7,645.6 355.7,648.0 354.4,650.5 355.4,653.1 354.6,655.5 354.0,658.0 353.3,660.6 353.9,663.1 352.6,665.4 352.3,668.0 352.7,670.6 352.0,673.1 351.8,675.7 350.7,678.0 349.5,679.9 349.6,682.1 349.2,684.2 349.8,686.3 349.6,688.0 349.1,689.6 349.1,691.3 349.0,693.0 M424.0,628.0 423.5,630.2 422.9,632.4 421.2,633.9 419.0,634.7 418.2,636.3 418.1,638.1 417.7,639.9 416.5,641.3 415.3,642.9 414.3,644.6 413.2,646.2 412.3,648.0 411.4,649.2 410.7,650.5 409.8,651.8 409.0,653.0 407.8,654.3 406.3,655.3 405.3,656.8 404.0,658.0 402.9,658.6 401.9,659.2 401.1,660.2 400.7,661.3 399.2,661.5 397.8,662.2 396.3,661.6 394.8,662.2 394.0,661.6 393.1,660.9 392.5,660.1 391.5,659.7 391.6,660.9 391.8,662.2 391.6,663.5 392.3,664.7 392.7,665.7 393.5,666.4 394.0,667.3 394.8,668.0 394.1,668.9 393.4,669.8 393.0,671.0 393.2,672.2 392.1,672.9 390.8,673.0 389.7,673.6 389.0,674.7 387.1,674.4 385.7,675.8 384.0,675.9 382.3,676.3 381.9,677.7 381.1,678.9 379.9,679.8 379.8,681.3 378.4,680.8 377.3,679.7 376.2,680.2 375.4,681.0 374.8,682.1 374.0,683.0 374.0,684.3 374.4,685.5 374.6,686.7 374.8,688.0 373.9,689.1 372.9,690.1 372.7,691.6 373.2,693.0 M408.2,651.3 408.6,650.4 409.4,649.6 409.8,648.6 410.7,648.0 411.5,649.7 410.8,650.7 410.3,651.8 409.8,652.9 409.0,653.8 M301.5,550.0 303.0,550.8 304.0,552.2 305.6,552.7 307.3,553.0 M360.2,599.7 361.1,600.7 362.3,601.3 362.7,603.0 361.8,602.2 360.7,601.7 360.6,600.6 360.2,599.7 M409.0,549.7 410.8,549.1 412.3,548.0 413.6,548.6 414.9,549.1 416.1,549.8 417.3,550.5 417.6,551.5 417.5,552.5 418.4,553.0 419.0,553.8 417.8,554.7 416.3,554.8 415.4,555.9 414.0,556.3 412.4,555.4 410.7,554.7 410.2,553.4 410.0,552.1 409.6,550.8 409.0,549.7 M253.2,637.5 253.8,638.0 M348.2,684.7 349.5,684.9 350.7,685.5 351.0,687.0 350.6,688.5 350.9,689.9 351.5,691.3 M423.2,553.8 424.4,555.1 425.6,556.4 427.1,557.4 429.0,557.2 430.4,558.4 432.0,559.1 433.9,559.1 435.7,558.8 437.4,559.1 439.2,558.9 440.6,560.1 442.3,560.5 443.5,561.6 444.4,562.9 445.9,563.2 447.3,563.8 448.9,564.0 450.3,564.8 451.5,565.8 452.3,567.2 452.7,568.3 453.5,569.2 454.0,570.2 454.3,571.3 454.4,572.6 454.4,573.8 453.8,575.0 454.0,576.3 453.5,577.8 453.7,579.3 452.7,580.4 451.5,581.3 451.1,582.7 450.2,583.8 449.5,585.0 449.0,586.3 447.9,587.6 446.7,588.7 445.5,589.8 444.8,591.3 444.1,592.9 444.2,594.7 443.7,596.4 443.2,598.0 442.9,600.3 441.4,602.0 442.6,604.0 442.3,606.3 442.0,608.1 441.2,609.6 441.1,611.3 440.7,613.0 440.4,614.9 439.5,616.6 438.4,618.1 437.3,619.7 436.1,620.7 434.5,621.4 433.4,622.6 432.3,623.8 431.0,624.1 429.7,624.6 428.4,625.1 427.3,626.0 425.6,626.0 424.0,626.7 M571.5,548.0 571.9,549.6 572.0,551.3 572.0,553.0 572.3,554.7 572.7,556.1 573.8,557.1 573.9,558.5 574.8,559.7 575.8,560.4 576.6,561.3 577.1,562.4 578.2,563.0 579.4,563.3 580.2,564.3 580.9,565.3 581.5,566.3 582.5,567.8 582.8,569.6 583.2,571.2 583.2,573.0 583.5,575.1 584.4,577.1 585.3,579.1 584.8,581.3 585.0,583.5 585.3,585.6 584.4,587.5 584.0,589.7 582.9,591.6 581.9,593.6 581.5,595.8 581.5,598.0 580.9,599.6 580.5,601.3 579.9,602.9 579.8,604.7 580.1,606.0 580.7,607.1 580.9,608.5 581.5,609.7 581.4,612.0 582.6,614.1 583.9,615.9 584.8,618.0 585.2,620.3 585.3,622.6 587.0,624.3 588.2,626.3 588.9,628.4 589.7,630.5 590.9,632.5 591.5,634.7 592.3,636.7 592.3,638.8 592.5,641.0 593.2,643.0 593.6,645.1 594.3,647.2 594.9,649.3 595.7,651.3 596.1,653.0 596.6,654.6 597.4,656.2 597.3,658.0 598.4,659.0 598.7,660.3 599.5,661.5 600.7,662.2 602.4,662.0 604.0,661.3 M565.3,548.5 566.2,549.3 M563.0,554.3 563.7,555.2 M666.5,547.2 665.8,548.9 665.1,550.5 664.0,552.1 662.3,553.0 661.5,554.5 660.2,555.5 659.2,556.8 658.2,558.0 656.5,559.1 655.8,561.0 654.8,562.7 654.8,564.7 654.3,565.9 654.4,567.2 654.3,568.4 654.0,569.7 654.0,571.6 653.2,573.4 654.4,574.9 655.7,576.3 656.5,578.3 656.6,580.5 657.3,582.5 657.7,584.7 658.7,587.1 659.0,589.7 657.6,592.0 657.3,594.7 656.1,596.1 655.5,597.8 655.8,599.7 654.8,601.3 653.3,602.3 653.1,604.1 652.4,605.8 650.7,606.3 649.2,607.4 647.8,608.5 646.8,609.9 645.7,611.3 643.9,611.7 642.6,612.9 642.8,614.6 642.7,616.3 642.1,617.5 641.6,618.7 641.6,620.1 642.0,621.3 642.8,622.7 643.1,624.2 643.6,625.7 644.0,627.2 642.8,627.9 641.7,628.6 641.8,630.0 641.5,631.3 640.5,632.4 639.9,633.6 638.8,634.6 637.3,634.7 637.3,636.0 637.5,637.4 636.8,638.5 636.0,639.7 636.1,641.4 635.5,643.0 635.4,644.7 635.7,646.3 634.7,647.6 633.3,648.4 632.5,649.7 632.3,651.3 630.8,652.2 629.5,653.5 628.4,654.9 627.3,656.3 625.9,657.9 623.9,657.5 622.1,658.2 620.7,659.3 618.5,659.6 616.3,659.1 614.3,660.0 612.3,661.0 610.4,662.1 608.2,662.4 606.2,661.4 604.0,661.7 M681.5,589.7 681.6,591.2 681.8,592.7 682.6,594.1 683.2,595.5 683.2,597.4 682.6,599.2 682.1,601.1 682.3,603.0 681.7,605.0 681.0,607.1 680.4,609.2 680.3,611.3 679.8,613.4 679.2,615.5 679.1,617.7 678.2,619.7 677.8,621.9 676.4,623.6 676.5,625.8 676.5,628.0 675.7,629.2 674.4,629.8 674.3,631.2 673.2,632.2 671.9,632.5 670.7,632.7 669.4,632.6 668.2,633.0 666.7,632.2 666.6,630.6 665.6,629.5 665.3,628.0 665.2,626.2 664.3,624.8 664.4,623.0 664.3,621.3 663.3,619.6 664.3,617.9 665.0,616.3 665.7,614.7 665.9,613.0 666.5,611.4 666.2,609.6 667.0,608.0 667.1,606.7 666.7,605.5 667.0,604.2 667.3,603.0 668.9,601.9 670.7,601.3 671.5,600.2 672.4,599.2 673.4,598.3 674.8,598.0 675.8,596.7 677.1,595.9 677.7,594.5 678.2,593.0 678.9,592.1 679.8,591.3 680.7,590.6 681.5,589.7 M634.0,551.3 635.1,551.2 636.2,550.9 637.1,550.1 638.2,549.7 639.0,550.3 639.6,551.2 640.1,552.1 640.7,553.0 639.6,553.9 639.8,555.3 638.9,556.2 638.2,557.2 636.5,556.7 634.8,556.3 635.2,555.1 635.0,553.7 634.3,552.6 634.0,551.3 M627.3,559.7 627.7,561.3 628.0,563.0 628.5,564.7 629.0,566.3 629.0,568.6 628.5,570.8 629.3,572.9 630.7,574.7 631.6,575.3 632.1,576.2 632.6,577.1 633.2,578.0 632.3,576.9 632.2,575.6 631.6,574.3 631.5,573.0 631.8,570.8 631.1,568.8 631.4,566.4 629.8,564.7 629.5,563.4 629.5,562.1 629.1,560.9 628.7,559.7 M639.8,581.3 639.7,583.1 640.3,584.8 640.8,586.4 641.5,588.0 641.9,590.1 642.4,592.2 642.8,594.4 643.7,596.3 644.1,597.5 644.2,598.8 644.0,600.1 644.0,601.3 643.7,600.0 642.7,599.0 642.3,597.7 642.3,596.3 641.5,594.3 641.1,592.2 640.0,590.2 640.3,588.0 640.5,586.3 640.6,584.6 640.6,582.9 639.8,581.3 M621.5,645.5 622.4,644.9 623.4,644.3 624.1,643.5 624.8,642.7 626.1,643.8 627.7,644.7 626.8,646.4 625.7,648.0 624.2,648.6 622.7,648.8 621.7,647.3 621.5,645.5 M631.5,634.7 632.6,633.8 634.0,633.3 634.4,634.8 634.8,636.3 633.9,637.2 632.7,637.7 631.6,636.4 631.5,634.7 M696.7,564.3 697.5,565.0 M673.2,580.2 674.0,580.8 M664.5,586.8 665.3,587.5 M667.0,589.3 667.8,590.0 M669.5,591.3 670.3,592.0 M697.0,618.0 697.8,618.7 M702.8,615.2 703.7,615.8 M745.0,548.5 745.8,549.2 M745.3,551.3 746.2,552.0 M854.0,621.3 853.9,623.0 854.2,624.7 854.6,626.3 854.8,628.0 854.9,629.6 854.6,631.1 853.5,632.3 853.2,633.8 854.3,635.5 855.5,637.2 855.7,639.3 855.7,641.3 855.3,643.1 855.7,644.9 857.1,646.1 857.3,648.0 857.7,650.1 857.9,652.2 858.7,654.2 859.0,656.3 859.4,657.6 860.0,658.8 860.1,660.1 860.7,661.3 862.1,660.7 863.6,660.9 864.6,662.0 865.7,663.0 867.1,661.9 869.0,662.0 870.7,661.9 872.3,661.3 874.2,660.8 875.6,659.5 877.3,658.8 879.0,658.0 879.9,656.8 881.1,656.0 882.5,655.6 884.0,655.5 885.8,654.0 887.6,652.4 889.9,653.3 892.3,653.0 894.6,652.8 896.8,653.7 899.1,653.1 900.7,651.3 902.4,651.2 904.1,651.8 905.6,652.6 907.3,653.0 909.0,653.9 910.8,654.5 912.1,656.0 912.3,658.0 913.3,659.2 913.9,660.5 915.0,661.7 915.7,663.0 915.8,661.2 916.6,659.6 917.2,657.9 918.2,656.3 918.2,658.0 918.2,659.7 918.5,661.4 919.0,663.0 917.9,664.5 917.3,666.3 918.4,666.1 919.4,665.4 920.5,665.2 921.5,664.7 922.4,665.9 923.7,666.7 923.6,668.2 924.0,669.7 925.5,670.3 927.0,670.5 928.0,671.8 929.0,673.0 929.9,674.2 930.9,675.4 932.5,675.7 934.0,675.5 935.1,674.7 936.4,674.1 937.7,673.4 939.0,673.0 940.3,673.5 941.5,674.2 942.9,674.7 944.0,675.5 945.4,675.3 946.9,675.0 948.0,674.1 949.0,673.0 950.2,672.0 951.1,670.8 951.9,669.5 952.3,668.0 953.1,666.2 954.5,664.9 954.8,663.1 955.7,661.3 956.1,659.6 957.2,658.1 957.5,656.3 958.2,654.7 958.7,652.5 958.4,650.3 959.7,648.5 960.3,646.3 961.5,644.4 962.1,642.3 960.8,640.3 961.0,638.0 960.7,636.1 960.0,634.3 960.0,632.4 959.8,630.5 959.3,628.7 958.1,627.3 956.9,626.0 955.7,624.7 955.3,622.5 954.1,620.6 952.2,619.6 950.7,618.0 950.4,616.0 950.1,614.1 948.2,613.2 947.3,611.3 945.5,609.7 944.9,607.4 944.0,605.2 943.2,603.0 943.1,601.0 942.8,599.0 940.8,598.2 939.8,596.3 939.8,594.5 939.1,592.9 937.9,591.6 936.5,590.5 935.7,589.2 935.3,587.7 934.1,586.7 933.2,585.5 932.0,586.6 931.3,588.1 930.8,589.7 930.7,591.3 929.8,593.3 929.0,595.3 929.0,597.5 929.0,599.7 928.9,601.2 929.0,602.8 928.3,604.2 927.3,605.5 925.7,606.1 924.0,606.3 923.0,605.4 921.9,604.7 920.9,603.8 919.8,603.0 918.9,602.1 917.8,601.3 916.8,600.4 915.7,599.7 915.7,598.3 915.3,597.0 914.8,595.7 914.0,594.7 914.0,593.2 914.3,591.7 915.4,590.6 916.5,589.7 915.0,589.6 913.6,589.2 912.2,588.4 910.7,588.8 908.9,588.0 907.7,586.6 905.9,587.0 904.0,587.2 902.7,587.3 901.5,587.3 900.2,587.4 899.0,588.0 899.6,589.8 900.7,591.3 900.1,592.8 899.7,594.3 898.0,594.8 897.3,596.3 896.3,596.7 895.2,597.0 894.0,597.1 893.2,598.0 892.0,597.4 890.8,597.9 889.7,597.3 889.0,596.3 887.6,597.5 886.8,599.1 885.1,599.8 884.0,601.3 883.7,603.0 883.5,604.6 882.2,605.7 880.7,606.3 880.6,604.6 879.8,603.0 878.7,604.2 877.3,605.1 876.6,606.6 875.7,608.0 874.8,609.4 873.3,610.3 871.8,610.9 870.7,612.2 868.9,612.5 867.1,612.7 865.6,613.8 864.0,614.7 862.8,615.6 861.3,615.5 859.8,615.9 859.0,617.2 857.6,618.0 856.4,619.1 855.5,620.5 854.0,621.3 M938.2,681.3 939.5,681.6 940.6,682.2 941.9,682.3 943.2,682.2 944.4,681.6 945.6,681.1 946.9,680.8 948.2,680.5 948.4,681.6 948.4,682.6 948.4,683.7 949.0,684.7 948.3,685.9 947.7,687.1 946.9,688.3 946.5,689.7 945.4,689.5 944.3,689.4 943.2,689.8 942.3,690.5 941.2,689.7 940.2,688.8 939.8,687.5 939.0,686.3 938.2,685.2 938.3,683.9 938.6,682.6 938.2,681.3 M814.8,547.2 816.8,547.9 817.1,549.9 818.4,551.3 819.0,553.0 820.2,554.7 821.8,556.1 822.7,558.0 824.0,559.7 824.8,561.6 826.5,562.6 828.2,563.7 829.0,565.5 830.2,566.1 831.2,567.0 832.6,567.5 833.2,568.8 832.9,567.3 832.9,565.8 834.0,564.6 834.0,563.0 834.1,561.7 834.3,560.4 833.4,559.4 833.2,558.0 832.3,556.5 830.9,555.6 829.8,554.4 829.0,553.0 828.6,551.5 827.6,550.3 826.4,549.4 825.7,548.0 M833.2,569.7 834.7,571.0 836.7,571.7 838.6,572.2 840.7,572.2 843.1,573.2 845.4,574.3 848.0,575.2 850.7,574.7 852.8,575.6 854.5,577.1 856.7,577.5 859.0,577.2 861.1,577.3 863.2,577.4 865.3,577.7 867.3,578.0 867.0,576.4 865.7,575.5 863.6,575.1 861.4,575.2 859.2,575.2 857.3,573.8 855.2,573.3 853.2,572.5 851.1,571.9 849.0,571.3 846.9,570.7 844.9,569.9 842.9,569.1 840.7,568.8 839.1,568.0 837.4,568.2 835.7,567.7 834.0,568.0 833.2,569.7 M869.0,578.0 870.7,577.8 872.3,577.5 874.0,577.5 875.7,577.2 877.8,577.1 879.9,577.0 882.0,577.1 884.0,577.7 885.3,577.8 886.6,577.5 888.0,577.6 889.0,576.7 888.1,577.9 886.7,578.1 885.4,578.7 884.0,578.8 882.3,580.3 880.0,580.5 877.9,579.7 875.7,579.7 874.0,579.9 872.3,580.2 870.7,579.7 869.0,579.3 869.0,578.0 M879.8,583.8 880.8,582.9 882.1,582.4 883.2,581.6 884.0,580.5 885.4,579.7 887.0,579.5 888.7,579.2 889.8,578.0 889.2,579.4 888.2,580.5 887.3,581.9 886.2,583.0 884.6,583.2 883.2,583.8 881.5,584.4 879.8,585.0 879.8,583.8 M869.8,581.0 871.5,581.5 873.2,582.2 M839.0,547.2 839.9,549.0 840.5,551.0 841.3,552.9 842.3,554.7 843.7,556.0 844.2,557.8 845.6,559.0 847.3,559.7 849.0,560.2 850.6,560.7 852.3,560.1 854.0,560.5 855.4,560.7 856.6,561.6 857.8,562.2 859.0,563.0 859.7,561.6 860.2,560.2 861.2,559.0 862.3,558.0 862.4,556.2 861.4,554.7 861.4,553.0 861.5,551.3 862.5,550.5 863.2,549.5 863.5,548.3 864.0,547.2 M869.0,563.0 869.7,561.4 870.3,559.8 870.6,558.1 870.7,556.3 871.5,555.6 872.6,555.2 872.8,554.1 873.2,553.0 874.3,553.2 875.4,553.1 876.3,552.5 877.3,552.2 876.6,552.9 875.9,553.7 875.5,554.7 874.8,555.5 874.6,556.5 874.2,557.5 874.0,558.6 874.0,559.7 875.7,559.0 877.3,558.0 877.8,559.3 878.2,560.7 879.2,561.7 879.8,563.0 879.2,563.9 879.2,565.0 879.1,566.1 879.0,567.2 878.3,566.2 877.8,565.1 877.3,563.9 876.5,563.0 875.2,563.7 874.0,564.7 872.9,566.2 872.3,568.0 871.0,567.9 869.8,567.2 869.5,566.2 869.3,565.1 869.2,564.0 869.0,563.0 M889.0,560.5 890.3,559.8 891.6,560.5 892.7,560.0 894.0,559.7 895.3,559.6 896.6,559.6 897.8,560.1 899.0,560.5 897.5,561.8 895.7,562.2 894.6,561.2 893.2,560.9 892.0,561.7 890.7,562.2 889.7,561.5 889.0,560.5 M884.0,555.5 885.6,556.2 887.3,556.0 M900.7,553.0 902.5,552.5 904.0,551.3 905.4,551.7 906.3,552.7 907.7,552.6 909.0,553.0 908.0,554.6 907.3,556.3 908.4,556.9 909.1,557.9 909.8,558.8 910.7,559.7 912.5,558.9 914.6,559.1 915.7,557.5 917.3,556.3 919.4,555.8 921.5,555.8 923.5,555.2 925.7,555.5 927.9,555.6 930.2,555.5 932.3,556.4 934.0,558.0 936.0,559.1 937.8,560.6 940.2,560.2 942.3,561.3 944.4,562.3 946.6,561.9 948.8,561.9 950.7,563.0 952.4,563.1 954.1,562.4 955.5,561.2 957.3,561.3 958.0,562.2 959.0,562.5 959.9,563.1 960.7,563.8 959.4,564.5 958.4,565.6 957.2,566.6 955.7,566.3 954.1,567.1 952.5,567.9 950.7,567.7 949.0,568.0 948.3,569.0 947.7,570.0 946.7,570.8 945.7,571.3 946.4,572.7 947.4,573.8 947.9,575.3 949.0,576.3 949.5,577.6 950.5,578.6 951.5,579.5 952.3,580.5 952.8,581.5 953.8,582.0 954.9,582.3 955.7,583.0 954.3,582.6 953.2,583.4 952.0,582.9 950.7,583.0 949.6,582.4 948.7,581.6 948.2,580.5 947.3,579.7 946.3,578.6 945.3,577.4 944.7,576.0 944.0,574.7 942.8,574.2 941.5,573.9 940.3,573.4 939.0,573.0 937.5,573.5 935.9,573.8 934.4,574.7 934.0,576.3 933.1,578.0 932.3,579.7 931.1,579.5 929.8,579.2 928.6,579.0 927.3,578.8 926.1,578.0 924.7,577.8 923.3,577.5 922.3,576.3 921.0,576.2 919.8,575.5 920.5,574.2 920.1,572.8 921.2,572.1 922.3,571.3 921.5,570.4 920.5,569.9 919.5,569.1 919.0,568.0 917.9,567.4 916.7,567.0 915.8,566.0 915.7,564.7 914.6,563.6 913.3,562.7 912.1,561.9 910.7,561.3 909.0,561.8 907.3,561.3 906.3,559.8 905.7,558.0 904.1,556.9 902.3,556.3 901.9,554.4 900.7,553.0 M935.3,678.5 936.2,679.2 M947.0,678.5 947.8,679.2 M892.0,550.2 892.8,550.8 M898.7,551.0 899.5,551.7 M913.7,552.7 914.5,553.3 M910.3,569.3 911.2,570.0 M902.0,574.3 902.8,575.0 M894.5,572.7 895.3,573.3 M898.7,575.2 899.5,575.8 M814.5,554.3 815.3,555.0 M959.5,578.5 960.3,579.2 M943.7,556.0 944.5,556.7 M950.3,554.3 951.2,555.0 M853.7,572.7 854.5,573.3 M858.7,571.8 859.5,572.5 M871.2,581.0 872.0,581.7 M965.0,566.3 966.3,567.5 967.5,568.9 968.6,570.3 970.0,571.3 970.9,572.1 971.6,573.1 972.6,573.7 973.3,574.7 M975.0,573.0 976.4,574.2 977.9,575.1 978.8,576.7 980.0,578.0 980.6,578.8 981.3,579.5 982.3,579.6 983.3,579.7 M980.0,580.5 981.4,581.1 982.7,581.9 984.0,582.7 985.0,583.8 M971.7,575.5 973.0,576.7 974.2,578.0 M996.7,597.7 997.4,598.5 998.0,599.5 998.6,600.4 999.2,601.3 1000.8,601.0 M990.0,615.5 990.6,616.5 991.7,617.2 992.6,617.9 993.3,618.8 994.2,619.9 995.4,620.5 996.5,621.3 997.5,622.2 996.7,623.0 995.4,622.5 994.7,621.4 993.6,620.7 992.5,620.0 991.5,619.4 991.0,618.4 990.7,617.3 990.0,616.3 990.0,615.5 M1025.8,607.2 1026.7,606.6 1027.5,606.0 1028.3,606.6 1029.2,607.2 1028.6,608.1 1028.0,609.0 1026.2,608.3 1025.8,607.2 M1030.0,603.8 1031.6,603.4 1033.0,602.7 M1013.3,661.3 1013.8,663.0 1015.4,663.6 1015.9,665.0 1016.7,666.3 1016.5,667.7 1017.2,668.8 1018.1,669.7 1019.2,670.5 1019.4,671.5 1019.6,672.6 1019.7,673.6 1020.0,674.7 1020.9,673.7 1022.1,673.4 1023.1,672.7 1024.2,672.2 1025.1,671.5 1026.2,671.4 1027.3,671.6 1028.3,671.3 1028.5,672.7 1027.8,673.9 1027.4,675.2 1026.7,676.3 1025.7,677.2 1024.7,678.2 1023.5,678.8 1022.5,679.7 1021.7,680.6 1021.2,681.7 1021.2,683.2 1020.0,683.8 1019.0,684.1 1018.2,684.8 1017.5,685.7 1016.7,686.3 1016.1,685.1 1015.5,683.9 1015.8,682.5 1015.0,681.3 1014.7,679.9 1015.0,678.6 1016.1,677.7 1016.7,676.3 1017.1,675.1 1017.0,673.8 1017.0,672.5 1017.5,671.3 1016.8,670.4 1016.2,669.3 1015.4,668.3 1015.0,667.2 1014.2,665.8 1014.1,664.3 1013.9,662.7 1013.3,661.3 M1015.0,682.2 1014.4,683.4 1014.0,684.8 1012.9,685.6 1011.7,686.3 1010.9,687.3 1010.4,688.4 1009.2,688.8 1008.3,689.7 1006.9,690.3 1005.6,691.0 1004.4,691.9 1003.3,693.0 M1016.7,687.2 1015.5,688.3 1015.0,689.9 1014.6,691.4 1015.0,693.0 M994.7,584.3 995.5,585.0 M978.8,587.7 979.7,588.3 M999.7,606.0 1000.5,606.7 M1003.0,611.0 1003.8,611.7 M1003.8,612.7 1004.7,613.3 M999.7,618.5 1000.5,619.2 M997.2,551.3 998.0,552.0 M1004.7,552.7 1005.5,553.3 M1017.2,552.3 1018.0,553.0 M1030.2,577.7 1031.0,578.3 M64.0,802.8 66.5,803.1 69.0,803.7 71.5,803.7 74.0,803.7 76.5,803.5 79.0,803.7 81.5,803.9 84.0,804.0 86.5,803.7 89.0,803.5 91.5,803.7 94.0,804.0 96.5,803.9 99.0,803.3 101.5,803.3 104.0,803.3 106.1,803.2 108.2,803.0 110.3,802.6 112.3,802.0 114.5,801.7 116.6,802.3 118.6,801.8 120.7,801.2 121.5,799.5 123.8,799.6 126.1,799.9 128.4,799.5 130.7,799.5 132.8,799.6 134.8,799.4 136.9,799.5 139.0,799.5 140.7,799.0 142.4,798.5 144.0,797.7 145.7,797.0 147.3,796.6 149.0,796.2 150.7,796.5 152.3,796.2 154.0,797.0 153.5,795.4 153.2,793.7 154.8,794.0 155.7,794.5 157.7,794.0 159.8,793.7 161.9,793.1 164.0,792.8 166.1,792.8 168.2,792.5 170.2,792.0 172.3,791.7 174.4,791.9 176.5,792.1 178.6,791.8 180.7,791.2 182.7,791.0 184.8,790.9 186.9,790.4 189.0,790.7 191.1,790.7 193.2,790.1 195.3,789.8 197.3,789.5 199.4,789.3 201.5,789.1 203.6,788.6 205.7,788.3 206.8,787.8 208.1,787.5 209.4,787.3 210.7,787.0 212.3,787.4 214.0,787.8 216.1,787.9 218.2,787.9 220.2,788.6 222.3,788.7 224.4,788.7 226.5,788.8 228.6,788.8 230.7,789.2 232.8,789.3 234.8,789.0 236.9,789.4 239.0,789.5 240.3,789.5 241.5,789.6 242.7,789.9 244.0,790.0 M72.0,691.7 72.7,692.5 M352.3,691.2 351.6,692.3 350.7,693.3 349.7,694.2 349.0,695.3 348.3,696.6 347.6,698.0 346.6,699.2 345.7,700.3 345.5,702.1 344.7,703.6 344.9,705.3 344.8,707.0 345.5,708.6 345.8,710.3 346.1,712.0 346.5,713.7 346.9,714.9 347.4,716.2 347.7,717.4 348.2,718.7 349.1,719.8 350.2,720.8 351.4,721.7 352.3,722.8 354.0,723.8 355.6,724.6 357.4,725.3 359.0,726.2 360.3,726.5 361.6,726.8 362.8,727.3 364.0,727.8 365.7,727.7 367.3,727.7 369.0,727.4 370.7,727.3 372.1,727.1 373.6,727.0 375.0,727.0 376.5,727.0 375.0,726.6 373.6,726.1 372.2,725.6 370.7,725.3 369.4,724.8 368.1,724.3 366.9,723.6 365.7,722.8 365.1,721.7 364.5,720.7 363.8,719.7 363.2,718.7 362.9,717.4 362.7,716.2 362.6,714.9 362.3,713.7 363.0,712.4 363.7,711.2 364.3,710.0 364.8,708.7 365.9,707.9 366.9,706.9 367.9,706.1 369.0,705.3 369.6,704.1 370.4,702.9 370.8,701.6 371.5,700.3 370.8,699.1 370.2,697.9 369.6,696.6 369.0,695.3 369.7,694.2 370.4,693.1 371.3,692.0 372.3,691.2 M350.7,693.7 350.0,694.9 349.5,696.2 348.8,697.4 348.2,698.7 348.4,700.0 349.0,701.2 349.2,702.5 349.8,703.7 349.3,705.0 348.4,706.1 347.9,707.4 347.3,708.7 348.0,710.4 348.8,712.1 349.6,713.8 350.7,715.3 351.4,716.6 352.4,717.8 353.1,719.2 354.0,720.3 355.6,721.4 357.4,722.3 359.1,723.3 360.7,724.5 M354.0,691.2 354.1,693.1 353.9,695.0 354.1,696.9 354.8,698.7 353.8,700.6 353.3,702.7 352.7,704.8 352.3,707.0 352.6,708.7 352.9,710.4 353.7,712.0 354.0,713.7 355.2,715.2 356.5,716.6 357.8,718.0 359.0,719.5 360.0,719.2 361.1,719.1 362.1,718.9 363.2,718.7 M359.0,719.5 360.3,719.6 361.5,720.2 362.7,720.8 364.0,721.2 364.9,722.1 366.0,722.9 367.2,723.6 368.2,724.5 M383.2,717.0 384.2,716.8 385.3,716.5 386.3,716.1 387.3,715.7 388.8,715.5 390.3,715.7 391.7,716.4 393.2,716.7 392.1,717.1 391.0,717.4 390.0,718.0 389.0,718.7 388.0,718.5 386.9,718.2 385.9,718.3 384.8,718.3 384.0,717.7 383.2,717.0 M244.0,789.5 246.5,789.8 249.0,789.5 251.5,789.9 254.0,790.3 255.6,790.8 257.3,791.3 259.0,791.7 260.7,792.0 262.8,791.9 264.8,791.4 266.9,791.3 269.0,791.2 270.7,791.2 272.4,791.4 274.0,791.6 275.7,792.0 275.6,790.7 275.4,789.5 275.2,788.2 274.8,787.0 273.7,786.2 272.7,785.5 271.8,784.4 270.7,783.7 272.3,783.4 274.0,782.9 275.6,782.9 277.3,782.8 279.8,783.0 282.3,783.0 284.8,783.1 287.3,782.8 289.0,783.4 290.7,784.0 292.7,783.8 294.8,783.8 296.9,784.0 299.0,783.7 301.9,784.2 304.8,784.5 307.7,784.8 310.7,784.5 314.9,784.5 319.0,785.3 323.2,786.1 327.3,785.3 329.7,785.2 331.9,786.1 334.2,786.2 336.5,786.7 337.8,786.0 339.0,785.3 340.3,785.2 341.5,785.0 342.8,784.7 344.0,784.5 345.8,785.0 347.4,785.8 349.1,786.5 350.7,787.3 352.3,787.2 354.0,787.0 353.7,785.3 353.2,783.7 352.1,782.3 350.7,781.2 349.4,780.9 348.0,780.7 346.8,780.2 345.7,779.5 347.5,778.9 349.0,777.8 347.7,777.4 346.4,776.7 345.3,775.9 344.0,775.3 345.7,775.4 347.4,775.1 349.0,774.6 350.7,774.5 352.3,773.7 354.0,773.2 355.7,772.7 357.3,772.0 358.3,772.7 359.4,773.3 360.5,773.8 361.5,774.5 362.2,773.5 362.7,772.4 363.3,771.3 364.0,770.3 364.8,769.7 365.8,769.2 366.5,768.5 367.3,767.8 368.4,766.6 369.6,765.5 371.1,764.7 372.3,763.7 373.7,762.9 375.0,762.3 376.3,761.5 377.3,760.3 379.0,759.6 380.6,758.5 382.4,758.1 384.0,757.0 385.7,756.7 387.4,756.2 389.0,755.5 390.7,755.0 391.7,755.4 392.7,755.8 393.8,756.0 394.8,756.2 393.8,756.6 392.7,756.9 391.7,757.4 390.7,757.8 389.9,759.0 389.0,759.9 388.2,761.0 387.3,762.0 386.4,763.5 385.9,765.2 385.7,767.0 385.3,768.7 385.5,770.8 385.4,772.8 385.6,774.9 385.7,777.0 386.3,779.0 386.7,781.1 386.7,783.2 387.0,785.3 385.9,786.5 384.9,787.7 383.9,788.9 383.2,790.3 382.7,792.0 385.3,793.5 388.3,793.8 391.1,794.7 394.0,795.3 396.5,796.1 398.9,796.8 401.4,797.6 404.0,797.8 406.0,798.6 408.1,799.0 410.2,799.6 412.3,800.0 415.2,800.9 418.1,801.2 421.0,801.1 424.0,801.2 M254.0,789.5 255.2,789.0 256.4,788.7 257.7,788.7 259.0,788.7 260.7,789.0 262.3,789.5 264.0,789.9 265.7,790.3 M265.7,786.2 267.4,786.7 269.0,787.3 M362.3,767.8 363.6,767.2 365.0,766.9 366.1,766.1 367.3,765.3 M370.7,762.8 371.9,762.0 373.0,761.0 374.3,760.2 375.7,759.5 M377.3,758.7 379.0,758.1 380.7,757.3 M385.3,752.0 386.2,752.7 M390.3,750.3 391.2,751.0 M399.5,747.5 400.3,748.2 M397.0,754.2 397.8,754.8 M303.7,772.5 304.5,773.2 M424.0,801.2 425.7,801.2 427.4,801.5 429.0,802.1 430.7,802.3 431.9,802.1 433.2,801.9 434.5,801.7 435.7,801.2 437.7,801.5 439.8,801.6 441.9,802.0 444.0,802.0 446.1,801.9 448.2,801.5 450.2,801.4 452.3,801.7 454.4,800.8 456.3,799.7 458.5,799.2 460.7,798.7 462.8,798.4 464.9,797.6 467.0,796.9 469.0,796.2 471.2,795.9 473.3,795.2 475.2,794.2 477.3,793.7 479.6,793.2 481.5,792.1 483.6,791.2 485.7,790.3 487.3,789.9 489.0,789.6 490.7,789.3 492.3,788.7 493.7,788.1 495.0,787.2 496.1,786.2 497.3,785.3 499.0,784.9 500.7,784.5 502.3,783.7 504.0,783.3 505.7,783.2 507.4,782.9 509.0,782.5 510.7,782.0 512.3,781.6 514.0,781.2 514.8,780.5 515.7,779.9 516.6,779.4 517.3,778.7 519.0,778.8 520.7,778.5 522.3,778.0 524.0,777.8 526.1,777.8 528.1,777.3 530.2,777.4 532.3,777.3 534.4,777.0 536.5,776.9 538.6,776.6 540.7,776.2 541.7,776.0 542.7,775.6 543.8,775.4 544.8,775.3 545.1,774.3 545.3,773.3 546.8,773.4 548.2,773.3 548.7,774.3 549.0,775.3 551.1,775.6 553.1,776.0 555.2,776.1 557.3,776.2 559.0,776.4 560.7,776.6 562.4,776.6 564.0,777.0 565.7,777.1 567.4,776.9 569.0,776.5 570.7,776.2 572.3,776.3 574.0,776.3 575.7,776.4 577.3,776.2 578.6,776.1 579.8,776.0 581.1,775.8 582.3,775.7 584.0,774.9 585.7,774.0 587.4,774.1 589.0,774.5 589.8,775.1 590.7,775.7 592.3,775.4 594.0,775.5 595.7,775.9 597.3,776.2 599.0,776.2 600.7,776.2 602.4,776.2 604.0,776.7 M445.3,724.0 447.1,724.6 449.0,725.0 450.5,726.2 452.0,727.3 M424.0,745.3 425.5,745.7 427.0,746.3 M477.0,738.7 477.7,739.5 M604.0,776.7 605.6,777.1 607.3,777.2 609.0,777.3 610.7,777.3 612.4,777.2 614.0,776.7 615.7,776.5 617.3,776.2 619.0,775.7 620.7,775.5 622.3,775.4 624.0,775.0 625.7,775.1 627.4,774.9 629.0,774.2 630.7,773.7 631.9,773.9 633.2,774.2 634.4,774.5 635.7,774.5 636.9,773.3 638.2,772.0 639.2,772.4 640.3,772.8 641.3,773.3 642.3,773.7 643.6,773.9 644.9,774.4 646.1,774.9 647.3,775.3 648.4,775.4 649.4,775.6 650.5,775.9 651.5,776.2 652.6,775.4 653.7,774.6 654.7,773.8 655.7,772.8 657.4,772.4 659.0,771.6 660.8,771.3 662.3,770.3 664.3,769.5 666.5,769.1 668.5,768.6 670.7,768.3 671.9,768.1 673.2,767.8 674.5,767.5 675.7,767.0 677.0,767.5 678.2,768.3 679.7,768.0 681.2,767.7 682.6,767.2 684.0,766.7 684.5,765.6 684.8,764.5 686.3,764.3 687.8,764.1 689.3,763.9 690.7,763.3 692.3,763.4 694.0,763.7 695.7,763.9 697.3,763.7 698.3,764.2 699.0,764.9 699.9,765.5 700.7,766.2 701.9,766.7 703.2,767.0 704.4,767.6 705.7,767.8 707.8,767.6 709.9,767.4 711.9,767.9 714.0,768.3 716.5,768.8 719.0,769.3 721.5,769.4 724.0,769.0 725.7,768.9 727.3,768.9 729.0,769.0 730.7,769.0 732.1,769.3 733.6,769.4 735.0,769.5 736.5,769.5 737.7,770.8 739.0,772.0 740.0,771.6 741.0,771.4 742.1,771.3 743.2,771.2 744.2,771.8 745.3,772.3 746.3,773.0 747.3,773.7 748.2,774.5 749.0,775.3 750.3,775.3 751.6,775.1 752.8,774.6 754.0,774.0 755.2,773.3 756.5,772.9 757.7,772.2 759.0,771.7 760.2,771.1 761.5,770.5 762.7,770.0 764.0,769.5 765.3,769.4 766.6,769.0 767.8,768.5 769.0,767.8 768.4,766.2 768.2,764.5 769.4,764.1 770.7,763.7 772.4,763.7 774.0,763.8 775.7,764.1 777.3,764.5 779.0,764.4 780.7,764.3 782.3,763.8 784.0,763.7 M733.7,707.3 735.3,707.6 736.5,708.7 737.6,708.4 738.7,708.3 738.1,709.6 737.3,710.7 735.8,710.3 734.3,710.0 733.7,708.7 733.7,707.3 M649.5,701.3 650.2,702.0 M784.0,763.7 785.3,764.3 786.4,765.0 787.8,765.5 789.0,766.2 791.1,765.7 793.1,765.3 795.2,765.2 797.3,765.3 799.2,765.2 801.1,765.2 803.0,764.8 804.8,764.5 805.0,763.4 805.3,762.4 805.4,761.4 805.7,760.3 807.3,760.7 809.0,761.2 810.7,761.4 812.3,762.0 813.9,762.5 815.6,762.7 817.3,762.7 819.0,762.8 820.7,762.4 822.4,761.9 824.0,761.3 825.7,760.7 827.3,761.6 829.0,762.2 830.7,762.8 832.3,763.7 834.5,764.7 836.9,764.8 839.2,765.5 841.5,766.2 843.0,765.6 844.5,764.9 845.9,764.0 847.3,763.3 848.6,763.0 849.8,762.8 851.1,762.5 852.3,762.3 853.8,763.4 855.5,764.1 857.3,764.7 859.0,765.3 861.1,765.8 863.2,765.8 865.2,766.2 867.3,766.2 869.2,765.9 871.1,766.1 873.0,765.9 874.8,765.3 874.5,764.1 874.0,762.8 875.6,763.7 877.3,764.5 879.0,764.9 880.7,765.3 882.4,764.6 884.0,763.7 886.0,764.6 888.1,765.2 890.2,765.8 892.3,766.2 893.6,766.0 894.8,766.0 896.1,766.2 897.3,766.2 898.0,764.7 899.0,763.3 901.9,763.9 904.8,764.0 907.7,763.5 910.7,763.3 911.1,761.8 911.5,760.3 912.3,761.8 913.2,763.3 915.5,763.7 917.8,763.9 920.2,764.3 922.3,765.3 924.5,765.2 926.6,764.9 928.7,765.3 930.7,766.2 933.2,766.5 935.6,766.8 938.2,767.0 940.7,767.0 942.0,767.8 943.3,768.5 944.4,769.5 945.7,770.3 947.7,770.9 949.8,771.4 951.9,771.2 954.0,771.2 956.5,771.4 959.0,771.5 961.5,771.8 964.0,771.7 M950.0,770.3 952.9,770.6 955.8,770.8 958.8,770.8 961.7,771.2 963.8,771.4 966.0,771.6 968.0,772.4 970.0,773.3 972.1,774.0 974.2,774.1 976.4,774.4 978.3,775.3 980.3,776.2 982.5,776.7 984.6,777.1 986.7,777.8 988.8,777.9 990.8,778.1 992.9,777.6 995.0,777.8 997.0,778.5 999.1,778.8 1001.3,779.1 1003.3,779.5 1004.2,780.0 1005.1,780.7 1005.9,781.3 1006.7,782.0 1005.8,783.7 1005.0,785.3 1003.8,786.0 1002.5,786.6 1001.2,787.2 1000.0,787.8 998.3,788.3 996.6,788.8 995.0,789.6 993.3,790.3 992.1,791.0 990.9,791.7 989.6,792.3 988.3,792.8 987.6,793.6 986.9,794.4 986.4,795.3 985.8,796.2 986.7,797.8 987.5,799.5 988.4,800.4 989.5,800.8 990.6,801.4 991.7,802.0 992.7,801.6 993.8,801.2 994.8,800.6 995.8,800.0 998.5,800.0 1001.3,800.0 1004.0,800.3 1006.7,800.3 1010.0,800.7 1013.3,801.1 1016.6,801.5 1020.0,801.7 1023.3,802.0 1026.7,802.2 1030.0,802.8 1033.3,803.3 M1000.0,691.2 999.4,692.2 998.8,693.3 998.1,694.2 997.5,695.3 997.2,697.0 997.0,698.7 997.8,699.5 998.4,700.4 999.3,701.1 1000.0,702.0 1001.0,701.5 1002.0,701.2 1003.1,700.9 1004.2,700.7 1005.2,699.8 1006.3,698.9 1007.3,698.0 1008.3,697.0 1008.9,696.0 1009.3,695.0 1009.7,693.9 1010.0,692.8 1011.5,691.7 1013.3,691.2 M994.7,713.3 995.3,714.0 M990.2,767.8 990.8,768.5 M293.2,390.9 294.5,391.8 295.9,392.5 297.2,393.3 298.7,393.7 300.1,394.4 301.6,394.4 303.2,394.7 304.3,395.8 305.7,394.9 307.1,394.1 308.5,393.3 309.8,392.3 311.1,393.1 312.5,393.5 314.0,393.6 315.4,393.0 316.2,394.0 317.3,394.7 318.5,395.1 319.6,395.8 320.0,397.6 320.9,399.3 319.9,399.3 318.8,399.4 317.8,398.9 316.8,398.6 315.4,398.8 314.0,399.1 312.6,399.1 311.2,399.3 310.0,398.5 308.5,398.2 307.1,398.4 305.7,397.9 304.2,398.3 302.9,399.3 301.8,399.3 300.7,399.6 299.8,398.8 298.7,398.6 298.1,397.6 297.3,396.8 296.9,395.8 295.9,395.1 295.6,393.8 295.4,392.5 294.3,391.7 293.2,390.9 M313.3,404.8 313.4,406.3 313.8,407.7 313.3,409.1 312.6,410.4 312.8,411.5 313.0,412.6 313.4,413.6 314.0,414.6 315.4,414.3 316.8,413.9 317.2,412.7 317.7,411.5 317.9,410.2 317.5,409.0 317.1,407.9 317.4,406.9 317.1,405.9 316.8,404.8 317.7,403.4 318.9,402.1 317.5,402.1 316.1,402.1 315.9,403.1 315.1,403.8 314.2,404.4 313.3,404.8 M320.9,400.7 322.1,400.7 323.0,401.3 323.9,402.1 325.1,402.1 326.6,402.0 327.8,401.0 329.2,401.6 330.7,401.4 331.1,402.4 332.0,403.2 332.8,403.9 333.4,404.8 332.3,405.0 331.3,405.5 330.3,405.8 329.3,406.2 328.8,407.4 328.2,408.5 327.4,409.5 326.5,410.4 325.7,412.1 325.1,413.9 324.4,412.7 323.7,411.4 323.1,410.2 322.3,409.0 322.8,408.0 322.9,406.9 323.0,405.7 323.7,404.8 323.3,403.6 322.3,402.7 321.5,401.8 320.9,400.7 M325.1,415.2 326.5,414.8 327.8,414.1 329.3,413.6 330.7,413.2 332.4,412.5 334.1,411.7 335.8,411.0 337.6,410.4 338.5,409.6 339.5,409.1 340.7,409.2 341.8,409.0 340.3,410.3 339.0,411.8 337.2,412.5 335.5,413.5 333.8,414.5 332.1,415.2 330.3,415.5 328.6,415.7 326.8,415.4 325.1,415.9 325.1,415.2 M339.0,407.6 340.5,407.6 341.8,407.1 343.0,406.2 344.6,406.2 345.8,406.5 347.0,406.0 348.2,405.7 349.4,405.5 347.8,406.5 347.3,408.3 346.0,408.7 344.5,408.5 343.2,408.9 341.8,409.0 340.4,408.3 339.0,407.6 M243.9,415.9 245.2,416.7 246.6,417.3 245.9,418.7 244.9,418.0 243.9,417.3 243.9,415.9" fill="none" stroke="#000" stroke-width="1.25" stroke-linejoin="round" stroke-linecap="round"/>
</g>
<rect x="63.7" y="259.7" width="969.3" height="580.8" fill="none" stroke="#3a3a3a" stroke-width="1.5"/>
<line x1="59.5" y1="259.7" x2="63.2" y2="259.7" stroke="#ccc" stroke-width="1"/>
<text x="54.5" y="264.2" font-size="12.5" text-anchor="end" fill="#444">90N</text>
<line x1="59.5" y1="356.5" x2="63.2" y2="356.5" stroke="#ccc" stroke-width="1"/>
<text x="54.5" y="361.0" font-size="12.5" text-anchor="end" fill="#444">60N</text>
<line x1="59.5" y1="453.3" x2="63.2" y2="453.3" stroke="#ccc" stroke-width="1"/>
<text x="54.5" y="457.8" font-size="12.5" text-anchor="end" fill="#444">30N</text>
<line x1="59.5" y1="550.1" x2="63.2" y2="550.1" stroke="#ccc" stroke-width="1"/>
<text x="54.5" y="554.6" font-size="12.5" text-anchor="end" fill="#444">0</text>
<line x1="59.5" y1="646.9" x2="63.2" y2="646.9" stroke="#ccc" stroke-width="1"/>
<text x="54.5" y="651.4" font-size="12.5" text-anchor="end" fill="#444">30S</text>
<line x1="59.5" y1="743.7" x2="63.2" y2="743.7" stroke="#ccc" stroke-width="1"/>
<text x="54.5" y="748.2" font-size="12.5" text-anchor="end" fill="#444">60S</text>
<line x1="59.5" y1="840.5" x2="63.2" y2="840.5" stroke="#ccc" stroke-width="1"/>
<text x="54.5" y="845.0" font-size="12.5" text-anchor="end" fill="#444">90S</text>
<line x1="63.7" y1="841" x2="63.7" y2="844.5" stroke="#ccc" stroke-width="1"/>
<text x="63.7" y="859.7" font-size="12" text-anchor="middle" fill="#444">180</text>
<line x1="184.9" y1="841" x2="184.9" y2="844.5" stroke="#ccc" stroke-width="1"/>
<text x="184.9" y="859.7" font-size="12" text-anchor="middle" fill="#444">135W</text>
<line x1="306.0" y1="841" x2="306.0" y2="844.5" stroke="#ccc" stroke-width="1"/>
<text x="306.0" y="859.7" font-size="12" text-anchor="middle" fill="#444">90W</text>
<line x1="427.2" y1="841" x2="427.2" y2="844.5" stroke="#ccc" stroke-width="1"/>
<text x="427.2" y="859.7" font-size="12" text-anchor="middle" fill="#444">45W</text>
<line x1="548.4" y1="841" x2="548.4" y2="844.5" stroke="#ccc" stroke-width="1"/>
<text x="548.4" y="859.7" font-size="12" text-anchor="middle" fill="#444">0E</text>
<line x1="669.5" y1="841" x2="669.5" y2="844.5" stroke="#ccc" stroke-width="1"/>
<text x="669.5" y="859.7" font-size="12" text-anchor="middle" fill="#444">45E</text>
<line x1="790.7" y1="841" x2="790.7" y2="844.5" stroke="#ccc" stroke-width="1"/>
<text x="790.7" y="859.7" font-size="12" text-anchor="middle" fill="#444">270E</text>
<line x1="911.8" y1="841" x2="911.8" y2="844.5" stroke="#ccc" stroke-width="1"/>
<text x="911.8" y="859.7" font-size="12" text-anchor="middle" fill="#444">315E</text>
<line x1="1033.0" y1="841" x2="1033.0" y2="844.5" stroke="#ccc" stroke-width="1"/>
<text x="1033.0" y="859.7" font-size="12" text-anchor="middle" fill="#444">180</text>
<rect x="66.30" y="876.9" width="28.65" height="17.8" fill="#fff0f3"/>
<rect x="94.65" y="876.9" width="28.65" height="17.8" fill="#ebd6f0"/>
<rect x="123.01" y="876.9" width="28.65" height="17.8" fill="#d9bfea"/>
<rect x="151.36" y="876.9" width="28.65" height="17.8" fill="#c4a3e6"/>
<rect x="179.71" y="876.9" width="28.65" height="17.8" fill="#b08be0"/>
<rect x="208.06" y="876.9" width="28.65" height="17.8" fill="#7b6ac8"/>
<rect x="236.42" y="876.9" width="28.65" height="17.8" fill="#5a4fb8"/>
<rect x="264.77" y="876.9" width="28.65" height="17.8" fill="#3535a0"/>
<rect x="293.12" y="876.9" width="28.65" height="17.8" fill="#101c8c"/>
<rect x="321.48" y="876.9" width="28.65" height="17.8" fill="#3c55b4"/>
<rect x="349.83" y="876.9" width="28.65" height="17.8" fill="#5c8dd6"/>
<rect x="378.18" y="876.9" width="28.65" height="17.8" fill="#8cc6f8"/>
<rect x="406.54" y="876.9" width="28.65" height="17.8" fill="#a6d4fa"/>
<rect x="434.89" y="876.9" width="28.65" height="17.8" fill="#bcdefb"/>
<rect x="463.24" y="876.9" width="28.65" height="17.8" fill="#d2e9fc"/>
<rect x="491.59" y="876.9" width="28.65" height="17.8" fill="#e9f4fe"/>
<rect x="519.95" y="876.9" width="28.65" height="17.8" fill="#ffffff"/>
<rect x="548.30" y="876.9" width="28.65" height="17.8" fill="#ffffff"/>
<rect x="576.65" y="876.9" width="28.65" height="17.8" fill="#ffecd9"/>
<rect x="605.01" y="876.9" width="28.65" height="17.8" fill="#ffd0a0"/>
<rect x="633.36" y="876.9" width="28.65" height="17.8" fill="#ffb46c"/>
<rect x="661.71" y="876.9" width="28.65" height="17.8" fill="#ff9a38"/>
<rect x="690.06" y="876.9" width="28.65" height="17.8" fill="#ff8200"/>
<rect x="718.42" y="876.9" width="28.65" height="17.8" fill="#d05800"/>
<rect x="746.77" y="876.9" width="28.65" height="17.8" fill="#a02c00"/>
<rect x="775.12" y="876.9" width="28.65" height="17.8" fill="#780000"/>
<rect x="803.48" y="876.9" width="28.65" height="17.8" fill="#9a0000"/>
<rect x="831.83" y="876.9" width="28.65" height="17.8" fill="#bc0000"/>
<rect x="860.18" y="876.9" width="28.65" height="17.8" fill="#dc0000"/>
<rect x="888.54" y="876.9" width="28.65" height="17.8" fill="#ff0000"/>
<rect x="916.89" y="876.9" width="28.65" height="17.8" fill="#ff7066"/>
<rect x="945.24" y="876.9" width="28.65" height="17.8" fill="#ffaa9c"/>
<rect x="973.59" y="876.9" width="28.65" height="17.8" fill="#ffdcc8"/>
<rect x="1001.95" y="876.9" width="28.65" height="17.8" fill="#ffeeee"/>
<rect x="66.3" y="876.9" width="964.0" height="17.8" fill="none" stroke="#bdbdbd" stroke-width="1"/>
<text x="94.7" y="914.7" font-size="16" text-anchor="middle" fill="#000">-20</text>
<text x="151.4" y="914.7" font-size="16" text-anchor="middle" fill="#000">-10</text>
<text x="208.1" y="914.7" font-size="16" text-anchor="middle" fill="#000">-6</text>
<text x="264.8" y="914.7" font-size="16" text-anchor="middle" fill="#000">-4</text>
<text x="321.5" y="914.7" font-size="16" text-anchor="middle" fill="#000">-3</text>
<text x="378.2" y="914.7" font-size="16" text-anchor="middle" fill="#000">-2</text>
<text x="434.9" y="914.7" font-size="16" text-anchor="middle" fill="#000">-1</text>
<text x="491.6" y="914.7" font-size="16" text-anchor="middle" fill="#000">-0.5</text>
<text x="548.3" y="914.7" font-size="16" text-anchor="middle" fill="#000">0</text>
<text x="605.0" y="914.7" font-size="16" text-anchor="middle" fill="#000">0.5</text>
<text x="661.7" y="914.7" font-size="16" text-anchor="middle" fill="#000">1</text>
<text x="718.4" y="914.7" font-size="16" text-anchor="middle" fill="#000">2</text>
<text x="775.1" y="914.7" font-size="16" text-anchor="middle" fill="#000">3</text>
<text x="831.8" y="914.7" font-size="16" text-anchor="middle" fill="#000">4</text>
<text x="888.5" y="914.7" font-size="16" text-anchor="middle" fill="#000">6</text>
<text x="945.2" y="914.7" font-size="16" text-anchor="middle" fill="#000">10</text>
<text x="1001.9" y="914.7" font-size="16" text-anchor="middle" fill="#000">20</text>
<text x="63.3" y="219.4" font-size="18.6" font-weight="bold" fill="#000">2m Temperature Anomaly (°C)</text>
<text x="63.3" y="240.8" font-size="18.4" fill="#111">October 2025 - 1924-2024</text>
<text x="1033.5" y="219.4" font-size="18.5" font-weight="bold" text-anchor="end" fill="#000">CMIP5 RCP8.5 Ens Avg (1mem)</text>
<text x="548" y="944" font-size="16.77" text-anchor="middle" fill="#111">ClimateReanalyzer.org | Climate Change Institute | University of Maine</text>
<text x="64.2" y="942.5" font-size="7.5" fill="#666">Thu Mar 13 08:24:11 UTC 2025</text>
</svg>
</div>
<div class="footer">
<svg width="64" height="64" viewBox="0 0 64 64">
<defs>
<clipPath id="icclip"><rect x="0" y="0" width="64" height="64" rx="13" ry="13"/></clipPath>
<linearGradient id="icsky" x1="0" y1="0" x2="0.25" y2="1"><stop offset="0" stop-color="#4fb2fb"/><stop offset="0.45" stop-color="#3aa2f8"/><stop offset="0.78" stop-color="#1c86ef"/><stop offset="1" stop-color="#1a80ea"/></linearGradient>
<linearGradient id="icsky2" x1="0" y1="0" x2="1" y2="0"><stop offset="0" stop-color="#2f8ff5" stop-opacity="0.55"/><stop offset="0.5" stop-color="#5cc4ff" stop-opacity="0"/><stop offset="1" stop-color="#62ccff" stop-opacity="0.55"/></linearGradient>
<radialGradient id="icglow" cx="32.4" cy="15" r="24" gradientUnits="userSpaceOnUse"><stop offset="0" stop-color="#fff" stop-opacity="0.6"/><stop offset="0.5" stop-color="#d8f0ff" stop-opacity="0.28"/><stop offset="1" stop-color="#bfe6ff" stop-opacity="0"/></radialGradient>
<linearGradient id="icsun" x1="0" y1="0" x2="1" y2="1"><stop offset="0" stop-color="#ffe55a"/><stop offset="0.6" stop-color="#ffd028"/><stop offset="1" stop-color="#f6b01e"/></linearGradient>
<linearGradient id="iccloud" gradientUnits="userSpaceOnUse" x1="0" y1="13.5" x2="0" y2="32.7"><stop offset="0" stop-color="#ffffff"/><stop offset="0.55" stop-color="#e2f3ff"/><stop offset="1" stop-color="#8fccff"/></linearGradient>
<linearGradient id="icsea" x1="0" y1="0" x2="0" y2="1"><stop offset="0" stop-color="#8ce6fb"/><stop offset="0.25" stop-color="#5fd0f6"/><stop offset="1" stop-color="#38a9ee"/></linearGradient>
<linearGradient id="ichill" x1="0" y1="0" x2="0.3" y2="1"><stop offset="0" stop-color="#7ee283"/><stop offset="1" stop-color="#46c46c"/></linearGradient>
<linearGradient id="ichill2" x1="0" y1="0" x2="0" y2="1"><stop offset="0" stop-color="#5fd475"/><stop offset="1" stop-color="#35b866"/></linearGradient>
<linearGradient id="icroof" x1="0" y1="0" x2="0" y2="1"><stop offset="0" stop-color="#96655f"/><stop offset="1" stop-color="#7d524f"/></linearGradient>
</defs>
<g clip-path="url(#icclip)">
<rect width="64" height="64" fill="url(#icsky)"/>
<rect width="64" height="48" fill="url(#icsky2)"/>
<rect width="64" height="64" fill="url(#icglow)"/>
<path d="M0,45.5 L4,44.3 L8,45.2 L13,43.8 L18,45.4 L24,44.5 L30,43.6 L35,45 L44,44.6 L44,49 L0,49Z" fill="#1a78de" opacity="0.35"/>
<rect x="0" y="47.9" width="46" height="16.1" fill="url(#icsea)"/>
<path d="M0,50.5 H44 M0,53.5 H40" stroke="#aef0ff" stroke-width="0.5" opacity="0.45"/>
<g fill="#fff">
<path d="M48.7,25 a1.9,1.9 0 0 1 2.6,-1.9 a2.6,2.6 0 0 1 4.7,-1.1 a2.1,2.1 0 0 1 3.3,1.3 a1.5,1.5 0 0 1 2,1.7Z" opacity="0.62"/>
<path d="M57.6,18.3 a1.5,1.5 0 0 1 2,-1.4 a2,2 0 0 1 3.6,-0.8 L64,16 V18.3Z" opacity="0.6"/>
<path d="M0.2,40.9 a1.4,1.4 0 0 1 1.8,-1.5 a1.9,1.9 0 0 1 3.3,-0.3 a1.3,1.3 0 0 1 2,1.8Z" opacity="0.3"/>
</g>
<circle cx="32.4" cy="17.2" r="8.6" fill="url(#icsun)"/>
<g stroke="#a9dcff" stroke-width="0.95" stroke-linecap="round" opacity="0.85">
<path d="M13.9,34.2 L12.1,38.7 M18.4,34.2 L16.4,38 M21.6,34.2 L18.4,42.6 M25.4,34.2 L23.6,39.4 M28.9,34.2 L25.8,41.8 M32.1,34.2 L30.6,38.3"/>
</g>
<g fill="url(#iccloud)"><circle cx="9.4" cy="28" r="4.7"/><circle cx="17.7" cy="21" r="7.5"/><circle cx="30" cy="23.6" r="5.8"/><circle cx="36.6" cy="28.5" r="4.3"/><rect x="9.4" y="24" width="27.2" height="8.7"/></g>
<path d="M5,64 C14,58 26,56.5 34,54.5 C40,53 43,50.8 46,50.5 L64,50 V64Z" fill="url(#ichill)"/>
<path d="M30,64 C40,62 50,58 56,54 C59,52 62,51 64,50.6 V64Z" fill="url(#ichill2)"/>
<!-- house -->
<path d="M43.6,43.5 L48.2,37.4 L56.9,44 V55.2 H43.6Z" fill="#fdfdfe"/>
<path d="M56.9,44 H64 V53 L56.9,55.2Z" fill="#e3e5ee"/>
<path d="M48.1,36 H64 V44 H57 Z" fill="url(#icroof)"/>
<path d="M40.6,44 L48.1,36.2" stroke="#8a5c58" stroke-width="1.3" stroke-linecap="round" fill="none"/>
<rect x="48" y="42" width="2.6" height="3.7" fill="#6ea6ea"/>
<rect x="46.9" y="48.4" width="4.8" height="7.4" fill="#dfa06e"/>
<path d="M42,53.2 C44,52.2 45.5,52.8 46.9,53.5 V56.5 H42Z" fill="#62d278"/>
<path d="M51.7,56.5 C54,54.6 57,54 59,52.3 C61,51.2 63,50.8 64,50.6 V58 H51.7Z" fill="#56cd72"/>
</g>
</svg>

<div class="brand">Weather and Climate Tracker</div>
</div>
</body>
</html>
